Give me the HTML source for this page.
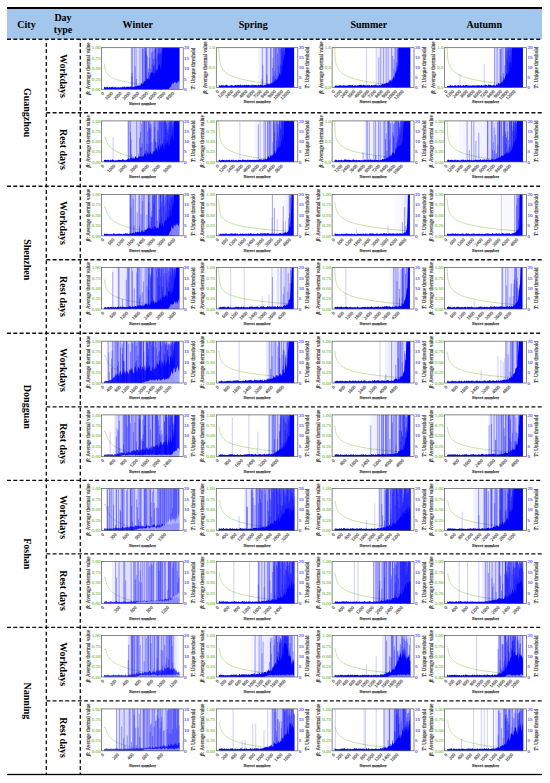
<!DOCTYPE html>
<html><head><meta charset="utf-8"><style>
html,body{margin:0;padding:0;background:#fff;width:550px;height:783px;overflow:hidden}
svg{display:block}
.d path{fill:none;stroke:#00f;stroke-width:.9;stroke-opacity:.4}
.d polygon{fill:#00f;stroke:none}
.d polygon.fl{fill:#fff}
.d path.ex{stroke-opacity:.22}
.gc{fill:none;stroke:#a2d46a;stroke-width:.65}
.lt{font-size:5px;fill:#7cc040;stroke:#9ad060;stroke-width:.15px;text-anchor:end}
.rt{font-size:5px;fill:#4646ff;stroke:#6a6aff;stroke-width:.15px}
.yl{font-size:5.2px;fill:#222;stroke:#555;stroke-width:.18px;text-anchor:middle}
.it{font-style:italic;font-weight:bold}
.xt{font-size:4.6px;fill:#333;stroke:#666;stroke-width:.2px;text-anchor:end}
.xl{font-size:4.8px;fill:#222;stroke:#444;stroke-width:.25px;text-anchor:middle}
</style></head><body>
<svg width="550" height="783" viewBox="0 0 550 783" font-family='"Liberation Serif", serif'>
<rect x="7" y="9.0" width="535" height="30.20" fill="#a3c7ec"/>
<rect x="7" y="7.0" width="535" height="2" fill="#000"/>
<rect x="7" y="773.85" width="535" height="1.3" fill="#000"/>
<text x="26.5" y="27.7" font-family='"Liberation Serif", serif' font-weight="bold" font-size="10" fill="#000" text-anchor="middle">City</text>
<text x="63" y="21.4" font-family='"Liberation Serif", serif' font-weight="bold" font-size="10" fill="#000" text-anchor="middle">Day</text>
<text x="63" y="32.6" font-family='"Liberation Serif", serif' font-weight="bold" font-size="10" fill="#000" text-anchor="middle">type</text>
<text x="137.8" y="27.7" font-family='"Liberation Serif", serif' font-weight="bold" font-size="10" fill="#000" text-anchor="middle">Winter</text>
<text x="253.2" y="27.7" font-family='"Liberation Serif", serif' font-weight="bold" font-size="10" fill="#000" text-anchor="middle">Spring</text>
<text x="368.8" y="27.7" font-family='"Liberation Serif", serif' font-weight="bold" font-size="10" fill="#000" text-anchor="middle">Summer</text>
<text x="484.2" y="27.7" font-family='"Liberation Serif", serif' font-weight="bold" font-size="10" fill="#000" text-anchor="middle">Autumn</text>
<line x1="7" y1="39.20" x2="542" y2="39.20" stroke="#111" stroke-width="1.35" stroke-dasharray="4 2.3"/>
<line x1="46.3" y1="112.72" x2="542" y2="112.72" stroke="#111" stroke-width="1.35" stroke-dasharray="4 2.3"/>
<line x1="7" y1="186.24" x2="542" y2="186.24" stroke="#111" stroke-width="1.35" stroke-dasharray="4 2.3"/>
<line x1="46.3" y1="259.76" x2="542" y2="259.76" stroke="#111" stroke-width="1.35" stroke-dasharray="4 2.3"/>
<line x1="7" y1="333.28" x2="542" y2="333.28" stroke="#111" stroke-width="1.35" stroke-dasharray="4 2.3"/>
<line x1="46.3" y1="406.80" x2="542" y2="406.80" stroke="#111" stroke-width="1.35" stroke-dasharray="4 2.3"/>
<line x1="7" y1="480.32" x2="542" y2="480.32" stroke="#111" stroke-width="1.35" stroke-dasharray="4 2.3"/>
<line x1="46.3" y1="553.84" x2="542" y2="553.84" stroke="#111" stroke-width="1.35" stroke-dasharray="4 2.3"/>
<line x1="7" y1="627.36" x2="542" y2="627.36" stroke="#111" stroke-width="1.35" stroke-dasharray="4 2.3"/>
<line x1="46.3" y1="700.88" x2="542" y2="700.88" stroke="#111" stroke-width="1.35" stroke-dasharray="4 2.3"/>
<line x1="46.30" y1="39.20" x2="46.30" y2="774.00" stroke="#111" stroke-width="1.35" stroke-dasharray="3.8 2.6" stroke-dashoffset="2.7"/>
<line x1="80.30" y1="39.20" x2="80.30" y2="774.00" stroke="#111" stroke-width="1.35" stroke-dasharray="3.8 2.6" stroke-dashoffset="2.7"/>
<text transform="translate(23.6,112.7) rotate(90)" font-family='"Liberation Serif", serif' font-weight="bold" font-size="10" fill="#000" text-anchor="middle">Guangzhou</text>
<text transform="translate(23.6,259.8) rotate(90)" font-family='"Liberation Serif", serif' font-weight="bold" font-size="10" fill="#000" text-anchor="middle">Shenzhen</text>
<text transform="translate(23.6,406.8) rotate(90)" font-family='"Liberation Serif", serif' font-weight="bold" font-size="10" fill="#000" text-anchor="middle">Dongguan</text>
<text transform="translate(23.6,553.8) rotate(90)" font-family='"Liberation Serif", serif' font-weight="bold" font-size="10" fill="#000" text-anchor="middle">Foshan</text>
<text transform="translate(23.6,700.9) rotate(90)" font-family='"Liberation Serif", serif' font-weight="bold" font-size="10" fill="#000" text-anchor="middle">Nanning</text>
<text transform="translate(60.0,76.0) rotate(90)" font-family='"Liberation Serif", serif' font-weight="bold" font-size="10" fill="#000" text-anchor="middle">Workdays</text>
<text transform="translate(60.0,149.5) rotate(90)" font-family='"Liberation Serif", serif' font-weight="bold" font-size="10" fill="#000" text-anchor="middle">Rest days</text>
<text transform="translate(60.0,223.0) rotate(90)" font-family='"Liberation Serif", serif' font-weight="bold" font-size="10" fill="#000" text-anchor="middle">Workdays</text>
<text transform="translate(60.0,296.5) rotate(90)" font-family='"Liberation Serif", serif' font-weight="bold" font-size="10" fill="#000" text-anchor="middle">Rest days</text>
<text transform="translate(60.0,370.0) rotate(90)" font-family='"Liberation Serif", serif' font-weight="bold" font-size="10" fill="#000" text-anchor="middle">Workdays</text>
<text transform="translate(60.0,443.6) rotate(90)" font-family='"Liberation Serif", serif' font-weight="bold" font-size="10" fill="#000" text-anchor="middle">Rest days</text>
<text transform="translate(60.0,517.1) rotate(90)" font-family='"Liberation Serif", serif' font-weight="bold" font-size="10" fill="#000" text-anchor="middle">Workdays</text>
<text transform="translate(60.0,590.6) rotate(90)" font-family='"Liberation Serif", serif' font-weight="bold" font-size="10" fill="#000" text-anchor="middle">Rest days</text>
<text transform="translate(60.0,664.1) rotate(90)" font-family='"Liberation Serif", serif' font-weight="bold" font-size="10" fill="#000" text-anchor="middle">Workdays</text>
<text transform="translate(60.0,737.6) rotate(90)" font-family='"Liberation Serif", serif' font-weight="bold" font-size="10" fill="#000" text-anchor="middle">Rest days</text>
<linearGradient id="w00"><stop offset="0.000" stop-color="#00f" stop-opacity="0.00"/><stop offset="0.340" stop-color="#00f" stop-opacity="0.00"/><stop offset="0.360" stop-color="#00f" stop-opacity="0.08"/><stop offset="0.450" stop-color="#00f" stop-opacity="0.12"/><stop offset="0.550" stop-color="#00f" stop-opacity="0.18"/><stop offset="0.650" stop-color="#00f" stop-opacity="0.23"/><stop offset="0.750" stop-color="#00f" stop-opacity="0.27"/></linearGradient>
<polyline points="104.0,63.5 104.7,66.5 104.7,66.8 104.7,67.1 104.8,67.3 104.8,67.6 104.9,67.8 104.9,68.1 105.0,68.4 105.0,68.6 105.1,68.9 105.2,69.2 105.2,69.4 105.3,69.7 105.4,69.9 105.5,70.2 105.6,70.5 105.7,70.7 105.8,71.0 105.9,71.2 106.0,71.5 106.1,71.8 106.2,72.0 106.4,72.3 106.5,72.6 106.7,72.8 106.8,73.1 107.0,73.3 107.2,73.6 107.4,73.9 107.6,74.1 107.8,74.4 108.1,74.6 108.3,74.9 108.6,75.2 108.9,75.4 109.2,75.7 109.5,76.0 109.8,76.2 110.2,76.5 110.6,76.7 111.0,77.0 111.4,77.3 111.9,77.5 112.4,77.8 112.9,78.1 113.5,78.3 114.1,78.6 114.7,78.8 115.4,79.1 116.1,79.4 116.9,79.6 117.7,79.9 118.5,80.1 119.5,80.4 120.4,80.7 121.5,80.9 122.6,81.2 123.7,81.5 125.0,81.7 126.3,82.0 127.7,82.2 129.2,82.5 130.8,82.8 132.4,83.0 134.2,83.3 136.1,83.6 138.1,83.8 140.3,84.1 142.6,84.3 145.0,84.6 147.6,84.9 150.3,85.1 153.3,85.4 156.4,85.6 159.7,85.9 163.2,86.2 166.9,86.4 170.8,86.7 175.1,87.0 179.5,87.2" class="gc"/>
<g transform="translate(101.60,89.30)" class="d">
<rect x="2.4" y="-41.6" width="75.5" height="41.6" fill="url(#w00)"/>
<polygon fill-opacity="1" points="2.4,0 2.4,-1.7 3.0,-2.5 3.5,-2.4 4.0,-1.8 4.5,-2.1 5.0,-2.1 5.5,-2.3 6.0,-2.5 6.5,-1.6 7.0,-1.6 7.5,-2.6 8.0,-2.1 8.5,-2.5 9.0,-1.5 9.5,-2.1 10.0,-2.5 10.5,-1.8 11.0,-2.8 11.5,-2.7 12.0,-1.6 12.5,-1.6 13.0,-2.3 13.5,-2.8 14.0,-2.1 14.5,-1.9 15.0,-2.1 15.5,-1.6 16.0,-1.9 16.5,-2.2 17.0,-2.2 17.5,-1.9 18.0,-1.9 18.6,-1.9 19.1,-2.2 19.6,-2.0 20.1,-1.6 20.6,-2.7 21.1,-2.4 21.6,-2.5 22.1,-1.9 22.6,-3.0 23.1,-2.8 23.6,-1.8 24.1,-2.1 24.6,-2.6 25.1,-2.6 25.6,-2.9 26.1,-2.2 26.6,-2.8 27.1,-2.6 27.6,-2.1 28.1,-2.5 28.6,-2.9 29.1,-2.9 29.6,-2.4 30.1,-2.5 30.6,-1.7 31.1,-2.0 31.6,-2.8 32.1,-2.3 32.6,-1.9 33.1,-2.6 33.6,-3.1 34.1,-3.2 34.7,-2.8 35.2,-3.1 35.7,-3.4 36.2,-4.1 36.7,-3.8 37.2,-3.7 37.7,-4.2 38.2,-3.2 38.7,-3.4 39.2,-5.4 39.7,-6.5 40.2,-5.6 40.7,-5.2 41.2,-4.7 41.7,-6.0 42.2,-8.4 42.7,-8.1 43.2,-7.7 43.7,-9.7 44.2,-7.2 44.7,-9.1 45.2,-12.1 45.7,-10.5 46.2,-10.3 46.7,-9.5 47.2,-11.8 47.7,-15.3 48.2,-8.9 48.7,-15.2 49.2,-16.1 49.7,-17.2 50.3,-16.6 50.8,-17.8 51.3,-15.7 51.8,-16.6 52.3,-15.8 52.8,-12.6 53.3,-21.3 53.8,-18.8 54.3,-15.4 54.8,-19.5 55.3,-20.0 55.8,-19.1 56.3,-19.7 56.8,-22.8 57.3,-24.7 57.8,-25.3 58.3,-23.9 58.8,-18.2 59.3,-22.1 59.8,-22.4 60.3,-30.5 60.8,-41.6 61.3,-41.6 61.8,-41.6 62.3,-41.6 62.8,-41.6 63.3,-41.6 63.8,-41.6 64.3,-41.6 64.8,-41.6 65.3,-41.6 65.9,-41.6 66.4,-41.6 66.9,-41.6 67.4,-41.6 67.9,-41.6 68.4,-41.6 68.9,-41.6 69.4,-41.6 69.9,-41.6 70.4,-41.6 70.9,-41.6 71.4,-41.6 71.9,-41.6 72.4,-41.6 72.9,-41.6 73.4,-41.6 73.9,-41.6 74.4,-41.6 74.9,-41.6 75.4,-41.6 75.9,-41.6 76.4,-41.6 76.9,-41.6 77.4,-41.6 77.9,-41.6 77.9,0"/>
<path d="M0 0m30.0 .0v-41.6m2.8 41.6v-41.6m5.5 41.6v-41.6m4.3 41.6v-41.6m1.8 41.6v-41.6m2.3 41.6v-17.3m2.3 17.3v-20.6m1.8 20.6v-41.6m1.3 41.6v-23.1m1.3 23.1v-40.0m1.0 40.0v-30.3m1.8 30.3v-35.9m1.0 35.9v-35.8m1.0 35.8v-35.6m1.0 35.6v-35.5m1.0 35.5v-38.7"/>
<path d="M0 0m30.3 .0v-12.9m3.3 12.9v-23.0m7.0 23.0v-41.6m2.8 41.6v-41.6m1.3 41.6v-35.2m2.3 35.2v-21.0m2.3 21.0v-41.6m2.0 41.6v-30.6m1.0 30.6v-30.6m1.3 30.6v-41.6m1.0 41.6v-41.6m1.8 41.6v-32.7m1.0 32.7v-41.0m1.0 41.0v-41.6m1.0 41.6v-37.3m1.0 37.3v-41.6"/>
<path d="M0 0m30.5 .0v-16.5m4.0 16.5v-41.6m6.5 41.6v-40.3m2.8 40.3v-41.6m1.0 41.6v-41.6m3.0 41.6v-41.6m2.3 41.6v-36.9m1.3 36.9v-38.2m1.0 38.2v-41.6m1.3 41.6v-41.6m1.0 41.6v-41.6m1.8 41.6v-41.6m1.0 41.6v-41.6m1.0 41.6v-35.9m1.0 35.9v-41.6m1.0 41.6v-41.4"/>
<path d="M0 0m30.8 .0v-41.6m4.0 41.6v-10.3m6.8 10.3v-40.7m2.5 40.7v-38.6m1.8 38.6v-33.0m2.3 33.0v-31.9m2.3 31.9v-25.0m1.3 25.0v-23.8m1.0 23.8v-25.2m1.3 25.2v-41.6m1.8 41.6v-41.6m1.0 41.6v-41.6m1.0 41.6v-41.6m1.0 41.6v-41.6m1.0 41.6v-41.6m1.0 41.6v-41.6"/>
<polygon class="fl" fill-opacity="0.5" points="2.4,0 2.4,0.0 3.0,-0.0 3.5,-0.0 4.0,-0.0 4.5,-0.0 5.0,-0.0 5.5,-0.0 6.0,-0.0 6.5,-0.0 7.0,-0.0 7.5,-0.0 8.0,-0.0 8.5,-0.0 9.0,-0.0 9.5,-0.0 10.0,-0.0 10.5,-0.0 11.0,-0.0 11.5,-0.0 12.0,-0.0 12.5,-0.0 13.0,-0.0 13.5,-0.0 14.0,-0.0 14.5,-0.0 15.0,-0.0 15.5,-0.0 16.0,-0.0 16.5,-0.0 17.0,-0.0 17.5,-0.0 18.0,-0.0 18.6,-0.0 19.1,-0.0 19.6,-0.0 20.1,-0.0 20.6,-0.0 21.1,-0.0 21.6,-0.0 22.1,-0.0 22.6,-0.0 23.1,-0.0 23.6,-0.0 24.1,-0.0 24.6,-0.0 25.1,-0.0 25.6,-0.0 26.1,-0.0 26.6,-0.0 27.1,-0.0 27.6,-0.0 28.1,-0.0 28.6,-0.0 29.1,-0.0 29.6,-0.0 30.1,-0.0 30.6,-0.0 31.1,-0.0 31.6,-0.0 32.1,-0.0 32.6,-0.0 33.1,-0.0 33.6,-0.0 34.1,-0.0 34.7,-0.0 35.2,-0.0 35.7,-0.0 36.2,-0.0 36.7,-0.0 37.2,-0.0 37.7,-0.0 38.2,-0.0 38.7,-0.0 39.2,-0.0 39.7,-0.0 40.2,-0.0 40.7,-0.0 41.2,-0.0 41.7,-0.0 42.2,-0.0 42.7,-0.0 43.2,-0.0 43.7,-0.0 44.2,-0.0 44.7,-0.0 45.2,-0.0 45.7,-0.0 46.2,-0.0 46.7,-0.0 47.2,-0.0 47.7,-0.0 48.2,-0.0 48.7,-0.0 49.2,-0.0 49.7,-0.0 50.3,-0.0 50.8,-0.0 51.3,-0.0 51.8,-0.0 52.3,-0.0 52.8,-0.0 53.3,-0.0 53.8,-0.0 54.3,-0.0 54.8,-0.0 55.3,-0.0 55.8,-0.0 56.3,-0.0 56.8,-0.0 57.3,-0.0 57.8,-0.0 58.3,-0.0 58.8,-0.0 59.3,-0.0 59.8,-0.0 60.3,-0.0 60.8,-0.0 61.3,-0.0 61.8,-0.0 62.3,-0.0 62.8,-0.0 63.3,-0.0 63.8,-0.0 64.3,-0.0 64.8,-0.0 65.3,-0.0 65.9,-0.0 66.4,-0.0 66.9,-0.2 67.4,-0.8 67.9,-1.5 68.4,-1.8 68.9,-2.8 69.4,-2.7 69.9,-4.4 70.4,-5.4 70.9,-5.8 71.4,-6.8 71.9,-5.7 72.4,-5.8 72.9,-7.6 73.4,-7.7 73.9,-7.1 74.4,-6.6 74.9,-6.4 75.4,-5.5 75.9,-9.0 76.4,-5.6 76.9,-8.7 77.4,-7.7 77.9,-9.8 78.5,0"/>
</g>
<rect x="101.60" y="47.70" width="81.60" height="41.60" fill="none" stroke="#555" stroke-width="0.7"/>
<text x="100.4" y="49.4" class="lt">1.00</text>
<text x="100.4" y="59.8" class="lt">0.75</text>
<text x="100.4" y="70.2" class="lt">0.50</text>
<text x="100.4" y="80.6" class="lt">0.25</text>
<text x="100.4" y="91.0" class="lt">0.00</text>
<text x="184.1" y="49.4" class="rt">20</text>
<text x="184.1" y="59.8" class="rt">15</text>
<text x="184.1" y="70.2" class="rt">10</text>
<text x="184.1" y="80.6" class="rt">5</text>
<text x="184.1" y="91.0" class="rt">0</text>
<text transform="translate(89.6,68.5) rotate(-90)" class="yl"><tspan class="it">β</tspan>: Average thermal value</text>
<text transform="translate(194.7,68.5) rotate(-90)" class="yl"><tspan class="it">T</tspan>: Unique threshold</text>
<text transform="translate(104.4,93.7) rotate(-45)" class="xt">0</text>
<text transform="translate(113.2,93.7) rotate(-45)" class="xt">1000</text>
<text transform="translate(121.9,93.7) rotate(-45)" class="xt">2000</text>
<text transform="translate(130.7,93.7) rotate(-45)" class="xt">3000</text>
<text transform="translate(139.4,93.7) rotate(-45)" class="xt">4000</text>
<text transform="translate(148.1,93.7) rotate(-45)" class="xt">5000</text>
<text transform="translate(156.9,93.7) rotate(-45)" class="xt">6000</text>
<text transform="translate(165.6,93.7) rotate(-45)" class="xt">7000</text>
<text transform="translate(174.3,93.7) rotate(-45)" class="xt">8000</text>
<text x="142.4" y="105.3" class="xl">Street number</text>
<linearGradient id="w01"><stop offset="0.000" stop-color="#00f" stop-opacity="0.00"/><stop offset="0.520" stop-color="#00f" stop-opacity="0.00"/><stop offset="0.530" stop-color="#00f" stop-opacity="0.05"/><stop offset="0.600" stop-color="#00f" stop-opacity="0.09"/><stop offset="0.700" stop-color="#00f" stop-opacity="0.14"/><stop offset="0.780" stop-color="#00f" stop-opacity="0.22"/><stop offset="0.850" stop-color="#00f" stop-opacity="0.27"/></linearGradient>
<polyline points="218.7,47.7 219.3,58.6 219.4,58.9 219.4,59.3 219.5,59.6 219.5,59.9 219.6,60.3 219.6,60.6 219.7,61.0 219.7,61.3 219.8,61.7 219.9,62.0 219.9,62.4 220.0,62.7 220.1,63.1 220.2,63.4 220.3,63.8 220.3,64.1 220.4,64.5 220.6,64.8 220.7,65.2 220.8,65.5 220.9,65.8 221.1,66.2 221.2,66.5 221.4,66.9 221.5,67.2 221.7,67.6 221.9,67.9 222.1,68.3 222.3,68.6 222.5,69.0 222.8,69.3 223.0,69.7 223.3,70.0 223.6,70.4 223.9,70.7 224.2,71.1 224.5,71.4 224.9,71.7 225.3,72.1 225.7,72.4 226.1,72.8 226.6,73.1 227.1,73.5 227.6,73.8 228.2,74.2 228.8,74.5 229.4,74.9 230.1,75.2 230.8,75.6 231.6,75.9 232.4,76.3 233.2,76.6 234.1,76.9 235.1,77.3 236.1,77.6 237.2,78.0 238.4,78.3 239.6,78.7 240.9,79.0 242.3,79.4 243.8,79.7 245.4,80.1 247.1,80.4 248.9,80.8 250.8,81.1 252.8,81.5 255.0,81.8 257.2,82.2 259.7,82.5 262.2,82.8 265.0,83.2 267.9,83.5 271.0,83.9 274.3,84.2 277.8,84.6 281.5,84.9 285.5,85.3 289.7,85.6 294.1,86.0" class="gc"/>
<g transform="translate(216.30,87.40)" class="d">
<rect x="2.4" y="-39.7" width="75.4" height="39.7" fill="url(#w01)"/>
<polygon fill-opacity="1" points="2.4,0 2.4,-2.5 2.9,-2.5 3.5,-1.5 4.0,-1.5 4.5,-2.4 5.0,-2.3 5.5,-2.2 6.0,-1.8 6.5,-2.2 7.0,-2.2 7.5,-2.1 8.0,-1.6 8.5,-2.0 9.0,-1.9 9.5,-2.3 10.0,-2.7 10.5,-2.6 11.0,-2.1 11.5,-2.0 12.0,-1.8 12.5,-1.5 13.0,-1.5 13.5,-2.0 14.0,-1.9 14.5,-1.9 15.0,-2.6 15.5,-2.1 16.0,-2.2 16.5,-1.8 17.0,-1.5 17.5,-1.9 18.0,-1.7 18.5,-2.1 19.0,-2.7 19.5,-2.3 20.0,-1.7 20.5,-2.6 21.0,-2.5 21.5,-2.4 22.0,-2.6 22.5,-2.5 23.1,-2.5 23.6,-2.0 24.1,-2.8 24.6,-2.7 25.1,-1.7 25.6,-2.5 26.1,-2.4 26.6,-2.1 27.1,-2.2 27.6,-2.2 28.1,-2.7 28.6,-2.2 29.1,-2.6 29.6,-2.0 30.1,-2.7 30.6,-2.7 31.1,-2.1 31.6,-2.3 32.1,-2.7 32.6,-2.5 33.1,-2.2 33.6,-1.8 34.1,-2.0 34.6,-2.5 35.1,-1.8 35.6,-2.8 36.1,-1.9 36.6,-2.8 37.1,-2.0 37.6,-2.8 38.1,-2.5 38.6,-2.2 39.1,-2.3 39.6,-2.4 40.1,-2.4 40.6,-2.0 41.1,-1.9 41.6,-2.3 42.1,-2.8 42.7,-2.4 43.2,-1.7 43.7,-2.7 44.2,-2.6 44.7,-2.8 45.2,-1.9 45.7,-2.6 46.2,-1.7 46.7,-2.5 47.2,-2.0 47.7,-1.9 48.2,-3.0 48.7,-2.0 49.2,-2.7 49.7,-3.4 50.2,-2.5 50.7,-2.6 51.2,-4.0 51.7,-3.2 52.2,-3.9 52.7,-2.6 53.2,-3.5 53.7,-3.1 54.2,-4.4 54.7,-3.1 55.2,-5.5 55.7,-3.4 56.2,-6.0 56.7,-4.1 57.2,-5.3 57.7,-7.9 58.2,-5.7 58.7,-6.2 59.2,-9.0 59.7,-8.0 60.2,-6.6 60.7,-12.3 61.2,-8.0 61.7,-7.9 62.3,-10.6 62.8,-13.3 63.3,-15.1 63.8,-10.8 64.3,-13.4 64.8,-11.3 65.3,-15.9 65.8,-19.9 66.3,-22.3 66.8,-27.0 67.3,-27.7 67.8,-32.0 68.3,-32.1 68.8,-39.7 69.3,-39.7 69.8,-39.7 70.3,-39.7 70.8,-39.7 71.3,-39.7 71.8,-39.7 72.3,-39.7 72.8,-39.7 73.3,-39.7 73.8,-39.7 74.3,-39.7 74.8,-39.7 75.3,-39.7 75.8,-39.7 76.3,-39.7 76.8,-39.7 77.3,-39.7 77.8,-39.7 77.8,0"/>
<path d="M0 0m45.8 .0v-8.3m4.8 8.3v-12.8m5.8 12.8v-19.4m1.5 19.4v-11.6m1.8 11.6v-39.7m2.3 39.7v-21.7m2.0 21.7v-38.1m1.0 38.1v-39.5m1.0 39.5v-39.7m1.0 39.7v-39.7m1.0 39.7v-39.3"/>
<path d="M0 0m46.0 .0v-39.7m4.8 39.7v-39.7m5.8 39.7v-10.9m1.5 10.9v-39.7m1.8 39.7v-39.7m2.3 39.7v-39.7m2.0 39.7v-21.9m1.0 21.9v-39.7m1.0 39.7v-36.3m1.0 36.3v-39.7m1.0 39.7v-39.7"/>
<path d="M0 0m46.5 .0v-21.7m7.8 21.7v-39.7m2.5 39.7v-29.3m1.8 29.3v-16.0m2.5 16.0v-33.9m2.3 33.9v-39.7m1.0 39.7v-23.4m1.0 23.4v-39.7m1.0 39.7v-39.7m1.0 39.7v-37.1"/>
<path d="M0 0m50.0 .0v-39.7m4.8 39.7v-39.7m2.3 39.7v-39.7m2.0 39.7v-39.7m2.5 39.7v-39.7m2.0 39.7v-39.7m1.0 39.7v-39.7m1.0 39.7v-30.5m1.0 30.5v-39.7m1.0 39.7v-39.7"/>
</g>
<rect x="216.30" y="47.70" width="81.50" height="39.70" fill="none" stroke="#555" stroke-width="0.7"/>
<text x="215.1" y="49.4" class="lt">1.0</text>
<text x="215.1" y="69.3" class="lt">0.5</text>
<text x="215.1" y="89.1" class="lt">0.0</text>
<text x="298.7" y="49.4" class="rt">20</text>
<text x="298.7" y="59.3" class="rt">15</text>
<text x="298.7" y="69.3" class="rt">10</text>
<text x="298.7" y="79.2" class="rt">5</text>
<text x="298.7" y="89.1" class="rt">0</text>
<text transform="translate(206.7,67.6) rotate(-90)" class="yl"><tspan class="it">β</tspan>: Average thermal value</text>
<text transform="translate(309.3,67.6) rotate(-90)" class="yl"><tspan class="it">T</tspan>: Unique threshold</text>
<text transform="translate(219.1,91.8) rotate(-45)" class="xt">0</text>
<text transform="translate(226.3,91.8) rotate(-45)" class="xt">1200</text>
<text transform="translate(233.4,91.8) rotate(-45)" class="xt">2400</text>
<text transform="translate(240.5,91.8) rotate(-45)" class="xt">3600</text>
<text transform="translate(247.6,91.8) rotate(-45)" class="xt">4800</text>
<text transform="translate(254.8,91.8) rotate(-45)" class="xt">6000</text>
<text transform="translate(261.9,91.8) rotate(-45)" class="xt">7200</text>
<text transform="translate(269.0,91.8) rotate(-45)" class="xt">8400</text>
<text transform="translate(276.1,91.8) rotate(-45)" class="xt">9600</text>
<text transform="translate(283.3,91.8) rotate(-45)" class="xt">10800</text>
<text transform="translate(290.4,91.8) rotate(-45)" class="xt">12000</text>
<text x="257.1" y="103.4" class="xl">Street number</text>
<linearGradient id="w02"><stop offset="0.000" stop-color="#00f" stop-opacity="0.00"/><stop offset="0.540" stop-color="#00f" stop-opacity="0.00"/><stop offset="0.550" stop-color="#00f" stop-opacity="0.03"/><stop offset="0.600" stop-color="#00f" stop-opacity="0.09"/><stop offset="0.720" stop-color="#00f" stop-opacity="0.10"/><stop offset="0.800" stop-color="#00f" stop-opacity="0.18"/><stop offset="0.860" stop-color="#00f" stop-opacity="0.30"/></linearGradient>
<polyline points="334.6,47.7 335.2,58.5 335.2,58.9 335.2,59.2 335.3,59.6 335.3,60.0 335.4,60.3 335.4,60.7 335.5,61.0 335.5,61.4 335.6,61.7 335.7,62.1 335.7,62.4 335.8,62.8 335.9,63.1 336.0,63.5 336.1,63.9 336.2,64.2 336.3,64.6 336.4,64.9 336.5,65.3 336.6,65.6 336.7,66.0 336.9,66.3 337.0,66.7 337.2,67.0 337.4,67.4 337.5,67.8 337.7,68.1 337.9,68.5 338.1,68.8 338.3,69.2 338.6,69.5 338.8,69.9 339.1,70.2 339.4,70.6 339.7,70.9 340.0,71.3 340.4,71.6 340.7,72.0 341.1,72.4 341.5,72.7 342.0,73.1 342.5,73.4 342.9,73.8 343.5,74.1 344.0,74.5 344.6,74.8 345.3,75.2 345.9,75.5 346.7,75.9 347.4,76.3 348.2,76.6 349.1,77.0 350.0,77.3 351.0,77.7 352.0,78.0 353.1,78.4 354.3,78.7 355.5,79.1 356.9,79.4 358.3,79.8 359.8,80.2 361.4,80.5 363.0,80.9 364.8,81.2 366.8,81.6 368.8,81.9 370.9,82.3 373.2,82.6 375.7,83.0 378.3,83.3 381.0,83.7 383.9,84.0 387.1,84.4 390.4,84.8 393.9,85.1 397.6,85.5 401.6,85.8 405.8,86.2 410.3,86.5" class="gc"/>
<g transform="translate(332.10,87.40)" class="d">
<rect x="2.5" y="-39.7" width="75.8" height="39.7" fill="url(#w02)"/>
<polygon fill-opacity="1" points="2.5,0 2.5,-1.6 3.0,-1.9 3.5,-1.7 4.0,-2.0 4.5,-2.0 5.0,-1.4 5.5,-1.3 6.0,-2.2 6.5,-1.6 7.0,-1.6 7.5,-2.4 8.0,-1.8 8.5,-2.2 9.0,-1.8 9.5,-2.0 10.0,-1.5 10.5,-2.0 11.0,-2.3 11.5,-1.9 12.0,-2.1 12.5,-2.0 13.0,-1.4 13.5,-2.1 14.0,-2.0 14.5,-1.7 15.0,-1.4 15.5,-2.3 16.0,-1.9 16.5,-2.1 17.0,-2.3 17.5,-2.2 18.0,-2.4 18.5,-1.8 19.0,-2.3 19.5,-1.9 20.0,-2.4 20.5,-2.4 21.0,-1.5 21.5,-1.5 22.0,-1.6 22.5,-2.5 23.0,-1.9 23.5,-2.1 24.0,-1.8 24.5,-2.0 25.0,-1.9 25.5,-1.8 26.0,-2.1 26.5,-2.1 27.0,-2.5 27.5,-2.3 28.0,-2.6 28.5,-2.5 29.0,-2.7 29.5,-2.3 30.1,-1.7 30.6,-2.5 31.1,-2.7 31.6,-2.6 32.1,-2.2 32.6,-2.4 33.1,-1.7 33.6,-2.5 34.1,-2.2 34.6,-1.9 35.1,-1.6 35.6,-2.6 36.1,-2.8 36.6,-1.6 37.1,-2.5 37.6,-2.1 38.1,-1.7 38.6,-1.9 39.1,-2.5 39.6,-2.7 40.1,-1.6 40.6,-2.4 41.1,-1.6 41.6,-2.5 42.1,-2.0 42.6,-2.7 43.1,-2.9 43.6,-2.2 44.1,-2.9 44.6,-2.0 45.1,-1.7 45.6,-2.4 46.1,-1.6 46.6,-1.9 47.1,-2.2 47.6,-2.4 48.1,-1.9 48.6,-1.8 49.1,-3.2 49.6,-2.4 50.1,-3.7 50.6,-3.7 51.1,-2.9 51.6,-3.2 52.1,-3.5 52.6,-3.8 53.1,-3.9 53.6,-3.9 54.1,-4.2 54.6,-5.1 55.1,-4.2 55.6,-4.3 56.1,-5.6 56.6,-4.6 57.1,-5.2 57.6,-8.1 58.1,-6.9 58.6,-7.5 59.1,-5.5 59.7,-7.8 60.2,-9.1 60.7,-6.6 61.2,-10.3 61.7,-11.1 62.2,-8.5 62.7,-13.6 63.2,-13.6 63.7,-16.6 64.2,-14.8 64.7,-19.9 65.2,-23.5 65.7,-16.8 66.2,-19.5 66.7,-39.7 67.2,-39.7 67.7,-39.7 68.2,-39.7 68.7,-39.7 69.2,-39.7 69.7,-39.7 70.2,-39.7 70.7,-39.7 71.2,-39.7 71.7,-39.7 72.2,-39.7 72.7,-39.7 73.2,-39.7 73.7,-39.7 74.2,-39.7 74.7,-39.7 75.2,-39.7 75.7,-39.7 76.2,-39.7 76.7,-39.7 77.2,-39.7 77.7,-39.7 78.2,-39.7 78.2,0"/>
<path class="ex" d="M34.3 0v-39.7M44.1 0v-39.7"/>
<path d="M0 0m46.7 .0v-30.0m9.3 30.0v-39.7m6.0 39.7v-28.1m3.5 28.1v-38.5m1.0 38.5v-39.7"/>
<path d="M0 0m48.7 .0v-39.7m10.8 39.7v-39.7m3.5 39.7v-39.7m2.8 39.7v-39.7"/>
<path d="M0 0m51.5 .0v-39.7m9.0 39.7v-31.4m3.5 31.4v-39.7m2.0 39.7v-39.7"/>
<path d="M0 0m54.0 .0v-39.7m7.8 39.7v-18.8m2.5 18.8v-25.5m2.0 25.5v-39.7"/>
</g>
<rect x="332.10" y="47.70" width="81.90" height="39.70" fill="none" stroke="#555" stroke-width="0.7"/>
<text x="330.9" y="49.4" class="lt">1.0</text>
<text x="330.9" y="69.3" class="lt">0.5</text>
<text x="330.9" y="89.1" class="lt">0.0</text>
<text x="414.9" y="49.4" class="rt">20</text>
<text x="414.9" y="59.3" class="rt">15</text>
<text x="414.9" y="69.3" class="rt">10</text>
<text x="414.9" y="79.2" class="rt">5</text>
<text x="414.9" y="89.1" class="rt">0</text>
<text transform="translate(322.5,67.6) rotate(-90)" class="yl"><tspan class="it">β</tspan>: Average thermal value</text>
<text transform="translate(425.5,67.6) rotate(-90)" class="yl"><tspan class="it">T</tspan>: Unique threshold</text>
<text transform="translate(335.0,91.8) rotate(-45)" class="xt">0</text>
<text transform="translate(341.9,91.8) rotate(-45)" class="xt">1200</text>
<text transform="translate(348.7,91.8) rotate(-45)" class="xt">2400</text>
<text transform="translate(355.6,91.8) rotate(-45)" class="xt">3600</text>
<text transform="translate(362.5,91.8) rotate(-45)" class="xt">4800</text>
<text transform="translate(369.4,91.8) rotate(-45)" class="xt">6000</text>
<text transform="translate(376.3,91.8) rotate(-45)" class="xt">7200</text>
<text transform="translate(383.2,91.8) rotate(-45)" class="xt">8400</text>
<text transform="translate(390.1,91.8) rotate(-45)" class="xt">9600</text>
<text transform="translate(397.0,91.8) rotate(-45)" class="xt">10800</text>
<text transform="translate(403.9,91.8) rotate(-45)" class="xt">12000</text>
<text x="373.1" y="103.4" class="xl">Street number</text>
<linearGradient id="w03"><stop offset="0.000" stop-color="#00f" stop-opacity="0.00"/><stop offset="0.610" stop-color="#00f" stop-opacity="0.00"/><stop offset="0.620" stop-color="#00f" stop-opacity="0.10"/><stop offset="0.700" stop-color="#00f" stop-opacity="0.15"/><stop offset="0.750" stop-color="#00f" stop-opacity="0.20"/><stop offset="0.800" stop-color="#00f" stop-opacity="0.27"/></linearGradient>
<polyline points="447.1,47.7 447.7,57.1 447.7,57.4 447.7,57.8 447.8,58.2 447.8,58.5 447.9,58.9 447.9,59.2 448.0,59.6 448.0,60.0 448.1,60.3 448.2,60.7 448.2,61.1 448.3,61.4 448.4,61.8 448.5,62.2 448.6,62.5 448.7,62.9 448.8,63.2 448.9,63.6 449.0,64.0 449.1,64.3 449.3,64.7 449.4,65.1 449.5,65.4 449.7,65.8 449.9,66.2 450.0,66.5 450.2,66.9 450.4,67.3 450.6,67.6 450.9,68.0 451.1,68.3 451.3,68.7 451.6,69.1 451.9,69.4 452.2,69.8 452.5,70.2 452.9,70.5 453.2,70.9 453.6,71.3 454.1,71.6 454.5,72.0 455.0,72.3 455.5,72.7 456.0,73.1 456.6,73.4 457.2,73.8 457.8,74.2 458.5,74.5 459.2,74.9 459.9,75.3 460.8,75.6 461.6,76.0 462.5,76.3 463.5,76.7 464.6,77.1 465.7,77.4 466.8,77.8 468.1,78.2 469.4,78.5 470.8,78.9 472.3,79.3 473.9,79.6 475.6,80.0 477.4,80.4 479.3,80.7 481.3,81.1 483.5,81.4 485.8,81.8 488.2,82.2 490.8,82.5 493.6,82.9 496.5,83.3 499.6,83.6 502.9,84.0 506.5,84.4 510.2,84.7 514.2,85.1 518.4,85.4 522.9,85.8" class="gc"/>
<g transform="translate(444.60,87.40)" class="d">
<rect x="2.5" y="-39.7" width="75.9" height="39.7" fill="url(#w03)"/>
<polygon fill-opacity="1" points="2.5,0 2.5,-1.6 3.0,-1.4 3.5,-1.7 4.0,-1.5 4.5,-1.4 5.0,-1.7 5.5,-2.3 6.0,-2.2 6.5,-2.1 7.0,-1.6 7.5,-1.9 8.0,-1.6 8.5,-1.5 9.0,-1.4 9.5,-1.5 10.0,-2.3 10.5,-2.2 11.0,-2.2 11.5,-2.2 12.0,-1.5 12.5,-1.6 13.0,-2.0 13.5,-2.1 14.0,-2.2 14.5,-2.3 15.0,-1.4 15.5,-2.0 16.0,-2.1 16.5,-1.9 17.0,-1.5 17.5,-1.9 18.0,-1.4 18.5,-2.4 19.0,-2.3 19.5,-2.0 20.0,-1.7 20.5,-2.4 21.0,-2.0 21.5,-2.4 22.1,-2.4 22.6,-2.0 23.1,-1.9 23.6,-2.1 24.1,-1.9 24.6,-1.6 25.1,-1.8 25.6,-2.4 26.1,-1.5 26.6,-1.5 27.1,-2.2 27.6,-1.8 28.1,-2.1 28.6,-2.0 29.1,-1.8 29.6,-2.6 30.1,-1.7 30.6,-1.9 31.1,-1.7 31.6,-2.2 32.1,-1.8 32.6,-1.9 33.1,-2.4 33.6,-1.9 34.1,-2.2 34.6,-2.6 35.1,-1.6 35.6,-1.6 36.1,-1.8 36.6,-2.5 37.1,-2.3 37.6,-1.8 38.1,-1.9 38.6,-1.7 39.1,-2.1 39.6,-1.6 40.1,-2.4 40.6,-2.7 41.1,-2.8 41.6,-2.5 42.1,-2.8 42.6,-1.6 43.1,-1.9 43.7,-2.8 44.2,-2.6 44.7,-2.1 45.2,-2.8 45.7,-2.4 46.2,-2.7 46.7,-2.0 47.2,-1.8 47.7,-2.2 48.2,-1.8 48.7,-2.1 49.2,-2.9 49.7,-2.1 50.2,-1.6 50.7,-1.7 51.2,-1.9 51.7,-3.1 52.2,-2.7 52.7,-2.9 53.2,-2.7 53.7,-4.9 54.2,-3.9 54.7,-3.6 55.2,-3.5 55.7,-3.7 56.2,-4.2 56.7,-6.1 57.2,-4.7 57.7,-4.8 58.2,-7.1 58.7,-6.7 59.2,-10.9 59.7,-7.1 60.2,-9.9 60.7,-12.0 61.2,-10.4 61.7,-15.1 62.2,-12.7 62.7,-11.9 63.2,-14.3 63.7,-11.8 64.2,-16.6 64.7,-15.8 65.2,-24.2 65.8,-25.9 66.3,-24.0 66.8,-19.1 67.3,-39.7 67.8,-39.7 68.3,-39.7 68.8,-39.7 69.3,-39.7 69.8,-39.7 70.3,-39.7 70.8,-39.7 71.3,-39.7 71.8,-39.7 72.3,-39.7 72.8,-39.7 73.3,-39.7 73.8,-39.7 74.3,-39.7 74.8,-39.7 75.3,-39.7 75.8,-39.7 76.3,-39.7 76.8,-39.7 77.3,-39.7 77.8,-39.7 78.3,-39.7 78.3,0"/>
<path class="ex" d="M15.4 0v-13.5M39.6 0v-23.8"/>
<path d="M0 0m50.0 .0v-39.7m6.3 39.7v-11.5m4.0 11.5v-22.2m1.8 22.2v-39.7m1.0 39.7v-26.4m1.0 26.4v-39.7m1.0 39.7v-39.7m1.0 39.7v-31.9m1.0 31.9v-39.7"/>
<path d="M0 0m52.5 .0v-39.7m4.5 39.7v-39.7m4.0 39.7v-39.7m1.3 39.7v-29.3m1.0 29.3v-39.7m1.0 39.7v-25.3m1.0 25.3v-39.7m1.0 39.7v-39.7"/>
<path d="M0 0m55.5 .0v-38.3m2.8 38.3v-39.7m3.0 39.7v-39.7m1.3 39.7v-36.1m1.0 36.1v-39.7m1.0 39.7v-39.7m1.0 39.7v-39.7m1.0 39.7v-37.4"/>
<path d="M0 0m55.8 .0v-38.4m3.0 38.4v-14.3m2.8 14.3v-39.7m1.3 39.7v-39.7m1.0 39.7v-37.7m1.0 37.7v-31.7m1.0 31.7v-39.7m1.0 39.7v-39.7"/>
</g>
<rect x="444.60" y="47.70" width="82.00" height="39.70" fill="none" stroke="#555" stroke-width="0.7"/>
<text x="443.4" y="49.4" class="lt">1.0</text>
<text x="443.4" y="69.3" class="lt">0.5</text>
<text x="443.4" y="89.1" class="lt">0.0</text>
<text x="527.5" y="49.4" class="rt">20</text>
<text x="527.5" y="59.3" class="rt">15</text>
<text x="527.5" y="69.3" class="rt">10</text>
<text x="527.5" y="79.2" class="rt">5</text>
<text x="527.5" y="89.1" class="rt">0</text>
<text transform="translate(435.0,67.6) rotate(-90)" class="yl"><tspan class="it">β</tspan>: Average thermal value</text>
<text transform="translate(538.1,67.6) rotate(-90)" class="yl"><tspan class="it">T</tspan>: Unique threshold</text>
<text transform="translate(447.5,91.8) rotate(-45)" class="xt">0</text>
<text transform="translate(454.3,91.8) rotate(-45)" class="xt">1200</text>
<text transform="translate(461.1,91.8) rotate(-45)" class="xt">2400</text>
<text transform="translate(467.9,91.8) rotate(-45)" class="xt">3600</text>
<text transform="translate(474.8,91.8) rotate(-45)" class="xt">4800</text>
<text transform="translate(481.6,91.8) rotate(-45)" class="xt">6000</text>
<text transform="translate(488.4,91.8) rotate(-45)" class="xt">7200</text>
<text transform="translate(495.2,91.8) rotate(-45)" class="xt">8400</text>
<text transform="translate(502.1,91.8) rotate(-45)" class="xt">9600</text>
<text transform="translate(508.9,91.8) rotate(-45)" class="xt">10800</text>
<text transform="translate(515.7,91.8) rotate(-45)" class="xt">12000</text>
<text x="485.6" y="103.4" class="xl">Street number</text>
<linearGradient id="w10"><stop offset="0.000" stop-color="#00f" stop-opacity="0.00"/><stop offset="0.310" stop-color="#00f" stop-opacity="0.00"/><stop offset="0.320" stop-color="#00f" stop-opacity="0.15"/><stop offset="0.550" stop-color="#00f" stop-opacity="0.20"/><stop offset="0.760" stop-color="#00f" stop-opacity="0.23"/><stop offset="0.900" stop-color="#00f" stop-opacity="0.28"/></linearGradient>
<polyline points="104.0,137.3 104.7,137.3 104.7,137.3 104.7,137.3 104.8,137.3 104.8,137.3 104.9,137.3 104.9,137.3 105.0,137.3 105.0,137.3 105.1,137.3 105.2,137.3 105.2,137.3 105.3,137.3 105.4,137.3 105.5,137.6 105.6,138.0 105.7,138.4 105.8,138.8 105.9,139.2 106.0,139.6 106.1,139.9 106.2,140.3 106.4,140.7 106.5,141.1 106.7,141.5 106.8,141.9 107.0,142.3 107.2,142.7 107.4,143.1 107.6,143.5 107.8,143.9 108.1,144.2 108.3,144.6 108.6,145.0 108.9,145.4 109.2,145.8 109.5,146.2 109.8,146.6 110.2,147.0 110.6,147.4 111.0,147.8 111.4,148.2 111.9,148.5 112.4,148.9 112.9,149.3 113.5,149.7 114.1,150.1 114.7,150.5 115.4,150.9 116.1,151.3 116.9,151.7 117.7,152.1 118.5,152.5 119.5,152.8 120.4,153.2 121.5,153.6 122.6,154.0 123.7,154.4 125.0,154.8 126.3,155.2 127.7,155.6 129.2,156.0 130.8,156.4 132.4,156.8 134.2,157.1 136.1,157.5 138.1,157.9 140.3,158.3 142.6,158.7 145.0,159.1 147.6,159.5 150.3,159.9 153.3,160.3 156.4,160.7 159.7,161.1 163.2,161.4 166.9,161.8 170.8,161.9 175.1,161.9 179.5,161.9" class="gc"/>
<g transform="translate(101.60,161.90)" class="d">
<rect x="2.4" y="-41.0" width="75.5" height="41.0" fill="url(#w10)"/>
<polygon fill-opacity="1" points="2.4,0 2.4,-1.9 3.0,-2.0 3.5,-2.4 4.0,-1.9 4.5,-1.9 5.0,-2.0 5.5,-1.6 6.0,-1.9 6.5,-2.1 7.0,-2.2 7.5,-1.5 8.0,-1.7 8.5,-1.5 9.0,-2.3 9.5,-2.1 10.0,-1.4 10.5,-2.5 11.0,-2.4 11.5,-2.1 12.0,-2.0 12.5,-1.5 13.0,-1.4 13.5,-2.0 14.0,-1.4 14.5,-1.6 15.0,-1.6 15.5,-1.4 16.0,-1.9 16.5,-1.9 17.0,-2.4 17.5,-2.0 18.0,-2.1 18.6,-2.0 19.1,-2.2 19.6,-2.0 20.1,-1.7 20.6,-2.6 21.1,-2.6 21.6,-2.4 22.1,-2.3 22.6,-1.8 23.1,-1.7 23.6,-1.8 24.1,-1.5 24.6,-2.4 25.1,-2.0 25.6,-2.9 26.1,-2.5 26.6,-3.8 27.1,-3.7 27.6,-2.2 28.1,-2.7 28.6,-4.2 29.1,-3.4 29.6,-4.6 30.1,-3.5 30.6,-2.9 31.1,-4.3 31.6,-4.7 32.1,-3.6 32.6,-3.2 33.1,-4.0 33.6,-5.7 34.1,-5.3 34.7,-3.7 35.2,-4.1 35.7,-3.8 36.2,-3.7 36.7,-6.1 37.2,-4.3 37.7,-5.6 38.2,-5.3 38.7,-4.6 39.2,-6.5 39.7,-4.6 40.2,-6.4 40.7,-4.7 41.2,-6.0 41.7,-5.4 42.2,-5.8 42.7,-8.8 43.2,-8.4 43.7,-6.5 44.2,-9.2 44.7,-6.4 45.2,-7.4 45.7,-9.8 46.2,-9.0 46.7,-6.5 47.2,-11.2 47.7,-7.4 48.2,-7.8 48.7,-10.8 49.2,-8.5 49.7,-8.5 50.3,-7.4 50.8,-7.6 51.3,-10.8 51.8,-8.9 52.3,-11.4 52.8,-10.2 53.3,-11.0 53.8,-14.7 54.3,-11.7 54.8,-12.6 55.3,-15.0 55.8,-10.3 56.3,-10.3 56.8,-16.3 57.3,-15.9 57.8,-11.6 58.3,-11.4 58.8,-16.2 59.3,-18.2 59.8,-12.1 60.3,-18.9 60.8,-18.7 61.3,-16.4 61.8,-15.0 62.3,-12.3 62.8,-11.9 63.3,-21.4 63.8,-14.6 64.3,-19.9 64.8,-15.7 65.3,-22.3 65.9,-20.3 66.4,-17.3 66.9,-16.4 67.4,-23.4 67.9,-15.8 68.4,-18.3 68.9,-23.0 69.4,-27.4 69.9,-24.8 70.4,-20.6 70.9,-31.5 71.4,-22.2 71.9,-20.4 72.4,-41.0 72.9,-41.0 73.4,-41.0 73.9,-41.0 74.4,-41.0 74.9,-41.0 75.4,-41.0 75.9,-41.0 76.4,-41.0 76.9,-41.0 77.4,-41.0 77.9,-41.0 77.9,0"/>
<path class="ex" d="M11.5 0v-24.6"/>
<path d="M0 0m26.5 .0v-41.0m3.0 41.0v-22.4m8.3 22.4v-24.1m2.0 24.1v-14.6m2.3 14.6v-41.0m1.5 41.0v-41.0m1.5 41.0v-18.0m2.0 18.0v-41.0m1.3 41.0v-38.3m2.0 38.3v-19.3m2.8 19.3v-35.1m1.3 35.1v-41.0m2.0 41.0v-30.8m1.5 30.8v-41.0m1.8 41.0v-41.0m1.5 41.0v-41.0m1.0 41.0v-41.0m1.0 41.0v-41.0m1.0 41.0v-33.2m1.0 33.2v-29.0m1.3 29.0v-41.0m1.0 41.0v-34.9m1.0 34.9v-41.0m1.0 41.0v-41.0m1.0 41.0v-34.4m1.0 34.4v-39.9"/>
<path d="M0 0m27.3 .0v-41.0m2.8 41.0v-7.8m8.5 7.8v-41.0m1.5 41.0v-38.2m2.3 38.2v-41.0m1.5 41.0v-11.5m1.5 11.5v-41.0m2.0 41.0v-17.3m1.3 17.3v-33.2m3.0 33.2v-40.5m1.8 40.5v-41.0m2.3 41.0v-19.4m1.0 19.4v-41.0m1.5 41.0v-41.0m1.8 41.0v-39.4m1.5 39.4v-39.5m1.0 39.5v-24.2m1.0 24.2v-41.0m1.0 41.0v-38.7m1.3 38.7v-41.0m1.0 41.0v-28.0m1.0 28.0v-41.0m1.0 41.0v-41.0m1.0 41.0v-41.0m1.0 41.0v-36.8m1.0 36.8v-39.4"/>
<path d="M0 0m28.8 .0v-41.0m6.3 41.0v-40.8m3.8 40.8v-14.5m1.8 14.5v-18.7m2.0 18.7v-41.0m2.0 41.0v-11.2m1.3 11.2v-30.7m1.8 30.7v-41.0m1.3 41.0v-41.0m3.3 41.0v-23.2m1.8 23.2v-20.4m2.0 20.4v-41.0m1.5 41.0v-40.3m1.3 40.3v-41.0m1.5 41.0v-41.0m1.5 41.0v-22.1m1.0 22.1v-41.0m1.0 41.0v-41.0m1.0 41.0v-38.0m1.3 38.0v-30.4m1.0 30.4v-39.9m1.0 39.9v-41.0m1.0 41.0v-40.3m1.0 40.3v-41.0m1.0 41.0v-41.0m1.0 41.0v-41.0"/>
<path d="M0 0m29.0 .0v-30.2m8.0 30.2v-8.3m2.0 8.3v-29.7m1.8 29.7v-41.0m2.5 41.0v-40.4m1.5 40.4v-41.0m2.0 41.0v-41.0m1.3 41.0v-34.0m1.5 34.0v-37.7m3.3 37.7v-41.0m1.3 41.0v-19.7m2.0 19.7v-32.6m1.5 32.6v-23.2m1.5 23.2v-41.0m1.3 41.0v-41.0m1.5 41.0v-41.0m1.0 41.0v-41.0m1.0 41.0v-41.0m1.0 41.0v-41.0m1.3 41.0v-32.9m1.0 32.9v-41.0m1.0 41.0v-35.6m1.0 35.6v-41.0m1.0 41.0v-32.6m1.0 32.6v-41.0m1.0 41.0v-40.7"/>
</g>
<rect x="101.60" y="120.90" width="81.60" height="41.00" fill="none" stroke="#555" stroke-width="0.7"/>
<text x="100.4" y="122.6" class="lt">1.00</text>
<text x="100.4" y="132.8" class="lt">0.75</text>
<text x="100.4" y="143.1" class="lt">0.50</text>
<text x="100.4" y="153.3" class="lt">0.25</text>
<text x="100.4" y="163.6" class="lt">0.00</text>
<text x="184.1" y="122.6" class="rt">20</text>
<text x="184.1" y="132.8" class="rt">15</text>
<text x="184.1" y="143.1" class="rt">10</text>
<text x="184.1" y="153.3" class="rt">5</text>
<text x="184.1" y="163.6" class="rt">0</text>
<text transform="translate(89.6,141.4) rotate(-90)" class="yl"><tspan class="it">β</tspan>: Average thermal value</text>
<text transform="translate(194.7,141.4) rotate(-90)" class="yl"><tspan class="it">T</tspan>: Unique threshold</text>
<text transform="translate(104.4,166.3) rotate(-45)" class="xt">0</text>
<text transform="translate(115.6,166.3) rotate(-45)" class="xt">1000</text>
<text transform="translate(126.8,166.3) rotate(-45)" class="xt">2000</text>
<text transform="translate(138.0,166.3) rotate(-45)" class="xt">3000</text>
<text transform="translate(149.2,166.3) rotate(-45)" class="xt">4000</text>
<text transform="translate(160.4,166.3) rotate(-45)" class="xt">5000</text>
<text transform="translate(171.6,166.3) rotate(-45)" class="xt">6000</text>
<text x="142.4" y="177.9" class="xl">Street number</text>
<linearGradient id="w11"><stop offset="0.000" stop-color="#00f" stop-opacity="0.00"/><stop offset="0.470" stop-color="#00f" stop-opacity="0.00"/><stop offset="0.480" stop-color="#00f" stop-opacity="0.03"/><stop offset="0.600" stop-color="#00f" stop-opacity="0.08"/><stop offset="0.680" stop-color="#00f" stop-opacity="0.14"/><stop offset="0.760" stop-color="#00f" stop-opacity="0.22"/><stop offset="0.840" stop-color="#00f" stop-opacity="0.27"/></linearGradient>
<polyline points="218.7,120.9 219.3,133.9 219.4,134.2 219.4,134.6 219.5,134.9 219.5,135.3 219.6,135.6 219.6,136.0 219.7,136.3 219.7,136.7 219.8,137.0 219.9,137.4 219.9,137.7 220.0,138.1 220.1,138.4 220.2,138.8 220.3,139.1 220.3,139.5 220.4,139.8 220.6,140.2 220.7,140.5 220.8,140.9 220.9,141.2 221.1,141.6 221.2,141.9 221.4,142.3 221.5,142.6 221.7,143.0 221.9,143.3 222.1,143.7 222.3,144.0 222.5,144.4 222.8,144.7 223.0,145.1 223.3,145.4 223.6,145.8 223.9,146.1 224.2,146.5 224.5,146.8 224.9,147.2 225.3,147.5 225.7,147.9 226.1,148.2 226.6,148.6 227.1,148.9 227.6,149.3 228.2,149.6 228.8,150.0 229.4,150.3 230.1,150.7 230.8,151.0 231.6,151.4 232.4,151.7 233.2,152.1 234.1,152.5 235.1,152.8 236.1,153.2 237.2,153.5 238.4,153.9 239.6,154.2 240.9,154.6 242.3,154.9 243.8,155.3 245.4,155.6 247.1,156.0 248.9,156.3 250.8,156.7 252.8,157.0 255.0,157.4 257.2,157.7 259.7,158.1 262.2,158.4 265.0,158.8 267.9,159.1 271.0,159.5 274.3,159.8 277.8,160.2 281.5,160.5 285.5,160.9 289.7,161.2 294.1,161.6" class="gc"/>
<g transform="translate(216.30,161.90)" class="d">
<rect x="2.4" y="-41.0" width="75.4" height="41.0" fill="url(#w11)"/>
<polygon fill-opacity="1" points="2.4,0 2.4,-1.9 2.9,-2.1 3.5,-2.1 4.0,-1.5 4.5,-1.4 5.0,-1.8 5.5,-1.7 6.0,-2.3 6.5,-2.1 7.0,-2.0 7.5,-2.0 8.0,-2.1 8.5,-1.5 9.0,-1.8 9.5,-1.5 10.0,-2.4 10.5,-1.4 11.0,-2.3 11.5,-1.4 12.0,-2.1 12.5,-1.7 13.0,-1.8 13.5,-2.3 14.0,-1.4 14.5,-1.4 15.0,-2.4 15.5,-1.9 16.0,-1.5 16.5,-2.5 17.0,-2.4 17.5,-1.5 18.0,-1.8 18.5,-1.5 19.0,-1.7 19.5,-2.1 20.0,-1.5 20.5,-2.1 21.0,-1.4 21.5,-1.5 22.0,-2.3 22.5,-1.8 23.1,-1.8 23.6,-2.0 24.1,-1.9 24.6,-1.8 25.1,-1.4 25.6,-2.2 26.1,-2.5 26.6,-2.5 27.1,-2.2 27.6,-1.8 28.1,-1.8 28.6,-2.2 29.1,-2.2 29.6,-1.6 30.1,-1.7 30.6,-1.9 31.1,-2.1 31.6,-2.4 32.1,-2.1 32.6,-1.5 33.1,-2.5 33.6,-2.0 34.1,-2.1 34.6,-1.8 35.1,-2.0 35.6,-2.0 36.1,-2.5 36.6,-1.6 37.1,-2.2 37.6,-1.8 38.1,-2.4 38.6,-1.6 39.1,-1.9 39.6,-2.0 40.1,-2.4 40.6,-1.6 41.1,-2.2 41.6,-1.9 42.1,-2.0 42.7,-2.2 43.2,-2.9 43.7,-2.3 44.2,-2.9 44.7,-1.9 45.2,-2.9 45.7,-2.1 46.2,-1.9 46.7,-2.7 47.2,-2.9 47.7,-1.7 48.2,-2.3 48.7,-3.3 49.2,-2.8 49.7,-2.8 50.2,-2.5 50.7,-2.8 51.2,-4.3 51.7,-5.5 52.2,-5.8 52.7,-4.7 53.2,-3.6 53.7,-4.7 54.2,-6.4 54.7,-6.8 55.2,-6.4 55.7,-5.4 56.2,-7.0 56.7,-7.3 57.2,-8.5 57.7,-7.2 58.2,-11.2 58.7,-11.6 59.2,-7.9 59.7,-9.1 60.2,-13.2 60.7,-9.9 61.2,-14.9 61.7,-13.0 62.3,-15.4 62.8,-16.6 63.3,-13.1 63.8,-14.7 64.3,-15.2 64.8,-20.8 65.3,-22.0 65.8,-16.2 66.3,-28.5 66.8,-24.5 67.3,-23.9 67.8,-41.0 68.3,-41.0 68.8,-41.0 69.3,-41.0 69.8,-41.0 70.3,-41.0 70.8,-41.0 71.3,-41.0 71.8,-41.0 72.3,-41.0 72.8,-41.0 73.3,-41.0 73.8,-41.0 74.3,-41.0 74.8,-41.0 75.3,-41.0 75.8,-41.0 76.3,-41.0 76.8,-41.0 77.3,-41.0 77.8,-41.0 77.8,0"/>
<path class="ex" d="M23.6 0v-41.0M43.9 0v-41.0"/>
<path d="M0 0m42.0 .0v-37.4m9.8 37.4v-41.0m4.8 41.0v-20.0m1.8 20.0v-29.5m2.0 29.5v-41.0m1.3 41.0v-38.0m1.3 38.0v-41.0m1.0 41.0v-34.1m1.0 34.1v-41.0m1.0 41.0v-41.0m1.0 41.0v-41.0"/>
<path d="M0 0m47.8 .0v-41.0m5.3 41.0v-41.0m4.0 41.0v-41.0m1.5 41.0v-38.1m2.0 38.1v-41.0m1.5 41.0v-25.4m1.0 25.4v-41.0m1.0 41.0v-33.1m1.0 33.1v-41.0m1.0 41.0v-40.5m1.0 40.5v-41.0"/>
<path d="M0 0m49.3 .0v-41.0m4.5 41.0v-41.0m3.5 41.0v-41.0m1.5 41.0v-41.0m2.3 41.0v-41.0m1.3 41.0v-37.4m1.0 37.4v-41.0m1.0 41.0v-41.0m1.0 41.0v-41.0m1.0 41.0v-41.0m1.0 41.0v-41.0"/>
<path d="M0 0m51.3 .0v-41.0m3.3 41.0v-41.0m3.3 41.0v-41.0m2.3 41.0v-21.7m1.3 21.7v-29.3m1.3 29.3v-20.5m1.0 20.5v-41.0m1.0 41.0v-33.3m1.0 33.3v-41.0m1.0 41.0v-39.3m1.0 39.3v-41.0"/>
</g>
<rect x="216.30" y="120.90" width="81.50" height="41.00" fill="none" stroke="#555" stroke-width="0.7"/>
<text x="215.1" y="122.6" class="lt">1.00</text>
<text x="215.1" y="132.8" class="lt">0.75</text>
<text x="215.1" y="143.1" class="lt">0.50</text>
<text x="215.1" y="153.3" class="lt">0.25</text>
<text x="215.1" y="163.6" class="lt">0.00</text>
<text x="298.7" y="122.6" class="rt">20</text>
<text x="298.7" y="132.8" class="rt">15</text>
<text x="298.7" y="143.1" class="rt">10</text>
<text x="298.7" y="153.3" class="rt">5</text>
<text x="298.7" y="163.6" class="rt">0</text>
<text transform="translate(204.3,141.4) rotate(-90)" class="yl"><tspan class="it">β</tspan>: Average thermal value</text>
<text transform="translate(309.3,141.4) rotate(-90)" class="yl"><tspan class="it">T</tspan>: Unique threshold</text>
<text transform="translate(219.1,166.3) rotate(-45)" class="xt">0</text>
<text transform="translate(227.2,166.3) rotate(-45)" class="xt">1200</text>
<text transform="translate(235.2,166.3) rotate(-45)" class="xt">2400</text>
<text transform="translate(243.2,166.3) rotate(-45)" class="xt">3600</text>
<text transform="translate(251.2,166.3) rotate(-45)" class="xt">4800</text>
<text transform="translate(259.2,166.3) rotate(-45)" class="xt">6000</text>
<text transform="translate(267.2,166.3) rotate(-45)" class="xt">7200</text>
<text transform="translate(275.2,166.3) rotate(-45)" class="xt">8400</text>
<text transform="translate(283.2,166.3) rotate(-45)" class="xt">9600</text>
<text x="257.1" y="177.9" class="xl">Street number</text>
<linearGradient id="w12"><stop offset="0.000" stop-color="#00f" stop-opacity="0.00"/><stop offset="0.370" stop-color="#00f" stop-opacity="0.00"/><stop offset="0.380" stop-color="#00f" stop-opacity="0.02"/><stop offset="0.490" stop-color="#00f" stop-opacity="0.06"/><stop offset="0.600" stop-color="#00f" stop-opacity="0.12"/><stop offset="0.760" stop-color="#00f" stop-opacity="0.20"/><stop offset="0.870" stop-color="#00f" stop-opacity="0.27"/></linearGradient>
<polyline points="334.6,120.9 335.2,133.0 335.2,133.3 335.2,133.6 335.3,133.9 335.3,134.3 335.4,134.6 335.4,134.9 335.5,135.2 335.5,135.6 335.6,135.9 335.7,136.2 335.7,136.6 335.8,136.9 335.9,137.2 336.0,137.5 336.1,137.9 336.2,138.2 336.3,138.5 336.4,138.8 336.5,139.2 336.6,139.5 336.7,139.8 336.9,140.1 337.0,140.5 337.2,140.8 337.4,141.1 337.5,141.4 337.7,141.8 337.9,142.1 338.1,142.4 338.3,142.7 338.6,143.1 338.8,143.4 339.1,143.7 339.4,144.0 339.7,144.4 340.0,144.7 340.4,145.0 340.7,145.3 341.1,145.7 341.5,146.0 342.0,146.3 342.5,146.6 342.9,147.0 343.5,147.3 344.0,147.6 344.6,148.0 345.3,148.3 345.9,148.6 346.7,148.9 347.4,149.3 348.2,149.6 349.1,149.9 350.0,150.2 351.0,150.6 352.0,150.9 353.1,151.2 354.3,151.5 355.5,151.9 356.9,152.2 358.3,152.5 359.8,152.8 361.4,153.2 363.0,153.5 364.8,153.8 366.8,154.1 368.8,154.5 370.9,154.8 373.2,155.1 375.7,155.4 378.3,155.8 381.0,156.1 383.9,156.4 387.1,156.7 390.4,157.1 393.9,157.4 397.6,157.7 401.6,158.1 405.8,158.4 410.3,158.7" class="gc"/>
<g transform="translate(332.10,161.90)" class="d">
<rect x="2.5" y="-41.0" width="75.8" height="41.0" fill="url(#w12)"/>
<polygon fill-opacity="1" points="2.5,0 2.5,-1.6 3.0,-2.1 3.5,-2.1 4.0,-2.3 4.5,-1.6 5.0,-1.6 5.5,-1.5 6.0,-1.6 6.5,-2.2 7.0,-1.5 7.5,-2.0 8.0,-1.6 8.5,-1.7 9.0,-1.8 9.5,-2.3 10.0,-2.0 10.5,-1.4 11.0,-1.7 11.5,-1.5 12.0,-2.3 12.5,-2.3 13.0,-2.3 13.5,-2.3 14.0,-2.2 14.5,-2.4 15.0,-2.2 15.5,-1.6 16.0,-2.3 16.5,-1.9 17.0,-2.2 17.5,-2.0 18.0,-1.8 18.5,-1.8 19.0,-1.8 19.5,-1.7 20.0,-1.5 20.5,-2.3 21.0,-2.3 21.5,-2.5 22.0,-2.1 22.5,-2.0 23.0,-2.2 23.5,-1.5 24.0,-2.1 24.5,-1.9 25.0,-1.6 25.5,-1.6 26.0,-1.9 26.5,-1.6 27.0,-1.9 27.5,-2.0 28.0,-1.8 28.5,-1.5 29.0,-1.9 29.5,-1.6 30.1,-1.6 30.6,-1.6 31.1,-1.8 31.6,-1.4 32.1,-2.1 32.6,-2.4 33.1,-1.8 33.6,-2.2 34.1,-2.4 34.6,-1.4 35.1,-1.5 35.6,-2.3 36.1,-2.3 36.6,-2.1 37.1,-1.5 37.6,-1.8 38.1,-2.3 38.6,-2.4 39.1,-2.3 39.6,-1.6 40.1,-2.3 40.6,-1.8 41.1,-2.2 41.6,-1.5 42.1,-2.4 42.6,-2.0 43.1,-2.2 43.6,-1.6 44.1,-2.0 44.6,-2.0 45.1,-2.0 45.6,-1.8 46.1,-2.2 46.6,-1.7 47.1,-1.7 47.6,-1.5 48.1,-2.1 48.6,-1.6 49.1,-1.8 49.6,-1.8 50.1,-2.8 50.6,-2.8 51.1,-3.0 51.6,-2.2 52.1,-3.1 52.6,-3.1 53.1,-2.7 53.6,-2.7 54.1,-5.1 54.6,-3.2 55.1,-3.8 55.6,-3.9 56.1,-5.2 56.6,-4.0 57.1,-5.6 57.6,-5.6 58.1,-7.7 58.6,-4.8 59.1,-6.4 59.7,-7.5 60.2,-10.0 60.7,-8.3 61.2,-8.5 61.7,-9.9 62.2,-8.6 62.7,-7.6 63.2,-11.2 63.7,-14.7 64.2,-14.3 64.7,-11.4 65.2,-15.5 65.7,-17.7 66.2,-13.2 66.7,-16.9 67.2,-15.6 67.7,-15.5 68.2,-17.0 68.7,-17.0 69.2,-19.9 69.7,-16.7 70.2,-22.7 70.7,-19.2 71.2,-31.9 71.7,-41.0 72.2,-41.0 72.7,-41.0 73.2,-41.0 73.7,-41.0 74.2,-41.0 74.7,-41.0 75.2,-41.0 75.7,-41.0 76.2,-41.0 76.7,-41.0 77.2,-41.0 77.7,-41.0 78.2,-41.0 78.2,0"/>
<path d="M0 0m31.0 .0v-9.7m10.8 9.7v-41.0m6.3 41.0v-41.0m5.3 41.0v-22.9m2.8 22.9v-41.0m1.5 41.0v-22.2m3.5 22.2v-37.4m1.8 37.4v-41.0m1.8 41.0v-41.0m1.3 41.0v-41.0m1.0 41.0v-38.8m1.0 38.8v-28.1m1.0 28.1v-41.0m1.0 41.0v-41.0m1.0 41.0v-41.0"/>
<path d="M0 0m34.2 .0v-41.0m9.3 41.0v-41.0m8.3 41.0v-41.0m2.3 41.0v-28.5m2.5 28.5v-41.0m1.8 41.0v-38.8m3.0 38.8v-26.5m1.8 26.5v-41.0m1.8 41.0v-41.0m1.3 41.0v-41.0m1.0 41.0v-35.6m1.0 35.6v-41.0m1.0 41.0v-41.0m1.0 41.0v-41.0m1.0 41.0v-41.0"/>
<path d="M0 0m35.5 .0v-41.0m8.3 41.0v-6.6m8.5 6.6v-5.8m2.5 5.8v-10.8m2.0 10.8v-41.0m3.3 41.0v-41.0m1.8 41.0v-25.2m2.3 25.2v-41.0m1.3 41.0v-25.8m1.0 25.8v-41.0m1.0 41.0v-26.4m1.0 26.4v-41.0m1.0 41.0v-41.0m1.0 41.0v-41.0m1.0 41.0v-38.7"/>
<path d="M0 0m37.2 .0v-41.0m9.3 41.0v-41.0m6.3 41.0v-41.0m2.5 41.0v-41.0m2.0 41.0v-41.0m3.5 41.0v-29.5m1.5 29.5v-38.6m2.0 38.6v-19.3m1.3 19.3v-21.8m1.0 21.8v-22.7m1.0 22.7v-33.1m1.0 33.1v-35.1m1.0 35.1v-33.6m1.0 33.6v-37.1m1.0 37.1v-40.8"/>
</g>
<rect x="332.10" y="120.90" width="81.90" height="41.00" fill="none" stroke="#555" stroke-width="0.7"/>
<text x="330.9" y="122.6" class="lt">1.0</text>
<text x="330.9" y="143.1" class="lt">0.5</text>
<text x="330.9" y="163.6" class="lt">0.0</text>
<text x="414.9" y="122.6" class="rt">20</text>
<text x="414.9" y="132.8" class="rt">15</text>
<text x="414.9" y="143.1" class="rt">10</text>
<text x="414.9" y="153.3" class="rt">5</text>
<text x="414.9" y="163.6" class="rt">0</text>
<text transform="translate(322.5,141.4) rotate(-90)" class="yl"><tspan class="it">β</tspan>: Average thermal value</text>
<text transform="translate(425.5,141.4) rotate(-90)" class="yl"><tspan class="it">T</tspan>: Unique threshold</text>
<text transform="translate(335.0,166.3) rotate(-45)" class="xt">0</text>
<text transform="translate(342.5,166.3) rotate(-45)" class="xt">1200</text>
<text transform="translate(350.1,166.3) rotate(-45)" class="xt">2400</text>
<text transform="translate(357.7,166.3) rotate(-45)" class="xt">3600</text>
<text transform="translate(365.3,166.3) rotate(-45)" class="xt">4800</text>
<text transform="translate(372.8,166.3) rotate(-45)" class="xt">6000</text>
<text transform="translate(380.4,166.3) rotate(-45)" class="xt">7200</text>
<text transform="translate(388.0,166.3) rotate(-45)" class="xt">8400</text>
<text transform="translate(395.6,166.3) rotate(-45)" class="xt">9600</text>
<text transform="translate(403.1,166.3) rotate(-45)" class="xt">10800</text>
<text x="373.1" y="177.9" class="xl">Street number</text>
<linearGradient id="w13"><stop offset="0.000" stop-color="#00f" stop-opacity="0.00"/><stop offset="0.150" stop-color="#00f" stop-opacity="0.00"/><stop offset="0.160" stop-color="#00f" stop-opacity="0.03"/><stop offset="0.300" stop-color="#00f" stop-opacity="0.05"/><stop offset="0.500" stop-color="#00f" stop-opacity="0.06"/><stop offset="0.560" stop-color="#00f" stop-opacity="0.14"/><stop offset="0.700" stop-color="#00f" stop-opacity="0.18"/><stop offset="0.820" stop-color="#00f" stop-opacity="0.23"/><stop offset="0.900" stop-color="#00f" stop-opacity="0.28"/></linearGradient>
<polyline points="447.1,120.9 447.7,134.8 447.7,135.1 447.7,135.5 447.8,135.8 447.8,136.2 447.9,136.5 447.9,136.8 448.0,137.2 448.0,137.5 448.1,137.9 448.2,138.2 448.2,138.6 448.3,138.9 448.4,139.2 448.5,139.6 448.6,139.9 448.7,140.3 448.8,140.6 448.9,141.0 449.0,141.3 449.1,141.6 449.3,142.0 449.4,142.3 449.5,142.7 449.7,143.0 449.9,143.4 450.0,143.7 450.2,144.0 450.4,144.4 450.6,144.7 450.9,145.1 451.1,145.4 451.3,145.8 451.6,146.1 451.9,146.5 452.2,146.8 452.5,147.1 452.9,147.5 453.2,147.8 453.6,148.2 454.1,148.5 454.5,148.9 455.0,149.2 455.5,149.5 456.0,149.9 456.6,150.2 457.2,150.6 457.8,150.9 458.5,151.3 459.2,151.6 459.9,151.9 460.8,152.3 461.6,152.6 462.5,153.0 463.5,153.3 464.6,153.7 465.7,154.0 466.8,154.3 468.1,154.7 469.4,155.0 470.8,155.4 472.3,155.7 473.9,156.1 475.6,156.4 477.4,156.8 479.3,157.1 481.3,157.4 483.5,157.8 485.8,158.1 488.2,158.5 490.8,158.8 493.6,159.2 496.5,159.5 499.6,159.8 502.9,160.2 506.5,160.5 510.2,160.9 514.2,161.2 518.4,161.6 522.9,161.9" class="gc"/>
<g transform="translate(444.60,161.90)" class="d">
<rect x="2.5" y="-41.0" width="75.9" height="41.0" fill="url(#w13)"/>
<polygon fill-opacity="1" points="2.5,0 2.5,-1.5 3.0,-2.1 3.5,-2.1 4.0,-2.4 4.5,-1.7 5.0,-1.6 5.5,-2.2 6.0,-2.1 6.5,-1.7 7.0,-2.1 7.5,-1.8 8.0,-2.2 8.5,-1.5 9.0,-1.6 9.5,-2.4 10.0,-1.8 10.5,-1.6 11.0,-2.3 11.5,-2.1 12.0,-1.5 12.5,-2.0 13.0,-2.1 13.5,-1.5 14.0,-2.1 14.5,-1.5 15.0,-1.7 15.5,-1.4 16.0,-1.6 16.5,-2.5 17.0,-1.8 17.5,-2.5 18.0,-1.8 18.5,-2.0 19.0,-2.3 19.5,-2.1 20.0,-1.5 20.5,-2.0 21.0,-2.1 21.5,-1.6 22.1,-1.5 22.6,-2.3 23.1,-1.9 23.6,-1.6 24.1,-1.9 24.6,-1.6 25.1,-2.3 25.6,-1.9 26.1,-1.5 26.6,-2.3 27.1,-1.5 27.6,-1.7 28.1,-1.4 28.6,-2.3 29.1,-1.5 29.6,-2.0 30.1,-1.5 30.6,-2.0 31.1,-2.3 31.6,-2.1 32.1,-2.0 32.6,-2.1 33.1,-2.0 33.6,-2.2 34.1,-1.6 34.6,-2.1 35.1,-1.8 35.6,-2.6 36.1,-2.7 36.6,-1.6 37.1,-1.7 37.6,-2.4 38.1,-2.3 38.6,-1.6 39.1,-2.5 39.6,-2.8 40.1,-2.1 40.6,-2.0 41.1,-2.3 41.6,-2.8 42.1,-1.9 42.6,-2.0 43.1,-1.9 43.7,-2.5 44.2,-2.3 44.7,-2.0 45.2,-2.2 45.7,-1.7 46.2,-2.1 46.7,-3.0 47.2,-2.5 47.7,-2.1 48.2,-3.0 48.7,-2.3 49.2,-2.3 49.7,-2.1 50.2,-2.4 50.7,-2.6 51.2,-2.7 51.7,-4.1 52.2,-3.0 52.7,-3.1 53.2,-4.0 53.7,-4.9 54.2,-3.6 54.7,-4.9 55.2,-4.0 55.7,-4.7 56.2,-5.1 56.7,-6.5 57.2,-6.2 57.7,-5.7 58.2,-7.2 58.7,-5.8 59.2,-6.1 59.7,-8.7 60.2,-7.4 60.7,-8.7 61.2,-6.9 61.7,-10.0 62.2,-8.9 62.7,-7.4 63.2,-11.3 63.7,-9.5 64.2,-9.4 64.7,-9.4 65.2,-8.9 65.8,-10.1 66.3,-14.4 66.8,-10.7 67.3,-12.2 67.8,-14.6 68.3,-16.9 68.8,-16.7 69.3,-22.7 69.8,-17.9 70.3,-20.6 70.8,-22.9 71.3,-20.8 71.8,-24.4 72.3,-41.0 72.8,-41.0 73.3,-41.0 73.8,-41.0 74.3,-41.0 74.8,-41.0 75.3,-41.0 75.8,-41.0 76.3,-41.0 76.8,-41.0 77.3,-41.0 77.8,-41.0 78.3,-41.0 78.3,0"/>
<path d="M0 0m22.5 .0v-41.0m8.8 41.0v-21.0m15.8 21.0v-41.0m2.5 41.0v-34.3m2.5 34.3v-8.7m2.5 8.7v-41.0m1.8 41.0v-41.0m2.8 41.0v-41.0m1.5 41.0v-30.5m1.5 30.5v-24.8m2.0 24.8v-14.7m1.3 14.7v-41.0m1.5 41.0v-41.0m1.5 41.0v-31.5m1.0 31.5v-38.6m1.0 38.6v-32.8m1.0 32.8v-37.4"/>
<path d="M0 0m24.7 .0v-11.7m9.5 11.7v-29.0m13.3 29.0v-41.0m2.3 41.0v-11.6m3.3 11.6v-40.0m1.8 40.0v-41.0m2.0 41.0v-41.0m2.8 41.0v-41.0m1.3 41.0v-27.5m1.5 27.5v-41.0m2.3 41.0v-41.0m1.3 41.0v-41.0m1.3 41.0v-35.9m1.5 35.9v-41.0m1.0 41.0v-31.1m1.0 31.1v-41.0m1.0 41.0v-38.8"/>
<path d="M0 0m27.0 .0v-41.0m16.0 41.0v-41.0m5.0 41.0v-11.8m3.0 11.8v-27.3m2.3 27.3v-17.4m1.8 17.4v-41.0m3.3 41.0v-26.0m1.8 26.0v-41.0m1.0 41.0v-17.6m1.8 17.6v-30.6m2.0 30.6v-41.0m1.5 41.0v-41.0m1.0 41.0v-41.0m1.5 41.0v-41.0m1.0 41.0v-41.0m1.0 41.0v-41.0m1.0 41.0v-41.0"/>
<path d="M0 0m29.2 .0v-41.0m14.0 41.0v-41.0m5.5 41.0v-20.0m2.8 20.0v-7.9m2.0 7.9v-41.0m1.8 41.0v-41.0m3.5 41.0v-41.0m1.5 41.0v-41.0m1.5 41.0v-23.7m2.0 23.7v-21.9m1.3 21.9v-16.1m1.5 16.1v-41.0m1.5 41.0v-30.6m1.0 30.6v-41.0m1.0 41.0v-39.3m1.0 39.3v-41.0"/>
</g>
<rect x="444.60" y="120.90" width="82.00" height="41.00" fill="none" stroke="#555" stroke-width="0.7"/>
<text x="443.4" y="122.6" class="lt">1.00</text>
<text x="443.4" y="132.8" class="lt">0.75</text>
<text x="443.4" y="143.1" class="lt">0.50</text>
<text x="443.4" y="153.3" class="lt">0.25</text>
<text x="443.4" y="163.6" class="lt">0.00</text>
<text x="527.5" y="122.6" class="rt">20</text>
<text x="527.5" y="132.8" class="rt">15</text>
<text x="527.5" y="143.1" class="rt">10</text>
<text x="527.5" y="153.3" class="rt">5</text>
<text x="527.5" y="163.6" class="rt">0</text>
<text transform="translate(432.6,141.4) rotate(-90)" class="yl"><tspan class="it">β</tspan>: Average thermal value</text>
<text transform="translate(538.1,141.4) rotate(-90)" class="yl"><tspan class="it">T</tspan>: Unique threshold</text>
<text transform="translate(447.5,166.3) rotate(-45)" class="xt">0</text>
<text transform="translate(455.4,166.3) rotate(-45)" class="xt">1200</text>
<text transform="translate(463.4,166.3) rotate(-45)" class="xt">2400</text>
<text transform="translate(471.4,166.3) rotate(-45)" class="xt">3600</text>
<text transform="translate(479.3,166.3) rotate(-45)" class="xt">4800</text>
<text transform="translate(487.3,166.3) rotate(-45)" class="xt">6000</text>
<text transform="translate(495.2,166.3) rotate(-45)" class="xt">7200</text>
<text transform="translate(503.2,166.3) rotate(-45)" class="xt">8400</text>
<text transform="translate(511.2,166.3) rotate(-45)" class="xt">9600</text>
<text x="485.6" y="177.9" class="xl">Street number</text>
<linearGradient id="w20"><stop offset="0.000" stop-color="#00f" stop-opacity="0.00"/><stop offset="0.330" stop-color="#00f" stop-opacity="0.00"/><stop offset="0.340" stop-color="#00f" stop-opacity="0.10"/><stop offset="0.450" stop-color="#00f" stop-opacity="0.15"/><stop offset="0.600" stop-color="#00f" stop-opacity="0.20"/><stop offset="0.750" stop-color="#00f" stop-opacity="0.23"/><stop offset="0.840" stop-color="#00f" stop-opacity="0.27"/></linearGradient>
<polyline points="104.0,206.8 104.7,206.8 104.7,206.8 104.7,206.8 104.8,206.8 104.8,206.8 104.9,206.8 104.9,206.8 105.0,206.8 105.0,206.8 105.1,206.8 105.2,206.8 105.2,206.8 105.3,207.2 105.4,207.6 105.5,208.0 105.6,208.4 105.7,208.8 105.8,209.2 105.9,209.7 106.0,210.1 106.1,210.5 106.2,210.9 106.4,211.3 106.5,211.7 106.7,212.1 106.8,212.6 107.0,213.0 107.2,213.4 107.4,213.8 107.6,214.2 107.8,214.6 108.1,215.1 108.3,215.5 108.6,215.9 108.9,216.3 109.2,216.7 109.5,217.1 109.8,217.5 110.2,218.0 110.6,218.4 111.0,218.8 111.4,219.2 111.9,219.6 112.4,220.0 112.9,220.4 113.5,220.9 114.1,221.3 114.7,221.7 115.4,222.1 116.1,222.5 116.9,222.9 117.7,223.4 118.5,223.8 119.5,224.2 120.4,224.6 121.5,225.0 122.6,225.4 123.7,225.8 125.0,226.3 126.3,226.7 127.7,227.1 129.2,227.5 130.8,227.9 132.4,228.3 134.2,228.7 136.1,229.2 138.1,229.6 140.3,230.0 142.6,230.4 145.0,230.8 147.6,231.2 150.3,231.7 153.3,232.1 156.4,232.5 159.7,232.9 163.2,233.3 166.9,233.7 170.8,234.1 175.1,234.6 179.5,235.0" class="gc"/>
<g transform="translate(101.60,235.80)" class="d">
<rect x="2.4" y="-41.4" width="75.5" height="41.4" fill="url(#w20)"/>
<polygon fill-opacity="1" points="2.4,0 2.4,-1.6 3.0,-2.2 3.5,-2.1 4.0,-1.9 4.5,-1.6 5.0,-2.3 5.5,-2.3 6.0,-1.9 6.5,-1.9 7.0,-1.6 7.5,-1.4 8.0,-1.8 8.5,-2.0 9.0,-1.4 9.5,-2.3 10.0,-1.6 10.5,-1.6 11.0,-1.4 11.5,-2.5 12.0,-2.2 12.5,-2.4 13.0,-2.1 13.5,-1.4 14.0,-1.7 14.5,-1.9 15.0,-1.5 15.5,-2.5 16.0,-1.8 16.5,-1.6 17.0,-2.3 17.5,-1.5 18.0,-2.5 18.6,-1.9 19.1,-2.1 19.6,-1.8 20.1,-2.0 20.6,-1.6 21.1,-1.5 21.6,-2.5 22.1,-1.7 22.6,-2.4 23.1,-1.7 23.6,-2.6 24.1,-2.5 24.6,-2.4 25.1,-2.4 25.6,-2.2 26.1,-2.4 26.6,-1.6 27.1,-2.1 27.6,-2.5 28.1,-1.8 28.6,-2.8 29.1,-2.9 29.6,-2.3 30.1,-2.3 30.6,-2.5 31.1,-2.5 31.6,-3.6 32.1,-2.7 32.6,-2.2 33.1,-2.4 33.6,-3.6 34.1,-4.2 34.7,-3.4 35.2,-3.5 35.7,-3.7 36.2,-4.2 36.7,-3.2 37.2,-4.1 37.7,-4.1 38.2,-4.4 38.7,-3.4 39.2,-3.5 39.7,-4.0 40.2,-5.6 40.7,-4.2 41.2,-5.0 41.7,-4.3 42.2,-3.9 42.7,-3.9 43.2,-6.3 43.7,-6.4 44.2,-5.2 44.7,-6.4 45.2,-6.5 45.7,-7.4 46.2,-7.8 46.7,-6.0 47.2,-8.3 47.7,-8.4 48.2,-7.1 48.7,-8.5 49.2,-7.0 49.7,-6.7 50.3,-6.3 50.8,-9.2 51.3,-6.2 51.8,-5.9 52.3,-9.5 52.8,-9.5 53.3,-8.3 53.8,-10.2 54.3,-6.4 54.8,-7.6 55.3,-7.9 55.8,-8.7 56.3,-7.6 56.8,-7.1 57.3,-8.8 57.8,-12.3 58.3,-13.1 58.8,-11.9 59.3,-10.4 59.8,-9.2 60.3,-13.9 60.8,-11.3 61.3,-12.9 61.8,-8.4 62.3,-9.8 62.8,-14.3 63.3,-15.0 63.8,-16.7 64.3,-15.3 64.8,-14.6 65.3,-16.9 65.9,-20.4 66.4,-15.8 66.9,-19.0 67.4,-16.9 67.9,-23.7 68.4,-15.3 68.9,-24.9 69.4,-29.7 69.9,-17.6 70.4,-26.8 70.9,-29.1 71.4,-34.1 71.9,-31.1 72.4,-41.4 72.9,-41.4 73.4,-41.4 73.9,-41.4 74.4,-41.4 74.9,-41.4 75.4,-41.4 75.9,-41.4 76.4,-41.4 76.9,-41.4 77.4,-41.4 77.9,-41.4 77.9,0"/>
<path d="M0 0m28.5 .0v-41.4m2.0 41.4v-41.4m3.3 41.4v-41.4m4.3 41.4v-41.4m3.5 41.4v-41.4m5.3 41.4v-41.4m1.5 41.4v-41.4m1.8 41.4v-24.7m1.3 24.7v-39.4m1.3 39.4v-41.4m1.8 41.4v-41.4m3.0 41.4v-26.7m1.3 26.7v-41.4m1.0 41.4v-19.0m1.3 19.0v-41.4m1.0 41.4v-36.5m1.8 36.5v-41.4m1.0 41.4v-41.4m1.3 41.4v-41.4m1.0 41.4v-41.4m1.0 41.4v-38.4m1.0 38.4v-41.4m1.0 41.4v-41.4m1.0 41.4v-41.4m1.0 41.4v-41.2"/>
<path d="M0 0m28.8 .0v-41.4m2.8 41.4v-36.7m4.0 36.7v-23.5m3.8 23.5v-21.7m3.3 21.7v-41.4m4.5 41.4v-11.4m2.0 11.4v-19.9m1.3 19.9v-19.0m1.5 19.0v-41.4m1.0 41.4v-41.4m1.8 41.4v-41.4m3.3 41.4v-41.4m1.0 41.4v-41.4m1.0 41.4v-29.2m1.3 29.2v-41.4m1.3 41.4v-41.4m1.5 41.4v-32.6m1.3 32.6v-36.3m1.0 36.3v-41.4m1.0 41.4v-34.3m1.0 34.3v-32.2m1.0 32.2v-37.4m1.0 37.4v-38.5m1.0 38.5v-39.8"/>
<path d="M0 0m29.3 .0v-28.3m3.0 28.3v-41.4m5.0 41.4v-40.6m3.0 40.6v-41.4m5.0 41.4v-21.0m2.0 21.0v-33.0m2.0 33.0v-14.7m1.3 14.7v-41.4m1.5 41.4v-32.3m1.3 32.3v-41.4m2.5 41.4v-15.0m2.3 15.0v-41.4m1.0 41.4v-41.4m1.0 41.4v-34.2m1.3 34.2v-41.4m1.3 41.4v-29.8m1.5 29.8v-23.1m1.3 23.1v-41.4m1.0 41.4v-41.4m1.0 41.4v-41.4m1.0 41.4v-41.4m1.0 41.4v-39.0m1.0 39.0v-41.4m1.0 41.4v-41.4"/>
<path d="M0 0m29.5 .0v-41.4m3.0 41.4v-10.6m5.3 10.6v-9.4m3.0 9.4v-35.0m5.8 35.0v-41.4m1.0 41.4v-41.4m2.3 41.4v-18.7m1.0 18.7v-41.4m1.5 41.4v-41.4m1.8 41.4v-41.4m2.8 41.4v-41.4m1.5 41.4v-16.0m1.0 16.0v-41.4m1.0 41.4v-41.4m1.3 41.4v-41.4m1.8 41.4v-39.9m1.0 39.9v-41.4m1.3 41.4v-41.4m1.0 41.4v-25.7m1.0 25.7v-41.4m1.0 41.4v-41.4m1.0 41.4v-41.4m1.0 41.4v-40.4m1.0 40.4v-41.0"/>
<polygon class="fl" fill-opacity="0.5" points="2.4,0 2.4,0.0 3.0,-0.0 3.5,-0.0 4.0,-0.0 4.5,-0.0 5.0,-0.0 5.5,-0.0 6.0,-0.0 6.5,-0.0 7.0,-0.0 7.5,-0.0 8.0,-0.0 8.5,-0.0 9.0,-0.0 9.5,-0.0 10.0,-0.0 10.5,-0.0 11.0,-0.0 11.5,-0.0 12.0,-0.0 12.5,-0.0 13.0,-0.0 13.5,-0.0 14.0,-0.0 14.5,-0.0 15.0,-0.0 15.5,-0.0 16.0,-0.0 16.5,-0.0 17.0,-0.0 17.5,-0.0 18.0,-0.0 18.6,-0.0 19.1,-0.0 19.6,-0.0 20.1,-0.0 20.6,-0.0 21.1,-0.0 21.6,-0.0 22.1,-0.0 22.6,-0.0 23.1,-0.0 23.6,-0.0 24.1,-0.0 24.6,-0.0 25.1,-0.0 25.6,-0.0 26.1,-0.0 26.6,-0.0 27.1,-0.0 27.6,-0.0 28.1,-0.0 28.6,-0.0 29.1,-0.0 29.6,-0.0 30.1,-0.0 30.6,-0.0 31.1,-0.0 31.6,-0.0 32.1,-0.0 32.6,-0.0 33.1,-0.0 33.6,-0.0 34.1,-0.0 34.7,-0.0 35.2,-0.0 35.7,-0.0 36.2,-0.0 36.7,-0.0 37.2,-0.0 37.7,-0.0 38.2,-0.0 38.7,-0.0 39.2,-0.0 39.7,-0.0 40.2,-0.0 40.7,-0.0 41.2,-0.0 41.7,-0.0 42.2,-0.0 42.7,-0.0 43.2,-0.0 43.7,-0.0 44.2,-0.0 44.7,-0.0 45.2,-0.0 45.7,-0.0 46.2,-0.0 46.7,-0.0 47.2,-0.0 47.7,-0.0 48.2,-0.0 48.7,-0.0 49.2,-0.0 49.7,-0.0 50.3,-0.0 50.8,-0.0 51.3,-0.0 51.8,-0.0 52.3,-0.0 52.8,-0.0 53.3,-0.0 53.8,-0.0 54.3,-0.0 54.8,-0.0 55.3,-0.0 55.8,-0.0 56.3,-0.0 56.8,-0.0 57.3,-0.0 57.8,-0.0 58.3,-0.0 58.8,-0.0 59.3,-0.0 59.8,-0.0 60.3,-0.0 60.8,-0.0 61.3,-0.0 61.8,-0.0 62.3,-0.0 62.8,-0.0 63.3,-0.0 63.8,-0.0 64.3,-0.0 64.8,-0.0 65.3,-0.0 65.9,-0.0 66.4,-0.0 66.9,-0.6 67.4,-1.5 67.9,-3.1 68.4,-3.8 68.9,-5.0 69.4,-5.4 69.9,-10.3 70.4,-8.9 70.9,-7.6 71.4,-6.7 71.9,-8.0 72.4,-12.5 72.9,-9.1 73.4,-11.5 73.9,-8.7 74.4,-11.8 74.9,-10.5 75.4,-12.8 75.9,-11.4 76.4,-10.2 76.9,-9.5 77.4,-11.9 77.9,-13.7 78.5,0"/>
</g>
<rect x="101.60" y="194.40" width="81.60" height="41.40" fill="none" stroke="#555" stroke-width="0.7"/>
<text x="100.4" y="196.1" class="lt">1.00</text>
<text x="100.4" y="206.4" class="lt">0.75</text>
<text x="100.4" y="216.8" class="lt">0.50</text>
<text x="100.4" y="227.2" class="lt">0.25</text>
<text x="100.4" y="237.5" class="lt">0.00</text>
<text x="184.1" y="196.1" class="rt">20</text>
<text x="184.1" y="206.4" class="rt">15</text>
<text x="184.1" y="216.8" class="rt">10</text>
<text x="184.1" y="227.2" class="rt">5</text>
<text x="184.1" y="237.5" class="rt">0</text>
<text transform="translate(89.6,215.1) rotate(-90)" class="yl"><tspan class="it">β</tspan>: Average thermal value</text>
<text transform="translate(194.7,215.1) rotate(-90)" class="yl"><tspan class="it">T</tspan>: Unique threshold</text>
<text transform="translate(104.4,240.2) rotate(-45)" class="xt">0</text>
<text transform="translate(114.6,240.2) rotate(-45)" class="xt">600</text>
<text transform="translate(124.7,240.2) rotate(-45)" class="xt">1200</text>
<text transform="translate(134.9,240.2) rotate(-45)" class="xt">1800</text>
<text transform="translate(145.0,240.2) rotate(-45)" class="xt">2400</text>
<text transform="translate(155.1,240.2) rotate(-45)" class="xt">3000</text>
<text transform="translate(165.3,240.2) rotate(-45)" class="xt">3600</text>
<text transform="translate(175.4,240.2) rotate(-45)" class="xt">4200</text>
<text x="142.4" y="251.8" class="xl">Street number</text>
<linearGradient id="w21"><stop offset="0.000" stop-color="#00f" stop-opacity="0.00"/><stop offset="0.700" stop-color="#00f" stop-opacity="0.00"/><stop offset="0.710" stop-color="#00f" stop-opacity="0.01"/><stop offset="0.850" stop-color="#00f" stop-opacity="0.02"/><stop offset="0.900" stop-color="#00f" stop-opacity="0.05"/><stop offset="0.930" stop-color="#00f" stop-opacity="0.10"/><stop offset="0.950" stop-color="#00f" stop-opacity="0.23"/></linearGradient>
<polyline points="218.7,199.4 219.3,209.3 219.4,209.6 219.4,209.9 219.5,210.2 219.5,210.5 219.6,210.8 219.6,211.0 219.7,211.3 219.7,211.6 219.8,211.9 219.9,212.2 219.9,212.4 220.0,212.7 220.1,213.0 220.2,213.3 220.2,213.6 220.3,213.8 220.4,214.1 220.5,214.4 220.7,214.7 220.8,215.0 220.9,215.2 221.0,215.5 221.2,215.8 221.3,216.1 221.5,216.4 221.7,216.7 221.9,216.9 222.1,217.2 222.3,217.5 222.5,217.8 222.7,218.1 223.0,218.3 223.3,218.6 223.5,218.9 223.8,219.2 224.2,219.5 224.5,219.7 224.9,220.0 225.2,220.3 225.7,220.6 226.1,220.9 226.6,221.1 227.1,221.4 227.6,221.7 228.1,222.0 228.7,222.3 229.4,222.5 230.0,222.8 230.7,223.1 231.5,223.4 232.3,223.7 233.1,224.0 234.0,224.2 235.0,224.5 236.0,224.8 237.1,225.1 238.3,225.4 239.5,225.6 240.8,225.9 242.2,226.2 243.7,226.5 245.3,226.8 246.9,227.0 248.7,227.3 250.6,227.6 252.6,227.9 254.8,228.2 257.0,228.4 259.4,228.7 262.0,229.0 264.7,229.3 267.6,229.6 270.7,229.9 274.0,230.1 277.5,230.4 281.2,230.7 285.1,231.0 289.3,231.3 293.7,231.5" class="gc"/>
<g transform="translate(216.30,235.80)" class="d">
<rect x="2.4" y="-41.4" width="75.0" height="41.4" fill="url(#w21)"/>
<polygon fill-opacity="1" points="2.4,0 2.4,-2.5 2.9,-1.5 3.5,-1.4 4.0,-2.5 4.5,-1.6 5.0,-1.5 5.5,-2.1 6.0,-1.8 6.5,-2.4 7.0,-1.6 7.5,-2.5 8.0,-1.7 8.5,-2.1 9.0,-2.4 9.5,-2.1 10.0,-2.4 10.5,-2.2 11.0,-1.4 11.5,-2.4 12.0,-2.0 12.5,-1.7 13.0,-1.6 13.5,-2.3 14.0,-2.0 14.5,-2.4 15.0,-2.2 15.5,-2.5 16.0,-2.0 16.5,-2.2 17.0,-2.1 17.5,-1.7 18.0,-2.5 18.5,-1.7 19.1,-2.3 19.6,-2.5 20.1,-2.1 20.6,-1.6 21.1,-2.3 21.6,-2.2 22.1,-1.6 22.6,-1.5 23.1,-2.0 23.6,-1.4 24.1,-2.5 24.6,-2.0 25.1,-2.0 25.6,-1.9 26.1,-2.2 26.6,-2.5 27.1,-1.8 27.6,-1.9 28.1,-2.1 28.6,-1.8 29.1,-2.2 29.6,-2.1 30.1,-2.0 30.6,-2.3 31.1,-2.1 31.6,-1.6 32.1,-2.7 32.6,-1.9 33.1,-2.0 33.6,-2.0 34.1,-2.6 34.7,-2.7 35.2,-2.1 35.7,-2.0 36.2,-1.6 36.7,-2.6 37.2,-1.7 37.7,-2.2 38.2,-1.9 38.7,-1.9 39.2,-2.0 39.7,-1.8 40.2,-1.6 40.7,-2.2 41.2,-2.5 41.7,-2.4 42.2,-1.8 42.7,-2.4 43.2,-1.6 43.7,-2.1 44.2,-2.6 44.7,-2.7 45.2,-2.1 45.7,-2.6 46.2,-2.2 46.7,-2.2 47.2,-2.3 47.7,-2.9 48.2,-2.5 48.7,-2.2 49.2,-2.5 49.7,-2.4 50.3,-2.1 50.8,-2.6 51.3,-2.7 51.8,-2.4 52.3,-2.9 52.8,-1.6 53.3,-2.3 53.8,-2.5 54.3,-2.1 54.8,-1.8 55.3,-2.5 55.8,-2.2 56.3,-2.0 56.8,-1.7 57.3,-2.9 57.8,-2.1 58.3,-1.8 58.8,-1.9 59.3,-2.0 59.8,-2.8 60.3,-1.9 60.8,-2.0 61.3,-1.8 61.8,-2.3 62.3,-2.0 62.8,-2.1 63.3,-2.7 63.8,-3.0 64.3,-2.8 64.8,-1.7 65.3,-2.2 65.9,-2.9 66.4,-1.8 66.9,-2.2 67.4,-2.8 67.9,-2.7 68.4,-3.5 68.9,-3.7 69.4,-3.3 69.9,-3.0 70.4,-3.3 70.9,-3.8 71.4,-3.5 71.9,-5.7 72.4,-4.4 72.9,-7.3 73.4,-9.6 73.9,-8.7 74.4,-14.8 74.9,-27.8 75.4,-41.4 75.9,-41.4 76.4,-41.4 76.9,-41.4 77.4,-41.4 77.4,0"/>
<path class="ex" d="M55.7 0v-18.6M60.9 0v-16.6M66.9 0v-14.5M69.2 0v-14.5"/>
<path d="M0 0m56.1 .0v-40.8m16.6 40.8v-11.4m1.8 11.4v-41.4"/>
<path d="M0 0m58.1 .0v-27.7m15.0 27.7v-41.4m1.8 41.4v-41.4"/>
<path d="M0 0m66.9 .0v-29.6m6.5 29.6v-22.6"/>
<path d="M0 0m72.4 .0v-17.8m1.5 17.8v-38.4"/>
</g>
<rect x="216.30" y="194.40" width="81.50" height="41.40" fill="none" stroke="#555" stroke-width="0.7"/>
<text x="215.1" y="196.1" class="lt">1.00</text>
<text x="215.1" y="206.4" class="lt">0.75</text>
<text x="215.1" y="216.8" class="lt">0.50</text>
<text x="215.1" y="227.2" class="lt">0.25</text>
<text x="215.1" y="237.5" class="lt">0.00</text>
<text x="298.7" y="196.1" class="rt">20</text>
<text x="298.7" y="206.4" class="rt">15</text>
<text x="298.7" y="216.8" class="rt">10</text>
<text x="298.7" y="227.2" class="rt">5</text>
<text x="298.7" y="237.5" class="rt">0</text>
<text transform="translate(204.3,215.1) rotate(-90)" class="yl"><tspan class="it">β</tspan>: Average thermal value</text>
<text transform="translate(309.3,215.1) rotate(-90)" class="yl"><tspan class="it">T</tspan>: Unique threshold</text>
<text transform="translate(219.1,240.2) rotate(-45)" class="xt">0</text>
<text transform="translate(228.1,240.2) rotate(-45)" class="xt">600</text>
<text transform="translate(237.1,240.2) rotate(-45)" class="xt">1200</text>
<text transform="translate(246.1,240.2) rotate(-45)" class="xt">1800</text>
<text transform="translate(255.1,240.2) rotate(-45)" class="xt">2400</text>
<text transform="translate(264.1,240.2) rotate(-45)" class="xt">3000</text>
<text transform="translate(273.1,240.2) rotate(-45)" class="xt">3600</text>
<text transform="translate(282.1,240.2) rotate(-45)" class="xt">4200</text>
<text transform="translate(291.1,240.2) rotate(-45)" class="xt">4800</text>
<text x="257.1" y="251.8" class="xl">Street number</text>
<linearGradient id="w22"><stop offset="0.000" stop-color="#00f" stop-opacity="0.00"/><stop offset="0.780" stop-color="#00f" stop-opacity="0.00"/><stop offset="0.800" stop-color="#00f" stop-opacity="0.02"/><stop offset="0.900" stop-color="#00f" stop-opacity="0.03"/><stop offset="0.940" stop-color="#00f" stop-opacity="0.10"/></linearGradient>
<polyline points="334.6,201.9 335.2,203.5 335.2,203.9 335.2,204.2 335.3,204.6 335.3,204.9 335.4,205.3 335.4,205.6 335.5,206.0 335.5,206.3 335.6,206.6 335.7,207.0 335.7,207.3 335.8,207.7 335.9,208.0 336.0,208.4 336.1,208.7 336.2,209.1 336.3,209.4 336.4,209.8 336.5,210.1 336.6,210.5 336.7,210.8 336.9,211.2 337.0,211.5 337.2,211.8 337.3,212.2 337.5,212.5 337.7,212.9 337.9,213.2 338.1,213.6 338.3,213.9 338.6,214.3 338.8,214.6 339.1,215.0 339.4,215.3 339.7,215.7 340.0,216.0 340.3,216.4 340.7,216.7 341.1,217.0 341.5,217.4 341.9,217.7 342.4,218.1 342.9,218.4 343.4,218.8 344.0,219.1 344.6,219.5 345.2,219.8 345.9,220.2 346.6,220.5 347.4,220.9 348.2,221.2 349.0,221.6 349.9,221.9 350.9,222.2 351.9,222.6 353.0,222.9 354.2,223.3 355.4,223.6 356.7,224.0 358.1,224.3 359.6,224.7 361.2,225.0 362.9,225.4 364.7,225.7 366.6,226.1 368.6,226.4 370.7,226.8 373.0,227.1 375.4,227.4 378.0,227.8 380.8,228.1 383.7,228.5 386.8,228.8 390.1,229.2 393.6,229.5 397.3,229.9 401.2,230.2 405.4,230.6 409.9,230.9" class="gc"/>
<g transform="translate(332.10,235.80)" class="d">
<rect x="2.5" y="-41.4" width="75.3" height="41.4" fill="url(#w22)"/>
<polygon fill-opacity="1" points="2.5,0 2.5,-2.4 3.0,-2.4 3.5,-2.4 4.0,-1.5 4.5,-2.0 5.0,-1.8 5.5,-2.0 6.0,-1.5 6.5,-1.6 7.0,-1.9 7.5,-1.6 8.0,-1.9 8.5,-1.4 9.0,-1.5 9.5,-2.2 10.0,-1.8 10.5,-1.9 11.0,-2.2 11.5,-1.8 12.0,-1.4 12.5,-2.3 13.0,-2.0 13.5,-2.1 14.0,-2.1 14.5,-2.5 15.0,-1.8 15.5,-2.2 16.0,-1.8 16.5,-2.0 17.0,-2.1 17.5,-1.7 18.0,-1.5 18.5,-1.9 19.0,-2.2 19.5,-2.0 20.0,-1.9 20.5,-2.1 21.0,-1.6 21.5,-1.6 22.0,-1.7 22.5,-2.3 23.1,-1.6 23.6,-1.5 24.1,-1.5 24.6,-1.4 25.1,-1.7 25.6,-2.0 26.1,-2.3 26.6,-1.7 27.1,-1.8 27.6,-1.7 28.1,-1.7 28.6,-2.3 29.1,-2.0 29.6,-1.7 30.1,-1.5 30.6,-2.3 31.1,-2.2 31.6,-2.3 32.1,-1.6 32.6,-2.0 33.1,-2.4 33.6,-2.0 34.1,-2.4 34.6,-1.6 35.1,-2.5 35.6,-1.4 36.1,-1.8 36.6,-1.4 37.1,-2.3 37.6,-2.2 38.1,-2.5 38.6,-2.3 39.1,-2.5 39.6,-2.0 40.1,-2.6 40.6,-2.3 41.1,-1.8 41.6,-2.6 42.1,-1.9 42.6,-1.7 43.1,-1.5 43.6,-2.0 44.1,-1.7 44.7,-2.6 45.2,-2.6 45.7,-1.7 46.2,-1.6 46.7,-2.1 47.2,-1.7 47.7,-2.1 48.2,-2.5 48.7,-1.8 49.2,-2.0 49.7,-2.6 50.2,-2.1 50.7,-1.9 51.2,-2.6 51.7,-2.5 52.2,-2.7 52.7,-2.4 53.2,-2.1 53.7,-2.4 54.2,-2.6 54.7,-2.4 55.2,-1.9 55.7,-1.9 56.2,-2.1 56.7,-2.6 57.2,-2.3 57.7,-2.3 58.2,-2.7 58.7,-1.7 59.2,-2.4 59.7,-2.0 60.2,-2.3 60.7,-2.7 61.2,-1.9 61.7,-2.9 62.2,-1.7 62.7,-2.4 63.2,-2.4 63.7,-1.9 64.2,-2.4 64.7,-2.3 65.2,-2.3 65.7,-2.6 66.3,-1.7 66.8,-2.2 67.3,-2.7 67.8,-1.9 68.3,-2.9 68.8,-2.0 69.3,-2.6 69.8,-1.9 70.3,-2.3 70.8,-2.4 71.3,-2.0 71.8,-3.2 72.3,-3.0 72.8,-3.5 73.3,-3.4 73.8,-3.6 74.3,-5.5 74.8,-8.1 75.3,-19.7 75.8,-41.4 76.3,-41.4 76.8,-41.4 77.3,-41.4 77.8,-41.4 77.8,0"/>
<path class="ex" d="M24.3 0v-6.2M56.0 0v-10.4"/>
<path d="M0 0m70.3 .0v-13.8"/>
<path d="M0 0m72.5 .0v-28.6"/>
<path d="M0 0m73.8 .0v-9.9"/>
</g>
<rect x="332.10" y="194.40" width="81.90" height="41.40" fill="none" stroke="#555" stroke-width="0.7"/>
<text x="330.9" y="196.1" class="lt">1.00</text>
<text x="330.9" y="206.4" class="lt">0.75</text>
<text x="330.9" y="216.8" class="lt">0.50</text>
<text x="330.9" y="227.2" class="lt">0.25</text>
<text x="330.9" y="237.5" class="lt">0.00</text>
<text x="414.9" y="196.1" class="rt">20</text>
<text x="414.9" y="206.4" class="rt">15</text>
<text x="414.9" y="216.8" class="rt">10</text>
<text x="414.9" y="227.2" class="rt">5</text>
<text x="414.9" y="237.5" class="rt">0</text>
<text transform="translate(320.1,215.1) rotate(-90)" class="yl"><tspan class="it">β</tspan>: Average thermal value</text>
<text transform="translate(425.5,215.1) rotate(-90)" class="yl"><tspan class="it">T</tspan>: Unique threshold</text>
<text transform="translate(335.0,240.2) rotate(-45)" class="xt">0</text>
<text transform="translate(343.9,240.2) rotate(-45)" class="xt">600</text>
<text transform="translate(352.9,240.2) rotate(-45)" class="xt">1200</text>
<text transform="translate(361.8,240.2) rotate(-45)" class="xt">1800</text>
<text transform="translate(370.7,240.2) rotate(-45)" class="xt">2400</text>
<text transform="translate(379.7,240.2) rotate(-45)" class="xt">3000</text>
<text transform="translate(388.6,240.2) rotate(-45)" class="xt">3600</text>
<text transform="translate(397.6,240.2) rotate(-45)" class="xt">4200</text>
<text transform="translate(406.5,240.2) rotate(-45)" class="xt">4800</text>
<text x="373.1" y="251.8" class="xl">Street number</text>
<linearGradient id="w23"><stop offset="0.000" stop-color="#00f" stop-opacity="0.00"/><stop offset="0.720" stop-color="#00f" stop-opacity="0.00"/><stop offset="0.730" stop-color="#00f" stop-opacity="0.02"/><stop offset="0.880" stop-color="#00f" stop-opacity="0.03"/><stop offset="0.910" stop-color="#00f" stop-opacity="0.12"/><stop offset="0.940" stop-color="#00f" stop-opacity="0.20"/></linearGradient>
<polyline points="447.1,198.5 447.7,204.9 447.7,205.2 447.7,205.5 447.8,205.9 447.8,206.2 447.9,206.5 447.9,206.9 448.0,207.2 448.0,207.5 448.1,207.9 448.2,208.2 448.2,208.5 448.3,208.9 448.4,209.2 448.5,209.5 448.6,209.9 448.7,210.2 448.8,210.5 448.9,210.9 449.0,211.2 449.1,211.5 449.2,211.9 449.4,212.2 449.5,212.5 449.7,212.9 449.8,213.2 450.0,213.5 450.2,213.9 450.4,214.2 450.6,214.5 450.8,214.9 451.1,215.2 451.3,215.5 451.6,215.9 451.9,216.2 452.2,216.6 452.5,216.9 452.9,217.2 453.2,217.6 453.6,217.9 454.0,218.2 454.5,218.6 454.9,218.9 455.4,219.2 455.9,219.6 456.5,219.9 457.1,220.2 457.7,220.6 458.4,220.9 459.1,221.2 459.9,221.6 460.7,221.9 461.5,222.2 462.5,222.6 463.4,222.9 464.5,223.2 465.6,223.6 466.7,223.9 468.0,224.2 469.3,224.6 470.7,224.9 472.2,225.2 473.8,225.6 475.4,225.9 477.2,226.2 479.1,226.6 481.1,226.9 483.3,227.2 485.6,227.6 488.0,227.9 490.6,228.2 493.3,228.6 496.2,228.9 499.3,229.2 502.6,229.6 506.1,229.9 509.9,230.2 513.8,230.6 518.0,230.9 522.5,231.2" class="gc"/>
<g transform="translate(444.60,235.80)" class="d">
<rect x="2.5" y="-41.4" width="75.4" height="41.4" fill="url(#w23)"/>
<polygon fill-opacity="1" points="2.5,0 2.5,-2.2 3.0,-2.3 3.5,-1.6 4.0,-2.5 4.5,-1.6 5.0,-2.1 5.5,-1.5 6.0,-2.2 6.5,-1.5 7.0,-2.2 7.5,-2.2 8.0,-2.2 8.5,-1.9 9.0,-2.4 9.5,-2.5 10.0,-1.5 10.5,-2.0 11.0,-2.5 11.5,-2.2 12.0,-1.9 12.5,-1.7 13.0,-2.5 13.5,-1.5 14.0,-2.2 14.5,-2.3 15.0,-1.5 15.5,-1.7 16.0,-1.7 16.5,-2.0 17.0,-1.8 17.5,-2.4 18.1,-2.4 18.6,-1.7 19.1,-2.4 19.6,-1.4 20.1,-1.5 20.6,-2.1 21.1,-2.3 21.6,-2.3 22.1,-2.5 22.6,-2.3 23.1,-1.7 23.6,-2.2 24.1,-2.4 24.6,-1.5 25.1,-1.9 25.6,-1.5 26.1,-1.5 26.6,-1.9 27.1,-2.1 27.6,-2.5 28.1,-1.5 28.6,-1.9 29.1,-2.5 29.6,-2.2 30.1,-2.0 30.6,-1.6 31.1,-2.1 31.6,-1.7 32.1,-2.1 32.6,-2.1 33.1,-1.8 33.6,-2.3 34.1,-1.8 34.6,-1.9 35.2,-2.3 35.7,-1.7 36.2,-1.6 36.7,-2.0 37.2,-1.9 37.7,-2.4 38.2,-1.7 38.7,-1.8 39.2,-1.5 39.7,-1.9 40.2,-1.8 40.7,-2.0 41.2,-2.3 41.7,-1.5 42.2,-2.6 42.7,-2.3 43.2,-2.4 43.7,-2.1 44.2,-2.2 44.7,-2.0 45.2,-1.9 45.7,-1.7 46.2,-1.8 46.7,-1.8 47.2,-1.9 47.7,-2.6 48.2,-2.5 48.7,-2.3 49.2,-1.5 49.7,-1.8 50.2,-2.2 50.7,-2.4 51.2,-2.1 51.7,-2.3 52.3,-2.7 52.8,-1.9 53.3,-2.0 53.8,-2.5 54.3,-2.0 54.8,-2.5 55.3,-2.1 55.8,-1.6 56.3,-2.2 56.8,-1.7 57.3,-2.6 57.8,-2.7 58.3,-2.3 58.8,-2.8 59.3,-1.9 59.8,-2.2 60.3,-1.8 60.8,-1.7 61.3,-2.7 61.8,-1.7 62.3,-2.9 62.8,-2.4 63.3,-2.6 63.8,-1.7 64.3,-2.9 64.8,-2.7 65.3,-1.8 65.8,-1.9 66.3,-1.9 66.8,-2.4 67.3,-1.8 67.8,-2.8 68.3,-2.4 68.8,-2.7 69.4,-2.3 69.9,-3.2 70.4,-3.1 70.9,-3.8 71.4,-3.6 71.9,-5.2 72.4,-5.2 72.9,-6.3 73.4,-6.2 73.9,-6.9 74.4,-8.0 74.9,-14.8 75.4,-41.4 75.9,-41.4 76.4,-41.4 76.9,-41.4 77.4,-41.4 77.9,-41.4 77.9,0"/>
<path class="ex" d="M56.8 0v-41.4"/>
<path d="M0 0m70.1 .0v-41.4m3.5 41.4v-41.4m1.3 41.4v-41.4"/>
<path d="M0 0m72.1 .0v-30.2m1.8 30.2v-16.6m1.3 16.6v-37.8"/>
<path d="M0 0m72.4 .0v-41.4m2.0 41.4v-38.4"/>
<path d="M0 0m72.6 .0v-37.4m2.0 37.4v-41.4"/>
</g>
<rect x="444.60" y="194.40" width="82.00" height="41.40" fill="none" stroke="#555" stroke-width="0.7"/>
<text x="443.4" y="196.1" class="lt">1.00</text>
<text x="443.4" y="206.4" class="lt">0.75</text>
<text x="443.4" y="216.8" class="lt">0.50</text>
<text x="443.4" y="227.2" class="lt">0.25</text>
<text x="443.4" y="237.5" class="lt">0.00</text>
<text x="527.5" y="196.1" class="rt">20</text>
<text x="527.5" y="206.4" class="rt">15</text>
<text x="527.5" y="216.8" class="rt">10</text>
<text x="527.5" y="227.2" class="rt">5</text>
<text x="527.5" y="237.5" class="rt">0</text>
<text transform="translate(432.6,215.1) rotate(-90)" class="yl"><tspan class="it">β</tspan>: Average thermal value</text>
<text transform="translate(538.1,215.1) rotate(-90)" class="yl"><tspan class="it">T</tspan>: Unique threshold</text>
<text transform="translate(447.5,240.2) rotate(-45)" class="xt">0</text>
<text transform="translate(456.3,240.2) rotate(-45)" class="xt">600</text>
<text transform="translate(465.2,240.2) rotate(-45)" class="xt">1200</text>
<text transform="translate(474.1,240.2) rotate(-45)" class="xt">1800</text>
<text transform="translate(482.9,240.2) rotate(-45)" class="xt">2400</text>
<text transform="translate(491.8,240.2) rotate(-45)" class="xt">3000</text>
<text transform="translate(500.6,240.2) rotate(-45)" class="xt">3600</text>
<text transform="translate(509.5,240.2) rotate(-45)" class="xt">4200</text>
<text transform="translate(518.4,240.2) rotate(-45)" class="xt">4800</text>
<text x="485.6" y="251.8" class="xl">Street number</text>
<linearGradient id="w30"><stop offset="0.000" stop-color="#00f" stop-opacity="0.00"/><stop offset="0.100" stop-color="#00f" stop-opacity="0.00"/><stop offset="0.110" stop-color="#00f" stop-opacity="0.03"/><stop offset="0.240" stop-color="#00f" stop-opacity="0.08"/><stop offset="0.360" stop-color="#00f" stop-opacity="0.12"/><stop offset="0.550" stop-color="#00f" stop-opacity="0.18"/><stop offset="0.730" stop-color="#00f" stop-opacity="0.23"/><stop offset="0.900" stop-color="#00f" stop-opacity="0.27"/></linearGradient>
<polyline points="104.0,279.2 104.7,281.1 104.7,281.5 104.7,281.8 104.8,282.1 104.8,282.4 104.9,282.7 104.9,283.1 105.0,283.4 105.0,283.7 105.1,284.0 105.2,284.3 105.2,284.7 105.3,285.0 105.4,285.3 105.5,285.6 105.6,285.9 105.7,286.3 105.8,286.6 105.9,286.9 106.0,287.2 106.1,287.6 106.2,287.9 106.4,288.2 106.5,288.5 106.7,288.8 106.8,289.2 107.0,289.5 107.2,289.8 107.4,290.1 107.6,290.4 107.8,290.8 108.1,291.1 108.3,291.4 108.6,291.7 108.9,292.1 109.2,292.4 109.5,292.7 109.8,293.0 110.2,293.3 110.6,293.7 111.0,294.0 111.4,294.3 111.9,294.6 112.4,294.9 112.9,295.3 113.5,295.6 114.1,295.9 114.7,296.2 115.4,296.6 116.1,296.9 116.9,297.2 117.7,297.5 118.5,297.8 119.5,298.2 120.4,298.5 121.5,298.8 122.6,299.1 123.7,299.4 125.0,299.8 126.3,300.1 127.7,300.4 129.2,300.7 130.8,301.1 132.4,301.4 134.2,301.7 136.1,302.0 138.1,302.3 140.3,302.7 142.6,303.0 145.0,303.3 147.6,303.6 150.3,303.9 153.3,304.3 156.4,304.6 159.7,304.9 163.2,305.2 166.9,305.6 170.8,305.9 175.1,306.2 179.5,306.5" class="gc"/>
<g transform="translate(101.60,309.00)" class="d">
<rect x="2.4" y="-41.4" width="75.5" height="41.4" fill="url(#w30)"/>
<polygon fill-opacity="1" points="2.4,0 2.4,-1.4 3.0,-1.5 3.5,-1.8 4.0,-2.1 4.5,-1.5 5.0,-1.5 5.5,-1.6 6.0,-2.2 6.5,-1.5 7.0,-2.2 7.5,-2.1 8.0,-1.5 8.5,-2.0 9.0,-1.9 9.5,-1.8 10.0,-2.5 10.5,-1.5 11.0,-1.4 11.5,-2.4 12.0,-1.8 12.5,-1.6 13.0,-1.7 13.5,-1.8 14.0,-2.5 14.5,-1.6 15.0,-1.6 15.5,-2.0 16.0,-2.0 16.5,-2.5 17.0,-2.4 17.5,-1.8 18.0,-1.6 18.6,-2.4 19.1,-2.6 19.6,-1.4 20.1,-2.3 20.6,-2.4 21.1,-2.2 21.6,-1.7 22.1,-2.4 22.6,-2.3 23.1,-1.7 23.6,-2.2 24.1,-1.7 24.6,-1.5 25.1,-1.9 25.6,-1.9 26.1,-1.9 26.6,-2.2 27.1,-2.5 27.6,-2.6 28.1,-2.7 28.6,-2.7 29.1,-2.5 29.6,-1.9 30.1,-1.8 30.6,-2.5 31.1,-2.5 31.6,-2.7 32.1,-1.9 32.6,-2.1 33.1,-3.3 33.6,-2.9 34.1,-3.1 34.7,-2.2 35.2,-2.8 35.7,-3.7 36.2,-3.3 36.7,-4.0 37.2,-2.6 37.7,-3.2 38.2,-3.9 38.7,-3.3 39.2,-4.0 39.7,-3.7 40.2,-2.8 40.7,-2.8 41.2,-4.9 41.7,-3.1 42.2,-3.3 42.7,-3.8 43.2,-4.8 43.7,-5.3 44.2,-4.5 44.7,-4.7 45.2,-5.6 45.7,-4.3 46.2,-4.6 46.7,-5.5 47.2,-5.7 47.7,-3.9 48.2,-4.3 48.7,-4.6 49.2,-6.8 49.7,-6.9 50.3,-8.2 50.8,-7.6 51.3,-5.8 51.8,-8.1 52.3,-9.2 52.8,-6.7 53.3,-5.4 53.8,-7.2 54.3,-7.0 54.8,-6.6 55.3,-6.1 55.8,-6.7 56.3,-10.8 56.8,-6.7 57.3,-10.0 57.8,-7.9 58.3,-8.0 58.8,-11.9 59.3,-9.1 59.8,-8.6 60.3,-10.5 60.8,-12.3 61.3,-11.4 61.8,-13.9 62.3,-11.0 62.8,-12.1 63.3,-13.9 63.8,-12.5 64.3,-14.8 64.8,-13.3 65.3,-11.0 65.9,-11.2 66.4,-17.2 66.9,-17.3 67.4,-19.6 67.9,-17.7 68.4,-17.1 68.9,-13.5 69.4,-20.7 69.9,-13.6 70.4,-17.2 70.9,-15.7 71.4,-20.4 71.9,-21.2 72.4,-24.8 72.9,-31.4 73.4,-30.6 73.9,-41.4 74.4,-41.4 74.9,-41.4 75.4,-41.4 75.9,-41.4 76.4,-41.4 76.9,-41.4 77.4,-41.4 77.9,-41.4 77.9,0"/>
<path d="M0 0m11.2 .0v-37.3m13.5 37.3v-29.2m3.0 29.2v-41.4m7.5 41.4v-36.6m2.5 36.6v-41.4m3.3 41.4v-16.6m4.5 16.6v-23.2m1.8 23.2v-35.4m1.8 35.4v-34.3m1.0 34.3v-41.4m1.0 41.4v-41.4m2.8 41.4v-41.4m2.0 41.4v-31.4m1.0 31.4v-40.1m1.3 40.1v-40.0m1.5 40.0v-41.4m1.0 41.4v-41.4m1.0 41.4v-41.4m1.8 41.4v-41.4m1.5 41.4v-41.4m1.0 41.4v-21.8m1.3 21.8v-41.4m1.0 41.4v-37.9m1.0 37.9v-34.3m1.0 34.3v-34.7m1.0 34.7v-41.4m1.0 41.4v-37.3m1.0 37.3v-40.4"/>
<path d="M0 0m16.7 .0v-41.4m9.0 41.4v-41.4m4.5 41.4v-41.4m5.5 41.4v-41.4m2.3 41.4v-10.8m4.0 10.8v-27.5m4.5 27.5v-41.4m1.0 41.4v-41.4m1.8 41.4v-29.4m1.0 29.4v-41.4m1.0 41.4v-41.4m3.3 41.4v-41.4m1.5 41.4v-41.4m1.3 41.4v-23.6m1.0 23.6v-41.4m1.5 41.4v-39.9m1.0 39.9v-18.6m1.3 18.6v-41.4m1.8 41.4v-41.4m1.3 41.4v-36.0m1.0 36.0v-41.4m1.3 41.4v-32.3m1.0 32.3v-41.3m1.0 41.3v-30.7m1.0 30.7v-41.4m1.0 41.4v-41.4m1.0 41.4v-39.8"/>
<path d="M0 0m17.5 .0v-41.4m9.0 41.4v-41.4m4.3 41.4v-38.0m5.3 38.0v-41.4m2.5 41.4v-14.4m5.0 14.4v-41.4m3.3 41.4v-41.4m1.3 41.4v-41.4m1.5 41.4v-41.4m1.0 41.4v-41.4m1.0 41.4v-41.4m3.3 41.4v-39.1m1.5 39.1v-41.4m1.3 41.4v-40.9m1.0 40.9v-32.6m1.5 32.6v-22.2m1.0 22.2v-22.6m1.3 22.6v-41.4m2.0 41.4v-41.4m1.0 41.4v-20.4m1.0 20.4v-26.5m1.3 26.5v-41.4m1.0 41.4v-41.4m1.0 41.4v-41.4m1.0 41.4v-41.4m1.0 41.4v-33.6m1.0 33.6v-41.4"/>
<path d="M0 0m20.8 .0v-10.0m6.3 10.0v-41.4m5.5 41.4v-20.6m4.5 20.6v-41.4m2.3 41.4v-41.4m5.8 41.4v-41.4m2.0 41.4v-19.4m1.5 19.4v-32.6m1.3 32.6v-36.4m1.0 36.4v-11.3m2.0 11.3v-41.4m2.3 41.4v-41.4m1.5 41.4v-41.4m1.3 41.4v-41.4m1.3 41.4v-41.4m1.3 41.4v-41.4m1.0 41.4v-33.5m1.5 33.5v-35.8m1.8 35.8v-29.7m1.0 29.7v-41.4m1.0 41.4v-37.6m1.3 37.6v-26.5m1.0 26.5v-41.4m1.0 41.4v-41.4m1.0 41.4v-38.9m1.0 38.9v-41.4m1.0 41.4v-39.9"/>
<polygon class="fl" fill-opacity="0.5" points="2.4,0 2.4,0.0 3.0,-0.0 3.5,-0.0 4.0,-0.0 4.5,-0.0 5.0,-0.0 5.5,-0.0 6.0,-0.0 6.5,-0.0 7.0,-0.0 7.5,-0.0 8.0,-0.0 8.5,-0.0 9.0,-0.0 9.5,-0.0 10.0,-0.0 10.5,-0.0 11.0,-0.0 11.5,-0.0 12.0,-0.0 12.5,-0.0 13.0,-0.0 13.5,-0.0 14.0,-0.0 14.5,-0.0 15.0,-0.0 15.5,-0.0 16.0,-0.0 16.5,-0.0 17.0,-0.0 17.5,-0.0 18.0,-0.0 18.6,-0.0 19.1,-0.0 19.6,-0.0 20.1,-0.0 20.6,-0.0 21.1,-0.0 21.6,-0.0 22.1,-0.0 22.6,-0.0 23.1,-0.0 23.6,-0.0 24.1,-0.0 24.6,-0.0 25.1,-0.0 25.6,-0.0 26.1,-0.0 26.6,-0.0 27.1,-0.0 27.6,-0.0 28.1,-0.0 28.6,-0.0 29.1,-0.0 29.6,-0.0 30.1,-0.0 30.6,-0.0 31.1,-0.0 31.6,-0.0 32.1,-0.0 32.6,-0.0 33.1,-0.0 33.6,-0.0 34.1,-0.0 34.7,-0.0 35.2,-0.0 35.7,-0.0 36.2,-0.0 36.7,-0.0 37.2,-0.0 37.7,-0.0 38.2,-0.0 38.7,-0.0 39.2,-0.0 39.7,-0.0 40.2,-0.0 40.7,-0.0 41.2,-0.0 41.7,-0.0 42.2,-0.0 42.7,-0.0 43.2,-0.0 43.7,-0.0 44.2,-0.0 44.7,-0.0 45.2,-0.0 45.7,-0.0 46.2,-0.0 46.7,-0.0 47.2,-0.0 47.7,-0.0 48.2,-0.0 48.7,-0.0 49.2,-0.0 49.7,-0.0 50.3,-0.0 50.8,-0.0 51.3,-0.0 51.8,-0.0 52.3,-0.0 52.8,-0.0 53.3,-0.0 53.8,-0.0 54.3,-0.0 54.8,-0.0 55.3,-0.0 55.8,-0.0 56.3,-0.0 56.8,-0.0 57.3,-0.0 57.8,-0.0 58.3,-0.0 58.8,-0.0 59.3,-0.0 59.8,-0.0 60.3,-0.0 60.8,-0.0 61.3,-0.0 61.8,-0.0 62.3,-0.0 62.8,-0.0 63.3,-0.0 63.8,-0.0 64.3,-0.0 64.8,-0.0 65.3,-0.0 65.9,-0.0 66.4,-0.0 66.9,-0.4 67.4,-1.0 67.9,-2.4 68.4,-2.2 68.9,-4.2 69.4,-5.2 69.9,-4.9 70.4,-3.9 70.9,-4.9 71.4,-4.3 71.9,-4.9 72.4,-5.8 72.9,-7.0 73.4,-8.2 73.9,-4.9 74.4,-8.4 74.9,-5.5 75.4,-8.5 75.9,-5.0 76.4,-6.7 76.9,-9.6 77.4,-9.3 77.9,-5.2 78.5,0"/>
</g>
<rect x="101.60" y="267.60" width="81.60" height="41.40" fill="none" stroke="#555" stroke-width="0.7"/>
<text x="100.4" y="269.3" class="lt">1.00</text>
<text x="100.4" y="279.7" class="lt">0.75</text>
<text x="100.4" y="290.0" class="lt">0.50</text>
<text x="100.4" y="300.3" class="lt">0.25</text>
<text x="100.4" y="310.7" class="lt">0.00</text>
<text x="184.1" y="269.3" class="rt">20</text>
<text x="184.1" y="279.7" class="rt">15</text>
<text x="184.1" y="290.0" class="rt">10</text>
<text x="184.1" y="300.3" class="rt">5</text>
<text x="184.1" y="310.7" class="rt">0</text>
<text transform="translate(89.6,288.3) rotate(-90)" class="yl"><tspan class="it">β</tspan>: Average thermal value</text>
<text transform="translate(194.7,288.3) rotate(-90)" class="yl"><tspan class="it">T</tspan>: Unique threshold</text>
<text transform="translate(104.4,313.4) rotate(-45)" class="xt">0</text>
<text transform="translate(116.4,313.4) rotate(-45)" class="xt">600</text>
<text transform="translate(128.3,313.4) rotate(-45)" class="xt">1200</text>
<text transform="translate(140.3,313.4) rotate(-45)" class="xt">1800</text>
<text transform="translate(152.3,313.4) rotate(-45)" class="xt">2400</text>
<text transform="translate(164.2,313.4) rotate(-45)" class="xt">3000</text>
<text transform="translate(176.2,313.4) rotate(-45)" class="xt">3600</text>
<text x="142.4" y="325.0" class="xl">Street number</text>
<linearGradient id="w31"><stop offset="0.000" stop-color="#00f" stop-opacity="0.00"/><stop offset="0.700" stop-color="#00f" stop-opacity="0.00"/><stop offset="0.710" stop-color="#00f" stop-opacity="0.02"/><stop offset="0.850" stop-color="#00f" stop-opacity="0.05"/><stop offset="0.900" stop-color="#00f" stop-opacity="0.12"/></linearGradient>
<polyline points="218.7,267.6 219.3,280.1 219.4,280.4 219.4,280.7 219.5,281.0 219.5,281.3 219.6,281.6 219.6,281.9 219.7,282.3 219.7,282.6 219.8,282.9 219.9,283.2 219.9,283.5 220.0,283.8 220.1,284.1 220.2,284.4 220.2,284.7 220.3,285.0 220.4,285.3 220.5,285.6 220.7,285.9 220.8,286.2 220.9,286.5 221.0,286.8 221.2,287.1 221.3,287.4 221.5,287.7 221.7,288.0 221.9,288.3 222.1,288.6 222.3,288.9 222.5,289.2 222.7,289.5 223.0,289.8 223.3,290.1 223.5,290.5 223.8,290.8 224.2,291.1 224.5,291.4 224.9,291.7 225.2,292.0 225.7,292.3 226.1,292.6 226.6,292.9 227.1,293.2 227.6,293.5 228.1,293.8 228.7,294.1 229.4,294.4 230.0,294.7 230.7,295.0 231.5,295.3 232.3,295.6 233.1,295.9 234.0,296.2 235.0,296.5 236.0,296.8 237.1,297.1 238.3,297.4 239.5,297.7 240.8,298.0 242.2,298.3 243.7,298.6 245.3,299.0 246.9,299.3 248.7,299.6 250.6,299.9 252.6,300.2 254.8,300.5 257.0,300.8 259.4,301.1 262.0,301.4 264.7,301.7 267.6,302.0 270.7,302.3 274.0,302.6 277.5,302.9 281.2,303.2 285.1,303.5 289.3,303.8 293.7,304.1" class="gc"/>
<g transform="translate(216.30,309.00)" class="d">
<rect x="2.4" y="-41.4" width="75.0" height="41.4" fill="url(#w31)"/>
<polygon fill-opacity="1" points="2.4,0 2.4,-1.5 2.9,-1.6 3.5,-1.7 4.0,-2.4 4.5,-1.9 5.0,-2.2 5.5,-1.5 6.0,-1.9 6.5,-2.3 7.0,-2.0 7.5,-2.4 8.0,-2.4 8.5,-1.8 9.0,-1.4 9.5,-2.2 10.0,-1.5 10.5,-1.4 11.0,-2.2 11.5,-2.3 12.0,-2.3 12.5,-2.5 13.0,-1.6 13.5,-1.5 14.0,-1.5 14.5,-2.5 15.0,-1.5 15.5,-1.5 16.0,-1.4 16.5,-1.4 17.0,-1.4 17.5,-1.8 18.0,-1.6 18.5,-1.7 19.1,-2.4 19.6,-1.6 20.1,-2.3 20.6,-2.2 21.1,-2.0 21.6,-2.1 22.1,-2.3 22.6,-2.1 23.1,-1.7 23.6,-1.8 24.1,-1.7 24.6,-1.9 25.1,-2.6 25.6,-1.9 26.1,-1.5 26.6,-2.0 27.1,-2.4 27.6,-2.0 28.1,-2.3 28.6,-1.5 29.1,-1.5 29.6,-2.2 30.1,-1.5 30.6,-1.8 31.1,-1.9 31.6,-1.7 32.1,-1.5 32.6,-1.5 33.1,-2.6 33.6,-2.3 34.1,-2.6 34.7,-2.1 35.2,-2.7 35.7,-2.6 36.2,-2.3 36.7,-2.1 37.2,-2.1 37.7,-1.8 38.2,-2.0 38.7,-2.4 39.2,-1.8 39.7,-2.6 40.2,-2.2 40.7,-2.3 41.2,-2.6 41.7,-2.3 42.2,-1.7 42.7,-1.9 43.2,-1.5 43.7,-1.6 44.2,-2.8 44.7,-2.3 45.2,-2.8 45.7,-2.6 46.2,-2.0 46.7,-2.8 47.2,-2.8 47.7,-2.2 48.2,-1.7 48.7,-2.0 49.2,-1.8 49.7,-2.1 50.3,-1.7 50.8,-2.5 51.3,-2.9 51.8,-1.9 52.3,-2.6 52.8,-2.4 53.3,-2.2 53.8,-2.8 54.3,-2.1 54.8,-2.7 55.3,-1.7 55.8,-2.9 56.3,-1.9 56.8,-1.6 57.3,-2.8 57.8,-2.6 58.3,-2.6 58.8,-2.7 59.3,-2.2 59.8,-1.8 60.3,-2.1 60.8,-3.0 61.3,-3.0 61.8,-2.0 62.3,-2.3 62.8,-2.3 63.3,-2.9 63.8,-1.7 64.3,-2.8 64.8,-2.0 65.3,-2.5 65.9,-1.9 66.4,-1.8 66.9,-3.2 67.4,-2.8 67.9,-3.7 68.4,-3.8 68.9,-3.7 69.4,-2.6 69.9,-3.8 70.4,-5.4 70.9,-4.8 71.4,-4.1 71.9,-5.0 72.4,-8.7 72.9,-9.5 73.4,-9.2 73.9,-12.8 74.4,-20.1 74.9,-27.7 75.4,-41.4 75.9,-41.4 76.4,-41.4 76.9,-41.4 77.4,-41.4 77.4,0"/>
<path class="ex" d="M14.4 0v-41.4M27.9 0v-41.4M45.9 0v-12.4M52.7 0v-14.5M55.7 0v-41.4M61.7 0v-41.4M65.4 0v-41.4M67.7 0v-41.4"/>
<path d="M0 0m56.1 .0v-31.9m13.5 31.9v-41.4m4.8 41.4v-40.4"/>
<path d="M0 0m64.6 .0v-41.4m7.0 41.4v-17.3m3.0 17.3v-38.5"/>
<path d="M0 0m66.9 .0v-15.0m5.0 15.0v-36.2"/>
<path d="M0 0m67.9 .0v-22.5m5.8 22.5v-25.8"/>
</g>
<rect x="216.30" y="267.60" width="81.50" height="41.40" fill="none" stroke="#555" stroke-width="0.7"/>
<text x="215.1" y="269.3" class="lt">1.00</text>
<text x="215.1" y="279.7" class="lt">0.75</text>
<text x="215.1" y="290.0" class="lt">0.50</text>
<text x="215.1" y="300.3" class="lt">0.25</text>
<text x="215.1" y="310.7" class="lt">0.00</text>
<text x="298.7" y="269.3" class="rt">20</text>
<text x="298.7" y="279.7" class="rt">15</text>
<text x="298.7" y="290.0" class="rt">10</text>
<text x="298.7" y="300.3" class="rt">5</text>
<text x="298.7" y="310.7" class="rt">0</text>
<text transform="translate(204.3,288.3) rotate(-90)" class="yl"><tspan class="it">β</tspan>: Average thermal value</text>
<text transform="translate(309.3,288.3) rotate(-90)" class="yl"><tspan class="it">T</tspan>: Unique threshold</text>
<text transform="translate(219.1,313.4) rotate(-45)" class="xt">0</text>
<text transform="translate(228.7,313.4) rotate(-45)" class="xt">600</text>
<text transform="translate(238.2,313.4) rotate(-45)" class="xt">1200</text>
<text transform="translate(247.7,313.4) rotate(-45)" class="xt">1800</text>
<text transform="translate(257.3,313.4) rotate(-45)" class="xt">2400</text>
<text transform="translate(266.8,313.4) rotate(-45)" class="xt">3000</text>
<text transform="translate(276.3,313.4) rotate(-45)" class="xt">3600</text>
<text transform="translate(285.9,313.4) rotate(-45)" class="xt">4200</text>
<text x="257.1" y="325.0" class="xl">Street number</text>
<linearGradient id="w32"><stop offset="0.000" stop-color="#00f" stop-opacity="0.00"/><stop offset="0.710" stop-color="#00f" stop-opacity="0.00"/><stop offset="0.720" stop-color="#00f" stop-opacity="0.02"/><stop offset="0.800" stop-color="#00f" stop-opacity="0.05"/><stop offset="0.850" stop-color="#00f" stop-opacity="0.12"/><stop offset="0.900" stop-color="#00f" stop-opacity="0.18"/></linearGradient>
<polyline points="334.6,267.6 335.2,276.6 335.2,277.0 335.2,277.3 335.3,277.7 335.3,278.0 335.4,278.4 335.4,278.8 335.5,279.1 335.5,279.5 335.6,279.8 335.7,280.2 335.7,280.5 335.8,280.9 335.9,281.2 336.0,281.6 336.1,281.9 336.2,282.3 336.3,282.6 336.4,283.0 336.5,283.4 336.6,283.7 336.7,284.1 336.9,284.4 337.0,284.8 337.2,285.1 337.3,285.5 337.5,285.8 337.7,286.2 337.9,286.5 338.1,286.9 338.3,287.3 338.6,287.6 338.8,288.0 339.1,288.3 339.4,288.7 339.7,289.0 340.0,289.4 340.3,289.7 340.7,290.1 341.1,290.4 341.5,290.8 341.9,291.2 342.4,291.5 342.9,291.9 343.4,292.2 344.0,292.6 344.6,292.9 345.2,293.3 345.9,293.6 346.6,294.0 347.4,294.3 348.2,294.7 349.0,295.0 349.9,295.4 350.9,295.8 351.9,296.1 353.0,296.5 354.2,296.8 355.4,297.2 356.7,297.5 358.1,297.9 359.6,298.2 361.2,298.6 362.9,298.9 364.7,299.3 366.6,299.7 368.6,300.0 370.7,300.4 373.0,300.7 375.4,301.1 378.0,301.4 380.8,301.8 383.7,302.1 386.8,302.5 390.1,302.8 393.6,303.2 397.3,303.5 401.2,303.9 405.4,304.3 409.9,304.6" class="gc"/>
<g transform="translate(332.10,309.00)" class="d">
<rect x="2.5" y="-41.4" width="75.3" height="41.4" fill="url(#w32)"/>
<polygon fill-opacity="1" points="2.5,0 2.5,-2.0 3.0,-2.1 3.5,-2.3 4.0,-1.7 4.5,-2.1 5.0,-2.4 5.5,-2.4 6.0,-1.6 6.5,-2.1 7.0,-2.1 7.5,-1.9 8.0,-2.5 8.5,-2.0 9.0,-1.9 9.5,-2.4 10.0,-2.1 10.5,-1.7 11.0,-1.7 11.5,-1.9 12.0,-1.4 12.5,-2.1 13.0,-2.2 13.5,-1.9 14.0,-2.3 14.5,-2.4 15.0,-2.0 15.5,-2.1 16.0,-1.5 16.5,-1.4 17.0,-2.5 17.5,-1.7 18.0,-1.6 18.5,-2.4 19.0,-2.2 19.5,-1.5 20.0,-1.8 20.5,-1.7 21.0,-1.7 21.5,-1.4 22.0,-2.0 22.5,-1.8 23.1,-1.9 23.6,-1.6 24.1,-1.5 24.6,-1.5 25.1,-2.4 25.6,-2.3 26.1,-2.1 26.6,-1.6 27.1,-1.6 27.6,-1.6 28.1,-1.8 28.6,-1.5 29.1,-1.8 29.6,-1.7 30.1,-1.7 30.6,-2.2 31.1,-2.0 31.6,-2.0 32.1,-1.9 32.6,-2.1 33.1,-2.4 33.6,-1.9 34.1,-1.6 34.6,-2.1 35.1,-2.0 35.6,-2.5 36.1,-1.6 36.6,-2.6 37.1,-1.5 37.6,-2.2 38.1,-2.1 38.6,-1.9 39.1,-2.6 39.6,-2.4 40.1,-1.7 40.6,-2.1 41.1,-2.3 41.6,-1.6 42.1,-1.6 42.6,-2.3 43.1,-2.5 43.6,-2.1 44.1,-2.1 44.7,-2.2 45.2,-1.9 45.7,-2.7 46.2,-2.8 46.7,-2.2 47.2,-1.6 47.7,-2.1 48.2,-2.6 48.7,-2.0 49.2,-1.7 49.7,-1.8 50.2,-2.5 50.7,-2.4 51.2,-2.0 51.7,-2.4 52.2,-2.6 52.7,-2.9 53.2,-2.7 53.7,-2.2 54.2,-2.7 54.7,-2.9 55.2,-2.8 55.7,-2.6 56.2,-2.4 56.7,-2.3 57.2,-2.8 57.7,-2.5 58.2,-2.6 58.7,-1.9 59.2,-1.8 59.7,-2.0 60.2,-2.4 60.7,-2.4 61.2,-1.9 61.7,-1.9 62.2,-3.0 62.7,-1.8 63.2,-3.0 63.7,-2.7 64.2,-2.5 64.7,-3.1 65.2,-2.6 65.7,-1.7 66.3,-3.0 66.8,-2.4 67.3,-3.5 67.8,-3.7 68.3,-2.7 68.8,-2.7 69.3,-2.8 69.8,-4.9 70.3,-5.3 70.8,-4.3 71.3,-4.5 71.8,-6.0 72.3,-8.4 72.8,-8.9 73.3,-10.3 73.8,-12.7 74.3,-16.1 74.8,-21.5 75.3,-20.0 75.8,-41.4 76.3,-41.4 76.8,-41.4 77.3,-41.4 77.8,-41.4 77.8,0"/>
<path class="ex" d="M13.8 0v-41.4"/>
<path d="M0 0m61.3 .0v-41.4m4.5 41.4v-41.4m4.3 41.4v-11.6m1.5 11.6v-41.4m3.5 41.4v-41.4"/>
<path d="M0 0m62.8 .0v-41.4m4.5 41.4v-11.0m3.0 11.0v-41.4m2.5 41.4v-41.2"/>
<path d="M0 0m64.0 .0v-41.4m3.5 41.4v-20.1m3.0 20.1v-41.4m3.0 41.4v-35.3"/>
<path d="M0 0m64.8 .0v-27.9m4.3 27.9v-39.6m2.0 39.6v-41.4m3.5 41.4v-41.4"/>
</g>
<rect x="332.10" y="267.60" width="81.90" height="41.40" fill="none" stroke="#555" stroke-width="0.7"/>
<text x="330.9" y="269.3" class="lt">1.00</text>
<text x="330.9" y="279.7" class="lt">0.75</text>
<text x="330.9" y="290.0" class="lt">0.50</text>
<text x="330.9" y="300.3" class="lt">0.25</text>
<text x="330.9" y="310.7" class="lt">0.00</text>
<text x="414.9" y="269.3" class="rt">20</text>
<text x="414.9" y="279.7" class="rt">15</text>
<text x="414.9" y="290.0" class="rt">10</text>
<text x="414.9" y="300.3" class="rt">5</text>
<text x="414.9" y="310.7" class="rt">0</text>
<text transform="translate(320.1,288.3) rotate(-90)" class="yl"><tspan class="it">β</tspan>: Average thermal value</text>
<text transform="translate(425.5,288.3) rotate(-90)" class="yl"><tspan class="it">T</tspan>: Unique threshold</text>
<text transform="translate(335.0,313.4) rotate(-45)" class="xt">0</text>
<text transform="translate(344.2,313.4) rotate(-45)" class="xt">600</text>
<text transform="translate(353.5,313.4) rotate(-45)" class="xt">1200</text>
<text transform="translate(362.7,313.4) rotate(-45)" class="xt">1800</text>
<text transform="translate(372.0,313.4) rotate(-45)" class="xt">2400</text>
<text transform="translate(381.2,313.4) rotate(-45)" class="xt">3000</text>
<text transform="translate(390.5,313.4) rotate(-45)" class="xt">3600</text>
<text transform="translate(399.8,313.4) rotate(-45)" class="xt">4200</text>
<text x="373.1" y="325.0" class="xl">Street number</text>
<linearGradient id="w33"><stop offset="0.000" stop-color="#00f" stop-opacity="0.00"/><stop offset="0.710" stop-color="#00f" stop-opacity="0.00"/><stop offset="0.720" stop-color="#00f" stop-opacity="0.03"/><stop offset="0.760" stop-color="#00f" stop-opacity="0.06"/><stop offset="0.850" stop-color="#00f" stop-opacity="0.10"/><stop offset="0.950" stop-color="#00f" stop-opacity="0.17"/></linearGradient>
<polyline points="447.1,267.6 447.7,276.9 447.7,277.2 447.7,277.6 447.8,278.0 447.8,278.3 447.9,278.7 447.9,279.0 448.0,279.4 448.0,279.8 448.1,280.1 448.2,280.5 448.2,280.8 448.3,281.2 448.4,281.6 448.5,281.9 448.6,282.3 448.7,282.6 448.8,283.0 448.9,283.4 449.0,283.7 449.1,284.1 449.2,284.4 449.4,284.8 449.5,285.2 449.7,285.5 449.8,285.9 450.0,286.2 450.2,286.6 450.4,286.9 450.6,287.3 450.8,287.7 451.1,288.0 451.3,288.4 451.6,288.7 451.9,289.1 452.2,289.5 452.5,289.8 452.9,290.2 453.2,290.5 453.6,290.9 454.0,291.3 454.5,291.6 454.9,292.0 455.4,292.3 455.9,292.7 456.5,293.1 457.1,293.4 457.7,293.8 458.4,294.1 459.1,294.5 459.9,294.9 460.7,295.2 461.5,295.6 462.5,295.9 463.4,296.3 464.5,296.7 465.6,297.0 466.7,297.4 468.0,297.7 469.3,298.1 470.7,298.4 472.2,298.8 473.8,299.2 475.4,299.5 477.2,299.9 479.1,300.2 481.1,300.6 483.3,301.0 485.6,301.3 488.0,301.7 490.6,302.0 493.3,302.4 496.2,302.8 499.3,303.1 502.6,303.5 506.1,303.8 509.9,304.2 513.8,304.6 518.0,304.9 522.5,305.3" class="gc"/>
<g transform="translate(444.60,309.00)" class="d">
<rect x="2.5" y="-41.4" width="75.4" height="41.4" fill="url(#w33)"/>
<polygon fill-opacity="1" points="2.5,0 2.5,-2.0 3.0,-2.0 3.5,-2.3 4.0,-2.4 4.5,-2.4 5.0,-1.8 5.5,-2.4 6.0,-1.8 6.5,-1.7 7.0,-1.5 7.5,-1.9 8.0,-1.5 8.5,-1.7 9.0,-2.1 9.5,-2.3 10.0,-2.2 10.5,-1.5 11.0,-1.4 11.5,-1.7 12.0,-2.0 12.5,-2.3 13.0,-2.3 13.5,-2.4 14.0,-2.0 14.5,-2.1 15.0,-1.7 15.5,-1.7 16.0,-1.6 16.5,-2.0 17.0,-2.1 17.5,-2.0 18.1,-1.8 18.6,-1.8 19.1,-1.6 19.6,-2.3 20.1,-2.0 20.6,-2.2 21.1,-2.3 21.6,-1.7 22.1,-1.5 22.6,-1.7 23.1,-2.4 23.6,-2.3 24.1,-1.8 24.6,-2.3 25.1,-1.8 25.6,-2.4 26.1,-1.5 26.6,-2.2 27.1,-2.5 27.6,-1.8 28.1,-1.9 28.6,-1.5 29.1,-1.7 29.6,-1.6 30.1,-1.7 30.6,-1.4 31.1,-1.7 31.6,-1.5 32.1,-2.0 32.6,-1.8 33.1,-1.6 33.6,-2.4 34.1,-1.7 34.6,-2.0 35.2,-2.4 35.7,-2.3 36.2,-2.5 36.7,-2.1 37.2,-2.4 37.7,-1.5 38.2,-2.3 38.7,-1.8 39.2,-1.8 39.7,-2.3 40.2,-2.3 40.7,-1.8 41.2,-1.9 41.7,-1.8 42.2,-2.6 42.7,-2.2 43.2,-1.8 43.7,-2.1 44.2,-1.5 44.7,-1.8 45.2,-2.1 45.7,-2.7 46.2,-2.6 46.7,-2.2 47.2,-2.5 47.7,-1.8 48.2,-2.4 48.7,-2.8 49.2,-1.7 49.7,-2.7 50.2,-2.8 50.7,-2.0 51.2,-2.6 51.7,-2.8 52.3,-1.7 52.8,-2.2 53.3,-2.3 53.8,-2.6 54.3,-1.9 54.8,-2.6 55.3,-2.5 55.8,-2.7 56.3,-2.6 56.8,-2.7 57.3,-2.4 57.8,-2.3 58.3,-2.2 58.8,-2.2 59.3,-2.2 59.8,-2.3 60.3,-2.2 60.8,-1.8 61.3,-2.2 61.8,-2.9 62.3,-2.1 62.8,-3.0 63.3,-2.8 63.8,-2.3 64.3,-2.0 64.8,-2.9 65.3,-3.0 65.8,-2.1 66.3,-2.6 66.8,-2.8 67.3,-2.8 67.8,-2.2 68.3,-2.5 68.8,-3.5 69.4,-3.5 69.9,-3.8 70.4,-3.1 70.9,-5.4 71.4,-6.0 71.9,-5.9 72.4,-8.2 72.9,-6.7 73.4,-8.5 73.9,-10.1 74.4,-17.8 74.9,-22.6 75.4,-25.3 75.9,-41.4 76.4,-41.4 76.9,-41.4 77.4,-41.4 77.9,-41.4 77.9,0"/>
<path class="ex" d="M29.6 0v-8.3"/>
<path d="M0 0m57.3 .0v-41.4m6.0 41.4v-41.4m6.0 41.4v-25.2m2.0 25.2v-41.4m2.0 41.4v-20.7"/>
<path d="M0 0m58.1 .0v-41.4m7.3 41.4v-12.2m4.3 12.2v-29.3m2.3 29.3v-41.4m1.8 41.4v-13.0"/>
<path d="M0 0m61.1 .0v-41.4m5.5 41.4v-25.5m3.3 25.5v-41.4m2.3 41.4v-27.8m2.0 27.8v-18.2"/>
<path d="M0 0m62.1 .0v-23.5m6.5 23.5v-12.9m2.5 12.9v-41.4m1.5 41.4v-31.6"/>
</g>
<rect x="444.60" y="267.60" width="82.00" height="41.40" fill="none" stroke="#555" stroke-width="0.7"/>
<text x="443.4" y="269.3" class="lt">1.00</text>
<text x="443.4" y="279.7" class="lt">0.75</text>
<text x="443.4" y="290.0" class="lt">0.50</text>
<text x="443.4" y="300.3" class="lt">0.25</text>
<text x="443.4" y="310.7" class="lt">0.00</text>
<text x="527.5" y="269.3" class="rt">20</text>
<text x="527.5" y="279.7" class="rt">15</text>
<text x="527.5" y="290.0" class="rt">10</text>
<text x="527.5" y="300.3" class="rt">5</text>
<text x="527.5" y="310.7" class="rt">0</text>
<text transform="translate(432.6,288.3) rotate(-90)" class="yl"><tspan class="it">β</tspan>: Average thermal value</text>
<text transform="translate(538.1,288.3) rotate(-90)" class="yl"><tspan class="it">T</tspan>: Unique threshold</text>
<text transform="translate(447.5,313.4) rotate(-45)" class="xt">0</text>
<text transform="translate(456.6,313.4) rotate(-45)" class="xt">600</text>
<text transform="translate(465.8,313.4) rotate(-45)" class="xt">1200</text>
<text transform="translate(474.9,313.4) rotate(-45)" class="xt">1800</text>
<text transform="translate(484.1,313.4) rotate(-45)" class="xt">2400</text>
<text transform="translate(493.3,313.4) rotate(-45)" class="xt">3000</text>
<text transform="translate(502.4,313.4) rotate(-45)" class="xt">3600</text>
<text transform="translate(511.6,313.4) rotate(-45)" class="xt">4200</text>
<text x="485.6" y="325.0" class="xl">Street number</text>
<linearGradient id="w40"><stop offset="0.000" stop-color="#00f" stop-opacity="0.00"/><stop offset="0.030" stop-color="#00f" stop-opacity="0.00"/><stop offset="0.040" stop-color="#00f" stop-opacity="0.05"/><stop offset="0.080" stop-color="#00f" stop-opacity="0.09"/><stop offset="0.150" stop-color="#00f" stop-opacity="0.17"/><stop offset="0.360" stop-color="#00f" stop-opacity="0.18"/><stop offset="0.730" stop-color="#00f" stop-opacity="0.22"/><stop offset="0.900" stop-color="#00f" stop-opacity="0.25"/></linearGradient>
<polyline points="104.0,355.8 104.7,355.8 104.7,355.8 104.7,355.8 104.8,355.8 104.8,355.8 104.9,355.8 104.9,355.8 105.0,355.8 105.0,355.8 105.1,355.8 105.2,355.8 105.2,355.8 105.3,355.8 105.4,355.8 105.5,356.0 105.6,356.4 105.7,356.8 105.8,357.2 105.9,357.5 106.0,357.9 106.1,358.3 106.2,358.7 106.4,359.1 106.5,359.5 106.7,359.8 106.8,360.2 107.0,360.6 107.2,361.0 107.4,361.4 107.6,361.7 107.8,362.1 108.1,362.5 108.3,362.9 108.6,363.3 108.9,363.7 109.2,364.0 109.5,364.4 109.8,364.8 110.2,365.2 110.6,365.6 111.0,366.0 111.4,366.3 111.9,366.7 112.4,367.1 112.9,367.5 113.5,367.9 114.1,368.3 114.7,368.6 115.4,369.0 116.1,369.4 116.9,369.8 117.7,370.2 118.5,370.6 119.5,370.9 120.4,371.3 121.5,371.7 122.6,372.1 123.7,372.5 125.0,372.9 126.3,373.2 127.7,373.6 129.2,374.0 130.8,374.4 132.4,374.8 134.2,375.2 136.1,375.5 138.1,375.9 140.3,376.3 142.6,376.7 145.0,377.1 147.6,377.5 150.3,377.8 153.3,378.2 156.4,378.6 159.7,379.0 163.2,379.4 166.9,379.8 170.8,380.1 175.1,380.5 179.5,380.9" class="gc"/>
<g transform="translate(101.60,383.00)" class="d">
<rect x="2.4" y="-41.8" width="75.5" height="41.8" fill="url(#w40)"/>
<polygon fill-opacity="0.85" points="2.4,0 2.4,-1.8 3.0,-1.6 3.5,-1.6 4.0,-2.4 4.5,-2.0 5.0,-2.2 5.5,-2.0 6.0,-1.8 6.5,-2.2 7.0,-2.0 7.5,-2.6 8.0,-2.7 8.5,-3.3 9.0,-3.0 9.5,-2.7 10.0,-2.9 10.5,-4.7 11.0,-3.8 11.5,-5.7 12.0,-6.1 12.5,-4.6 13.0,-7.9 13.5,-5.3 14.0,-9.3 14.5,-9.4 15.0,-6.7 15.5,-9.4 16.0,-9.6 16.5,-6.7 17.0,-9.7 17.5,-7.1 18.0,-11.5 18.6,-10.5 19.1,-12.4 19.6,-7.3 20.1,-9.0 20.6,-11.0 21.1,-11.1 21.6,-8.6 22.1,-13.2 22.6,-13.1 23.1,-9.8 23.6,-8.8 24.1,-12.4 24.6,-10.8 25.1,-12.7 25.6,-11.7 26.1,-11.1 26.6,-8.6 27.1,-9.5 27.6,-11.9 28.1,-14.0 28.6,-12.0 29.1,-14.5 29.6,-13.1 30.1,-15.8 30.6,-14.2 31.1,-11.8 31.6,-10.5 32.1,-10.0 32.6,-9.9 33.1,-16.5 33.6,-16.7 34.1,-15.8 34.7,-10.6 35.2,-15.1 35.7,-10.8 36.2,-17.1 36.7,-15.3 37.2,-16.1 37.7,-15.0 38.2,-13.5 38.7,-17.1 39.2,-18.1 39.7,-12.1 40.2,-13.8 40.7,-16.4 41.2,-16.0 41.7,-13.7 42.2,-14.1 42.7,-18.6 43.2,-12.7 43.7,-12.2 44.2,-16.4 44.7,-12.9 45.2,-18.3 45.7,-13.4 46.2,-18.7 46.7,-13.9 47.2,-18.5 47.7,-17.3 48.2,-17.3 48.7,-12.8 49.2,-12.5 49.7,-11.4 50.3,-12.9 50.8,-17.6 51.3,-12.0 51.8,-13.8 52.3,-17.1 52.8,-13.2 53.3,-15.1 53.8,-14.2 54.3,-18.8 54.8,-13.4 55.3,-22.4 55.8,-18.5 56.3,-19.9 56.8,-18.4 57.3,-17.9 57.8,-23.1 58.3,-22.5 58.8,-21.9 59.3,-13.4 59.8,-19.7 60.3,-23.8 60.8,-20.6 61.3,-19.3 61.8,-21.0 62.3,-15.8 62.8,-22.3 63.3,-23.3 63.8,-15.1 64.3,-20.7 64.8,-22.0 65.3,-19.3 65.9,-23.7 66.4,-27.1 66.9,-27.3 67.4,-19.8 67.9,-18.0 68.4,-27.7 68.9,-24.8 69.4,-28.1 69.9,-29.0 70.4,-21.0 70.9,-26.8 71.4,-23.7 71.9,-33.1 72.4,-32.9 72.9,-41.8 73.4,-41.8 73.9,-41.8 74.4,-41.8 74.9,-41.8 75.4,-41.8 75.9,-41.8 76.4,-41.8 76.9,-41.8 77.4,-41.8 77.9,-41.8 77.9,0"/>
<path d="M0 0m6.5 .0v-41.8m3.8 41.8v-15.2m4.0 15.2v-41.8m2.0 41.8v-41.8m2.8 41.8v-41.8m2.5 41.8v-22.3m1.5 22.3v-21.5m2.3 21.5v-40.8m5.0 40.8v-39.5m2.8 39.5v-41.8m1.8 41.8v-22.5m2.0 22.5v-41.8m1.8 41.8v-41.8m2.8 41.8v-41.8m3.0 41.8v-41.8m1.0 41.8v-41.0m1.3 41.0v-34.0m1.3 34.0v-41.8m2.0 41.8v-37.8m1.5 37.8v-41.8m2.3 41.8v-41.8m2.0 41.8v-27.3m2.0 27.3v-32.5m1.0 32.5v-41.8m2.0 41.8v-41.8m1.8 41.8v-41.8m1.0 41.8v-38.3m1.5 38.3v-41.8m1.0 41.8v-38.5m2.0 38.5v-37.4m1.5 37.4v-41.8m1.0 41.8v-41.8m1.5 41.8v-41.8"/>
<path d="M0 0m7.2 .0v-30.8m3.3 30.8v-31.9m4.0 31.9v-41.8m2.3 41.8v-21.4m3.8 21.4v-28.9m1.3 28.9v-22.1m2.8 22.1v-41.8m2.5 41.8v-39.2m4.0 39.2v-41.8m2.5 41.8v-41.8m1.5 41.8v-41.8m2.5 41.8v-41.8m1.5 41.8v-41.8m2.5 41.8v-41.8m3.0 41.8v-41.8m1.0 41.8v-39.5m1.3 39.5v-41.8m1.8 41.8v-41.8m2.0 41.8v-41.8m1.3 41.8v-41.8m2.0 41.8v-41.8m2.3 41.8v-41.8m1.8 41.8v-41.8m1.0 41.8v-41.8m2.5 41.8v-41.8m1.3 41.8v-27.5m1.3 27.5v-41.8m1.3 41.8v-29.3m1.0 29.3v-37.9m2.3 37.9v-37.8m1.3 37.8v-36.6m1.0 36.6v-41.8m1.5 41.8v-40.2"/>
<path d="M0 0m7.7 .0v-10.8m3.3 10.8v-41.8m4.8 41.8v-41.8m1.5 41.8v-41.0m3.5 41.0v-39.2m1.3 39.2v-41.7m2.8 41.7v-41.8m4.0 41.8v-31.2m2.5 31.2v-39.9m2.5 39.9v-20.8m1.8 20.8v-40.3m2.5 40.3v-41.8m1.5 41.8v-41.8m2.3 41.8v-41.8m3.0 41.8v-20.9m1.0 20.9v-41.8m1.5 41.8v-41.8m1.8 41.8v-41.8m1.8 41.8v-41.8m1.3 41.8v-36.2m2.3 36.2v-34.8m2.0 34.8v-41.8m1.8 41.8v-41.8m1.5 41.8v-36.9m2.0 36.9v-41.8m1.3 41.8v-41.3m1.3 41.3v-40.6m1.3 40.6v-32.5m1.0 32.5v-39.3m2.3 39.3v-41.8m1.3 41.8v-39.1m1.0 39.1v-41.8m1.5 41.8v-41.8"/>
<path d="M0 0m10.0 .0v-24.5m2.5 24.5v-41.8m3.5 41.8v-16.9m2.8 16.9v-35.5m2.3 35.5v-35.1m1.3 35.1v-41.8m2.8 41.8v-41.8m4.5 41.8v-41.8m3.0 41.8v-41.8m1.8 41.8v-37.3m2.0 37.3v-27.5m2.0 27.5v-41.8m1.5 41.8v-41.8m2.3 41.8v-31.3m3.0 31.3v-41.8m1.0 41.8v-27.1m1.5 27.1v-41.8m2.0 41.8v-41.8m1.5 41.8v-41.8m1.3 41.8v-41.8m2.5 41.8v-40.8m2.3 40.8v-30.7m1.3 30.7v-41.7m1.8 41.7v-40.6m1.8 40.6v-30.0m1.3 30.0v-39.0m1.5 39.0v-39.8m1.0 39.8v-33.5m1.8 33.5v-39.2m1.8 39.2v-39.3m1.0 39.3v-41.8m1.5 41.8v-38.9"/>
<polygon class="fl" fill-opacity="0.6" points="2.4,0 2.4,0.0 3.0,-0.0 3.5,-0.0 4.0,-0.0 4.5,-0.0 5.0,-0.0 5.5,-0.0 6.0,-0.0 6.5,-0.0 7.0,-0.0 7.5,-0.0 8.0,-0.0 8.5,-0.0 9.0,-0.0 9.5,-0.0 10.0,-0.0 10.5,-0.0 11.0,-0.0 11.5,-0.0 12.0,-0.0 12.5,-0.0 13.0,-0.0 13.5,-0.0 14.0,-0.0 14.5,-0.0 15.0,-0.0 15.5,-0.0 16.0,-0.0 16.5,-0.0 17.0,-0.0 17.5,-0.0 18.0,-0.0 18.6,-0.0 19.1,-0.0 19.6,-0.0 20.1,-0.0 20.6,-0.0 21.1,-0.0 21.6,-0.0 22.1,-0.0 22.6,-0.0 23.1,-0.0 23.6,-0.0 24.1,-0.0 24.6,-0.0 25.1,-0.0 25.6,-0.0 26.1,-0.0 26.6,-0.0 27.1,-0.0 27.6,-0.0 28.1,-0.0 28.6,-0.0 29.1,-0.0 29.6,-0.0 30.1,-0.0 30.6,-0.0 31.1,-0.0 31.6,-0.0 32.1,-0.0 32.6,-0.0 33.1,-0.0 33.6,-0.0 34.1,-0.0 34.7,-0.0 35.2,-0.0 35.7,-0.0 36.2,-0.0 36.7,-0.0 37.2,-0.0 37.7,-0.0 38.2,-0.0 38.7,-0.0 39.2,-0.0 39.7,-0.0 40.2,-0.0 40.7,-0.2 41.2,-0.3 41.7,-0.4 42.2,-0.6 42.7,-0.8 43.2,-1.0 43.7,-1.2 44.2,-1.2 44.7,-2.1 45.2,-1.2 45.7,-1.6 46.2,-2.6 46.7,-1.8 47.2,-2.0 47.7,-2.4 48.2,-2.9 48.7,-3.3 49.2,-3.2 49.7,-2.2 50.3,-3.6 50.8,-2.2 51.3,-3.4 51.8,-3.6 52.3,-2.2 52.8,-2.7 53.3,-2.4 53.8,-2.9 54.3,-3.6 54.8,-3.7 55.3,-3.6 55.8,-2.1 56.3,-2.7 56.8,-4.1 57.3,-3.7 57.8,-3.8 58.3,-2.6 58.8,-2.5 59.3,-3.3 59.8,-3.6 60.3,-2.5 60.8,-4.3 61.3,-3.6 61.8,-4.5 62.3,-4.5 62.8,-3.3 63.3,-3.0 63.8,-4.4 64.3,-3.6 64.8,-3.9 65.3,-4.2 65.9,-4.9 66.4,-3.8 66.9,-4.1 67.4,-6.5 67.9,-4.5 68.4,-7.0 68.9,-6.7 69.4,-10.0 69.9,-12.5 70.4,-10.7 70.9,-9.3 71.4,-8.8 71.9,-15.3 72.4,-13.0 72.9,-16.2 73.4,-10.8 73.9,-11.2 74.4,-10.5 74.9,-14.8 75.4,-14.4 75.9,-17.4 76.4,-15.1 76.9,-12.9 77.4,-10.9 77.9,-17.9 78.5,0"/>
</g>
<rect x="101.60" y="341.20" width="81.60" height="41.80" fill="none" stroke="#555" stroke-width="0.7"/>
<text x="100.4" y="342.9" class="lt">1.00</text>
<text x="100.4" y="353.3" class="lt">0.75</text>
<text x="100.4" y="363.8" class="lt">0.50</text>
<text x="100.4" y="374.2" class="lt">0.25</text>
<text x="100.4" y="384.7" class="lt">0.00</text>
<text x="184.1" y="342.9" class="rt">20</text>
<text x="184.1" y="353.3" class="rt">15</text>
<text x="184.1" y="363.8" class="rt">10</text>
<text x="184.1" y="374.2" class="rt">5</text>
<text x="184.1" y="384.7" class="rt">0</text>
<text transform="translate(89.6,362.1) rotate(-90)" class="yl"><tspan class="it">β</tspan>: Average thermal value</text>
<text transform="translate(194.7,362.1) rotate(-90)" class="yl"><tspan class="it">T</tspan>: Unique threshold</text>
<text transform="translate(104.4,387.4) rotate(-45)" class="xt">0</text>
<text transform="translate(112.8,387.4) rotate(-45)" class="xt">400</text>
<text transform="translate(121.2,387.4) rotate(-45)" class="xt">800</text>
<text transform="translate(129.6,387.4) rotate(-45)" class="xt">1200</text>
<text transform="translate(138.0,387.4) rotate(-45)" class="xt">1600</text>
<text transform="translate(146.4,387.4) rotate(-45)" class="xt">2000</text>
<text transform="translate(154.8,387.4) rotate(-45)" class="xt">2400</text>
<text transform="translate(163.2,387.4) rotate(-45)" class="xt">2800</text>
<text transform="translate(171.6,387.4) rotate(-45)" class="xt">3200</text>
<text x="142.4" y="399.0" class="xl">Street number</text>
<linearGradient id="w41"><stop offset="0.000" stop-color="#00f" stop-opacity="0.00"/><stop offset="0.620" stop-color="#00f" stop-opacity="0.00"/><stop offset="0.630" stop-color="#00f" stop-opacity="0.08"/><stop offset="0.690" stop-color="#00f" stop-opacity="0.10"/><stop offset="0.800" stop-color="#00f" stop-opacity="0.14"/><stop offset="0.910" stop-color="#00f" stop-opacity="0.20"/></linearGradient>
<polyline points="218.7,350.8 219.3,353.4 219.4,353.7 219.4,354.0 219.5,354.4 219.5,354.7 219.6,355.0 219.6,355.3 219.7,355.6 219.7,355.9 219.8,356.2 219.9,356.5 219.9,356.8 220.0,357.1 220.1,357.4 220.2,357.7 220.3,358.0 220.3,358.3 220.4,358.6 220.6,358.9 220.7,359.3 220.8,359.6 220.9,359.9 221.1,360.2 221.2,360.5 221.4,360.8 221.5,361.1 221.7,361.4 221.9,361.7 222.1,362.0 222.3,362.3 222.5,362.6 222.8,362.9 223.0,363.2 223.3,363.5 223.6,363.9 223.9,364.2 224.2,364.5 224.5,364.8 224.9,365.1 225.3,365.4 225.7,365.7 226.1,366.0 226.6,366.3 227.1,366.6 227.6,366.9 228.2,367.2 228.8,367.5 229.4,367.8 230.1,368.1 230.8,368.5 231.6,368.8 232.4,369.1 233.2,369.4 234.1,369.7 235.1,370.0 236.1,370.3 237.2,370.6 238.4,370.9 239.6,371.2 240.9,371.5 242.3,371.8 243.8,372.1 245.4,372.4 247.1,372.7 248.9,373.1 250.8,373.4 252.8,373.7 255.0,374.0 257.2,374.3 259.7,374.6 262.2,374.9 265.0,375.2 267.9,375.5 271.0,375.8 274.3,376.1 277.8,376.4 281.5,376.7 285.5,377.0 289.7,377.3 294.1,377.6" class="gc"/>
<g transform="translate(216.30,383.00)" class="d">
<rect x="2.4" y="-41.8" width="75.4" height="41.8" fill="url(#w41)"/>
<polygon fill-opacity="1" points="2.4,0 2.4,-2.1 2.9,-1.4 3.5,-1.7 4.0,-1.6 4.5,-2.2 5.0,-2.2 5.5,-2.4 6.0,-1.5 6.5,-1.9 7.0,-1.4 7.5,-1.6 8.0,-2.0 8.5,-1.4 9.0,-1.6 9.5,-2.2 10.0,-2.1 10.5,-1.7 11.0,-2.1 11.5,-2.4 12.0,-1.5 12.5,-2.4 13.0,-2.3 13.5,-1.9 14.0,-1.7 14.5,-2.7 15.0,-1.9 15.5,-1.6 16.0,-1.6 16.5,-2.6 17.0,-2.3 17.5,-2.6 18.0,-2.5 18.5,-2.3 19.0,-2.9 19.5,-2.1 20.0,-2.3 20.5,-2.7 21.0,-2.4 21.5,-2.8 22.0,-2.4 22.5,-2.6 23.1,-1.7 23.6,-2.0 24.1,-2.1 24.6,-1.8 25.1,-2.0 25.6,-1.8 26.1,-2.1 26.6,-2.6 27.1,-2.2 27.6,-2.3 28.1,-2.0 28.6,-2.1 29.1,-3.1 29.6,-2.7 30.1,-2.7 30.6,-2.0 31.1,-2.9 31.6,-2.0 32.1,-2.4 32.6,-3.3 33.1,-2.8 33.6,-2.7 34.1,-2.9 34.6,-3.2 35.1,-3.1 35.6,-2.2 36.1,-1.9 36.6,-2.4 37.1,-2.3 37.6,-2.2 38.1,-3.4 38.6,-3.3 39.1,-2.4 39.6,-3.0 40.1,-2.6 40.6,-3.5 41.1,-2.7 41.6,-2.4 42.1,-2.4 42.7,-2.9 43.2,-2.5 43.7,-3.0 44.2,-3.5 44.7,-2.7 45.2,-2.4 45.7,-3.8 46.2,-2.9 46.7,-2.2 47.2,-2.2 47.7,-2.3 48.2,-3.2 48.7,-3.5 49.2,-2.9 49.7,-2.2 50.2,-2.9 50.7,-4.2 51.2,-3.4 51.7,-4.5 52.2,-4.4 52.7,-2.7 53.2,-4.5 53.7,-4.5 54.2,-4.3 54.7,-3.8 55.2,-4.9 55.7,-3.7 56.2,-4.7 56.7,-5.0 57.2,-6.8 57.7,-6.8 58.2,-4.9 58.7,-5.9 59.2,-5.0 59.7,-7.9 60.2,-8.0 60.7,-5.9 61.2,-7.5 61.7,-7.6 62.3,-5.8 62.8,-8.7 63.3,-8.2 63.8,-9.8 64.3,-9.0 64.8,-6.6 65.3,-8.7 65.8,-7.3 66.3,-13.2 66.8,-13.5 67.3,-13.7 67.8,-10.5 68.3,-9.5 68.8,-17.5 69.3,-20.0 69.8,-13.1 70.3,-18.7 70.8,-15.2 71.3,-27.3 71.8,-33.2 72.3,-41.8 72.8,-41.8 73.3,-41.8 73.8,-41.8 74.3,-41.8 74.8,-41.8 75.3,-41.8 75.8,-41.8 76.3,-41.8 76.8,-41.8 77.3,-41.8 77.8,-41.8 77.8,0"/>
<path class="ex" d="M22.8 0v-41.8"/>
<path d="M0 0m53.0 .0v-41.8m3.8 41.8v-41.8m5.8 41.8v-41.8m2.5 41.8v-41.8m2.3 41.8v-41.8m2.3 41.8v-24.5"/>
<path d="M0 0m54.3 .0v-14.1m4.3 14.1v-41.8m4.3 41.8v-41.8m3.5 41.8v-28.3m1.5 28.3v-32.2m2.8 32.2v-41.8"/>
<path d="M0 0m55.0 .0v-41.8m4.5 41.8v-41.8m3.5 41.8v-41.8m3.8 41.8v-17.4m2.3 17.4v-26.0m1.8 26.0v-40.2"/>
<path d="M0 0m55.8 .0v-26.7m5.8 26.7v-36.6m2.0 36.6v-25.2m3.5 25.2v-33.3m2.3 33.3v-28.0m2.0 28.0v-41.8"/>
</g>
<rect x="216.30" y="341.20" width="81.50" height="41.80" fill="none" stroke="#555" stroke-width="0.7"/>
<text x="215.1" y="342.9" class="lt">1.00</text>
<text x="215.1" y="353.3" class="lt">0.75</text>
<text x="215.1" y="363.8" class="lt">0.50</text>
<text x="215.1" y="374.2" class="lt">0.25</text>
<text x="215.1" y="384.7" class="lt">0.00</text>
<text x="298.7" y="342.9" class="rt">20</text>
<text x="298.7" y="353.3" class="rt">15</text>
<text x="298.7" y="363.8" class="rt">10</text>
<text x="298.7" y="374.2" class="rt">5</text>
<text x="298.7" y="384.7" class="rt">0</text>
<text transform="translate(204.3,362.1) rotate(-90)" class="yl"><tspan class="it">β</tspan>: Average thermal value</text>
<text transform="translate(309.3,362.1) rotate(-90)" class="yl"><tspan class="it">T</tspan>: Unique threshold</text>
<text transform="translate(219.1,387.4) rotate(-45)" class="xt">0</text>
<text transform="translate(230.0,387.4) rotate(-45)" class="xt">800</text>
<text transform="translate(240.8,387.4) rotate(-45)" class="xt">1600</text>
<text transform="translate(251.6,387.4) rotate(-45)" class="xt">2400</text>
<text transform="translate(262.4,387.4) rotate(-45)" class="xt">3200</text>
<text transform="translate(273.2,387.4) rotate(-45)" class="xt">4000</text>
<text transform="translate(284.0,387.4) rotate(-45)" class="xt">4800</text>
<text x="257.1" y="399.0" class="xl">Street number</text>
<linearGradient id="w42"><stop offset="0.000" stop-color="#00f" stop-opacity="0.00"/><stop offset="0.660" stop-color="#00f" stop-opacity="0.00"/><stop offset="0.670" stop-color="#00f" stop-opacity="0.05"/><stop offset="0.760" stop-color="#00f" stop-opacity="0.09"/><stop offset="0.870" stop-color="#00f" stop-opacity="0.17"/></linearGradient>
<polyline points="334.6,350.8 335.2,353.2 335.2,353.5 335.2,353.8 335.3,354.1 335.3,354.5 335.4,354.8 335.4,355.1 335.5,355.4 335.5,355.7 335.6,356.0 335.7,356.4 335.7,356.7 335.8,357.0 335.9,357.3 336.0,357.6 336.1,358.0 336.2,358.3 336.3,358.6 336.4,358.9 336.5,359.2 336.6,359.6 336.7,359.9 336.9,360.2 337.0,360.5 337.2,360.8 337.4,361.2 337.5,361.5 337.7,361.8 337.9,362.1 338.1,362.4 338.3,362.8 338.6,363.1 338.8,363.4 339.1,363.7 339.4,364.0 339.7,364.4 340.0,364.7 340.4,365.0 340.7,365.3 341.1,365.6 341.5,365.9 342.0,366.3 342.5,366.6 342.9,366.9 343.5,367.2 344.0,367.5 344.6,367.9 345.3,368.2 345.9,368.5 346.7,368.8 347.4,369.1 348.2,369.5 349.1,369.8 350.0,370.1 351.0,370.4 352.0,370.7 353.1,371.1 354.3,371.4 355.5,371.7 356.9,372.0 358.3,372.3 359.8,372.7 361.4,373.0 363.0,373.3 364.8,373.6 366.8,373.9 368.8,374.3 370.9,374.6 373.2,374.9 375.7,375.2 378.3,375.5 381.0,375.8 383.9,376.2 387.1,376.5 390.4,376.8 393.9,377.1 397.6,377.4 401.6,377.8 405.8,378.1 410.3,378.4" class="gc"/>
<g transform="translate(332.10,383.00)" class="d">
<rect x="2.5" y="-41.8" width="75.8" height="41.8" fill="url(#w42)"/>
<polygon fill-opacity="1" points="2.5,0 2.5,-1.4 3.0,-2.2 3.5,-1.5 4.0,-1.9 4.5,-2.2 5.0,-2.3 5.5,-1.9 6.0,-2.0 6.5,-1.4 7.0,-1.9 7.5,-1.8 8.0,-2.4 8.5,-2.0 9.0,-2.2 9.5,-1.9 10.0,-1.6 10.5,-2.4 11.0,-2.3 11.5,-1.8 12.0,-1.5 12.5,-2.0 13.0,-1.9 13.5,-2.3 14.0,-2.1 14.5,-2.0 15.0,-2.0 15.5,-1.8 16.0,-1.4 16.5,-1.5 17.0,-2.5 17.5,-2.4 18.0,-1.7 18.5,-2.4 19.0,-2.0 19.5,-1.5 20.0,-2.4 20.5,-2.1 21.0,-2.5 21.5,-2.2 22.0,-1.5 22.5,-2.2 23.0,-2.4 23.5,-2.5 24.0,-1.8 24.5,-2.1 25.0,-2.3 25.5,-1.7 26.0,-2.5 26.5,-2.4 27.0,-1.5 27.5,-2.2 28.0,-1.9 28.5,-1.7 29.0,-2.2 29.5,-2.7 30.1,-2.2 30.6,-1.6 31.1,-2.1 31.6,-2.5 32.1,-2.7 32.6,-2.4 33.1,-1.6 33.6,-2.7 34.1,-2.3 34.6,-1.6 35.1,-1.7 35.6,-1.6 36.1,-2.4 36.6,-1.7 37.1,-2.6 37.6,-1.7 38.1,-2.2 38.6,-2.1 39.1,-1.6 39.6,-1.6 40.1,-2.7 40.6,-2.8 41.1,-1.7 41.6,-2.5 42.1,-2.9 42.6,-2.8 43.1,-2.8 43.6,-2.0 44.1,-2.5 44.6,-2.3 45.1,-2.8 45.6,-2.5 46.1,-2.7 46.6,-2.8 47.1,-2.1 47.6,-2.6 48.1,-1.7 48.6,-1.9 49.1,-2.9 49.6,-2.2 50.1,-2.6 50.6,-2.4 51.1,-2.0 51.6,-2.5 52.1,-2.9 52.6,-2.1 53.1,-2.1 53.6,-1.9 54.1,-1.9 54.6,-2.8 55.1,-2.7 55.6,-3.0 56.1,-2.6 56.6,-3.0 57.1,-2.0 57.6,-2.0 58.1,-2.0 58.6,-2.2 59.1,-3.1 59.7,-2.1 60.2,-2.6 60.7,-2.1 61.2,-2.1 61.7,-3.2 62.2,-3.4 62.7,-3.4 63.2,-4.4 63.7,-4.4 64.2,-4.8 64.7,-4.1 65.2,-3.5 65.7,-3.3 66.2,-5.0 66.7,-3.6 67.2,-3.5 67.7,-6.2 68.2,-4.8 68.7,-7.2 69.2,-6.0 69.7,-7.6 70.2,-6.1 70.7,-8.6 71.2,-10.1 71.7,-11.4 72.2,-12.0 72.7,-18.0 73.2,-24.0 73.7,-22.7 74.2,-41.8 74.7,-41.8 75.2,-41.8 75.7,-41.8 76.2,-41.8 76.7,-41.8 77.2,-41.8 77.7,-41.8 78.2,-41.8 78.2,0"/>
<path class="ex" d="M47.9 0v-41.8"/>
<path d="M0 0m53.7 .0v-8.7m12.5 8.7v-24.9m2.8 24.9v-41.8m4.0 41.8v-29.2"/>
<path d="M0 0m59.5 .0v-41.8m7.0 41.8v-41.8m3.5 41.8v-20.8"/>
<path d="M0 0m63.7 .0v-18.2m3.5 18.2v-41.8m3.3 41.8v-41.8"/>
<path d="M0 0m65.5 .0v-41.8m3.0 41.8v-41.8m4.0 41.8v-31.9"/>
</g>
<rect x="332.10" y="341.20" width="81.90" height="41.80" fill="none" stroke="#555" stroke-width="0.7"/>
<text x="330.9" y="342.9" class="lt">1.00</text>
<text x="330.9" y="353.3" class="lt">0.75</text>
<text x="330.9" y="363.8" class="lt">0.50</text>
<text x="330.9" y="374.2" class="lt">0.25</text>
<text x="330.9" y="384.7" class="lt">0.00</text>
<text x="414.9" y="342.9" class="rt">20</text>
<text x="414.9" y="353.3" class="rt">15</text>
<text x="414.9" y="363.8" class="rt">10</text>
<text x="414.9" y="374.2" class="rt">5</text>
<text x="414.9" y="384.7" class="rt">0</text>
<text transform="translate(320.1,362.1) rotate(-90)" class="yl"><tspan class="it">β</tspan>: Average thermal value</text>
<text transform="translate(425.5,362.1) rotate(-90)" class="yl"><tspan class="it">T</tspan>: Unique threshold</text>
<text transform="translate(335.0,387.4) rotate(-45)" class="xt">0</text>
<text transform="translate(345.4,387.4) rotate(-45)" class="xt">800</text>
<text transform="translate(355.9,387.4) rotate(-45)" class="xt">1600</text>
<text transform="translate(366.4,387.4) rotate(-45)" class="xt">2400</text>
<text transform="translate(376.9,387.4) rotate(-45)" class="xt">3200</text>
<text transform="translate(387.4,387.4) rotate(-45)" class="xt">4000</text>
<text transform="translate(397.8,387.4) rotate(-45)" class="xt">4800</text>
<text x="373.1" y="399.0" class="xl">Street number</text>
<linearGradient id="w43"><stop offset="0.000" stop-color="#00f" stop-opacity="0.00"/><stop offset="0.770" stop-color="#00f" stop-opacity="0.00"/><stop offset="0.780" stop-color="#00f" stop-opacity="0.08"/><stop offset="0.850" stop-color="#00f" stop-opacity="0.14"/><stop offset="0.900" stop-color="#00f" stop-opacity="0.17"/></linearGradient>
<polyline points="447.1,352.1 447.7,353.8 447.7,354.1 447.7,354.4 447.8,354.7 447.8,355.0 447.9,355.3 447.9,355.6 448.0,356.0 448.0,356.3 448.1,356.6 448.2,356.9 448.2,357.2 448.3,357.5 448.4,357.8 448.5,358.1 448.6,358.5 448.7,358.8 448.8,359.1 448.9,359.4 449.0,359.7 449.1,360.0 449.3,360.3 449.4,360.6 449.5,360.9 449.7,361.3 449.9,361.6 450.0,361.9 450.2,362.2 450.4,362.5 450.6,362.8 450.9,363.1 451.1,363.4 451.3,363.8 451.6,364.1 451.9,364.4 452.2,364.7 452.5,365.0 452.9,365.3 453.2,365.6 453.6,365.9 454.1,366.2 454.5,366.6 455.0,366.9 455.5,367.2 456.0,367.5 456.6,367.8 457.2,368.1 457.8,368.4 458.5,368.7 459.2,369.1 459.9,369.4 460.8,369.7 461.6,370.0 462.5,370.3 463.5,370.6 464.6,370.9 465.7,371.2 466.8,371.5 468.1,371.9 469.4,372.2 470.8,372.5 472.3,372.8 473.9,373.1 475.6,373.4 477.4,373.7 479.3,374.0 481.3,374.4 483.5,374.7 485.8,375.0 488.2,375.3 490.8,375.6 493.6,375.9 496.5,376.2 499.6,376.5 502.9,376.8 506.5,377.2 510.2,377.5 514.2,377.8 518.4,378.1 522.9,378.4" class="gc"/>
<g transform="translate(444.60,383.00)" class="d">
<rect x="2.5" y="-41.8" width="75.9" height="41.8" fill="url(#w43)"/>
<polygon fill-opacity="1" points="2.5,0 2.5,-1.8 3.0,-2.0 3.5,-2.4 4.0,-1.6 4.5,-1.6 5.0,-1.4 5.5,-1.5 6.0,-1.4 6.5,-1.6 7.0,-2.0 7.5,-2.5 8.0,-2.2 8.5,-1.8 9.0,-1.8 9.5,-2.2 10.0,-1.8 10.5,-1.5 11.0,-2.3 11.5,-2.1 12.0,-1.5 12.5,-1.5 13.0,-1.5 13.5,-2.5 14.0,-1.5 14.5,-2.1 15.0,-2.5 15.5,-1.4 16.0,-1.8 16.5,-1.9 17.0,-2.5 17.5,-1.6 18.0,-1.7 18.5,-1.7 19.0,-1.5 19.5,-2.2 20.0,-2.4 20.5,-1.9 21.0,-1.5 21.5,-2.3 22.1,-2.3 22.6,-2.2 23.1,-1.8 23.6,-2.4 24.1,-2.2 24.6,-2.2 25.1,-2.1 25.6,-1.7 26.1,-2.0 26.6,-2.4 27.1,-2.3 27.6,-1.9 28.1,-2.5 28.6,-2.5 29.1,-1.5 29.6,-1.7 30.1,-1.8 30.6,-1.5 31.1,-2.4 31.6,-2.3 32.1,-2.2 32.6,-2.8 33.1,-2.0 33.6,-1.8 34.1,-1.7 34.6,-2.0 35.1,-2.6 35.6,-2.3 36.1,-1.6 36.6,-2.1 37.1,-1.6 37.6,-2.4 38.1,-1.7 38.6,-1.8 39.1,-2.4 39.6,-2.7 40.1,-2.4 40.6,-2.0 41.1,-2.4 41.6,-1.9 42.1,-1.6 42.6,-2.0 43.1,-2.5 43.7,-2.4 44.2,-1.9 44.7,-2.7 45.2,-2.7 45.7,-2.0 46.2,-2.9 46.7,-2.0 47.2,-1.7 47.7,-2.3 48.2,-2.8 48.7,-2.5 49.2,-2.4 49.7,-2.3 50.2,-2.0 50.7,-2.1 51.2,-2.2 51.7,-2.4 52.2,-3.0 52.7,-1.8 53.2,-2.0 53.7,-3.0 54.2,-2.6 54.7,-1.8 55.2,-2.3 55.7,-2.6 56.2,-3.0 56.7,-1.8 57.2,-3.0 57.7,-3.0 58.2,-2.4 58.7,-2.9 59.2,-3.6 59.7,-2.7 60.2,-3.7 60.7,-3.6 61.2,-2.7 61.7,-3.2 62.2,-3.7 62.7,-3.1 63.2,-5.2 63.7,-3.6 64.2,-3.7 64.7,-4.9 65.2,-5.0 65.8,-4.7 66.3,-5.0 66.8,-5.9 67.3,-7.8 67.8,-5.0 68.3,-8.6 68.8,-9.1 69.3,-8.5 69.8,-10.5 70.3,-9.5 70.8,-14.6 71.3,-14.5 71.8,-15.5 72.3,-15.0 72.8,-16.8 73.3,-27.6 73.8,-33.6 74.3,-41.8 74.8,-41.8 75.3,-41.8 75.8,-41.8 76.3,-41.8 76.8,-41.8 77.3,-41.8 77.8,-41.8 78.3,-41.8 78.3,0"/>
<path class="ex" d="M36.6 0v-12.5M53.3 0v-27.2M56.3 0v-23.0M58.6 0v-20.9M60.1 0v-25.1"/>
<path d="M0 0m61.0 .0v-41.8m4.8 41.8v-41.8m3.3 41.8v-41.8m4.3 41.8v-41.8"/>
<path d="M0 0m62.3 .0v-41.8m4.5 41.8v-41.8m5.0 41.8v-41.8"/>
<path d="M0 0m63.5 .0v-28.6m4.3 28.6v-41.8m5.0 41.8v-41.8"/>
<path d="M0 0m65.5 .0v-11.2m2.5 11.2v-41.8m5.0 41.8v-41.8"/>
</g>
<rect x="444.60" y="341.20" width="82.00" height="41.80" fill="none" stroke="#555" stroke-width="0.7"/>
<text x="443.4" y="342.9" class="lt">1.00</text>
<text x="443.4" y="353.3" class="lt">0.75</text>
<text x="443.4" y="363.8" class="lt">0.50</text>
<text x="443.4" y="374.2" class="lt">0.25</text>
<text x="443.4" y="384.7" class="lt">0.00</text>
<text x="527.5" y="342.9" class="rt">20</text>
<text x="527.5" y="353.3" class="rt">15</text>
<text x="527.5" y="363.8" class="rt">10</text>
<text x="527.5" y="374.2" class="rt">5</text>
<text x="527.5" y="384.7" class="rt">0</text>
<text transform="translate(432.6,362.1) rotate(-90)" class="yl"><tspan class="it">β</tspan>: Average thermal value</text>
<text transform="translate(538.1,362.1) rotate(-90)" class="yl"><tspan class="it">T</tspan>: Unique threshold</text>
<text transform="translate(447.5,387.4) rotate(-45)" class="xt">0</text>
<text transform="translate(458.0,387.4) rotate(-45)" class="xt">800</text>
<text transform="translate(468.6,387.4) rotate(-45)" class="xt">1600</text>
<text transform="translate(479.1,387.4) rotate(-45)" class="xt">2400</text>
<text transform="translate(489.7,387.4) rotate(-45)" class="xt">3200</text>
<text transform="translate(500.2,387.4) rotate(-45)" class="xt">4000</text>
<text transform="translate(510.8,387.4) rotate(-45)" class="xt">4800</text>
<text x="485.6" y="399.0" class="xl">Street number</text>
<linearGradient id="w50"><stop offset="0.000" stop-color="#00f" stop-opacity="0.00"/><stop offset="0.130" stop-color="#00f" stop-opacity="0.00"/><stop offset="0.150" stop-color="#00f" stop-opacity="0.14"/><stop offset="0.360" stop-color="#00f" stop-opacity="0.17"/><stop offset="0.730" stop-color="#00f" stop-opacity="0.20"/><stop offset="0.900" stop-color="#00f" stop-opacity="0.23"/></linearGradient>
<polyline points="104.0,431.6 104.7,431.6 104.7,431.6 104.7,431.6 104.8,431.6 104.8,431.6 104.9,431.6 104.9,431.6 105.0,431.6 105.0,431.6 105.1,431.6 105.2,431.6 105.2,431.6 105.3,431.6 105.4,431.6 105.5,431.9 105.6,432.3 105.7,432.7 105.8,433.2 105.9,433.6 106.0,434.1 106.1,434.5 106.2,434.9 106.4,435.4 106.5,435.8 106.7,436.2 106.8,436.7 107.0,437.1 107.2,437.6 107.4,438.0 107.6,438.4 107.8,438.9 108.1,439.3 108.3,439.7 108.6,440.2 108.9,440.6 109.2,441.1 109.5,441.5 109.8,441.9 110.2,442.4 110.6,442.8 111.0,443.3 111.4,443.7 111.9,444.1 112.4,444.6 112.9,445.0 113.5,445.4 114.1,445.9 114.7,446.3 115.4,446.8 116.1,447.2 116.9,447.6 117.7,448.1 118.5,448.5 119.5,449.0 120.4,449.4 121.5,449.8 122.6,450.3 123.7,450.7 125.0,451.1 126.3,451.6 127.7,452.0 129.2,452.5 130.8,452.9 132.4,453.3 134.2,453.8 136.1,454.2 138.1,454.7 140.3,455.1 142.6,455.5 145.0,456.0 147.6,456.4 150.3,456.6 153.3,456.6 156.4,456.6 159.7,456.6 163.2,456.6 166.9,456.6 170.8,456.6 175.1,456.6 179.5,456.6" class="gc"/>
<g transform="translate(101.60,456.60)" class="d">
<rect x="2.4" y="-41.7" width="75.5" height="41.7" fill="url(#w50)"/>
<polygon fill-opacity="0.85" points="2.4,0 2.4,-1.7 3.0,-2.0 3.5,-1.6 4.0,-2.3 4.5,-1.6 5.0,-2.0 5.5,-2.4 6.0,-1.8 6.5,-2.5 7.0,-2.2 7.5,-2.0 8.0,-2.1 8.5,-2.0 9.0,-1.8 9.5,-2.5 10.0,-1.8 10.5,-2.5 11.0,-2.4 11.5,-1.4 12.0,-1.7 12.5,-2.0 13.0,-2.5 13.5,-1.8 14.0,-2.5 14.5,-2.2 15.0,-2.9 15.5,-3.3 16.0,-3.1 16.5,-2.3 17.0,-3.4 17.5,-2.9 18.0,-3.7 18.6,-3.1 19.1,-4.0 19.6,-4.2 20.1,-4.0 20.6,-4.1 21.1,-4.1 21.6,-3.7 22.1,-2.9 22.6,-4.7 23.1,-3.7 23.6,-2.7 24.1,-3.7 24.6,-3.8 25.1,-3.3 25.6,-5.2 26.1,-3.2 26.6,-5.2 27.1,-4.4 27.6,-3.5 28.1,-4.1 28.6,-4.4 29.1,-3.5 29.6,-5.4 30.1,-5.2 30.6,-6.2 31.1,-5.9 31.6,-5.9 32.1,-6.6 32.6,-6.5 33.1,-5.8 33.6,-5.5 34.1,-5.6 34.7,-6.6 35.2,-7.1 35.7,-6.9 36.2,-7.1 36.7,-4.3 37.2,-5.8 37.7,-4.7 38.2,-6.6 38.7,-6.6 39.2,-6.7 39.7,-7.9 40.2,-5.6 40.7,-7.6 41.2,-7.2 41.7,-5.8 42.2,-9.0 42.7,-5.3 43.2,-7.1 43.7,-7.5 44.2,-7.9 44.7,-9.7 45.2,-7.9 45.7,-9.6 46.2,-7.0 46.7,-7.9 47.2,-6.4 47.7,-8.9 48.2,-8.0 48.7,-9.9 49.2,-6.6 49.7,-8.5 50.3,-11.1 50.8,-6.3 51.3,-9.8 51.8,-10.1 52.3,-10.6 52.8,-9.9 53.3,-9.7 53.8,-12.6 54.3,-8.8 54.8,-11.6 55.3,-11.6 55.8,-12.2 56.3,-10.8 56.8,-8.0 57.3,-13.2 57.8,-10.0 58.3,-13.7 58.8,-15.4 59.3,-14.1 59.8,-11.6 60.3,-15.2 60.8,-11.9 61.3,-11.6 61.8,-13.7 62.3,-14.6 62.8,-15.0 63.3,-14.4 63.8,-13.6 64.3,-16.9 64.8,-13.6 65.3,-16.5 65.9,-11.3 66.4,-12.8 66.9,-20.4 67.4,-14.3 67.9,-16.7 68.4,-13.3 68.9,-21.2 69.4,-16.9 69.9,-14.1 70.4,-17.0 70.9,-26.9 71.4,-26.8 71.9,-17.8 72.4,-34.1 72.9,-21.5 73.4,-41.7 73.9,-41.7 74.4,-41.7 74.9,-41.7 75.4,-41.7 75.9,-41.7 76.4,-41.7 76.9,-41.7 77.4,-41.7 77.9,-41.7 77.9,0"/>
<path class="ex" d="M8.5 0v-25.0"/>
<path d="M0 0m14.7 .0v-20.1m3.0 20.1v-35.9m4.5 35.9v-41.7m2.5 41.7v-41.7m2.3 41.7v-41.7m1.8 41.7v-33.3m3.5 33.3v-41.7m2.5 41.7v-15.1m2.8 15.1v-37.6m1.3 37.6v-41.7m2.3 41.7v-36.9m1.3 36.9v-41.7m1.3 41.7v-41.7m3.0 41.7v-41.7m2.8 41.7v-41.7m3.8 41.7v-41.7m1.5 41.7v-41.7m1.8 41.7v-36.6m2.0 36.6v-41.7m3.3 41.7v-41.7m1.8 41.7v-20.2m1.0 20.2v-41.7m1.8 41.7v-41.7m1.5 41.7v-41.7m1.0 41.7v-41.7m1.3 41.7v-41.7m1.0 41.7v-34.2m1.8 34.2v-41.7"/>
<path d="M0 0m15.5 .0v-28.1m2.8 28.1v-8.7m4.5 8.7v-41.7m2.3 41.7v-41.7m2.3 41.7v-41.7m2.8 41.7v-41.7m3.0 41.7v-34.0m3.3 34.0v-41.7m1.5 41.7v-41.7m1.3 41.7v-16.4m2.3 16.4v-22.3m1.5 22.3v-31.3m1.0 31.3v-41.2m3.3 41.2v-41.7m3.5 41.7v-41.7m2.8 41.7v-41.7m1.8 41.7v-41.7m1.8 41.7v-31.1m2.0 31.1v-20.9m3.5 20.9v-33.9m1.3 33.9v-41.7m1.0 41.7v-41.7m2.0 41.7v-41.7m1.3 41.7v-31.6m1.0 31.6v-41.7m1.3 41.7v-40.1m1.0 40.1v-32.0m1.8 32.0v-41.2"/>
<path d="M0 0m16.7 .0v-25.9m4.8 25.9v-41.7m2.0 41.7v-41.7m2.0 41.7v-30.2m2.0 30.2v-41.7m3.0 41.7v-41.7m3.3 41.7v-41.7m3.3 41.7v-9.4m1.0 9.4v-41.7m2.5 41.7v-18.1m1.0 18.1v-15.1m1.5 15.1v-40.7m1.3 40.7v-41.7m3.8 41.7v-41.7m2.8 41.7v-41.7m3.3 41.7v-41.7m1.5 41.7v-41.2m1.8 41.2v-41.7m2.0 41.7v-26.5m3.3 26.5v-35.7m1.3 35.7v-41.7m1.0 41.7v-22.6m2.0 22.6v-41.7m1.3 41.7v-38.9m1.0 38.9v-39.9m1.3 39.9v-41.7m1.8 41.7v-41.7m1.0 41.7v-41.6"/>
<path d="M0 0m17.2 .0v-41.7m4.8 41.7v-12.1m2.0 12.1v-41.7m2.3 41.7v-41.7m1.8 41.7v-41.7m3.8 41.7v-24.4m2.8 24.4v-41.7m2.8 41.7v-41.7m1.0 41.7v-36.3m2.5 36.3v-15.5m1.0 15.5v-41.7m1.5 41.7v-41.7m2.8 41.7v-41.7m2.5 41.7v-27.3m2.5 27.3v-41.7m3.3 41.7v-41.7m1.5 41.7v-41.7m1.8 41.7v-22.4m2.5 22.4v-22.6m3.0 22.6v-41.7m1.0 41.7v-41.7m1.0 41.7v-39.8m2.0 39.8v-41.7m1.3 41.7v-41.7m1.0 41.7v-41.7m1.3 41.7v-41.7m1.8 41.7v-41.7"/>
<polygon class="fl" fill-opacity="0.6" points="2.4,0 2.4,0.0 3.0,-0.0 3.5,-0.0 4.0,-0.0 4.5,-0.0 5.0,-0.0 5.5,-0.0 6.0,-0.0 6.5,-0.0 7.0,-0.0 7.5,-0.0 8.0,-0.0 8.5,-0.0 9.0,-0.0 9.5,-0.0 10.0,-0.0 10.5,-0.0 11.0,-0.0 11.5,-0.0 12.0,-0.0 12.5,-0.0 13.0,-0.0 13.5,-0.0 14.0,-0.0 14.5,-0.0 15.0,-0.0 15.5,-0.0 16.0,-0.0 16.5,-0.1 17.0,-0.2 17.5,-0.4 18.0,-0.6 18.6,-0.7 19.1,-0.6 19.6,-1.0 20.1,-0.8 20.6,-0.9 21.1,-1.6 21.6,-1.3 22.1,-1.9 22.6,-1.9 23.1,-1.8 23.6,-1.1 24.1,-1.2 24.6,-1.5 25.1,-1.6 25.6,-1.5 26.1,-1.0 26.6,-1.2 27.1,-2.0 27.6,-1.5 28.1,-1.6 28.6,-2.0 29.1,-1.3 29.6,-1.5 30.1,-1.7 30.6,-1.3 31.1,-1.5 31.6,-1.9 32.1,-1.9 32.6,-1.8 33.1,-1.9 33.6,-1.1 34.1,-1.1 34.7,-1.7 35.2,-1.9 35.7,-1.1 36.2,-1.5 36.7,-1.7 37.2,-1.5 37.7,-1.1 38.2,-1.7 38.7,-1.7 39.2,-1.7 39.7,-1.3 40.2,-1.4 40.7,-1.1 41.2,-1.7 41.7,-1.3 42.2,-1.7 42.7,-2.1 43.2,-1.6 43.7,-1.4 44.2,-1.9 44.7,-2.0 45.2,-1.4 45.7,-1.7 46.2,-2.0 46.7,-1.3 47.2,-1.9 47.7,-1.5 48.2,-1.6 48.7,-1.8 49.2,-2.3 49.7,-1.4 50.3,-1.5 50.8,-2.3 51.3,-1.3 51.8,-1.4 52.3,-2.0 52.8,-1.7 53.3,-2.1 53.8,-1.4 54.3,-2.1 54.8,-1.5 55.3,-1.4 55.8,-1.8 56.3,-1.5 56.8,-1.6 57.3,-2.2 57.8,-2.2 58.3,-2.0 58.8,-1.9 59.3,-1.2 59.8,-1.6 60.3,-2.1 60.8,-2.1 61.3,-1.2 61.8,-1.8 62.3,-2.1 62.8,-1.9 63.3,-1.8 63.8,-1.6 64.3,-1.8 64.8,-1.3 65.3,-2.4 65.9,-1.3 66.4,-1.5 66.9,-2.4 67.4,-2.0 67.9,-1.4 68.4,-1.5 68.9,-1.8 69.4,-1.8 69.9,-1.9 70.4,-2.4 70.9,-2.7 71.4,-3.7 71.9,-5.2 72.4,-4.2 72.9,-5.7 73.4,-5.3 73.9,-6.0 74.4,-6.2 74.9,-5.5 75.4,-7.2 75.9,-8.8 76.4,-7.5 76.9,-9.2 77.4,-7.3 77.9,-7.7 78.5,0"/>
</g>
<rect x="101.60" y="414.90" width="81.60" height="41.70" fill="none" stroke="#555" stroke-width="0.7"/>
<text x="100.4" y="416.6" class="lt">1.00</text>
<text x="100.4" y="427.0" class="lt">0.75</text>
<text x="100.4" y="437.4" class="lt">0.50</text>
<text x="100.4" y="447.9" class="lt">0.25</text>
<text x="100.4" y="458.3" class="lt">0.00</text>
<text x="184.1" y="416.6" class="rt">20</text>
<text x="184.1" y="427.0" class="rt">15</text>
<text x="184.1" y="437.4" class="rt">10</text>
<text x="184.1" y="447.9" class="rt">5</text>
<text x="184.1" y="458.3" class="rt">0</text>
<text transform="translate(89.6,435.8) rotate(-90)" class="yl"><tspan class="it">β</tspan>: Average thermal value</text>
<text transform="translate(194.7,435.8) rotate(-90)" class="yl"><tspan class="it">T</tspan>: Unique threshold</text>
<text transform="translate(104.4,461.0) rotate(-45)" class="xt">0</text>
<text transform="translate(115.6,461.0) rotate(-45)" class="xt">400</text>
<text transform="translate(126.8,461.0) rotate(-45)" class="xt">800</text>
<text transform="translate(138.0,461.0) rotate(-45)" class="xt">1200</text>
<text transform="translate(149.2,461.0) rotate(-45)" class="xt">1600</text>
<text transform="translate(160.4,461.0) rotate(-45)" class="xt">2000</text>
<text transform="translate(171.6,461.0) rotate(-45)" class="xt">2400</text>
<text x="142.4" y="472.6" class="xl">Street number</text>
<linearGradient id="w51"><stop offset="0.000" stop-color="#00f" stop-opacity="0.00"/><stop offset="0.660" stop-color="#00f" stop-opacity="0.00"/><stop offset="0.670" stop-color="#00f" stop-opacity="0.08"/><stop offset="0.710" stop-color="#00f" stop-opacity="0.14"/><stop offset="0.820" stop-color="#00f" stop-opacity="0.22"/><stop offset="0.950" stop-color="#00f" stop-opacity="0.27"/></linearGradient>
<polyline points="218.7,427.0 219.3,428.3 219.4,428.6 219.4,428.9 219.5,429.2 219.5,429.5 219.6,429.8 219.6,430.1 219.7,430.4 219.7,430.7 219.8,431.0 219.9,431.3 219.9,431.6 220.0,431.9 220.1,432.2 220.2,432.6 220.3,432.9 220.3,433.2 220.4,433.5 220.6,433.8 220.7,434.1 220.8,434.4 220.9,434.7 221.1,435.0 221.2,435.3 221.4,435.6 221.5,435.9 221.7,436.2 221.9,436.5 222.1,436.8 222.3,437.1 222.5,437.4 222.8,437.7 223.0,438.1 223.3,438.4 223.6,438.7 223.9,439.0 224.2,439.3 224.5,439.6 224.9,439.9 225.3,440.2 225.7,440.5 226.1,440.8 226.6,441.1 227.1,441.4 227.6,441.7 228.2,442.0 228.8,442.3 229.4,442.6 230.1,442.9 230.8,443.3 231.6,443.6 232.4,443.9 233.2,444.2 234.1,444.5 235.1,444.8 236.1,445.1 237.2,445.4 238.4,445.7 239.6,446.0 240.9,446.3 242.3,446.6 243.8,446.9 245.4,447.2 247.1,447.5 248.9,447.8 250.8,448.1 252.8,448.5 255.0,448.8 257.2,449.1 259.7,449.4 262.2,449.7 265.0,450.0 267.9,450.3 271.0,450.6 274.3,450.9 277.8,451.2 281.5,451.5 285.5,451.8 289.7,452.1 294.1,452.4" class="gc"/>
<g transform="translate(216.30,456.60)" class="d">
<rect x="2.4" y="-41.7" width="75.4" height="41.7" fill="url(#w51)"/>
<polygon fill-opacity="1" points="2.4,0 2.4,-2.5 2.9,-1.4 3.5,-2.2 4.0,-1.9 4.5,-2.5 5.0,-1.8 5.5,-2.4 6.0,-1.6 6.5,-2.5 7.0,-1.8 7.5,-1.6 8.0,-1.8 8.5,-2.1 9.0,-1.4 9.5,-1.8 10.0,-1.4 10.5,-1.5 11.0,-1.6 11.5,-1.6 12.0,-1.7 12.5,-2.3 13.0,-1.9 13.5,-2.4 14.0,-2.4 14.5,-2.4 15.0,-2.5 15.5,-2.0 16.0,-2.2 16.5,-2.4 17.0,-2.0 17.5,-1.6 18.0,-2.0 18.5,-2.0 19.0,-1.6 19.5,-1.5 20.0,-1.6 20.5,-2.2 21.0,-2.4 21.5,-2.2 22.0,-1.9 22.5,-1.5 23.1,-1.4 23.6,-2.2 24.1,-2.1 24.6,-2.0 25.1,-1.7 25.6,-1.6 26.1,-1.7 26.6,-1.6 27.1,-2.2 27.6,-1.9 28.1,-2.2 28.6,-2.0 29.1,-2.2 29.6,-2.4 30.1,-2.5 30.6,-1.7 31.1,-2.7 31.6,-2.6 32.1,-2.6 32.6,-2.1 33.1,-2.7 33.6,-2.6 34.1,-1.8 34.6,-2.4 35.1,-2.6 35.6,-2.5 36.1,-2.7 36.6,-2.2 37.1,-2.4 37.6,-1.7 38.1,-2.4 38.6,-1.8 39.1,-2.5 39.6,-2.8 40.1,-2.1 40.6,-1.7 41.1,-1.6 41.6,-2.3 42.1,-1.8 42.7,-2.6 43.2,-2.4 43.7,-2.3 44.2,-2.5 44.7,-1.8 45.2,-2.2 45.7,-1.7 46.2,-2.4 46.7,-2.7 47.2,-1.8 47.7,-2.6 48.2,-3.0 48.7,-2.1 49.2,-1.9 49.7,-2.0 50.2,-2.8 50.7,-1.8 51.2,-2.7 51.7,-2.0 52.2,-2.7 52.7,-2.9 53.2,-2.9 53.7,-2.0 54.2,-2.5 54.7,-2.1 55.2,-2.9 55.7,-2.3 56.2,-2.3 56.7,-3.0 57.2,-2.6 57.7,-3.0 58.2,-4.3 58.7,-3.7 59.2,-3.5 59.7,-5.8 60.2,-4.1 60.7,-5.9 61.2,-5.9 61.7,-5.7 62.3,-6.3 62.8,-6.3 63.3,-7.8 63.8,-7.7 64.3,-6.3 64.8,-8.5 65.3,-8.2 65.8,-10.7 66.3,-7.0 66.8,-9.2 67.3,-12.6 67.8,-7.7 68.3,-12.5 68.8,-14.9 69.3,-13.9 69.8,-10.4 70.3,-17.5 70.8,-13.8 71.3,-17.3 71.8,-21.4 72.3,-18.8 72.8,-20.5 73.3,-21.0 73.8,-41.7 74.3,-41.7 74.8,-41.7 75.3,-41.7 75.8,-41.7 76.3,-41.7 76.8,-41.7 77.3,-41.7 77.8,-41.7 77.8,0"/>
<path class="ex" d="M16.0 0v-39.6M32.6 0v-41.7M41.6 0v-25.0M52.2 0v-41.7"/>
<path d="M0 0m53.3 .0v-41.7m4.8 41.7v-17.2m3.3 17.2v-41.7m2.8 41.7v-41.7m1.3 41.7v-41.7m1.5 41.7v-41.7m1.3 41.7v-41.7m1.0 41.7v-41.7m1.3 41.7v-32.2m1.0 32.2v-38.8m1.0 38.8v-41.7m1.0 41.7v-41.7"/>
<path d="M0 0m55.8 .0v-41.7m2.5 41.7v-41.7m4.8 41.7v-25.2m1.3 25.2v-39.2m1.3 39.2v-41.7m1.5 41.7v-41.7m1.3 41.7v-41.7m1.0 41.7v-33.4m1.3 33.4v-41.7m1.0 41.7v-41.7m1.0 41.7v-36.8m1.0 36.8v-41.7"/>
<path d="M0 0m56.5 .0v-41.7m2.8 41.7v-41.7m4.3 41.7v-32.4m1.0 32.4v-41.7m1.5 41.7v-41.7m1.3 41.7v-40.1m1.3 40.1v-26.2m1.0 26.2v-41.7m1.3 41.7v-23.7m1.0 23.7v-35.6m1.0 35.6v-41.7"/>
<path d="M0 0m57.3 .0v-41.7m3.8 41.7v-17.6m2.8 17.6v-25.2m1.0 25.2v-41.7m1.8 41.7v-13.1m1.0 13.1v-37.9m1.3 37.9v-34.4m1.3 34.4v-41.7m1.0 41.7v-41.7m1.0 41.7v-40.4m1.0 40.4v-41.7"/>
</g>
<rect x="216.30" y="414.90" width="81.50" height="41.70" fill="none" stroke="#555" stroke-width="0.7"/>
<text x="215.1" y="416.6" class="lt">1.00</text>
<text x="215.1" y="427.0" class="lt">0.75</text>
<text x="215.1" y="437.4" class="lt">0.50</text>
<text x="215.1" y="447.9" class="lt">0.25</text>
<text x="215.1" y="458.3" class="lt">0.00</text>
<text x="298.7" y="416.6" class="rt">20</text>
<text x="298.7" y="427.0" class="rt">15</text>
<text x="298.7" y="437.4" class="rt">10</text>
<text x="298.7" y="447.9" class="rt">5</text>
<text x="298.7" y="458.3" class="rt">0</text>
<text transform="translate(204.3,435.8) rotate(-90)" class="yl"><tspan class="it">β</tspan>: Average thermal value</text>
<text transform="translate(309.3,435.8) rotate(-90)" class="yl"><tspan class="it">T</tspan>: Unique threshold</text>
<text transform="translate(219.1,461.0) rotate(-45)" class="xt">0</text>
<text transform="translate(231.1,461.0) rotate(-45)" class="xt">800</text>
<text transform="translate(243.0,461.0) rotate(-45)" class="xt">1600</text>
<text transform="translate(254.9,461.0) rotate(-45)" class="xt">2400</text>
<text transform="translate(266.8,461.0) rotate(-45)" class="xt">3200</text>
<text transform="translate(278.7,461.0) rotate(-45)" class="xt">4000</text>
<text x="257.1" y="472.6" class="xl">Street number</text>
<linearGradient id="w52"><stop offset="0.000" stop-color="#00f" stop-opacity="0.00"/><stop offset="0.440" stop-color="#00f" stop-opacity="0.00"/><stop offset="0.450" stop-color="#00f" stop-opacity="0.02"/><stop offset="0.530" stop-color="#00f" stop-opacity="0.06"/><stop offset="0.600" stop-color="#00f" stop-opacity="0.09"/><stop offset="0.760" stop-color="#00f" stop-opacity="0.14"/><stop offset="0.890" stop-color="#00f" stop-opacity="0.23"/></linearGradient>
<polyline points="334.6,425.7 335.2,428.3 335.2,428.6 335.2,428.9 335.3,429.2 335.3,429.5 335.4,429.8 335.4,430.1 335.5,430.4 335.5,430.7 335.6,431.0 335.7,431.3 335.7,431.6 335.8,431.9 335.9,432.2 336.0,432.6 336.1,432.9 336.2,433.2 336.3,433.5 336.4,433.8 336.5,434.1 336.6,434.4 336.7,434.7 336.9,435.0 337.0,435.3 337.2,435.6 337.4,435.9 337.5,436.2 337.7,436.5 337.9,436.8 338.1,437.1 338.3,437.4 338.6,437.7 338.8,438.1 339.1,438.4 339.4,438.7 339.7,439.0 340.0,439.3 340.4,439.6 340.7,439.9 341.1,440.2 341.5,440.5 342.0,440.8 342.5,441.1 342.9,441.4 343.5,441.7 344.0,442.0 344.6,442.3 345.3,442.6 345.9,442.9 346.7,443.3 347.4,443.6 348.2,443.9 349.1,444.2 350.0,444.5 351.0,444.8 352.0,445.1 353.1,445.4 354.3,445.7 355.5,446.0 356.9,446.3 358.3,446.6 359.8,446.9 361.4,447.2 363.0,447.5 364.8,447.8 366.8,448.1 368.8,448.5 370.9,448.8 373.2,449.1 375.7,449.4 378.3,449.7 381.0,450.0 383.9,450.3 387.1,450.6 390.4,450.9 393.9,451.2 397.6,451.5 401.6,451.8 405.8,452.1 410.3,452.4" class="gc"/>
<g transform="translate(332.10,456.60)" class="d">
<rect x="2.5" y="-41.7" width="75.8" height="41.7" fill="url(#w52)"/>
<polygon fill-opacity="1" points="2.5,0 2.5,-2.1 3.0,-2.4 3.5,-1.9 4.0,-2.2 4.5,-2.5 5.0,-2.0 5.5,-2.2 6.0,-2.2 6.5,-2.4 7.0,-1.4 7.5,-1.6 8.0,-2.5 8.5,-2.2 9.0,-1.7 9.5,-2.2 10.0,-1.6 10.5,-1.8 11.0,-1.9 11.5,-1.6 12.0,-1.5 12.5,-2.0 13.0,-2.1 13.5,-1.7 14.0,-2.1 14.5,-2.5 15.0,-1.4 15.5,-1.7 16.0,-1.5 16.5,-2.2 17.0,-1.8 17.5,-1.9 18.0,-1.7 18.5,-2.3 19.0,-2.2 19.5,-1.9 20.0,-2.3 20.5,-1.6 21.0,-1.8 21.5,-2.5 22.0,-1.6 22.5,-1.5 23.0,-1.4 23.5,-2.1 24.0,-2.3 24.5,-1.4 25.0,-1.9 25.5,-1.8 26.0,-1.8 26.5,-1.6 27.0,-1.8 27.5,-1.5 28.0,-2.4 28.5,-1.6 29.0,-2.0 29.5,-2.1 30.1,-2.1 30.6,-1.9 31.1,-2.0 31.6,-2.5 32.1,-1.6 32.6,-1.6 33.1,-1.8 33.6,-2.3 34.1,-1.9 34.6,-1.9 35.1,-1.5 35.6,-1.6 36.1,-2.2 36.6,-1.7 37.1,-2.0 37.6,-1.7 38.1,-1.8 38.6,-1.7 39.1,-2.6 39.6,-2.2 40.1,-2.1 40.6,-1.8 41.1,-2.5 41.6,-2.2 42.1,-1.7 42.6,-1.7 43.1,-2.7 43.6,-1.9 44.1,-2.1 44.6,-1.7 45.1,-2.7 45.6,-1.9 46.1,-2.3 46.6,-2.5 47.1,-2.3 47.6,-2.1 48.1,-1.9 48.6,-2.5 49.1,-1.9 49.6,-2.4 50.1,-2.9 50.6,-2.8 51.1,-2.5 51.6,-2.4 52.1,-1.8 52.6,-2.7 53.1,-2.9 53.6,-2.1 54.1,-1.7 54.6,-2.4 55.1,-2.3 55.6,-2.8 56.1,-2.7 56.6,-2.3 57.1,-2.4 57.6,-2.4 58.1,-2.6 58.6,-2.6 59.1,-2.6 59.7,-2.1 60.2,-3.1 60.7,-2.1 61.2,-2.5 61.7,-3.2 62.2,-2.3 62.7,-3.6 63.2,-3.1 63.7,-3.3 64.2,-2.8 64.7,-3.6 65.2,-4.2 65.7,-3.1 66.2,-5.2 66.7,-5.7 67.2,-4.8 67.7,-5.3 68.2,-6.6 68.7,-6.5 69.2,-7.0 69.7,-6.7 70.2,-7.3 70.7,-7.0 71.2,-6.8 71.7,-11.8 72.2,-12.5 72.7,-9.0 73.2,-16.2 73.7,-19.7 74.2,-18.9 74.7,-30.7 75.2,-24.4 75.7,-41.7 76.2,-41.7 76.7,-41.7 77.2,-41.7 77.7,-41.7 78.2,-41.7 78.2,0"/>
<path d="M0 0m38.7 .0v-31.3m11.3 31.3v-41.7m3.8 41.7v-41.7m4.0 41.7v-17.8m3.3 17.8v-41.7m3.3 41.7v-41.7m3.8 41.7v-41.7m1.0 41.7v-26.4m1.3 26.4v-41.7m1.3 41.7v-41.7m1.3 41.7v-41.7m2.0 41.7v-41.4"/>
<path d="M0 0m45.7 .0v-41.7m5.3 41.7v-41.7m3.3 41.7v-41.7m5.0 41.7v-41.7m2.8 41.7v-41.7m4.8 41.7v-41.7m1.5 41.7v-15.7m1.0 15.7v-24.4m1.3 24.4v-20.2m1.5 20.2v-41.7m1.3 41.7v-24.3m2.0 24.3v-41.7"/>
<path d="M0 0m47.5 .0v-41.7m4.0 41.7v-41.7m3.8 41.7v-41.7m4.3 41.7v-41.7m3.8 41.7v-41.7m4.0 41.7v-41.7m1.3 41.7v-41.7m1.3 41.7v-41.7m1.3 41.7v-41.7m1.3 41.7v-41.7m1.3 41.7v-40.1"/>
<path d="M0 0m49.5 .0v-41.7m4.0 41.7v-41.7m2.8 41.7v-41.7m4.0 41.7v-34.4m3.5 34.4v-11.2m3.8 11.2v-26.0m1.3 26.0v-41.7m1.3 41.7v-20.7m1.3 20.7v-41.7m1.3 41.7v-29.6m1.8 29.6v-38.9"/>
</g>
<rect x="332.10" y="414.90" width="81.90" height="41.70" fill="none" stroke="#555" stroke-width="0.7"/>
<text x="330.9" y="416.6" class="lt">1.00</text>
<text x="330.9" y="427.0" class="lt">0.75</text>
<text x="330.9" y="437.4" class="lt">0.50</text>
<text x="330.9" y="447.9" class="lt">0.25</text>
<text x="330.9" y="458.3" class="lt">0.00</text>
<text x="414.9" y="416.6" class="rt">20</text>
<text x="414.9" y="427.0" class="rt">15</text>
<text x="414.9" y="437.4" class="rt">10</text>
<text x="414.9" y="447.9" class="rt">5</text>
<text x="414.9" y="458.3" class="rt">0</text>
<text transform="translate(320.1,435.8) rotate(-90)" class="yl"><tspan class="it">β</tspan>: Average thermal value</text>
<text transform="translate(425.5,435.8) rotate(-90)" class="yl"><tspan class="it">T</tspan>: Unique threshold</text>
<text transform="translate(335.0,461.0) rotate(-45)" class="xt">0</text>
<text transform="translate(346.5,461.0) rotate(-45)" class="xt">800</text>
<text transform="translate(358.0,461.0) rotate(-45)" class="xt">1600</text>
<text transform="translate(369.6,461.0) rotate(-45)" class="xt">2400</text>
<text transform="translate(381.1,461.0) rotate(-45)" class="xt">3200</text>
<text transform="translate(392.7,461.0) rotate(-45)" class="xt">4000</text>
<text transform="translate(404.2,461.0) rotate(-45)" class="xt">4800</text>
<text x="373.1" y="472.6" class="xl">Street number</text>
<linearGradient id="w53"><stop offset="0.000" stop-color="#00f" stop-opacity="0.00"/><stop offset="0.540" stop-color="#00f" stop-opacity="0.00"/><stop offset="0.550" stop-color="#00f" stop-opacity="0.08"/><stop offset="0.600" stop-color="#00f" stop-opacity="0.12"/><stop offset="0.710" stop-color="#00f" stop-opacity="0.17"/><stop offset="0.850" stop-color="#00f" stop-opacity="0.20"/></linearGradient>
<polyline points="447.1,426.6 447.7,428.7 447.7,429.0 447.7,429.3 447.8,429.6 447.8,429.9 447.9,430.2 447.9,430.5 448.0,430.8 448.0,431.1 448.1,431.4 448.2,431.7 448.2,432.1 448.3,432.4 448.4,432.7 448.5,433.0 448.6,433.3 448.7,433.6 448.8,433.9 448.9,434.2 449.0,434.5 449.1,434.8 449.3,435.1 449.4,435.4 449.5,435.7 449.7,436.0 449.9,436.3 450.0,436.6 450.2,436.9 450.4,437.2 450.6,437.6 450.9,437.9 451.1,438.2 451.3,438.5 451.6,438.8 451.9,439.1 452.2,439.4 452.5,439.7 452.9,440.0 453.2,440.3 453.6,440.6 454.1,440.9 454.5,441.2 455.0,441.5 455.5,441.8 456.0,442.1 456.6,442.4 457.2,442.8 457.8,443.1 458.5,443.4 459.2,443.7 459.9,444.0 460.8,444.3 461.6,444.6 462.5,444.9 463.5,445.2 464.6,445.5 465.7,445.8 466.8,446.1 468.1,446.4 469.4,446.7 470.8,447.0 472.3,447.3 473.9,447.6 475.6,448.0 477.4,448.3 479.3,448.6 481.3,448.9 483.5,449.2 485.8,449.5 488.2,449.8 490.8,450.1 493.6,450.4 496.5,450.7 499.6,451.0 502.9,451.3 506.5,451.6 510.2,451.9 514.2,452.2 518.4,452.5 522.9,452.8" class="gc"/>
<g transform="translate(444.60,456.60)" class="d">
<rect x="2.5" y="-41.7" width="75.9" height="41.7" fill="url(#w53)"/>
<polygon fill-opacity="1" points="2.5,0 2.5,-2.4 3.0,-1.5 3.5,-2.0 4.0,-1.9 4.5,-2.5 5.0,-1.8 5.5,-1.9 6.0,-2.0 6.5,-1.8 7.0,-2.4 7.5,-2.4 8.0,-2.2 8.5,-1.4 9.0,-2.5 9.5,-2.0 10.0,-2.1 10.5,-2.0 11.0,-2.0 11.5,-2.4 12.0,-1.7 12.5,-1.5 13.0,-2.5 13.5,-1.7 14.0,-1.7 14.5,-1.9 15.0,-2.4 15.5,-1.8 16.0,-1.4 16.5,-1.7 17.0,-1.7 17.5,-1.4 18.0,-2.4 18.5,-2.3 19.0,-1.6 19.5,-1.7 20.0,-2.6 20.5,-2.3 21.0,-2.0 21.5,-2.1 22.1,-2.6 22.6,-1.7 23.1,-2.2 23.6,-1.5 24.1,-2.0 24.6,-1.7 25.1,-1.9 25.6,-1.9 26.1,-2.0 26.6,-2.6 27.1,-1.9 27.6,-1.5 28.1,-2.5 28.6,-2.6 29.1,-2.5 29.6,-1.9 30.1,-1.9 30.6,-2.5 31.1,-1.6 31.6,-1.6 32.1,-2.2 32.6,-1.8 33.1,-2.1 33.6,-1.7 34.1,-2.8 34.6,-2.2 35.1,-2.0 35.6,-1.9 36.1,-1.9 36.6,-2.6 37.1,-2.6 37.6,-2.6 38.1,-2.8 38.6,-2.4 39.1,-2.1 39.6,-2.1 40.1,-1.8 40.6,-2.1 41.1,-2.2 41.6,-2.7 42.1,-2.4 42.6,-1.7 43.1,-2.3 43.7,-2.1 44.2,-2.7 44.7,-2.7 45.2,-2.4 45.7,-2.5 46.2,-2.2 46.7,-2.0 47.2,-2.7 47.7,-2.7 48.2,-2.4 48.7,-2.9 49.2,-2.8 49.7,-2.6 50.2,-1.8 50.7,-3.0 51.2,-1.8 51.7,-2.0 52.2,-1.8 52.7,-1.9 53.2,-2.7 53.7,-2.5 54.2,-1.9 54.7,-2.0 55.2,-2.8 55.7,-2.2 56.2,-2.2 56.7,-3.2 57.2,-2.5 57.7,-2.3 58.2,-3.2 58.7,-3.7 59.2,-2.4 59.7,-3.8 60.2,-3.0 60.7,-4.7 61.2,-3.9 61.7,-3.7 62.2,-3.9 62.7,-3.3 63.2,-3.3 63.7,-4.8 64.2,-5.1 64.7,-4.2 65.2,-4.3 65.8,-5.6 66.3,-7.6 66.8,-4.7 67.3,-7.2 67.8,-8.5 68.3,-6.2 68.8,-6.8 69.3,-7.9 69.8,-7.1 70.3,-6.7 70.8,-8.0 71.3,-13.3 71.8,-11.1 72.3,-15.2 72.8,-10.7 73.3,-18.8 73.8,-18.0 74.3,-24.3 74.8,-41.7 75.3,-41.7 75.8,-41.7 76.3,-41.7 76.8,-41.7 77.3,-41.7 77.8,-41.7 78.3,-41.7 78.3,0"/>
<path d="M0 0m44.5 .0v-31.2m6.3 31.2v-16.5m3.8 16.5v-41.7m3.8 41.7v-41.7m2.5 41.7v-41.7m3.3 41.7v-41.7m1.5 41.7v-37.1m2.5 37.1v-41.7m2.8 41.7v-15.4m3.0 15.4v-32.1"/>
<path d="M0 0m46.5 .0v-41.7m4.8 41.7v-16.9m4.8 16.9v-4.9m2.5 4.9v-41.7m3.0 41.7v-41.7m2.8 41.7v-41.7m1.8 41.7v-41.7m3.0 41.7v-41.7m2.0 41.7v-39.3m3.0 39.3v-41.7"/>
<path d="M0 0m47.0 .0v-32.7m5.0 32.7v-41.7m4.5 41.7v-41.7m3.0 41.7v-28.4m4.0 28.4v-41.3m1.5 41.3v-41.7m1.5 41.7v-14.8m3.0 14.8v-41.7m2.0 41.7v-25.0m3.0 25.0v-40.6"/>
<path d="M0 0m49.5 .0v-41.7m4.0 41.7v-41.7m3.3 41.7v-41.7m3.5 41.7v-20.6m3.5 20.6v-41.7m1.5 41.7v-18.3m2.5 18.3v-23.7m2.3 23.7v-15.4m2.5 15.4v-23.5"/>
</g>
<rect x="444.60" y="414.90" width="82.00" height="41.70" fill="none" stroke="#555" stroke-width="0.7"/>
<text x="443.4" y="416.6" class="lt">1.00</text>
<text x="443.4" y="427.0" class="lt">0.75</text>
<text x="443.4" y="437.4" class="lt">0.50</text>
<text x="443.4" y="447.9" class="lt">0.25</text>
<text x="443.4" y="458.3" class="lt">0.00</text>
<text x="527.5" y="416.6" class="rt">20</text>
<text x="527.5" y="427.0" class="rt">15</text>
<text x="527.5" y="437.4" class="rt">10</text>
<text x="527.5" y="447.9" class="rt">5</text>
<text x="527.5" y="458.3" class="rt">0</text>
<text transform="translate(432.6,435.8) rotate(-90)" class="yl"><tspan class="it">β</tspan>: Average thermal value</text>
<text transform="translate(538.1,435.8) rotate(-90)" class="yl"><tspan class="it">T</tspan>: Unique threshold</text>
<text transform="translate(447.5,461.0) rotate(-45)" class="xt">0</text>
<text transform="translate(459.4,461.0) rotate(-45)" class="xt">800</text>
<text transform="translate(471.4,461.0) rotate(-45)" class="xt">1600</text>
<text transform="translate(483.3,461.0) rotate(-45)" class="xt">2400</text>
<text transform="translate(495.3,461.0) rotate(-45)" class="xt">3200</text>
<text transform="translate(507.3,461.0) rotate(-45)" class="xt">4000</text>
<text transform="translate(519.2,461.0) rotate(-45)" class="xt">4800</text>
<text x="485.6" y="472.6" class="xl">Street number</text>
<linearGradient id="w60"><stop offset="0.000" stop-color="#00f" stop-opacity="0.00"/><stop offset="0.030" stop-color="#00f" stop-opacity="0.00"/><stop offset="0.040" stop-color="#00f" stop-opacity="0.06"/><stop offset="0.070" stop-color="#00f" stop-opacity="0.12"/><stop offset="0.300" stop-color="#00f" stop-opacity="0.15"/><stop offset="0.500" stop-color="#00f" stop-opacity="0.17"/><stop offset="0.700" stop-color="#00f" stop-opacity="0.18"/><stop offset="0.900" stop-color="#00f" stop-opacity="0.23"/></linearGradient>
<polyline points="104.0,504.4 104.7,504.4 104.7,504.4 104.7,504.4 104.8,504.4 104.8,504.4 104.9,504.4 104.9,504.4 105.0,504.4 105.0,504.4 105.1,504.4 105.2,504.4 105.2,504.4 105.3,504.4 105.4,504.4 105.5,504.6 105.6,505.1 105.7,505.6 105.8,506.0 105.9,506.5 106.0,507.0 106.1,507.4 106.2,507.9 106.4,508.4 106.5,508.8 106.7,509.3 106.8,509.8 107.0,510.2 107.2,510.7 107.4,511.1 107.6,511.6 107.8,512.1 108.1,512.5 108.3,513.0 108.6,513.5 108.9,513.9 109.2,514.4 109.5,514.9 109.8,515.3 110.2,515.8 110.6,516.2 111.0,516.7 111.4,517.2 111.9,517.6 112.4,518.1 112.9,518.6 113.5,519.0 114.1,519.5 114.7,520.0 115.4,520.4 116.1,520.9 116.9,521.4 117.7,521.8 118.5,522.3 119.5,522.7 120.4,523.2 121.5,523.7 122.6,524.1 123.7,524.6 125.0,525.1 126.3,525.5 127.7,526.0 129.2,526.5 130.8,526.9 132.4,527.4 134.2,527.9 136.1,528.3 138.1,528.8 140.3,529.2 142.6,529.7 145.0,530.2 147.6,530.6 150.3,530.6 153.3,530.6 156.4,530.6 159.7,530.6 163.2,530.6 166.9,530.6 170.8,530.6 175.1,530.6 179.5,530.6" class="gc"/>
<g transform="translate(101.60,530.60)" class="d">
<rect x="2.4" y="-42.2" width="75.5" height="42.2" fill="url(#w60)"/>
<polygon fill-opacity="0.8" points="2.4,0 2.4,-2.0 3.0,-2.0 3.5,-2.3 4.0,-1.8 4.5,-1.8 5.0,-2.2 5.5,-2.0 6.0,-1.8 6.5,-1.9 7.0,-1.8 7.5,-1.6 8.0,-2.1 8.5,-2.4 9.0,-2.2 9.5,-2.1 10.0,-1.8 10.5,-2.0 11.0,-1.7 11.5,-2.5 12.0,-2.0 12.5,-2.0 13.0,-3.0 13.5,-2.2 14.0,-3.2 14.5,-2.7 15.0,-3.0 15.5,-2.8 16.0,-2.2 16.5,-3.1 17.0,-2.4 17.5,-2.7 18.0,-2.3 18.6,-2.2 19.1,-2.8 19.6,-2.2 20.1,-2.9 20.6,-3.8 21.1,-4.2 21.6,-3.1 22.1,-2.6 22.6,-3.1 23.1,-2.6 23.6,-2.9 24.1,-3.8 24.6,-3.9 25.1,-2.7 25.6,-3.7 26.1,-3.6 26.6,-3.5 27.1,-3.0 27.6,-3.6 28.1,-2.9 28.6,-4.3 29.1,-4.2 29.6,-4.2 30.1,-3.7 30.6,-5.1 31.1,-3.7 31.6,-3.3 32.1,-3.8 32.6,-5.1 33.1,-3.3 33.6,-4.8 34.1,-5.3 34.7,-5.1 35.2,-4.2 35.7,-4.2 36.2,-5.3 36.7,-4.9 37.2,-5.2 37.7,-3.6 38.2,-4.7 38.7,-5.1 39.2,-3.8 39.7,-3.8 40.2,-5.5 40.7,-4.8 41.2,-4.4 41.7,-4.6 42.2,-4.0 42.7,-4.0 43.2,-3.7 43.7,-4.5 44.2,-3.8 44.7,-6.0 45.2,-6.2 45.7,-5.2 46.2,-3.7 46.7,-5.3 47.2,-4.0 47.7,-4.7 48.2,-4.0 48.7,-5.1 49.2,-3.8 49.7,-4.5 50.3,-4.4 50.8,-5.1 51.3,-6.6 51.8,-5.5 52.3,-6.2 52.8,-6.0 53.3,-5.5 53.8,-4.0 54.3,-4.0 54.8,-4.3 55.3,-5.5 55.8,-5.0 56.3,-6.9 56.8,-4.6 57.3,-4.4 57.8,-6.1 58.3,-6.0 58.8,-4.2 59.3,-5.2 59.8,-5.5 60.3,-6.9 60.8,-6.7 61.3,-7.1 61.8,-6.0 62.3,-7.4 62.8,-5.8 63.3,-5.2 63.8,-4.7 64.3,-7.1 64.8,-6.5 65.3,-6.4 65.9,-7.8 66.4,-6.6 66.9,-5.5 67.4,-7.0 67.9,-7.9 68.4,-5.2 68.9,-8.3 69.4,-6.3 69.9,-5.2 70.4,-6.9 70.9,-8.1 71.4,-7.0 71.9,-6.2 72.4,-8.4 72.9,-5.6 73.4,-8.2 73.9,-7.0 74.4,-8.1 74.9,-7.7 75.4,-6.6 75.9,-6.3 76.4,-9.1 76.9,-7.4 77.4,-6.7 77.9,-8.0 77.9,0"/>
<path d="M0 0m5.5 .0v-42.2m3.0 42.2v-42.2m5.5 42.2v-5.6m4.5 5.6v-20.9m2.5 20.9v-41.0m5.0 41.0v-42.2m4.0 42.2v-24.8m3.0 24.8v-42.2m4.0 42.2v-11.2m2.5 11.2v-42.2m4.5 42.2v-42.2m4.5 42.2v-42.2m2.5 42.2v-39.1m4.0 39.1v-23.2m3.0 23.2v-42.1m2.5 42.1v-42.2m2.5 42.2v-42.2m3.0 42.2v-42.2m3.0 42.2v-42.2m2.0 42.2v-22.2m2.0 22.2v-42.2m2.0 42.2v-42.2m2.0 42.2v-42.2"/>
<path d="M0 0m6.0 .0v-42.2m4.0 42.2v-42.2m4.5 42.2v-42.2m4.5 42.2v-19.4m2.5 19.4v-42.2m7.0 42.2v-42.2m2.0 42.2v-42.2m4.5 42.2v-31.3m3.0 31.3v-42.2m4.5 42.2v-42.2m2.5 42.2v-42.2m4.0 42.2v-42.2m3.0 42.2v-42.2m4.0 42.2v-42.2m2.5 42.2v-42.2m2.5 42.2v-42.2m2.5 42.2v-42.2m3.5 42.2v-42.2m2.5 42.2v-17.4m2.0 17.4v-42.2m2.0 42.2v-42.2m2.0 42.2v-42.2m2.0 42.2v-42.2"/>
<path d="M0 0m6.5 .0v-24.6m5.0 24.6v-42.2m3.5 42.2v-42.2m4.5 42.2v-42.2m3.0 42.2v-42.2m6.5 42.2v-42.2m2.0 42.2v-8.9m5.0 8.9v-23.4m2.5 23.4v-8.6m4.5 8.6v-42.2m2.5 42.2v-42.2m4.0 42.2v-28.7m3.0 28.7v-27.6m4.0 27.6v-22.5m2.5 22.5v-42.2m3.0 42.2v-42.2m2.5 42.2v-42.2m3.0 42.2v-42.2m2.5 42.2v-42.2m2.0 42.2v-42.2m2.0 42.2v-42.2m2.0 42.2v-15.3"/>
<path d="M0 0m8.0 .0v-42.2m4.0 42.2v-25.9m5.0 25.9v-41.4m3.5 41.4v-42.2m4.5 42.2v-40.2m4.5 40.2v-42.2m2.0 42.2v-42.2m5.0 42.2v-42.2m2.5 42.2v-42.2m4.5 42.2v-42.2m4.0 42.2v-42.2m2.5 42.2v-14.0m3.0 14.0v-22.1m4.0 22.1v-42.2m2.5 42.2v-42.2m3.0 42.2v-42.2m2.5 42.2v-42.2m3.5 42.2v-42.2m2.0 42.2v-42.2m2.0 42.2v-42.2m2.0 42.2v-42.2m2.0 42.2v-42.2"/>
<polygon class="fl" fill-opacity="0.55" points="2.4,0 2.4,0.0 3.0,-0.0 3.5,-0.0 4.0,-0.0 4.5,-0.0 5.0,-0.0 5.5,-0.0 6.0,-0.0 6.5,-0.0 7.0,-0.0 7.5,-0.0 8.0,-0.0 8.5,-0.0 9.0,-0.0 9.5,-0.0 10.0,-0.0 10.5,-0.0 11.0,-0.0 11.5,-0.0 12.0,-0.0 12.5,-0.0 13.0,-0.0 13.5,-0.0 14.0,-0.0 14.5,-0.0 15.0,-0.0 15.5,-0.0 16.0,-0.0 16.5,-0.0 17.0,-0.0 17.5,-0.0 18.0,-0.0 18.6,-0.0 19.1,-0.0 19.6,-0.0 20.1,-0.0 20.6,-0.0 21.1,-0.0 21.6,-0.0 22.1,-0.0 22.6,-0.0 23.1,-0.0 23.6,-0.0 24.1,-0.0 24.6,-0.0 25.1,-0.0 25.6,-0.0 26.1,-0.0 26.6,-0.0 27.1,-0.0 27.6,-0.0 28.1,-0.0 28.6,-0.0 29.1,-0.0 29.6,-0.0 30.1,-0.0 30.6,-0.0 31.1,-0.0 31.6,-0.2 32.1,-0.4 32.6,-0.7 33.1,-0.5 33.6,-0.7 34.1,-1.3 34.7,-1.2 35.2,-1.2 35.7,-1.6 36.2,-1.4 36.7,-2.2 37.2,-1.8 37.7,-2.4 38.2,-2.0 38.7,-2.8 39.2,-1.5 39.7,-2.7 40.2,-1.6 40.7,-2.2 41.2,-1.9 41.7,-2.2 42.2,-3.0 42.7,-2.0 43.2,-2.3 43.7,-2.6 44.2,-1.9 44.7,-2.6 45.2,-2.3 45.7,-3.5 46.2,-3.5 46.7,-2.8 47.2,-3.6 47.7,-2.1 48.2,-2.0 48.7,-2.8 49.2,-3.8 49.7,-3.8 50.3,-4.0 50.8,-3.7 51.3,-2.9 51.8,-3.8 52.3,-3.8 52.8,-3.3 53.3,-4.0 53.8,-3.9 54.3,-2.7 54.8,-2.4 55.3,-2.8 55.8,-4.2 56.3,-3.4 56.8,-3.2 57.3,-4.2 57.8,-2.9 58.3,-3.1 58.8,-2.8 59.3,-5.0 59.8,-3.6 60.3,-4.3 60.8,-5.2 61.3,-4.2 61.8,-7.1 62.3,-7.2 62.8,-4.7 63.3,-5.2 63.8,-8.6 64.3,-5.9 64.8,-7.1 65.3,-9.9 65.9,-7.2 66.4,-8.9 66.9,-8.6 67.4,-10.7 67.9,-11.3 68.4,-12.1 68.9,-8.4 69.4,-11.6 69.9,-8.7 70.4,-15.0 70.9,-10.0 71.4,-12.3 71.9,-10.1 72.4,-12.9 72.9,-11.0 73.4,-9.1 73.9,-8.9 74.4,-15.3 74.9,-11.3 75.4,-10.6 75.9,-16.2 76.4,-17.5 76.9,-12.3 77.4,-15.6 77.9,-19.2 78.5,0"/>
</g>
<rect x="101.60" y="488.40" width="81.60" height="42.20" fill="none" stroke="#555" stroke-width="0.7"/>
<text x="100.4" y="490.1" class="lt">1.00</text>
<text x="100.4" y="500.6" class="lt">0.75</text>
<text x="100.4" y="511.2" class="lt">0.50</text>
<text x="100.4" y="521.8" class="lt">0.25</text>
<text x="100.4" y="532.3" class="lt">0.00</text>
<text x="184.1" y="490.1" class="rt">20</text>
<text x="184.1" y="500.6" class="rt">15</text>
<text x="184.1" y="511.2" class="rt">10</text>
<text x="184.1" y="521.8" class="rt">5</text>
<text x="184.1" y="532.3" class="rt">0</text>
<text transform="translate(89.6,509.5) rotate(-90)" class="yl"><tspan class="it">β</tspan>: Average thermal value</text>
<text transform="translate(194.7,509.5) rotate(-90)" class="yl"><tspan class="it">T</tspan>: Unique threshold</text>
<text transform="translate(104.4,535.0) rotate(-45)" class="xt">0</text>
<text transform="translate(116.8,535.0) rotate(-45)" class="xt">300</text>
<text transform="translate(129.2,535.0) rotate(-45)" class="xt">600</text>
<text transform="translate(141.6,535.0) rotate(-45)" class="xt">900</text>
<text transform="translate(154.0,535.0) rotate(-45)" class="xt">1200</text>
<text transform="translate(166.3,535.0) rotate(-45)" class="xt">1500</text>
<text x="142.4" y="546.6" class="xl">Street number</text>
<linearGradient id="w61"><stop offset="0.000" stop-color="#00f" stop-opacity="0.00"/><stop offset="0.330" stop-color="#00f" stop-opacity="0.00"/><stop offset="0.340" stop-color="#00f" stop-opacity="0.06"/><stop offset="0.400" stop-color="#00f" stop-opacity="0.09"/><stop offset="0.600" stop-color="#00f" stop-opacity="0.18"/><stop offset="0.700" stop-color="#00f" stop-opacity="0.24"/><stop offset="0.800" stop-color="#00f" stop-opacity="0.27"/><stop offset="0.950" stop-color="#00f" stop-opacity="0.27"/></linearGradient>
<polyline points="218.7,500.6 219.3,500.6 219.4,500.6 219.4,500.6 219.5,500.6 219.5,500.9 219.6,501.3 219.6,501.6 219.7,502.0 219.7,502.4 219.8,502.8 219.9,503.2 219.9,503.6 220.0,504.0 220.1,504.3 220.2,504.7 220.3,505.1 220.3,505.5 220.4,505.9 220.6,506.3 220.7,506.7 220.8,507.1 220.9,507.4 221.1,507.8 221.2,508.2 221.4,508.6 221.5,509.0 221.7,509.4 221.9,509.8 222.1,510.2 222.3,510.5 222.5,510.9 222.8,511.3 223.0,511.7 223.3,512.1 223.6,512.5 223.9,512.9 224.2,513.2 224.5,513.6 224.9,514.0 225.3,514.4 225.7,514.8 226.1,515.2 226.6,515.6 227.1,516.0 227.6,516.3 228.2,516.7 228.8,517.1 229.4,517.5 230.1,517.9 230.8,518.3 231.6,518.7 232.4,519.1 233.2,519.4 234.1,519.8 235.1,520.2 236.1,520.6 237.2,521.0 238.4,521.4 239.6,521.8 240.9,522.1 242.3,522.5 243.8,522.9 245.4,523.3 247.1,523.7 248.9,524.1 250.8,524.5 252.8,524.9 255.0,525.2 257.2,525.6 259.7,526.0 262.2,526.4 265.0,526.8 267.9,527.2 271.0,527.6 274.3,527.9 277.8,528.3 281.5,528.7 285.5,529.1 289.7,529.5 294.1,529.9" class="gc"/>
<g transform="translate(216.30,530.60)" class="d">
<rect x="2.4" y="-42.2" width="75.4" height="42.2" fill="url(#w61)"/>
<polygon fill-opacity="1" points="2.4,0 2.4,-2.5 2.9,-1.6 3.5,-2.5 4.0,-1.7 4.5,-1.9 5.0,-2.4 5.5,-1.8 6.0,-2.0 6.5,-1.6 7.0,-2.5 7.5,-2.5 8.0,-1.6 8.5,-1.5 9.0,-1.9 9.5,-2.0 10.0,-2.3 10.5,-1.8 11.0,-2.1 11.5,-1.6 12.0,-1.6 12.5,-1.5 13.0,-2.0 13.5,-2.0 14.0,-2.1 14.5,-2.5 15.0,-1.7 15.5,-1.8 16.0,-1.9 16.5,-2.5 17.0,-1.7 17.5,-1.7 18.0,-1.9 18.5,-2.2 19.0,-1.7 19.5,-1.6 20.0,-2.2 20.5,-2.1 21.0,-2.1 21.5,-1.4 22.0,-1.7 22.5,-1.5 23.1,-1.8 23.6,-2.4 24.1,-2.5 24.6,-2.4 25.1,-1.8 25.6,-2.0 26.1,-2.4 26.6,-1.8 27.1,-1.9 27.6,-2.2 28.1,-1.8 28.6,-1.9 29.1,-1.8 29.6,-2.3 30.1,-2.0 30.6,-1.5 31.1,-1.4 31.6,-2.1 32.1,-1.5 32.6,-2.2 33.1,-1.7 33.6,-2.0 34.1,-1.8 34.6,-2.2 35.1,-1.5 35.6,-1.9 36.1,-2.2 36.6,-1.7 37.1,-2.5 37.6,-2.6 38.1,-2.7 38.6,-2.8 39.1,-2.9 39.6,-2.5 40.1,-2.9 40.6,-2.4 41.1,-1.9 41.6,-3.4 42.1,-3.4 42.7,-2.4 43.2,-2.7 43.7,-2.5 44.2,-3.5 44.7,-2.6 45.2,-3.9 45.7,-2.5 46.2,-3.3 46.7,-4.2 47.2,-3.7 47.7,-3.0 48.2,-2.8 48.7,-4.4 49.2,-3.1 49.7,-3.7 50.2,-4.6 50.7,-3.9 51.2,-3.3 51.7,-5.5 52.2,-5.7 52.7,-5.6 53.2,-4.3 53.7,-5.8 54.2,-7.9 54.7,-6.5 55.2,-5.8 55.7,-8.9 56.2,-6.7 56.7,-7.7 57.2,-6.4 57.7,-10.2 58.2,-9.7 58.7,-9.3 59.2,-9.5 59.7,-9.0 60.2,-10.0 60.7,-10.7 61.2,-7.9 61.7,-12.9 62.3,-13.6 62.8,-8.8 63.3,-9.9 63.8,-14.7 64.3,-12.3 64.8,-11.0 65.3,-16.0 65.8,-19.0 66.3,-13.9 66.8,-16.5 67.3,-16.6 67.8,-17.1 68.3,-17.9 68.8,-21.6 69.3,-21.5 69.8,-22.2 70.3,-20.5 70.8,-21.8 71.3,-22.1 71.8,-22.4 72.3,-22.2 72.8,-23.5 73.3,-15.4 73.8,-17.0 74.3,-23.2 74.8,-20.4 75.3,-17.9 75.8,-23.2 76.3,-17.6 76.8,-24.6 77.3,-19.1 77.8,-26.6 77.8,0"/>
<path class="ex" d="M22.8 0v-14.8"/>
<path d="M0 0m30.0 .0v-42.2m5.5 42.2v-42.2m3.0 42.2v-25.7m3.0 25.7v-42.2m2.0 42.2v-42.2m1.3 42.2v-27.6m2.0 27.6v-42.2m3.0 42.2v-42.2m2.3 42.2v-19.4m1.3 19.4v-13.5m1.5 13.5v-14.2m1.0 14.2v-42.2m1.3 42.2v-42.2m1.3 42.2v-42.2m1.5 42.2v-42.2m1.0 42.2v-42.2m1.0 42.2v-41.3m1.0 41.3v-42.2m1.0 42.2v-42.2m1.0 42.2v-20.4m1.0 20.4v-25.0m1.0 25.0v-42.2m1.0 42.2v-40.1m1.0 40.1v-36.9m1.0 36.9v-42.2m1.0 42.2v-42.2m1.0 42.2v-42.2m1.0 42.2v-31.0m1.0 31.0v-42.2m1.0 42.2v-41.3m1.0 41.3v-37.9m1.0 37.9v-30.3m1.0 30.3v-42.2"/>
<path d="M0 0m30.5 .0v-24.2m5.3 24.2v-39.9m4.0 39.9v-42.2m2.3 42.2v-27.3m1.8 27.3v-42.2m1.3 42.2v-40.1m3.0 40.1v-42.2m3.0 42.2v-30.0m1.3 30.0v-42.2m1.3 42.2v-32.2m1.5 32.2v-42.2m1.3 42.2v-42.2m1.0 42.2v-42.2m1.3 42.2v-42.2m1.5 42.2v-42.2m1.0 42.2v-39.8m1.0 39.8v-42.2m1.0 42.2v-42.2m1.0 42.2v-25.5m1.0 25.5v-42.2m1.0 42.2v-25.4m1.0 25.4v-42.2m1.0 42.2v-27.9m1.0 27.9v-25.3m1.0 25.3v-34.5m1.0 34.5v-42.2m1.0 42.2v-28.3m1.0 28.3v-29.5m1.0 29.5v-42.2m1.0 42.2v-42.2m1.0 42.2v-42.2m1.0 42.2v-42.2"/>
<path d="M0 0m31.2 .0v-23.5m5.3 23.5v-42.2m3.5 42.2v-42.2m2.5 42.2v-42.2m1.5 42.2v-31.6m1.8 31.6v-42.2m3.0 42.2v-36.4m2.8 36.4v-42.2m1.3 42.2v-42.2m1.0 42.2v-42.2m1.5 42.2v-42.2m1.3 42.2v-38.5m1.3 38.5v-42.2m1.5 42.2v-42.2m1.0 42.2v-42.2m1.0 42.2v-27.0m1.0 27.0v-16.5m1.0 16.5v-42.2m1.0 42.2v-42.2m1.0 42.2v-24.7m1.0 24.7v-42.2m1.0 42.2v-42.2m1.0 42.2v-34.9m1.0 34.9v-42.2m1.0 42.2v-39.7m1.0 39.7v-42.2m1.0 42.2v-42.2m1.0 42.2v-42.2m1.0 42.2v-33.8m1.0 33.8v-42.2m1.0 42.2v-42.2m1.0 42.2v-42.2"/>
<path d="M0 0m35.0 .0v-42.2m1.8 42.2v-32.9m4.0 32.9v-42.2m2.5 42.2v-42.2m1.3 42.2v-42.2m2.0 42.2v-42.2m2.5 42.2v-42.2m2.8 42.2v-9.8m1.3 9.8v-42.2m1.3 42.2v-30.5m1.3 30.5v-42.2m1.3 42.2v-42.2m1.3 42.2v-42.2m1.5 42.2v-42.2m1.0 42.2v-42.2m1.0 42.2v-15.8m1.0 15.8v-42.2m1.0 42.2v-37.0m1.0 37.0v-42.2m1.0 42.2v-42.2m1.0 42.2v-42.2m1.0 42.2v-42.2m1.0 42.2v-42.2m1.0 42.2v-42.2m1.0 42.2v-42.2m1.0 42.2v-42.2m1.0 42.2v-40.4m1.0 40.4v-42.2m1.0 42.2v-42.2m1.0 42.2v-34.2m1.0 34.2v-42.2m1.0 42.2v-34.2"/>
</g>
<rect x="216.30" y="488.40" width="81.50" height="42.20" fill="none" stroke="#555" stroke-width="0.7"/>
<text x="215.1" y="490.1" class="lt">1.00</text>
<text x="215.1" y="500.6" class="lt">0.75</text>
<text x="215.1" y="511.2" class="lt">0.50</text>
<text x="215.1" y="521.8" class="lt">0.25</text>
<text x="215.1" y="532.3" class="lt">0.00</text>
<text x="298.7" y="490.1" class="rt">20</text>
<text x="298.7" y="500.6" class="rt">15</text>
<text x="298.7" y="511.2" class="rt">10</text>
<text x="298.7" y="521.8" class="rt">5</text>
<text x="298.7" y="532.3" class="rt">0</text>
<text transform="translate(204.3,509.5) rotate(-90)" class="yl"><tspan class="it">β</tspan>: Average thermal value</text>
<text transform="translate(309.3,509.5) rotate(-90)" class="yl"><tspan class="it">T</tspan>: Unique threshold</text>
<text transform="translate(219.1,535.0) rotate(-45)" class="xt">0</text>
<text transform="translate(228.0,535.0) rotate(-45)" class="xt">400</text>
<text transform="translate(236.8,535.0) rotate(-45)" class="xt">800</text>
<text transform="translate(245.6,535.0) rotate(-45)" class="xt">1200</text>
<text transform="translate(254.4,535.0) rotate(-45)" class="xt">1600</text>
<text transform="translate(263.2,535.0) rotate(-45)" class="xt">2000</text>
<text transform="translate(272.1,535.0) rotate(-45)" class="xt">2400</text>
<text transform="translate(280.9,535.0) rotate(-45)" class="xt">2800</text>
<text transform="translate(289.7,535.0) rotate(-45)" class="xt">3200</text>
<text x="257.1" y="546.6" class="xl">Street number</text>
<linearGradient id="w62"><stop offset="0.000" stop-color="#00f" stop-opacity="0.00"/><stop offset="0.570" stop-color="#00f" stop-opacity="0.00"/><stop offset="0.580" stop-color="#00f" stop-opacity="0.09"/><stop offset="0.670" stop-color="#00f" stop-opacity="0.17"/><stop offset="0.820" stop-color="#00f" stop-opacity="0.25"/><stop offset="0.900" stop-color="#00f" stop-opacity="0.27"/></linearGradient>
<polyline points="334.6,501.1 335.2,501.2 335.2,501.5 335.2,501.9 335.3,502.2 335.3,502.6 335.4,502.9 335.4,503.2 335.5,503.6 335.5,503.9 335.6,504.3 335.7,504.6 335.7,505.0 335.8,505.3 335.9,505.6 336.0,506.0 336.1,506.3 336.2,506.7 336.3,507.0 336.4,507.4 336.5,507.7 336.6,508.0 336.7,508.4 336.9,508.7 337.0,509.1 337.2,509.4 337.4,509.8 337.5,510.1 337.7,510.4 337.9,510.8 338.1,511.1 338.3,511.5 338.6,511.8 338.8,512.2 339.1,512.5 339.4,512.8 339.7,513.2 340.0,513.5 340.4,513.9 340.7,514.2 341.1,514.6 341.5,514.9 342.0,515.2 342.5,515.6 342.9,515.9 343.5,516.3 344.0,516.6 344.6,517.0 345.3,517.3 345.9,517.6 346.7,518.0 347.4,518.3 348.2,518.7 349.1,519.0 350.0,519.4 351.0,519.7 352.0,520.0 353.1,520.4 354.3,520.7 355.5,521.1 356.9,521.4 358.3,521.8 359.8,522.1 361.4,522.4 363.0,522.8 364.8,523.1 366.8,523.5 368.8,523.8 370.9,524.2 373.2,524.5 375.7,524.8 378.3,525.2 381.0,525.5 383.9,525.9 387.1,526.2 390.4,526.6 393.9,526.9 397.6,527.2 401.6,527.6 405.8,527.9 410.3,528.3" class="gc"/>
<g transform="translate(332.10,530.60)" class="d">
<rect x="2.5" y="-42.2" width="75.8" height="42.2" fill="url(#w62)"/>
<polygon fill-opacity="1" points="2.5,0 2.5,-1.9 3.0,-1.7 3.5,-2.4 4.0,-2.0 4.5,-1.5 5.0,-2.3 5.5,-1.5 6.0,-1.6 6.5,-1.5 7.0,-2.1 7.5,-2.4 8.0,-2.1 8.5,-1.7 9.0,-2.4 9.5,-2.4 10.0,-1.8 10.5,-1.7 11.0,-2.2 11.5,-2.5 12.0,-2.5 12.5,-2.4 13.0,-2.2 13.5,-1.7 14.0,-2.1 14.5,-1.9 15.0,-2.1 15.5,-2.0 16.0,-1.6 16.5,-2.4 17.0,-1.4 17.5,-1.8 18.0,-1.8 18.5,-2.5 19.0,-1.5 19.5,-2.1 20.0,-2.5 20.5,-2.1 21.0,-2.5 21.5,-1.9 22.0,-1.9 22.5,-1.8 23.0,-1.8 23.5,-1.8 24.0,-1.5 24.5,-2.5 25.0,-2.2 25.5,-2.2 26.0,-2.0 26.5,-1.6 27.0,-1.7 27.5,-2.5 28.0,-2.3 28.5,-1.9 29.0,-2.3 29.5,-2.5 30.1,-1.4 30.6,-1.8 31.1,-1.9 31.6,-1.8 32.1,-2.0 32.6,-1.7 33.1,-1.5 33.6,-2.4 34.1,-1.9 34.6,-2.3 35.1,-1.5 35.6,-1.7 36.1,-2.0 36.6,-1.4 37.1,-1.9 37.6,-1.6 38.1,-1.9 38.6,-1.7 39.1,-2.3 39.6,-2.0 40.1,-1.7 40.6,-2.1 41.1,-1.9 41.6,-1.7 42.1,-2.3 42.6,-2.1 43.1,-1.4 43.6,-2.0 44.1,-1.9 44.6,-1.5 45.1,-2.5 45.6,-2.2 46.1,-2.8 46.6,-2.2 47.1,-2.2 47.6,-1.9 48.1,-2.7 48.6,-2.5 49.1,-2.1 49.6,-3.3 50.1,-2.9 50.6,-2.2 51.1,-3.8 51.6,-2.9 52.1,-4.0 52.6,-3.2 53.1,-2.6 53.6,-3.8 54.1,-3.6 54.6,-4.7 55.1,-4.1 55.6,-4.0 56.1,-4.2 56.6,-4.6 57.1,-5.5 57.6,-5.8 58.1,-4.8 58.6,-4.2 59.1,-3.9 59.7,-6.1 60.2,-5.1 60.7,-7.8 61.2,-6.5 61.7,-9.1 62.2,-5.6 62.7,-9.4 63.2,-6.3 63.7,-7.2 64.2,-8.4 64.7,-8.1 65.2,-9.6 65.7,-10.6 66.2,-12.1 66.7,-8.7 67.2,-13.5 67.7,-12.4 68.2,-15.0 68.7,-12.9 69.2,-18.2 69.7,-13.2 70.2,-12.5 70.7,-19.3 71.2,-19.0 71.7,-14.8 72.2,-17.0 72.7,-18.4 73.2,-16.4 73.7,-21.2 74.2,-20.1 74.7,-22.3 75.2,-24.7 75.7,-17.4 76.2,-18.4 76.7,-23.4 77.2,-22.6 77.7,-24.1 78.2,-18.5 78.2,0"/>
<path class="ex" d="M34.3 0v-10.6M42.6 0v-27.4"/>
<path d="M0 0m47.5 .0v-42.2m5.0 42.2v-10.1m1.8 10.1v-37.0m1.3 37.0v-42.2m2.5 42.2v-42.2m1.0 42.2v-42.2m1.3 42.2v-42.2m1.3 42.2v-42.2m1.3 42.2v-25.5m1.3 25.5v-42.2m1.0 42.2v-42.2m1.0 42.2v-42.2m1.3 42.2v-42.2m1.0 42.2v-42.2m1.0 42.2v-42.2m1.0 42.2v-28.9m1.0 28.9v-36.4m1.0 36.4v-42.2m1.0 42.2v-42.2m1.0 42.2v-32.5m1.0 32.5v-42.2m1.0 42.2v-42.2m1.0 42.2v-42.2m1.0 42.2v-42.2"/>
<path d="M0 0m49.0 .0v-42.2m3.8 42.2v-42.2m1.8 42.2v-42.2m1.3 42.2v-42.2m2.5 42.2v-42.2m1.3 42.2v-11.6m1.0 11.6v-37.2m1.3 37.2v-42.2m1.5 42.2v-42.2m1.0 42.2v-42.2m1.0 42.2v-37.7m1.0 37.7v-42.2m1.3 42.2v-42.2m1.0 42.2v-42.2m1.0 42.2v-42.2m1.0 42.2v-25.5m1.0 25.5v-42.2m1.0 42.2v-41.1m1.0 41.1v-42.2m1.0 42.2v-42.2m1.0 42.2v-42.2m1.0 42.2v-42.2m1.0 42.2v-42.2"/>
<path d="M0 0m49.7 .0v-26.8m3.5 26.8v-40.4m1.5 40.4v-42.2m1.3 42.2v-42.2m2.5 42.2v-16.1m1.3 16.1v-42.2m1.3 42.2v-42.2m1.0 42.2v-42.2m1.5 42.2v-42.2m1.0 42.2v-42.2m1.0 42.2v-42.2m1.3 42.2v-22.6m1.0 22.6v-42.2m1.0 42.2v-21.7m1.0 21.7v-42.2m1.0 42.2v-27.5m1.0 27.5v-42.2m1.0 42.2v-42.2m1.0 42.2v-42.2m1.0 42.2v-37.1m1.0 37.1v-38.1m1.0 38.1v-42.2m1.0 42.2v-41.3"/>
<path d="M0 0m50.5 .0v-15.3m3.5 15.3v-42.2m1.0 42.2v-42.2m1.3 42.2v-42.2m2.5 42.2v-22.0m1.3 22.0v-42.2m1.3 42.2v-41.3m1.0 41.3v-42.2m1.5 42.2v-42.2m1.0 42.2v-42.2m1.0 42.2v-29.7m1.3 29.7v-42.2m1.0 42.2v-42.2m1.0 42.2v-39.9m1.0 39.9v-42.2m1.0 42.2v-32.3m1.0 32.3v-42.2m1.0 42.2v-42.2m1.0 42.2v-42.2m1.0 42.2v-42.2m1.0 42.2v-34.9m1.0 34.9v-42.2m1.0 42.2v-42.2"/>
</g>
<rect x="332.10" y="488.40" width="81.90" height="42.20" fill="none" stroke="#555" stroke-width="0.7"/>
<text x="330.9" y="490.1" class="lt">1.00</text>
<text x="330.9" y="500.6" class="lt">0.75</text>
<text x="330.9" y="511.2" class="lt">0.50</text>
<text x="330.9" y="521.8" class="lt">0.25</text>
<text x="330.9" y="532.3" class="lt">0.00</text>
<text x="414.9" y="490.1" class="rt">20</text>
<text x="414.9" y="500.6" class="rt">15</text>
<text x="414.9" y="511.2" class="rt">10</text>
<text x="414.9" y="521.8" class="rt">5</text>
<text x="414.9" y="532.3" class="rt">0</text>
<text transform="translate(320.1,509.5) rotate(-90)" class="yl"><tspan class="it">β</tspan>: Average thermal value</text>
<text transform="translate(425.5,509.5) rotate(-90)" class="yl"><tspan class="it">T</tspan>: Unique threshold</text>
<text transform="translate(335.0,535.0) rotate(-45)" class="xt">0</text>
<text transform="translate(343.1,535.0) rotate(-45)" class="xt">400</text>
<text transform="translate(351.2,535.0) rotate(-45)" class="xt">800</text>
<text transform="translate(359.4,535.0) rotate(-45)" class="xt">1200</text>
<text transform="translate(367.5,535.0) rotate(-45)" class="xt">1600</text>
<text transform="translate(375.7,535.0) rotate(-45)" class="xt">2000</text>
<text transform="translate(383.8,535.0) rotate(-45)" class="xt">2400</text>
<text transform="translate(392.0,535.0) rotate(-45)" class="xt">2800</text>
<text transform="translate(400.1,535.0) rotate(-45)" class="xt">3200</text>
<text x="373.1" y="546.6" class="xl">Street number</text>
<linearGradient id="w63"><stop offset="0.000" stop-color="#00f" stop-opacity="0.00"/><stop offset="0.340" stop-color="#00f" stop-opacity="0.00"/><stop offset="0.350" stop-color="#00f" stop-opacity="0.05"/><stop offset="0.400" stop-color="#00f" stop-opacity="0.08"/><stop offset="0.600" stop-color="#00f" stop-opacity="0.14"/><stop offset="0.800" stop-color="#00f" stop-opacity="0.25"/><stop offset="0.880" stop-color="#00f" stop-opacity="0.27"/></linearGradient>
<polyline points="447.1,500.6 447.7,500.6 447.7,500.6 447.7,500.9 447.8,501.2 447.8,501.6 447.9,501.9 447.9,502.3 448.0,502.6 448.0,503.0 448.1,503.3 448.2,503.7 448.2,504.0 448.3,504.4 448.4,504.7 448.5,505.1 448.6,505.5 448.7,505.8 448.8,506.2 448.9,506.5 449.0,506.9 449.1,507.2 449.3,507.6 449.4,507.9 449.5,508.3 449.7,508.6 449.9,509.0 450.0,509.3 450.2,509.7 450.4,510.0 450.6,510.4 450.9,510.8 451.1,511.1 451.3,511.5 451.6,511.8 451.9,512.2 452.2,512.5 452.5,512.9 452.9,513.2 453.2,513.6 453.6,513.9 454.1,514.3 454.5,514.6 455.0,515.0 455.5,515.3 456.0,515.7 456.6,516.1 457.2,516.4 457.8,516.8 458.5,517.1 459.2,517.5 459.9,517.8 460.8,518.2 461.6,518.5 462.5,518.9 463.5,519.2 464.6,519.6 465.7,519.9 466.8,520.3 468.1,520.6 469.4,521.0 470.8,521.4 472.3,521.7 473.9,522.1 475.6,522.4 477.4,522.8 479.3,523.1 481.3,523.5 483.5,523.8 485.8,524.2 488.2,524.5 490.8,524.9 493.6,525.2 496.5,525.6 499.6,525.9 502.9,526.3 506.5,526.7 510.2,527.0 514.2,527.4 518.4,527.7 522.9,528.1" class="gc"/>
<g transform="translate(444.60,530.60)" class="d">
<rect x="2.5" y="-42.2" width="75.9" height="42.2" fill="url(#w63)"/>
<polygon fill-opacity="1" points="2.5,0 2.5,-1.9 3.0,-2.1 3.5,-1.9 4.0,-2.5 4.5,-1.4 5.0,-2.5 5.5,-2.2 6.0,-2.3 6.5,-2.3 7.0,-1.6 7.5,-2.3 8.0,-2.2 8.5,-1.6 9.0,-2.4 9.5,-1.9 10.0,-2.2 10.5,-1.5 11.0,-2.2 11.5,-1.4 12.0,-1.5 12.5,-1.5 13.0,-1.4 13.5,-2.1 14.0,-1.6 14.5,-1.6 15.0,-2.3 15.5,-2.3 16.0,-1.9 16.5,-1.6 17.0,-2.3 17.5,-2.0 18.0,-1.8 18.5,-1.7 19.0,-1.8 19.5,-2.0 20.0,-1.6 20.5,-1.4 21.0,-1.9 21.5,-1.6 22.1,-1.5 22.6,-1.7 23.1,-2.2 23.6,-2.4 24.1,-1.4 24.6,-2.3 25.1,-1.7 25.6,-2.4 26.1,-2.4 26.6,-1.7 27.1,-2.1 27.6,-2.1 28.1,-1.7 28.6,-2.5 29.1,-2.2 29.6,-2.5 30.1,-1.6 30.6,-1.7 31.1,-2.5 31.6,-1.7 32.1,-1.8 32.6,-1.7 33.1,-2.4 33.6,-1.7 34.1,-1.5 34.6,-1.5 35.1,-2.5 35.6,-1.5 36.1,-1.6 36.6,-1.8 37.1,-2.0 37.6,-2.4 38.1,-2.5 38.6,-1.9 39.1,-2.2 39.6,-1.8 40.1,-2.0 40.6,-1.4 41.1,-2.3 41.6,-2.1 42.1,-2.3 42.6,-2.6 43.1,-2.7 43.7,-3.0 44.2,-2.8 44.7,-1.9 45.2,-2.3 45.7,-2.9 46.2,-2.2 46.7,-2.7 47.2,-2.7 47.7,-2.4 48.2,-3.0 48.7,-3.6 49.2,-4.3 49.7,-3.9 50.2,-4.0 50.7,-3.2 51.2,-5.2 51.7,-4.9 52.2,-4.9 52.7,-4.5 53.2,-4.9 53.7,-3.7 54.2,-4.4 54.7,-3.8 55.2,-6.9 55.7,-5.1 56.2,-6.4 56.7,-7.1 57.2,-6.4 57.7,-8.7 58.2,-9.1 58.7,-7.3 59.2,-5.6 59.7,-9.3 60.2,-8.4 60.7,-6.2 61.2,-10.1 61.7,-9.9 62.2,-13.3 62.7,-12.0 63.2,-11.7 63.7,-10.4 64.2,-11.5 64.7,-17.8 65.2,-21.1 65.8,-17.9 66.3,-22.5 66.8,-19.6 67.3,-17.9 67.8,-22.3 68.3,-22.2 68.8,-34.8 69.3,-42.2 69.8,-42.2 70.3,-42.2 70.8,-42.2 71.3,-42.2 71.8,-42.2 72.3,-42.2 72.8,-42.2 73.3,-42.2 73.8,-42.2 74.3,-42.2 74.8,-42.2 75.3,-42.2 75.8,-42.2 76.3,-42.2 76.8,-42.2 77.3,-42.2 77.8,-42.2 78.3,-42.2 78.3,0"/>
<path class="ex" d="M17.6 0v-19.0"/>
<path d="M0 0m34.0 .0v-42.2m7.0 42.2v-42.2m5.3 42.2v-42.2m3.5 42.2v-27.4m2.8 27.4v-41.1m3.3 41.1v-42.2m1.3 42.2v-42.2m1.0 42.2v-11.5m2.8 11.5v-42.2m2.0 42.2v-38.2m1.0 38.2v-36.4m1.0 36.4v-42.2m1.3 42.2v-29.6m1.0 29.6v-42.2m1.0 42.2v-42.2m1.0 42.2v-42.2"/>
<path d="M0 0m34.3 .0v-15.6m7.5 15.6v-42.2m4.8 42.2v-42.2m3.8 42.2v-42.2m4.5 42.2v-42.2m1.3 42.2v-42.2m1.3 42.2v-42.2m1.5 42.2v-42.2m2.3 42.2v-18.6m2.0 18.6v-42.2m1.0 42.2v-30.3m1.0 30.3v-42.2m1.3 42.2v-42.2m1.0 42.2v-42.2m1.0 42.2v-42.2"/>
<path d="M0 0m39.5 .0v-42.2m2.8 42.2v-42.2m4.5 42.2v-42.2m3.8 42.2v-42.2m4.8 42.2v-42.2m1.0 42.2v-42.2m1.3 42.2v-42.2m2.3 42.2v-42.2m1.5 42.2v-42.2m2.0 42.2v-42.2m1.0 42.2v-42.2m1.0 42.2v-42.2m1.3 42.2v-33.5m1.0 33.5v-40.0m1.0 40.0v-42.2"/>
<path d="M0 0m39.8 .0v-42.2m4.0 42.2v-39.3m3.8 39.3v-42.2m4.3 42.2v-42.2m3.8 42.2v-20.8m1.3 20.8v-42.2m1.0 42.2v-42.2m2.8 42.2v-20.5m1.5 20.5v-21.7m1.5 21.7v-42.2m1.0 42.2v-42.2m1.0 42.2v-42.2m1.3 42.2v-34.5m1.0 34.5v-40.5m1.0 40.5v-42.2"/>
</g>
<rect x="444.60" y="488.40" width="82.00" height="42.20" fill="none" stroke="#555" stroke-width="0.7"/>
<text x="443.4" y="490.1" class="lt">1.00</text>
<text x="443.4" y="500.6" class="lt">0.75</text>
<text x="443.4" y="511.2" class="lt">0.50</text>
<text x="443.4" y="521.8" class="lt">0.25</text>
<text x="443.4" y="532.3" class="lt">0.00</text>
<text x="527.5" y="490.1" class="rt">20</text>
<text x="527.5" y="500.6" class="rt">15</text>
<text x="527.5" y="511.2" class="rt">10</text>
<text x="527.5" y="521.8" class="rt">5</text>
<text x="527.5" y="532.3" class="rt">0</text>
<text transform="translate(432.6,509.5) rotate(-90)" class="yl"><tspan class="it">β</tspan>: Average thermal value</text>
<text transform="translate(538.1,509.5) rotate(-90)" class="yl"><tspan class="it">T</tspan>: Unique threshold</text>
<text transform="translate(447.5,535.0) rotate(-45)" class="xt">0</text>
<text transform="translate(456.0,535.0) rotate(-45)" class="xt">400</text>
<text transform="translate(464.5,535.0) rotate(-45)" class="xt">800</text>
<text transform="translate(473.1,535.0) rotate(-45)" class="xt">1200</text>
<text transform="translate(481.6,535.0) rotate(-45)" class="xt">1600</text>
<text transform="translate(490.1,535.0) rotate(-45)" class="xt">2000</text>
<text transform="translate(498.7,535.0) rotate(-45)" class="xt">2400</text>
<text transform="translate(507.2,535.0) rotate(-45)" class="xt">2800</text>
<text transform="translate(515.7,535.0) rotate(-45)" class="xt">3200</text>
<text x="485.6" y="546.6" class="xl">Street number</text>
<linearGradient id="w70"><stop offset="0.000" stop-color="#00f" stop-opacity="0.00"/><stop offset="0.100" stop-color="#00f" stop-opacity="0.00"/><stop offset="0.110" stop-color="#00f" stop-opacity="0.06"/><stop offset="0.180" stop-color="#00f" stop-opacity="0.10"/><stop offset="0.450" stop-color="#00f" stop-opacity="0.14"/><stop offset="0.730" stop-color="#00f" stop-opacity="0.17"/><stop offset="0.900" stop-color="#00f" stop-opacity="0.20"/></linearGradient>
<polyline points="104.0,577.4 104.7,577.4 104.7,577.4 104.7,577.4 104.8,577.4 104.8,577.4 104.9,577.4 104.9,577.4 105.0,577.4 105.0,577.4 105.1,577.4 105.2,577.6 105.2,578.0 105.3,578.4 105.4,578.9 105.5,579.3 105.6,579.8 105.7,580.2 105.8,580.6 105.9,581.1 106.0,581.5 106.1,582.0 106.2,582.4 106.4,582.8 106.5,583.3 106.7,583.7 106.8,584.1 107.0,584.6 107.2,585.0 107.4,585.5 107.6,585.9 107.8,586.3 108.1,586.8 108.3,587.2 108.6,587.7 108.9,588.1 109.2,588.5 109.5,589.0 109.8,589.4 110.2,589.8 110.6,590.3 111.0,590.7 111.4,591.2 111.9,591.6 112.4,592.0 112.9,592.5 113.5,592.9 114.1,593.4 114.7,593.8 115.4,594.2 116.1,594.7 116.9,595.1 117.7,595.5 118.5,596.0 119.5,596.4 120.4,596.9 121.5,597.3 122.6,597.7 123.7,598.2 125.0,598.6 126.3,599.1 127.7,599.5 129.2,599.9 130.8,600.4 132.4,600.8 134.2,601.2 136.1,601.7 138.1,602.1 140.3,602.6 142.6,603.0 145.0,603.4 147.6,603.6 150.3,603.6 153.3,603.6 156.4,603.6 159.7,603.6 163.2,603.6 166.9,603.6 170.8,603.6 175.1,603.6 179.5,603.6" class="gc"/>
<g transform="translate(101.60,603.60)" class="d">
<rect x="2.4" y="-42.2" width="75.5" height="42.2" fill="url(#w70)"/>
<polygon fill-opacity="0.8" points="2.4,0 2.4,-1.8 3.0,-2.1 3.5,-1.4 4.0,-2.5 4.5,-2.3 5.0,-2.6 5.5,-1.7 6.0,-1.6 6.5,-1.5 7.0,-1.6 7.5,-1.4 8.0,-2.2 8.5,-1.8 9.0,-2.3 9.5,-2.3 10.0,-1.8 10.5,-1.6 11.0,-1.8 11.5,-1.4 12.0,-2.1 12.5,-1.6 13.0,-1.6 13.5,-2.4 14.0,-1.9 14.5,-2.5 15.0,-2.5 15.5,-2.2 16.0,-1.7 16.5,-1.6 17.0,-1.7 17.5,-2.2 18.0,-2.0 18.6,-1.7 19.1,-1.4 19.6,-1.8 20.1,-1.8 20.6,-1.5 21.1,-1.7 21.6,-1.7 22.1,-1.9 22.6,-2.0 23.1,-2.0 23.6,-2.4 24.1,-1.7 24.6,-1.5 25.1,-1.7 25.6,-1.6 26.1,-2.1 26.6,-1.9 27.1,-1.8 27.6,-1.5 28.1,-2.3 28.6,-2.1 29.1,-2.1 29.6,-2.3 30.1,-2.5 30.6,-1.5 31.1,-1.7 31.6,-2.1 32.1,-2.4 32.6,-2.1 33.1,-2.2 33.6,-1.9 34.1,-1.9 34.7,-2.7 35.2,-2.9 35.7,-2.3 36.2,-2.2 36.7,-1.8 37.2,-2.5 37.7,-1.9 38.2,-2.5 38.7,-2.1 39.2,-2.4 39.7,-2.9 40.2,-2.2 40.7,-2.5 41.2,-2.2 41.7,-2.5 42.2,-3.1 42.7,-2.5 43.2,-3.3 43.7,-2.4 44.2,-2.5 44.7,-2.8 45.2,-2.6 45.7,-2.9 46.2,-2.4 46.7,-1.9 47.2,-2.6 47.7,-2.0 48.2,-2.4 48.7,-2.9 49.2,-3.1 49.7,-3.5 50.3,-3.1 50.8,-3.0 51.3,-2.6 51.8,-2.9 52.3,-2.6 52.8,-2.3 53.3,-3.0 53.8,-3.2 54.3,-2.7 54.8,-3.5 55.3,-3.1 55.8,-2.8 56.3,-3.8 56.8,-2.3 57.3,-2.9 57.8,-3.0 58.3,-3.8 58.8,-3.0 59.3,-4.6 59.8,-2.8 60.3,-3.6 60.8,-3.7 61.3,-4.4 61.8,-3.4 62.3,-3.2 62.8,-4.6 63.3,-4.8 63.8,-4.4 64.3,-5.3 64.8,-4.1 65.3,-4.3 65.9,-4.5 66.4,-3.5 66.9,-5.5 67.4,-3.5 67.9,-3.6 68.4,-6.1 68.9,-4.9 69.4,-4.1 69.9,-6.4 70.4,-4.4 70.9,-5.3 71.4,-4.0 71.9,-4.5 72.4,-5.7 72.9,-6.5 73.4,-4.6 73.9,-7.0 74.4,-6.6 74.9,-6.7 75.4,-7.8 75.9,-6.0 76.4,-4.3 76.9,-4.5 77.4,-7.4 77.9,-4.7 77.9,0"/>
<path d="M0 0m14.0 .0v-42.2m9.1 42.2v-42.2m9.6 42.2v-42.2m3.5 42.2v-42.2m3.0 42.2v-42.2m5.5 42.2v-42.2m4.0 42.2v-42.2m3.0 42.2v-42.2m5.0 42.2v-42.2m2.0 42.2v-42.2m2.5 42.2v-42.2m5.5 42.2v-42.2m2.0 42.2v-42.2m3.0 42.2v-42.2m2.5 42.2v-42.2m2.5 42.2v-42.2"/>
<path d="M0 0m15.0 .0v-26.2m9.1 26.2v-23.3m9.6 23.3v-24.1m3.0 24.1v-42.2m3.0 42.2v-21.1m6.0 21.1v-42.2m4.0 42.2v-39.0m2.5 39.0v-42.2m5.0 42.2v-42.2m2.0 42.2v-42.2m4.0 42.2v-42.2m4.0 42.2v-42.2m2.0 42.2v-42.2m3.0 42.2v-42.2m3.0 42.2v-42.2m2.0 42.2v-26.1"/>
<path d="M0 0m17.5 .0v-42.2m12.1 42.2v-42.2m4.5 42.2v-42.2m3.5 42.2v-22.1m3.5 22.1v-42.2m6.0 42.2v-42.2m3.0 42.2v-42.2m5.0 42.2v-42.2m2.5 42.2v-32.5m2.0 32.5v-42.2m4.0 42.2v-42.2m4.0 42.2v-42.2m3.0 42.2v-42.2m2.0 42.2v-42.2m3.0 42.2v-32.9m2.0 32.9v-42.2"/>
<path d="M0 0m22.1 .0v-42.2m10.1 42.2v-42.2m3.0 42.2v-28.8m3.5 28.8v-33.6m4.0 33.6v-42.2m5.0 42.2v-36.9m3.0 36.9v-38.7m5.5 38.7v-42.2m2.0 42.2v-42.2m2.5 42.2v-42.2m5.5 42.2v-13.7m2.0 13.7v-42.2m3.0 42.2v-36.0m2.5 36.0v-42.2m2.5 42.2v-21.2"/>
<polygon class="fl" fill-opacity="0.5" points="2.4,0 2.4,0.0 3.0,-0.0 3.5,-0.0 4.0,-0.0 4.5,-0.0 5.0,-0.0 5.5,-0.0 6.0,-0.0 6.5,-0.0 7.0,-0.0 7.5,-0.0 8.0,-0.0 8.5,-0.0 9.0,-0.0 9.5,-0.0 10.0,-0.0 10.5,-0.0 11.0,-0.0 11.5,-0.0 12.0,-0.0 12.5,-0.0 13.0,-0.0 13.5,-0.0 14.0,-0.0 14.5,-0.0 15.0,-0.0 15.5,-0.0 16.0,-0.0 16.5,-0.0 17.0,-0.0 17.5,-0.0 18.0,-0.0 18.6,-0.0 19.1,-0.0 19.6,-0.0 20.1,-0.0 20.6,-0.0 21.1,-0.0 21.6,-0.0 22.1,-0.0 22.6,-0.0 23.1,-0.0 23.6,-0.0 24.1,-0.0 24.6,-0.0 25.1,-0.0 25.6,-0.0 26.1,-0.0 26.6,-0.0 27.1,-0.0 27.6,-0.0 28.1,-0.0 28.6,-0.0 29.1,-0.0 29.6,-0.0 30.1,-0.0 30.6,-0.0 31.1,-0.0 31.6,-0.0 32.1,-0.0 32.6,-0.0 33.1,-0.3 33.6,-0.5 34.1,-0.7 34.7,-1.3 35.2,-1.3 35.7,-1.4 36.2,-2.0 36.7,-1.5 37.2,-1.4 37.7,-1.8 38.2,-2.0 38.7,-2.1 39.2,-1.5 39.7,-2.2 40.2,-2.6 40.7,-1.7 41.2,-1.9 41.7,-2.1 42.2,-2.5 42.7,-2.6 43.2,-2.4 43.7,-2.3 44.2,-1.7 44.7,-2.2 45.2,-1.6 45.7,-1.6 46.2,-1.7 46.7,-2.8 47.2,-1.9 47.7,-1.8 48.2,-2.8 48.7,-2.3 49.2,-1.8 49.7,-2.6 50.3,-3.2 50.8,-1.7 51.3,-3.2 51.8,-2.6 52.3,-2.9 52.8,-2.7 53.3,-2.4 53.8,-2.3 54.3,-3.0 54.8,-2.5 55.3,-3.0 55.8,-2.8 56.3,-3.2 56.8,-2.5 57.3,-2.4 57.8,-2.5 58.3,-2.8 58.8,-3.1 59.3,-2.9 59.8,-1.9 60.3,-3.7 60.8,-2.7 61.3,-2.1 61.8,-3.4 62.3,-2.2 62.8,-1.9 63.3,-3.7 63.8,-3.0 64.3,-3.2 64.8,-2.8 65.3,-2.2 65.9,-3.8 66.4,-2.1 66.9,-2.9 67.4,-4.1 67.9,-4.3 68.4,-3.1 68.9,-4.1 69.4,-3.9 69.9,-4.4 70.4,-4.3 70.9,-4.1 71.4,-7.3 71.9,-7.7 72.4,-6.1 72.9,-5.6 73.4,-8.4 73.9,-7.7 74.4,-9.6 74.9,-8.1 75.4,-7.9 75.9,-9.3 76.4,-10.3 76.9,-11.8 77.4,-10.1 77.9,-9.6 78.5,0"/>
</g>
<rect x="101.60" y="561.40" width="81.60" height="42.20" fill="none" stroke="#555" stroke-width="0.7"/>
<text x="100.4" y="563.1" class="lt">1.00</text>
<text x="100.4" y="573.7" class="lt">0.75</text>
<text x="100.4" y="584.2" class="lt">0.50</text>
<text x="100.4" y="594.8" class="lt">0.25</text>
<text x="100.4" y="605.3" class="lt">0.00</text>
<text x="184.1" y="563.1" class="rt">20</text>
<text x="184.1" y="573.7" class="rt">15</text>
<text x="184.1" y="584.2" class="rt">10</text>
<text x="184.1" y="594.8" class="rt">5</text>
<text x="184.1" y="605.3" class="rt">0</text>
<text transform="translate(89.6,582.5) rotate(-90)" class="yl"><tspan class="it">β</tspan>: Average thermal value</text>
<text transform="translate(194.7,582.5) rotate(-90)" class="yl"><tspan class="it">T</tspan>: Unique threshold</text>
<text transform="translate(104.4,608.0) rotate(-45)" class="xt">0</text>
<text transform="translate(120.7,608.0) rotate(-45)" class="xt">300</text>
<text transform="translate(136.9,608.0) rotate(-45)" class="xt">600</text>
<text transform="translate(153.1,608.0) rotate(-45)" class="xt">900</text>
<text transform="translate(169.4,608.0) rotate(-45)" class="xt">1200</text>
<text x="142.4" y="619.6" class="xl">Street number</text>
<linearGradient id="w71"><stop offset="0.000" stop-color="#00f" stop-opacity="0.00"/><stop offset="0.500" stop-color="#00f" stop-opacity="0.00"/><stop offset="0.510" stop-color="#00f" stop-opacity="0.08"/><stop offset="0.600" stop-color="#00f" stop-opacity="0.15"/><stop offset="0.730" stop-color="#00f" stop-opacity="0.22"/><stop offset="0.850" stop-color="#00f" stop-opacity="0.26"/><stop offset="0.950" stop-color="#00f" stop-opacity="0.27"/></linearGradient>
<polyline points="218.7,573.6 219.3,573.6 219.4,573.6 219.4,573.7 219.5,574.0 219.5,574.4 219.6,574.8 219.6,575.1 219.7,575.5 219.7,575.9 219.8,576.2 219.9,576.6 219.9,576.9 220.0,577.3 220.1,577.7 220.2,578.0 220.3,578.4 220.3,578.7 220.4,579.1 220.6,579.5 220.7,579.8 220.8,580.2 220.9,580.5 221.1,580.9 221.2,581.3 221.4,581.6 221.5,582.0 221.7,582.4 221.9,582.7 222.1,583.1 222.3,583.4 222.5,583.8 222.8,584.2 223.0,584.5 223.3,584.9 223.6,585.2 223.9,585.6 224.2,586.0 224.5,586.3 224.9,586.7 225.3,587.0 225.7,587.4 226.1,587.8 226.6,588.1 227.1,588.5 227.6,588.9 228.2,589.2 228.8,589.6 229.4,589.9 230.1,590.3 230.8,590.7 231.6,591.0 232.4,591.4 233.2,591.7 234.1,592.1 235.1,592.5 236.1,592.8 237.2,593.2 238.4,593.5 239.6,593.9 240.9,594.3 242.3,594.6 243.8,595.0 245.4,595.4 247.1,595.7 248.9,596.1 250.8,596.4 252.8,596.8 255.0,597.2 257.2,597.5 259.7,597.9 262.2,598.2 265.0,598.6 267.9,599.0 271.0,599.3 274.3,599.7 277.8,600.0 281.5,600.4 285.5,600.8 289.7,601.1 294.1,601.5" class="gc"/>
<g transform="translate(216.30,603.60)" class="d">
<rect x="2.4" y="-42.2" width="75.4" height="42.2" fill="url(#w71)"/>
<polygon fill-opacity="1" points="2.4,0 2.4,-1.5 2.9,-2.1 3.5,-2.5 4.0,-1.8 4.5,-2.0 5.0,-1.8 5.5,-2.3 6.0,-2.2 6.5,-2.1 7.0,-2.5 7.5,-2.2 8.0,-1.8 8.5,-1.8 9.0,-2.1 9.5,-2.2 10.0,-1.7 10.5,-2.3 11.0,-1.9 11.5,-2.3 12.0,-1.5 12.5,-1.8 13.0,-1.4 13.5,-1.9 14.0,-1.7 14.5,-1.8 15.0,-1.6 15.5,-2.4 16.0,-2.1 16.5,-1.8 17.0,-2.0 17.5,-1.6 18.0,-2.5 18.5,-2.4 19.0,-2.1 19.5,-1.6 20.0,-2.5 20.5,-1.6 21.0,-1.5 21.5,-1.9 22.0,-1.8 22.5,-2.4 23.1,-1.6 23.6,-1.5 24.1,-1.9 24.6,-1.4 25.1,-2.2 25.6,-2.0 26.1,-2.4 26.6,-2.5 27.1,-1.7 27.6,-2.3 28.1,-2.0 28.6,-2.5 29.1,-1.5 29.6,-1.9 30.1,-2.5 30.6,-1.5 31.1,-1.7 31.6,-1.8 32.1,-1.8 32.6,-2.5 33.1,-1.6 33.6,-2.3 34.1,-1.7 34.6,-2.4 35.1,-1.6 35.6,-1.5 36.1,-2.5 36.6,-1.4 37.1,-2.1 37.6,-1.6 38.1,-2.1 38.6,-1.8 39.1,-2.1 39.6,-2.2 40.1,-2.3 40.6,-1.5 41.1,-2.4 41.6,-1.7 42.1,-2.1 42.7,-2.3 43.2,-2.3 43.7,-2.0 44.2,-2.0 44.7,-1.6 45.2,-2.5 45.7,-2.2 46.2,-2.5 46.7,-2.9 47.2,-2.6 47.7,-2.2 48.2,-2.5 48.7,-2.1 49.2,-2.3 49.7,-3.3 50.2,-3.1 50.7,-2.4 51.2,-3.0 51.7,-2.9 52.2,-3.8 52.7,-3.9 53.2,-3.1 53.7,-2.6 54.2,-2.9 54.7,-3.9 55.2,-3.5 55.7,-2.8 56.2,-4.6 56.7,-4.4 57.2,-3.8 57.7,-3.1 58.2,-4.0 58.7,-4.8 59.2,-3.5 59.7,-3.8 60.2,-3.7 60.7,-3.8 61.2,-5.9 61.7,-6.4 62.3,-6.4 62.8,-5.4 63.3,-5.8 63.8,-4.6 64.3,-7.9 64.8,-7.0 65.3,-5.8 65.8,-5.7 66.3,-6.5 66.8,-7.4 67.3,-9.5 67.8,-6.8 68.3,-11.4 68.8,-8.8 69.3,-8.7 69.8,-12.4 70.3,-9.7 70.8,-16.4 71.3,-14.8 71.8,-15.8 72.3,-14.9 72.8,-18.5 73.3,-18.9 73.8,-16.7 74.3,-13.3 74.8,-19.1 75.3,-23.2 75.8,-15.5 76.3,-20.4 76.8,-14.1 77.3,-21.8 77.8,-18.7 77.8,0"/>
<path class="ex" d="M17.5 0v-42.2M33.4 0v-42.2"/>
<path d="M0 0m42.0 .0v-19.3m5.8 19.3v-16.3m5.3 16.3v-42.2m3.8 42.2v-42.2m1.5 42.2v-42.2m1.8 42.2v-38.4m1.5 38.4v-42.2m1.0 42.2v-42.2m1.0 42.2v-12.1m1.3 12.1v-42.2m1.3 42.2v-42.2m1.0 42.2v-14.6m1.3 14.6v-42.2m1.0 42.2v-19.2m1.0 19.2v-42.2m1.0 42.2v-37.7m1.0 37.7v-42.2m1.0 42.2v-25.8m1.0 25.8v-30.9m1.0 30.9v-42.2m1.0 42.2v-42.2m1.0 42.2v-42.2"/>
<path d="M0 0m42.3 .0v-42.2m6.0 42.2v-42.2m5.3 42.2v-23.2m3.8 23.2v-42.2m1.3 42.2v-8.9m1.8 8.9v-42.2m1.5 42.2v-42.2m1.0 42.2v-42.2m1.3 42.2v-42.2m1.3 42.2v-42.2m1.0 42.2v-42.2m1.3 42.2v-42.2m1.0 42.2v-15.1m1.0 15.1v-42.2m1.0 42.2v-42.2m1.0 42.2v-38.9m1.0 38.9v-42.2m1.0 42.2v-31.5m1.0 31.5v-24.1m1.0 24.1v-42.2m1.0 42.2v-42.2m1.0 42.2v-42.2"/>
<path d="M0 0m42.8 .0v-42.2m8.5 42.2v-42.2m3.5 42.2v-10.7m3.0 10.7v-37.9m1.0 37.9v-42.2m2.3 42.2v-35.8m1.0 35.8v-42.2m1.0 42.2v-42.2m1.3 42.2v-35.0m1.3 35.0v-18.9m1.0 18.9v-42.2m1.3 42.2v-42.2m1.0 42.2v-42.2m1.0 42.2v-37.6m1.0 37.6v-42.2m1.0 42.2v-32.4m1.0 32.4v-42.2m1.0 42.2v-42.2m1.0 42.2v-29.5m1.0 29.5v-42.2m1.0 42.2v-42.2m1.0 42.2v-42.2"/>
<path d="M0 0m45.5 .0v-42.2m7.0 42.2v-42.2m3.8 42.2v-31.6m1.8 31.6v-42.2m1.5 42.2v-42.2m1.8 42.2v-42.2m1.0 42.2v-42.2m1.0 42.2v-42.2m1.3 42.2v-42.2m1.3 42.2v-42.2m1.0 42.2v-40.3m1.3 40.3v-28.9m1.0 28.9v-34.0m1.0 34.0v-33.1m1.0 33.1v-42.2m1.0 42.2v-28.4m1.0 28.4v-42.2m1.0 42.2v-42.2m1.0 42.2v-42.2m1.0 42.2v-42.2m1.0 42.2v-42.2"/>
</g>
<rect x="216.30" y="561.40" width="81.50" height="42.20" fill="none" stroke="#555" stroke-width="0.7"/>
<text x="215.1" y="563.1" class="lt">1.00</text>
<text x="215.1" y="573.7" class="lt">0.75</text>
<text x="215.1" y="584.2" class="lt">0.50</text>
<text x="215.1" y="594.8" class="lt">0.25</text>
<text x="215.1" y="605.3" class="lt">0.00</text>
<text x="298.7" y="563.1" class="rt">20</text>
<text x="298.7" y="573.7" class="rt">15</text>
<text x="298.7" y="584.2" class="rt">10</text>
<text x="298.7" y="594.8" class="rt">5</text>
<text x="298.7" y="605.3" class="rt">0</text>
<text transform="translate(204.3,582.5) rotate(-90)" class="yl"><tspan class="it">β</tspan>: Average thermal value</text>
<text transform="translate(309.3,582.5) rotate(-90)" class="yl"><tspan class="it">T</tspan>: Unique threshold</text>
<text transform="translate(219.1,608.0) rotate(-45)" class="xt">0</text>
<text transform="translate(229.6,608.0) rotate(-45)" class="xt">400</text>
<text transform="translate(240.1,608.0) rotate(-45)" class="xt">800</text>
<text transform="translate(250.6,608.0) rotate(-45)" class="xt">1200</text>
<text transform="translate(261.1,608.0) rotate(-45)" class="xt">1600</text>
<text transform="translate(271.6,608.0) rotate(-45)" class="xt">2000</text>
<text transform="translate(282.1,608.0) rotate(-45)" class="xt">2400</text>
<text x="257.1" y="619.6" class="xl">Street number</text>
<linearGradient id="w72"><stop offset="0.000" stop-color="#00f" stop-opacity="0.00"/><stop offset="0.500" stop-color="#00f" stop-opacity="0.00"/><stop offset="0.510" stop-color="#00f" stop-opacity="0.08"/><stop offset="0.600" stop-color="#00f" stop-opacity="0.14"/><stop offset="0.780" stop-color="#00f" stop-opacity="0.21"/><stop offset="0.910" stop-color="#00f" stop-opacity="0.27"/></linearGradient>
<polyline points="334.6,572.8 335.2,572.8 335.2,572.9 335.2,573.3 335.3,573.7 335.3,574.0 335.4,574.4 335.4,574.8 335.5,575.1 335.5,575.5 335.6,575.9 335.7,576.3 335.7,576.6 335.8,577.0 335.9,577.4 336.0,577.7 336.1,578.1 336.2,578.5 336.3,578.8 336.4,579.2 336.5,579.6 336.6,579.9 336.7,580.3 336.9,580.7 337.0,581.0 337.2,581.4 337.4,581.8 337.5,582.2 337.7,582.5 337.9,582.9 338.1,583.3 338.3,583.6 338.6,584.0 338.8,584.4 339.1,584.7 339.4,585.1 339.7,585.5 340.0,585.8 340.4,586.2 340.7,586.6 341.1,586.9 341.5,587.3 342.0,587.7 342.5,588.1 342.9,588.4 343.5,588.8 344.0,589.2 344.6,589.5 345.3,589.9 345.9,590.3 346.7,590.6 347.4,591.0 348.2,591.4 349.1,591.7 350.0,592.1 351.0,592.5 352.0,592.8 353.1,593.2 354.3,593.6 355.5,594.0 356.9,594.3 358.3,594.7 359.8,595.1 361.4,595.4 363.0,595.8 364.8,596.2 366.8,596.5 368.8,596.9 370.9,597.3 373.2,597.6 375.7,598.0 378.3,598.4 381.0,598.8 383.9,599.1 387.1,599.5 390.4,599.9 393.9,600.2 397.6,600.6 401.6,601.0 405.8,601.3 410.3,601.7" class="gc"/>
<g transform="translate(332.10,603.60)" class="d">
<rect x="2.5" y="-42.2" width="75.8" height="42.2" fill="url(#w72)"/>
<polygon fill-opacity="1" points="2.5,0 2.5,-1.7 3.0,-2.0 3.5,-2.0 4.0,-1.9 4.5,-2.1 5.0,-2.0 5.5,-2.0 6.0,-1.6 6.5,-1.5 7.0,-1.7 7.5,-2.3 8.0,-1.4 8.5,-1.8 9.0,-1.9 9.5,-2.0 10.0,-1.9 10.5,-2.4 11.0,-2.5 11.5,-2.1 12.0,-1.6 12.5,-2.4 13.0,-2.4 13.5,-1.9 14.0,-2.3 14.5,-2.4 15.0,-2.5 15.5,-1.7 16.0,-1.6 16.5,-2.3 17.0,-1.7 17.5,-1.7 18.0,-1.4 18.5,-2.3 19.0,-1.7 19.5,-1.6 20.0,-2.1 20.5,-1.5 21.0,-2.3 21.5,-1.5 22.0,-2.5 22.5,-1.5 23.0,-1.6 23.5,-1.9 24.0,-2.3 24.5,-2.0 25.0,-2.2 25.5,-1.7 26.0,-2.4 26.5,-1.6 27.0,-1.9 27.5,-2.3 28.0,-1.8 28.5,-1.5 29.0,-2.2 29.5,-1.5 30.1,-1.9 30.6,-1.8 31.1,-2.0 31.6,-1.6 32.1,-2.5 32.6,-2.3 33.1,-2.0 33.6,-1.7 34.1,-1.8 34.6,-1.7 35.1,-1.9 35.6,-2.0 36.1,-2.3 36.6,-1.5 37.1,-2.5 37.6,-2.4 38.1,-2.0 38.6,-2.0 39.1,-1.5 39.6,-1.6 40.1,-1.4 40.6,-1.5 41.1,-2.2 41.6,-1.6 42.1,-2.2 42.6,-2.3 43.1,-1.9 43.6,-2.2 44.1,-2.1 44.6,-2.1 45.1,-2.1 45.6,-2.2 46.1,-1.7 46.6,-2.9 47.1,-1.9 47.6,-1.9 48.1,-2.1 48.6,-3.0 49.1,-3.4 49.6,-3.5 50.1,-2.2 50.6,-2.7 51.1,-3.4 51.6,-2.3 52.1,-3.0 52.6,-3.4 53.1,-2.9 53.6,-3.0 54.1,-3.5 54.6,-2.9 55.1,-4.6 55.6,-3.8 56.1,-3.2 56.6,-4.0 57.1,-3.8 57.6,-4.6 58.1,-3.2 58.6,-4.1 59.1,-3.4 59.7,-5.0 60.2,-4.9 60.7,-6.0 61.2,-5.7 61.7,-5.6 62.2,-6.2 62.7,-5.3 63.2,-6.2 63.7,-5.9 64.2,-6.4 64.7,-6.4 65.2,-4.9 65.7,-5.9 66.2,-7.7 66.7,-5.9 67.2,-7.4 67.7,-10.2 68.2,-9.1 68.7,-11.4 69.2,-9.4 69.7,-7.8 70.2,-11.3 70.7,-14.1 71.2,-12.9 71.7,-12.6 72.2,-17.5 72.7,-14.0 73.2,-19.9 73.7,-18.8 74.2,-14.1 74.7,-19.5 75.2,-20.4 75.7,-20.5 76.2,-22.0 76.7,-18.6 77.2,-22.7 77.7,-21.0 78.2,-23.1 78.2,0"/>
<path class="ex" d="M22.2 0v-42.2M25.9 0v-42.2"/>
<path d="M0 0m41.5 .0v-42.2m5.3 42.2v-42.2m3.0 42.2v-14.8m2.5 14.8v-25.9m2.0 25.9v-42.2m3.8 42.2v-42.2m2.3 42.2v-42.2m2.3 42.2v-8.8m1.0 8.8v-39.2m1.3 39.2v-42.2m1.8 42.2v-42.2m1.5 42.2v-42.2m1.0 42.2v-42.2m1.0 42.2v-42.2m1.0 42.2v-42.2m1.0 42.2v-42.2m1.0 42.2v-42.2m1.0 42.2v-42.2m1.0 42.2v-37.4m1.0 37.4v-42.2m1.0 42.2v-42.2m1.0 42.2v-42.2"/>
<path d="M0 0m43.2 .0v-42.2m3.8 42.2v-12.7m3.0 12.7v-42.2m2.5 42.2v-42.2m3.5 42.2v-42.2m2.5 42.2v-42.2m2.0 42.2v-42.2m2.3 42.2v-42.2m1.0 42.2v-28.7m1.5 28.7v-42.2m1.5 42.2v-42.2m1.5 42.2v-42.2m1.0 42.2v-42.2m1.0 42.2v-42.2m1.0 42.2v-42.2m1.0 42.2v-42.2m1.0 42.2v-42.2m1.0 42.2v-28.9m1.0 28.9v-32.2m1.0 32.2v-42.2m1.0 42.2v-42.2m1.0 42.2v-42.2"/>
<path d="M0 0m44.5 .0v-42.2m2.8 42.2v-42.2m3.8 42.2v-42.2m1.8 42.2v-42.2m4.0 42.2v-42.2m2.0 42.2v-24.4m2.8 24.4v-35.4m1.5 35.4v-12.7m1.0 12.7v-42.2m1.5 42.2v-42.2m2.0 42.2v-14.0m1.0 14.0v-42.2m1.0 42.2v-34.2m1.0 34.2v-42.2m1.0 42.2v-42.2m1.0 42.2v-42.2m1.0 42.2v-42.2m1.0 42.2v-42.2m1.0 42.2v-42.2m1.0 42.2v-42.2m1.0 42.2v-42.2"/>
<path d="M0 0m45.7 .0v-42.2m2.0 42.2v-23.0m4.3 23.0v-42.2m2.0 42.2v-42.2m3.3 42.2v-42.2m2.0 42.2v-28.0m3.0 28.0v-42.2m1.0 42.2v-21.4m1.0 21.4v-38.5m2.0 38.5v-25.0m1.5 25.0v-42.2m1.0 42.2v-42.2m1.0 42.2v-42.2m1.0 42.2v-42.2m1.0 42.2v-42.2m1.0 42.2v-31.6m1.0 31.6v-42.2m1.0 42.2v-42.2m1.0 42.2v-41.6m1.0 41.6v-42.2m1.0 42.2v-42.2"/>
</g>
<rect x="332.10" y="561.40" width="81.90" height="42.20" fill="none" stroke="#555" stroke-width="0.7"/>
<text x="330.9" y="563.1" class="lt">1.00</text>
<text x="330.9" y="573.7" class="lt">0.75</text>
<text x="330.9" y="584.2" class="lt">0.50</text>
<text x="330.9" y="594.8" class="lt">0.25</text>
<text x="330.9" y="605.3" class="lt">0.00</text>
<text x="414.9" y="563.1" class="rt">20</text>
<text x="414.9" y="573.7" class="rt">15</text>
<text x="414.9" y="584.2" class="rt">10</text>
<text x="414.9" y="594.8" class="rt">5</text>
<text x="414.9" y="605.3" class="rt">0</text>
<text transform="translate(320.1,582.5) rotate(-90)" class="yl"><tspan class="it">β</tspan>: Average thermal value</text>
<text transform="translate(425.5,582.5) rotate(-90)" class="yl"><tspan class="it">T</tspan>: Unique threshold</text>
<text transform="translate(335.0,608.0) rotate(-45)" class="xt">0</text>
<text transform="translate(344.7,608.0) rotate(-45)" class="xt">400</text>
<text transform="translate(354.4,608.0) rotate(-45)" class="xt">800</text>
<text transform="translate(364.2,608.0) rotate(-45)" class="xt">1200</text>
<text transform="translate(373.9,608.0) rotate(-45)" class="xt">1600</text>
<text transform="translate(383.7,608.0) rotate(-45)" class="xt">2000</text>
<text transform="translate(393.4,608.0) rotate(-45)" class="xt">2400</text>
<text transform="translate(403.1,608.0) rotate(-45)" class="xt">2800</text>
<text x="373.1" y="619.6" class="xl">Street number</text>
<linearGradient id="w73"><stop offset="0.000" stop-color="#00f" stop-opacity="0.00"/><stop offset="0.460" stop-color="#00f" stop-opacity="0.00"/><stop offset="0.470" stop-color="#00f" stop-opacity="0.08"/><stop offset="0.600" stop-color="#00f" stop-opacity="0.14"/><stop offset="0.760" stop-color="#00f" stop-opacity="0.20"/><stop offset="0.890" stop-color="#00f" stop-opacity="0.27"/></linearGradient>
<polyline points="447.1,573.6 447.7,573.6 447.7,573.6 447.7,573.6 447.8,573.7 447.8,574.1 447.9,574.4 447.9,574.8 448.0,575.2 448.0,575.5 448.1,575.9 448.2,576.3 448.2,576.7 448.3,577.0 448.4,577.4 448.5,577.8 448.6,578.1 448.7,578.5 448.8,578.9 448.9,579.3 449.0,579.6 449.1,580.0 449.3,580.4 449.4,580.7 449.5,581.1 449.7,581.5 449.9,581.9 450.0,582.2 450.2,582.6 450.4,583.0 450.6,583.3 450.9,583.7 451.1,584.1 451.3,584.5 451.6,584.8 451.9,585.2 452.2,585.6 452.5,585.9 452.9,586.3 453.2,586.7 453.6,587.1 454.1,587.4 454.5,587.8 455.0,588.2 455.5,588.5 456.0,588.9 456.6,589.3 457.2,589.7 457.8,590.0 458.5,590.4 459.2,590.8 459.9,591.1 460.8,591.5 461.6,591.9 462.5,592.3 463.5,592.6 464.6,593.0 465.7,593.4 466.8,593.7 468.1,594.1 469.4,594.5 470.8,594.9 472.3,595.2 473.9,595.6 475.6,596.0 477.4,596.3 479.3,596.7 481.3,597.1 483.5,597.5 485.8,597.8 488.2,598.2 490.8,598.6 493.6,598.9 496.5,599.3 499.6,599.7 502.9,600.1 506.5,600.4 510.2,600.8 514.2,601.2 518.4,601.5 522.9,601.9" class="gc"/>
<g transform="translate(444.60,603.60)" class="d">
<rect x="2.5" y="-42.2" width="75.9" height="42.2" fill="url(#w73)"/>
<polygon fill-opacity="1" points="2.5,0 2.5,-2.4 3.0,-2.0 3.5,-1.5 4.0,-1.5 4.5,-1.8 5.0,-2.4 5.5,-2.5 6.0,-1.8 6.5,-1.9 7.0,-1.9 7.5,-2.5 8.0,-1.9 8.5,-1.8 9.0,-2.0 9.5,-1.4 10.0,-2.0 10.5,-1.5 11.0,-2.3 11.5,-1.9 12.0,-2.5 12.5,-1.9 13.0,-1.7 13.5,-2.5 14.0,-2.4 14.5,-1.4 15.0,-2.5 15.5,-2.4 16.0,-2.5 16.5,-2.1 17.0,-2.2 17.5,-2.2 18.0,-1.8 18.5,-1.4 19.0,-2.2 19.5,-2.5 20.0,-1.5 20.5,-2.2 21.0,-2.0 21.5,-1.9 22.1,-2.2 22.6,-2.1 23.1,-2.3 23.6,-1.9 24.1,-1.9 24.6,-2.1 25.1,-1.7 25.6,-2.5 26.1,-1.5 26.6,-2.4 27.1,-1.5 27.6,-1.6 28.1,-2.6 28.6,-2.2 29.1,-1.7 29.6,-2.2 30.1,-1.7 30.6,-2.2 31.1,-1.8 31.6,-1.8 32.1,-1.5 32.6,-2.1 33.1,-1.6 33.6,-2.0 34.1,-1.9 34.6,-2.2 35.1,-1.7 35.6,-2.2 36.1,-1.5 36.6,-2.4 37.1,-1.5 37.6,-2.0 38.1,-1.5 38.6,-2.4 39.1,-1.7 39.6,-1.6 40.1,-2.2 40.6,-2.3 41.1,-2.1 41.6,-2.2 42.1,-2.3 42.6,-2.7 43.1,-2.0 43.7,-1.8 44.2,-3.1 44.7,-2.8 45.2,-2.9 45.7,-3.3 46.2,-2.3 46.7,-3.1 47.2,-2.9 47.7,-3.8 48.2,-3.4 48.7,-3.3 49.2,-4.0 49.7,-3.9 50.2,-3.5 50.7,-4.1 51.2,-3.2 51.7,-3.9 52.2,-3.7 52.7,-4.2 53.2,-4.9 53.7,-5.3 54.2,-5.1 54.7,-4.9 55.2,-5.5 55.7,-5.3 56.2,-4.5 56.7,-5.3 57.2,-4.1 57.7,-4.3 58.2,-6.0 58.7,-4.7 59.2,-4.6 59.7,-5.3 60.2,-7.5 60.7,-8.5 61.2,-5.5 61.7,-5.1 62.2,-5.9 62.7,-8.0 63.2,-5.8 63.7,-6.7 64.2,-10.3 64.7,-10.2 65.2,-6.6 65.8,-11.5 66.3,-7.7 66.8,-9.6 67.3,-11.8 67.8,-13.9 68.3,-14.4 68.8,-10.4 69.3,-11.0 69.8,-14.8 70.3,-11.9 70.8,-13.2 71.3,-12.4 71.8,-12.9 72.3,-19.9 72.8,-20.6 73.3,-18.5 73.8,-22.6 74.3,-18.9 74.8,-22.5 75.3,-19.1 75.8,-24.9 76.3,-22.0 76.8,-22.8 77.3,-21.0 77.8,-19.3 78.3,-14.5 78.3,0"/>
<path class="ex" d="M14.6 0v-42.2M22.9 0v-42.2M34.3 0v-42.2"/>
<path d="M0 0m40.8 .0v-42.2m6.5 42.2v-25.4m3.8 25.4v-42.2m4.0 42.2v-42.2m3.0 42.2v-19.9m3.0 19.9v-42.2m1.0 42.2v-31.6m1.0 31.6v-41.0m1.3 41.0v-42.2m1.3 42.2v-42.2m1.5 42.2v-42.2m1.5 42.2v-42.2m1.0 42.2v-24.1m1.0 24.1v-36.4m1.0 36.4v-42.2m1.0 42.2v-42.2m1.0 42.2v-39.7m1.0 39.7v-33.7m1.0 33.7v-39.3m1.0 39.3v-35.3m1.0 35.3v-42.2"/>
<path d="M0 0m42.5 .0v-42.2m5.0 42.2v-42.2m4.0 42.2v-11.6m4.5 11.6v-27.9m4.0 27.9v-29.8m1.3 29.8v-42.2m1.0 42.2v-42.2m1.3 42.2v-25.5m1.0 25.5v-31.2m1.3 31.2v-16.3m1.5 16.3v-29.6m1.5 29.6v-38.2m1.0 38.2v-36.0m1.0 36.0v-42.2m1.0 42.2v-42.2m1.0 42.2v-42.2m1.0 42.2v-39.1m1.0 39.1v-42.2m1.0 42.2v-41.3m1.0 41.3v-42.2m1.0 42.2v-34.5"/>
<path d="M0 0m43.8 .0v-30.5m4.3 30.5v-16.7m6.3 16.7v-42.2m2.5 42.2v-13.0m3.8 13.0v-42.2m1.0 42.2v-33.0m1.0 33.0v-28.5m1.3 28.5v-42.2m1.0 42.2v-42.2m1.3 42.2v-42.2m1.8 42.2v-42.2m1.3 42.2v-42.2m1.0 42.2v-42.2m1.0 42.2v-41.3m1.0 41.3v-42.2m1.0 42.2v-26.2m1.0 26.2v-42.2m1.0 42.2v-36.9m1.0 36.9v-35.5m1.0 35.5v-40.1m1.0 40.1v-42.2"/>
<path d="M0 0m45.0 .0v-42.2m4.3 42.2v-20.1m5.3 20.1v-42.2m3.3 42.2v-42.2m3.0 42.2v-42.2m1.0 42.2v-28.6m1.0 28.6v-37.5m1.3 37.5v-42.2m1.0 42.2v-35.9m1.5 35.9v-42.2m1.5 42.2v-33.8m1.3 33.8v-35.4m1.0 35.4v-28.9m1.0 28.9v-23.6m1.0 23.6v-42.2m1.0 42.2v-25.8m1.0 25.8v-35.3m1.0 35.3v-42.2m1.0 42.2v-42.2m1.0 42.2v-42.2m1.0 42.2v-31.5"/>
</g>
<rect x="444.60" y="561.40" width="82.00" height="42.20" fill="none" stroke="#555" stroke-width="0.7"/>
<text x="443.4" y="563.1" class="lt">1.00</text>
<text x="443.4" y="573.7" class="lt">0.75</text>
<text x="443.4" y="584.2" class="lt">0.50</text>
<text x="443.4" y="594.8" class="lt">0.25</text>
<text x="443.4" y="605.3" class="lt">0.00</text>
<text x="527.5" y="563.1" class="rt">20</text>
<text x="527.5" y="573.7" class="rt">15</text>
<text x="527.5" y="584.2" class="rt">10</text>
<text x="527.5" y="594.8" class="rt">5</text>
<text x="527.5" y="605.3" class="rt">0</text>
<text transform="translate(432.6,582.5) rotate(-90)" class="yl"><tspan class="it">β</tspan>: Average thermal value</text>
<text transform="translate(538.1,582.5) rotate(-90)" class="yl"><tspan class="it">T</tspan>: Unique threshold</text>
<text transform="translate(447.5,608.0) rotate(-45)" class="xt">0</text>
<text transform="translate(457.9,608.0) rotate(-45)" class="xt">400</text>
<text transform="translate(468.4,608.0) rotate(-45)" class="xt">800</text>
<text transform="translate(478.9,608.0) rotate(-45)" class="xt">1200</text>
<text transform="translate(489.3,608.0) rotate(-45)" class="xt">1600</text>
<text transform="translate(499.8,608.0) rotate(-45)" class="xt">2000</text>
<text transform="translate(510.3,608.0) rotate(-45)" class="xt">2400</text>
<text transform="translate(520.7,608.0) rotate(-45)" class="xt">2800</text>
<text x="485.6" y="619.6" class="xl">Street number</text>
<linearGradient id="w80"><stop offset="0.000" stop-color="#00f" stop-opacity="0.00"/><stop offset="0.310" stop-color="#00f" stop-opacity="0.00"/><stop offset="0.320" stop-color="#00f" stop-opacity="0.14"/><stop offset="0.600" stop-color="#00f" stop-opacity="0.15"/><stop offset="0.750" stop-color="#00f" stop-opacity="0.20"/><stop offset="0.900" stop-color="#00f" stop-opacity="0.22"/><stop offset="0.950" stop-color="#00f" stop-opacity="0.08"/><stop offset="1.000" stop-color="#00f" stop-opacity="0.02"/></linearGradient>
<polyline points="104.0,649.5 104.7,649.5 104.7,649.5 104.7,649.5 104.8,649.5 104.8,649.5 104.9,649.5 104.9,649.5 105.0,649.5 105.0,649.5 105.1,649.5 105.2,649.5 105.2,649.5 105.3,649.5 105.4,649.5 105.5,649.5 105.6,649.5 105.7,649.5 105.8,649.8 105.9,650.2 106.0,650.7 106.1,651.1 106.2,651.5 106.4,651.9 106.5,652.4 106.7,652.8 106.8,653.2 107.0,653.7 107.2,654.1 107.4,654.5 107.6,655.0 107.8,655.4 108.1,655.8 108.3,656.3 108.6,656.7 108.9,657.1 109.2,657.6 109.5,658.0 109.8,658.4 110.2,658.9 110.6,659.3 111.0,659.7 111.4,660.2 111.9,660.6 112.4,661.0 112.9,661.5 113.5,661.9 114.1,662.3 114.7,662.8 115.4,663.2 116.1,663.6 116.9,664.0 117.7,664.5 118.5,664.9 119.5,665.3 120.4,665.8 121.5,666.2 122.6,666.6 123.7,667.1 125.0,667.5 126.3,667.9 127.7,668.4 129.2,668.8 130.8,669.2 132.4,669.7 134.2,670.1 136.1,670.5 138.1,671.0 140.3,671.4 142.6,671.8 145.0,672.3 147.6,672.7 150.3,673.1 153.3,673.6 156.4,674.0 159.7,674.4 163.2,674.9 166.9,675.3 170.8,675.7 175.1,676.2 179.5,676.6" class="gc"/>
<g transform="translate(101.60,677.00)" class="d">
<rect x="2.4" y="-41.6" width="75.5" height="41.6" fill="url(#w80)"/>
<polygon fill-opacity="0.75" points="2.4,0 2.4,-2.0 3.0,-1.9 3.5,-2.0 4.0,-1.8 4.5,-2.3 5.0,-1.6 5.5,-1.9 6.0,-2.2 6.5,-2.1 7.0,-2.4 7.5,-1.7 8.0,-1.8 8.5,-1.7 9.0,-1.5 9.5,-1.5 10.0,-2.0 10.5,-1.7 11.0,-2.0 11.5,-2.5 12.0,-2.5 12.5,-2.3 13.0,-1.8 13.5,-1.8 14.0,-2.4 14.5,-1.6 15.0,-2.3 15.5,-1.7 16.0,-1.9 16.5,-2.0 17.0,-2.5 17.5,-2.2 18.0,-2.3 18.6,-1.8 19.1,-1.8 19.6,-2.4 20.1,-2.0 20.6,-2.2 21.1,-1.5 21.6,-1.4 22.1,-1.9 22.6,-1.7 23.1,-1.7 23.6,-2.3 24.1,-2.4 24.6,-1.6 25.1,-1.5 25.6,-1.6 26.1,-1.6 26.6,-2.4 27.1,-2.1 27.6,-3.1 28.1,-1.8 28.6,-2.6 29.1,-2.1 29.6,-3.3 30.1,-2.6 30.6,-2.4 31.1,-3.0 31.6,-3.6 32.1,-2.2 32.6,-2.6 33.1,-3.9 33.6,-3.1 34.1,-2.5 34.7,-4.2 35.2,-4.3 35.7,-3.4 36.2,-2.9 36.7,-2.6 37.2,-4.2 37.7,-4.3 38.2,-4.3 38.7,-4.3 39.2,-3.6 39.7,-3.5 40.2,-4.2 40.7,-4.8 41.2,-4.0 41.7,-4.2 42.2,-3.9 42.7,-5.1 43.2,-5.5 43.7,-3.8 44.2,-5.6 44.7,-5.3 45.2,-4.3 45.7,-3.9 46.2,-5.2 46.7,-4.8 47.2,-5.0 47.7,-6.2 48.2,-6.3 48.7,-5.6 49.2,-5.1 49.7,-4.1 50.3,-3.9 50.8,-6.3 51.3,-4.6 51.8,-6.0 52.3,-4.9 52.8,-4.7 53.3,-6.3 53.8,-4.7 54.3,-4.4 54.8,-7.7 55.3,-5.7 55.8,-5.6 56.3,-7.2 56.8,-5.2 57.3,-7.4 57.8,-5.4 58.3,-7.4 58.8,-7.5 59.3,-5.1 59.8,-6.3 60.3,-8.3 60.8,-7.0 61.3,-6.9 61.8,-5.4 62.3,-5.9 62.8,-9.5 63.3,-9.8 63.8,-7.8 64.3,-8.6 64.8,-6.3 65.3,-10.2 65.9,-8.9 66.4,-9.5 66.9,-10.2 67.4,-7.2 67.9,-9.5 68.4,-8.4 68.9,-7.6 69.4,-7.0 69.9,-9.9 70.4,-7.2 70.9,-7.1 71.4,-8.3 71.9,-8.6 72.4,-8.7 72.9,-7.2 73.4,-10.1 73.9,-5.5 74.4,-7.5 74.9,-6.5 75.4,-4.8 75.9,-4.0 76.4,-5.4 76.9,-5.2 77.4,-3.8 77.9,-5.5 77.9,0"/>
<path d="M0 0m26.6 .0v-17.0m4.0 17.0v-41.6m2.5 41.6v-41.6m3.5 41.6v-41.6m4.5 41.6v-41.6m5.0 41.6v-41.6m3.0 41.6v-41.6m3.5 41.6v-41.6m3.5 41.6v-41.6m4.0 41.6v-41.6m3.0 41.6v-32.3m2.5 32.3v-41.6m2.5 41.6v-41.6m2.5 41.6v-31.2"/>
<path d="M0 0m27.1 .0v-32.1m4.0 32.1v-41.6m3.5 41.6v-41.6m2.5 41.6v-5.1m5.5 5.1v-15.8m4.0 15.8v-41.3m3.0 41.3v-33.8m3.5 33.8v-41.6m3.5 41.6v-41.6m4.0 41.6v-11.4m3.5 11.4v-12.7m2.5 12.7v-41.6m2.0 41.6v-41.6m2.5 41.6v-14.3"/>
<path d="M0 0m29.6 .0v-41.6m2.0 41.6v-41.6m4.0 41.6v-41.6m2.0 41.6v-41.6m6.0 41.6v-41.6m3.5 41.6v-41.6m4.0 41.6v-41.6m4.0 41.6v-41.6m2.0 41.6v-41.6m4.0 41.6v-26.4m3.5 26.4v-41.6m2.5 41.6v-17.5m2.5 17.5v-41.6m2.0 41.6v-41.6"/>
<path d="M0 0m30.1 .0v-41.6m2.5 41.6v-41.6m3.5 41.6v-41.6m2.5 41.6v-31.9m6.0 31.9v-38.5m4.0 38.5v-41.6m3.5 41.6v-8.2m3.5 8.2v-19.0m4.0 19.0v-27.2m2.5 27.2v-41.6m3.0 41.6v-19.3m2.5 19.3v-41.6m2.5 41.6v-41.6"/>
<polygon class="fl" fill-opacity="0.5" points="2.4,0 2.4,0.0 3.0,-0.0 3.5,-0.0 4.0,-0.0 4.5,-0.0 5.0,-0.0 5.5,-0.0 6.0,-0.0 6.5,-0.0 7.0,-0.0 7.5,-0.0 8.0,-0.0 8.5,-0.0 9.0,-0.0 9.5,-0.0 10.0,-0.0 10.5,-0.0 11.0,-0.0 11.5,-0.0 12.0,-0.0 12.5,-0.0 13.0,-0.0 13.5,-0.0 14.0,-0.0 14.5,-0.0 15.0,-0.0 15.5,-0.0 16.0,-0.0 16.5,-0.0 17.0,-0.0 17.5,-0.0 18.0,-0.0 18.6,-0.0 19.1,-0.0 19.6,-0.0 20.1,-0.0 20.6,-0.0 21.1,-0.0 21.6,-0.0 22.1,-0.0 22.6,-0.0 23.1,-0.0 23.6,-0.0 24.1,-0.0 24.6,-0.0 25.1,-0.0 25.6,-0.0 26.1,-0.0 26.6,-0.0 27.1,-0.0 27.6,-0.0 28.1,-0.0 28.6,-0.0 29.1,-0.0 29.6,-0.0 30.1,-0.0 30.6,-0.0 31.1,-0.0 31.6,-0.0 32.1,-0.0 32.6,-0.0 33.1,-0.0 33.6,-0.0 34.1,-0.0 34.7,-0.2 35.2,-0.4 35.7,-0.7 36.2,-1.0 36.7,-0.9 37.2,-1.1 37.7,-1.6 38.2,-2.0 38.7,-1.9 39.2,-1.6 39.7,-1.7 40.2,-2.5 40.7,-1.3 41.2,-2.3 41.7,-1.4 42.2,-2.3 42.7,-1.7 43.2,-2.5 43.7,-1.5 44.2,-1.8 44.7,-1.5 45.2,-2.2 45.7,-2.2 46.2,-2.5 46.7,-1.7 47.2,-1.6 47.7,-1.8 48.2,-2.1 48.7,-1.4 49.2,-1.4 49.7,-2.2 50.3,-2.1 50.8,-2.2 51.3,-2.6 51.8,-2.2 52.3,-2.4 52.8,-2.6 53.3,-2.4 53.8,-2.1 54.3,-1.9 54.8,-2.3 55.3,-1.6 55.8,-1.4 56.3,-1.5 56.8,-1.5 57.3,-2.4 57.8,-1.8 58.3,-1.8 58.8,-2.5 59.3,-1.8 59.8,-1.6 60.3,-1.8 60.8,-1.9 61.3,-2.3 61.8,-2.2 62.3,-2.2 62.8,-1.7 63.3,-2.0 63.8,-2.5 64.3,-1.9 64.8,-2.0 65.3,-2.1 65.9,-2.3 66.4,-2.7 66.9,-2.0 67.4,-2.4 67.9,-2.0 68.4,-1.7 68.9,-2.5 69.4,-1.9 69.9,-2.5 70.4,-1.5 70.9,-2.4 71.4,-2.2 71.9,-2.3 72.4,-2.8 72.9,-1.8 73.4,-1.7 73.9,-2.1 74.4,-2.0 74.9,-2.9 75.4,-2.5 75.9,-2.8 76.4,-2.3 76.9,-2.0 77.4,-2.6 77.9,-1.7 78.5,0"/>
</g>
<rect x="101.60" y="635.40" width="81.60" height="41.60" fill="none" stroke="#555" stroke-width="0.7"/>
<text x="100.4" y="637.1" class="lt">1.00</text>
<text x="100.4" y="647.5" class="lt">0.75</text>
<text x="100.4" y="657.9" class="lt">0.50</text>
<text x="100.4" y="668.3" class="lt">0.25</text>
<text x="100.4" y="678.7" class="lt">0.00</text>
<text x="184.1" y="637.1" class="rt">20</text>
<text x="184.1" y="647.5" class="rt">15</text>
<text x="184.1" y="657.9" class="rt">10</text>
<text x="184.1" y="668.3" class="rt">5</text>
<text x="184.1" y="678.7" class="rt">0</text>
<text transform="translate(89.6,656.2) rotate(-90)" class="yl"><tspan class="it">β</tspan>: Average thermal value</text>
<text transform="translate(194.7,656.2) rotate(-90)" class="yl"><tspan class="it">T</tspan>: Unique threshold</text>
<text transform="translate(104.4,681.4) rotate(-45)" class="xt">0</text>
<text transform="translate(116.7,681.4) rotate(-45)" class="xt">200</text>
<text transform="translate(128.9,681.4) rotate(-45)" class="xt">400</text>
<text transform="translate(141.1,681.4) rotate(-45)" class="xt">600</text>
<text transform="translate(153.3,681.4) rotate(-45)" class="xt">800</text>
<text transform="translate(165.5,681.4) rotate(-45)" class="xt">1000</text>
<text transform="translate(177.7,681.4) rotate(-45)" class="xt">1200</text>
<text x="142.4" y="693.0" class="xl">Street number</text>
<linearGradient id="w81"><stop offset="0.000" stop-color="#00f" stop-opacity="0.00"/><stop offset="0.410" stop-color="#00f" stop-opacity="0.00"/><stop offset="0.420" stop-color="#00f" stop-opacity="0.02"/><stop offset="0.490" stop-color="#00f" stop-opacity="0.06"/><stop offset="0.690" stop-color="#00f" stop-opacity="0.08"/><stop offset="0.720" stop-color="#00f" stop-opacity="0.14"/><stop offset="0.760" stop-color="#00f" stop-opacity="0.23"/><stop offset="0.920" stop-color="#00f" stop-opacity="0.25"/><stop offset="0.960" stop-color="#00f" stop-opacity="0.14"/><stop offset="1.000" stop-color="#00f" stop-opacity="0.08"/></linearGradient>
<polyline points="218.7,648.3 219.3,648.3 219.4,648.7 219.4,649.0 219.5,649.3 219.5,649.7 219.6,650.0 219.6,650.4 219.7,650.7 219.7,651.1 219.8,651.4 219.9,651.8 219.9,652.1 220.0,652.5 220.1,652.8 220.2,653.2 220.3,653.5 220.3,653.8 220.4,654.2 220.6,654.5 220.7,654.9 220.8,655.2 220.9,655.6 221.1,655.9 221.2,656.3 221.4,656.6 221.5,657.0 221.7,657.3 221.9,657.6 222.1,658.0 222.3,658.3 222.5,658.7 222.8,659.0 223.0,659.4 223.3,659.7 223.6,660.1 223.9,660.4 224.2,660.8 224.5,661.1 224.9,661.5 225.3,661.8 225.7,662.1 226.1,662.5 226.6,662.8 227.1,663.2 227.6,663.5 228.2,663.9 228.8,664.2 229.4,664.6 230.1,664.9 230.8,665.3 231.6,665.6 232.4,665.9 233.2,666.3 234.1,666.6 235.1,667.0 236.1,667.3 237.2,667.7 238.4,668.0 239.6,668.4 240.9,668.7 242.3,669.1 243.8,669.4 245.4,669.7 247.1,670.1 248.9,670.4 250.8,670.8 252.8,671.1 255.0,671.5 257.2,671.8 259.7,672.2 262.2,672.5 265.0,672.9 267.9,673.2 271.0,673.6 274.3,673.9 277.8,674.2 281.5,674.6 285.5,674.9 289.7,675.3 294.1,675.6" class="gc"/>
<g transform="translate(216.30,677.00)" class="d">
<rect x="2.4" y="-41.6" width="75.4" height="41.6" fill="url(#w81)"/>
<polygon fill-opacity="1" points="2.4,0 2.4,-1.5 2.9,-1.9 3.5,-2.0 4.0,-2.5 4.5,-2.3 5.0,-2.3 5.5,-2.2 6.0,-1.6 6.5,-2.4 7.0,-1.9 7.5,-2.0 8.0,-1.5 8.5,-1.7 9.0,-2.3 9.5,-1.5 10.0,-1.5 10.5,-1.8 11.0,-1.8 11.5,-2.0 12.0,-2.0 12.5,-1.6 13.0,-1.4 13.5,-1.9 14.0,-1.8 14.5,-2.1 15.0,-2.2 15.5,-2.4 16.0,-2.0 16.5,-2.0 17.0,-2.3 17.5,-2.6 18.0,-2.4 18.5,-1.6 19.0,-1.9 19.5,-2.8 20.0,-2.8 20.5,-1.9 21.0,-1.8 21.5,-1.6 22.0,-1.7 22.5,-1.7 23.1,-2.9 23.6,-2.9 24.1,-2.1 24.6,-1.7 25.1,-2.9 25.6,-2.5 26.1,-2.9 26.6,-2.1 27.1,-2.8 27.6,-2.8 28.1,-2.6 28.6,-2.6 29.1,-2.7 29.6,-2.3 30.1,-3.1 30.6,-1.9 31.1,-2.4 31.6,-2.3 32.1,-2.5 32.6,-3.1 33.1,-2.0 33.6,-2.5 34.1,-2.6 34.6,-2.5 35.1,-2.9 35.6,-3.1 36.1,-3.0 36.6,-2.8 37.1,-2.6 37.6,-3.7 38.1,-3.4 38.6,-3.2 39.1,-2.2 39.6,-2.8 40.1,-3.3 40.6,-2.5 41.1,-3.0 41.6,-3.1 42.1,-2.6 42.7,-4.1 43.2,-4.3 43.7,-3.1 44.2,-2.9 44.7,-3.2 45.2,-4.3 45.7,-3.2 46.2,-4.5 46.7,-5.0 47.2,-3.1 47.7,-4.7 48.2,-4.9 48.7,-5.0 49.2,-5.3 49.7,-4.5 50.2,-4.2 50.7,-6.9 51.2,-4.7 51.7,-7.4 52.2,-7.3 52.7,-6.0 53.2,-6.6 53.7,-6.0 54.2,-6.0 54.7,-8.6 55.2,-5.6 55.7,-6.7 56.2,-11.1 56.7,-8.5 57.2,-10.4 57.7,-11.3 58.2,-12.3 58.7,-14.1 59.2,-14.7 59.7,-11.8 60.2,-13.2 60.7,-20.0 61.2,-20.5 61.7,-16.8 62.3,-16.2 62.8,-18.3 63.3,-24.4 63.8,-18.1 64.3,-16.4 64.8,-18.1 65.3,-20.3 65.8,-31.4 66.3,-21.1 66.8,-21.3 67.3,-30.8 67.8,-33.2 68.3,-34.6 68.8,-33.4 69.3,-33.8 69.8,-32.3 70.3,-34.2 70.8,-26.6 71.3,-33.0 71.8,-20.1 72.3,-21.7 72.8,-30.0 73.3,-21.3 73.8,-20.7 74.3,-21.2 74.8,-16.3 75.3,-11.7 75.8,-18.0 76.3,-12.5 76.8,-18.5 77.3,-15.6 77.8,-15.3 77.8,0"/>
<path d="M0 0m38.8 .0v-41.6m7.0 41.6v-23.8m8.5 23.8v-38.8m3.5 38.8v-31.7m2.5 31.7v-41.6m1.5 41.6v-25.5m1.5 25.5v-41.6m1.0 41.6v-38.2m1.3 38.2v-41.6m1.0 41.6v-41.6m1.3 41.6v-41.6m1.0 41.6v-41.1m1.0 41.1v-41.6m1.0 41.6v-41.6m1.0 41.6v-41.6m3.0 41.6v-41.6"/>
<path d="M0 0m41.5 .0v-5.4m5.3 5.4v-35.2m8.3 35.2v-23.3m3.3 23.3v-37.5m2.3 37.5v-41.6m1.5 41.6v-40.6m1.5 40.6v-36.9m1.0 36.9v-38.2m1.3 38.2v-41.2m1.0 41.2v-41.6m1.3 41.6v-41.6m1.0 41.6v-41.6m1.0 41.6v-40.4m1.0 40.4v-41.6m1.3 41.6v-41.6m3.5 41.6v-41.6"/>
<path d="M0 0m42.8 .0v-41.6m10.3 41.6v-15.1m2.5 15.1v-39.7m3.8 39.7v-41.6m1.8 41.6v-35.0m1.8 35.0v-35.1m1.0 35.1v-32.7m1.0 32.7v-35.0m1.3 35.0v-41.6m1.3 41.6v-41.6m1.0 41.6v-41.2m1.0 41.2v-41.6m1.0 41.6v-41.6m1.0 41.6v-38.5m2.3 38.5v-33.6m3.0 33.6v-25.5"/>
<path d="M0 0m44.8 .0v-41.6m9.3 41.6v-34.9m3.5 34.9v-41.6m2.3 41.6v-41.6m1.8 41.6v-25.0m1.5 25.0v-32.8m1.0 32.8v-38.9m1.3 38.9v-37.1m1.0 37.1v-38.4m1.3 38.4v-41.6m1.0 41.6v-40.8m1.0 40.8v-38.6m1.0 38.6v-41.6m1.0 41.6v-41.6m2.8 41.6v-41.6m3.5 41.6v-41.6"/>
<polygon class="fl" fill-opacity="0.5" points="2.4,0 2.4,0.0 2.9,-0.0 3.5,-0.0 4.0,-0.0 4.5,-0.0 5.0,-0.0 5.5,-0.0 6.0,-0.0 6.5,-0.0 7.0,-0.0 7.5,-0.0 8.0,-0.0 8.5,-0.0 9.0,-0.0 9.5,-0.0 10.0,-0.0 10.5,-0.0 11.0,-0.0 11.5,-0.0 12.0,-0.0 12.5,-0.0 13.0,-0.0 13.5,-0.0 14.0,-0.0 14.5,-0.0 15.0,-0.0 15.5,-0.0 16.0,-0.0 16.5,-0.0 17.0,-0.0 17.5,-0.0 18.0,-0.0 18.5,-0.0 19.0,-0.0 19.5,-0.0 20.0,-0.0 20.5,-0.0 21.0,-0.0 21.5,-0.0 22.0,-0.0 22.5,-0.0 23.1,-0.0 23.6,-0.0 24.1,-0.0 24.6,-0.0 25.1,-0.0 25.6,-0.0 26.1,-0.0 26.6,-0.0 27.1,-0.0 27.6,-0.0 28.1,-0.0 28.6,-0.0 29.1,-0.0 29.6,-0.0 30.1,-0.0 30.6,-0.0 31.1,-0.0 31.6,-0.0 32.1,-0.0 32.6,-0.0 33.1,-0.0 33.6,-0.0 34.1,-0.0 34.6,-0.0 35.1,-0.0 35.6,-0.0 36.1,-0.0 36.6,-0.0 37.1,-0.0 37.6,-0.0 38.1,-0.0 38.6,-0.0 39.1,-0.0 39.6,-0.0 40.1,-0.0 40.6,-0.0 41.1,-0.0 41.6,-0.0 42.1,-0.0 42.7,-0.0 43.2,-0.0 43.7,-0.0 44.2,-0.0 44.7,-0.0 45.2,-0.0 45.7,-0.0 46.2,-0.0 46.7,-0.0 47.2,-0.0 47.7,-0.0 48.2,-0.2 48.7,-0.4 49.2,-0.7 49.7,-1.0 50.2,-1.0 50.7,-1.3 51.2,-1.6 51.7,-1.7 52.2,-1.7 52.7,-1.7 53.2,-1.9 53.7,-2.1 54.2,-1.7 54.7,-2.0 55.2,-2.2 55.7,-2.1 56.2,-1.4 56.7,-1.6 57.2,-1.8 57.7,-1.8 58.2,-1.7 58.7,-1.4 59.2,-2.6 59.7,-1.7 60.2,-1.4 60.7,-2.2 61.2,-2.3 61.7,-1.6 62.3,-1.4 62.8,-2.4 63.3,-2.2 63.8,-2.0 64.3,-1.6 64.8,-1.7 65.3,-1.9 65.8,-2.4 66.3,-2.1 66.8,-1.9 67.3,-2.4 67.8,-1.6 68.3,-2.2 68.8,-2.1 69.3,-1.5 69.8,-2.0 70.3,-2.7 70.8,-2.5 71.3,-2.6 71.8,-2.0 72.3,-2.8 72.8,-1.5 73.3,-1.8 73.8,-2.1 74.3,-2.4 74.8,-2.6 75.3,-2.3 75.8,-2.8 76.3,-2.6 76.8,-1.8 77.3,-2.0 77.8,-1.8 78.4,0"/>
</g>
<rect x="216.30" y="635.40" width="81.50" height="41.60" fill="none" stroke="#555" stroke-width="0.7"/>
<text x="215.1" y="637.1" class="lt">1.00</text>
<text x="215.1" y="647.5" class="lt">0.75</text>
<text x="215.1" y="657.9" class="lt">0.50</text>
<text x="215.1" y="668.3" class="lt">0.25</text>
<text x="215.1" y="678.7" class="lt">0.00</text>
<text x="298.7" y="637.1" class="rt">20</text>
<text x="298.7" y="647.5" class="rt">15</text>
<text x="298.7" y="657.9" class="rt">10</text>
<text x="298.7" y="668.3" class="rt">5</text>
<text x="298.7" y="678.7" class="rt">0</text>
<text transform="translate(204.3,656.2) rotate(-90)" class="yl"><tspan class="it">β</tspan>: Average thermal value</text>
<text transform="translate(309.3,656.2) rotate(-90)" class="yl"><tspan class="it">T</tspan>: Unique threshold</text>
<text transform="translate(219.1,681.4) rotate(-45)" class="xt">0</text>
<text transform="translate(226.6,681.4) rotate(-45)" class="xt">200</text>
<text transform="translate(234.0,681.4) rotate(-45)" class="xt">400</text>
<text transform="translate(241.4,681.4) rotate(-45)" class="xt">600</text>
<text transform="translate(248.8,681.4) rotate(-45)" class="xt">800</text>
<text transform="translate(256.3,681.4) rotate(-45)" class="xt">1000</text>
<text transform="translate(263.7,681.4) rotate(-45)" class="xt">1200</text>
<text transform="translate(271.1,681.4) rotate(-45)" class="xt">1400</text>
<text transform="translate(278.5,681.4) rotate(-45)" class="xt">1600</text>
<text transform="translate(285.9,681.4) rotate(-45)" class="xt">1800</text>
<text x="257.1" y="693.0" class="xl">Street number</text>
<linearGradient id="w82"><stop offset="0.000" stop-color="#00f" stop-opacity="0.00"/><stop offset="0.620" stop-color="#00f" stop-opacity="0.00"/><stop offset="0.630" stop-color="#00f" stop-opacity="0.08"/><stop offset="0.690" stop-color="#00f" stop-opacity="0.14"/><stop offset="0.800" stop-color="#00f" stop-opacity="0.20"/><stop offset="0.960" stop-color="#00f" stop-opacity="0.17"/></linearGradient>
<polyline points="334.6,648.3 335.2,648.5 335.2,648.8 335.2,649.1 335.3,649.5 335.3,649.8 335.4,650.1 335.4,650.5 335.5,650.8 335.5,651.1 335.6,651.5 335.7,651.8 335.7,652.1 335.8,652.4 335.9,652.8 336.0,653.1 336.1,653.4 336.2,653.8 336.3,654.1 336.4,654.4 336.5,654.8 336.6,655.1 336.7,655.4 336.9,655.7 337.0,656.1 337.2,656.4 337.4,656.7 337.5,657.1 337.7,657.4 337.9,657.7 338.1,658.1 338.3,658.4 338.6,658.7 338.8,659.1 339.1,659.4 339.4,659.7 339.7,660.0 340.0,660.4 340.4,660.7 340.7,661.0 341.1,661.4 341.5,661.7 342.0,662.0 342.5,662.4 342.9,662.7 343.5,663.0 344.0,663.3 344.6,663.7 345.3,664.0 345.9,664.3 346.7,664.7 347.4,665.0 348.2,665.3 349.1,665.7 350.0,666.0 351.0,666.3 352.0,666.7 353.1,667.0 354.3,667.3 355.5,667.6 356.9,668.0 358.3,668.3 359.8,668.6 361.4,669.0 363.0,669.3 364.8,669.6 366.8,670.0 368.8,670.3 370.9,670.6 373.2,671.0 375.7,671.3 378.3,671.6 381.0,671.9 383.9,672.3 387.1,672.6 390.4,672.9 393.9,673.3 397.6,673.6 401.6,673.9 405.8,674.3 410.3,674.6" class="gc"/>
<g transform="translate(332.10,677.00)" class="d">
<rect x="2.5" y="-41.6" width="75.8" height="41.6" fill="url(#w82)"/>
<polygon fill-opacity="1" points="2.5,0 2.5,-1.9 3.0,-2.4 3.5,-1.5 4.0,-1.8 4.5,-1.4 5.0,-2.1 5.5,-1.6 6.0,-1.7 6.5,-2.3 7.0,-1.4 7.5,-1.5 8.0,-1.7 8.5,-2.3 9.0,-1.9 9.5,-2.1 10.0,-2.4 10.5,-1.6 11.0,-1.9 11.5,-1.6 12.0,-2.3 12.5,-1.4 13.0,-2.2 13.5,-1.8 14.0,-2.0 14.5,-1.6 15.0,-2.4 15.5,-1.7 16.0,-1.9 16.5,-2.4 17.0,-2.1 17.5,-1.7 18.0,-1.6 18.5,-2.4 19.0,-2.2 19.5,-2.1 20.0,-2.0 20.5,-2.4 21.0,-1.5 21.5,-1.8 22.0,-2.3 22.5,-2.1 23.0,-2.1 23.5,-2.1 24.0,-1.9 24.5,-2.0 25.0,-1.9 25.5,-2.5 26.0,-1.7 26.5,-1.7 27.0,-1.8 27.5,-1.6 28.0,-2.1 28.5,-2.1 29.0,-1.5 29.5,-1.7 30.1,-2.4 30.6,-1.7 31.1,-2.2 31.6,-1.9 32.1,-1.6 32.6,-2.6 33.1,-2.2 33.6,-1.7 34.1,-2.1 34.6,-1.8 35.1,-2.4 35.6,-1.5 36.1,-1.9 36.6,-2.2 37.1,-2.3 37.6,-1.6 38.1,-1.5 38.6,-2.0 39.1,-2.2 39.6,-2.0 40.1,-1.5 40.6,-1.8 41.1,-2.3 41.6,-2.1 42.1,-2.6 42.6,-1.5 43.1,-2.2 43.6,-2.2 44.1,-2.0 44.6,-1.5 45.1,-1.9 45.6,-1.9 46.1,-1.7 46.6,-2.5 47.1,-1.6 47.6,-1.5 48.1,-2.6 48.6,-2.8 49.1,-2.5 49.6,-2.5 50.1,-2.9 50.6,-1.9 51.1,-2.3 51.6,-2.8 52.1,-2.3 52.6,-3.7 53.1,-3.3 53.6,-2.7 54.1,-3.5 54.6,-4.1 55.1,-3.8 55.6,-4.5 56.1,-4.7 56.6,-4.5 57.1,-5.8 57.6,-6.1 58.1,-4.6 58.6,-4.7 59.1,-4.8 59.7,-7.1 60.2,-7.8 60.7,-7.1 61.2,-9.3 61.7,-7.0 62.2,-7.1 62.7,-8.5 63.2,-11.2 63.7,-10.5 64.2,-14.6 64.7,-11.5 65.2,-16.1 65.7,-16.0 66.2,-15.4 66.7,-20.8 67.2,-18.9 67.7,-22.3 68.2,-24.7 68.7,-22.5 69.2,-20.1 69.7,-18.9 70.2,-28.2 70.7,-21.3 71.2,-30.2 71.7,-21.7 72.2,-21.3 72.7,-30.7 73.2,-25.7 73.7,-17.9 74.2,-21.0 74.7,-17.3 75.2,-18.7 75.7,-20.2 76.2,-20.0 76.7,-22.2 77.2,-23.2 77.7,-16.1 78.2,-16.1 78.2,0"/>
<path class="ex" d="M34.3 0v-12.5M44.1 0v-20.8"/>
<path d="M0 0m53.5 .0v-41.6m5.5 41.6v-19.8m2.0 19.8v-41.6m3.5 41.6v-41.6m3.3 41.6v-26.6m2.3 26.6v-39.8m2.5 39.8v-37.8m2.5 37.8v-34.4"/>
<path d="M0 0m54.0 .0v-5.1m5.3 5.1v-41.6m2.8 41.6v-31.1m3.3 31.1v-26.1m2.8 26.1v-32.9m2.5 32.9v-41.6m2.8 41.6v-36.0m3.8 36.0v-31.9"/>
<path d="M0 0m54.5 .0v-36.5m5.3 36.5v-41.6m2.5 41.6v-27.2m3.5 27.2v-25.7m3.3 25.7v-31.3m1.8 31.3v-37.8m3.3 37.8v-41.6m4.0 41.6v-39.4"/>
<path d="M0 0m57.5 .0v-20.9m3.0 20.9v-41.6m3.5 41.6v-41.6m2.3 41.6v-21.6m3.3 21.6v-41.6m2.5 41.6v-41.6m2.8 41.6v-37.9"/>
<polygon class="fl" fill-opacity="0.5" points="2.5,0 2.5,0.0 3.0,-0.0 3.5,-0.0 4.0,-0.0 4.5,-0.0 5.0,-0.0 5.5,-0.0 6.0,-0.0 6.5,-0.0 7.0,-0.0 7.5,-0.0 8.0,-0.0 8.5,-0.0 9.0,-0.0 9.5,-0.0 10.0,-0.0 10.5,-0.0 11.0,-0.0 11.5,-0.0 12.0,-0.0 12.5,-0.0 13.0,-0.0 13.5,-0.0 14.0,-0.0 14.5,-0.0 15.0,-0.0 15.5,-0.0 16.0,-0.0 16.5,-0.0 17.0,-0.0 17.5,-0.0 18.0,-0.0 18.5,-0.0 19.0,-0.0 19.5,-0.0 20.0,-0.0 20.5,-0.0 21.0,-0.0 21.5,-0.0 22.0,-0.0 22.5,-0.0 23.0,-0.0 23.5,-0.0 24.0,-0.0 24.5,-0.0 25.0,-0.0 25.5,-0.0 26.0,-0.0 26.5,-0.0 27.0,-0.0 27.5,-0.0 28.0,-0.0 28.5,-0.0 29.0,-0.0 29.5,-0.0 30.1,-0.0 30.6,-0.0 31.1,-0.0 31.6,-0.0 32.1,-0.0 32.6,-0.0 33.1,-0.0 33.6,-0.0 34.1,-0.0 34.6,-0.0 35.1,-0.0 35.6,-0.0 36.1,-0.0 36.6,-0.0 37.1,-0.0 37.6,-0.0 38.1,-0.0 38.6,-0.0 39.1,-0.0 39.6,-0.0 40.1,-0.0 40.6,-0.0 41.1,-0.0 41.6,-0.0 42.1,-0.0 42.6,-0.0 43.1,-0.0 43.6,-0.0 44.1,-0.0 44.6,-0.0 45.1,-0.0 45.6,-0.0 46.1,-0.0 46.6,-0.0 47.1,-0.0 47.6,-0.0 48.1,-0.0 48.6,-0.0 49.1,-0.0 49.6,-0.0 50.1,-0.0 50.6,-0.0 51.1,-0.0 51.6,-0.0 52.1,-0.0 52.6,-0.0 53.1,-0.0 53.6,-0.0 54.1,-0.0 54.6,-0.0 55.1,-0.0 55.6,-0.1 56.1,-0.4 56.6,-0.5 57.1,-0.8 57.6,-1.4 58.1,-1.5 58.6,-1.8 59.1,-1.2 59.7,-2.5 60.2,-2.1 60.7,-1.9 61.2,-1.7 61.7,-1.4 62.2,-1.7 62.7,-1.9 63.2,-2.6 63.7,-1.6 64.2,-1.7 64.7,-1.5 65.2,-2.1 65.7,-2.5 66.2,-2.4 66.7,-2.4 67.2,-2.0 67.7,-2.0 68.2,-2.7 68.7,-2.2 69.2,-1.7 69.7,-2.4 70.2,-2.3 70.7,-2.6 71.2,-2.2 71.7,-2.3 72.2,-2.6 72.7,-2.6 73.2,-1.6 73.7,-2.2 74.2,-1.6 74.7,-2.8 75.2,-2.6 75.7,-2.4 76.2,-2.2 76.7,-2.5 77.2,-2.2 77.7,-1.9 78.2,-2.1 78.8,0"/>
</g>
<rect x="332.10" y="635.40" width="81.90" height="41.60" fill="none" stroke="#555" stroke-width="0.7"/>
<text x="330.9" y="637.1" class="lt">1.00</text>
<text x="330.9" y="647.5" class="lt">0.75</text>
<text x="330.9" y="657.9" class="lt">0.50</text>
<text x="330.9" y="668.3" class="lt">0.25</text>
<text x="330.9" y="678.7" class="lt">0.00</text>
<text x="414.9" y="637.1" class="rt">20</text>
<text x="414.9" y="647.5" class="rt">15</text>
<text x="414.9" y="657.9" class="rt">10</text>
<text x="414.9" y="668.3" class="rt">5</text>
<text x="414.9" y="678.7" class="rt">0</text>
<text transform="translate(320.1,656.2) rotate(-90)" class="yl"><tspan class="it">β</tspan>: Average thermal value</text>
<text transform="translate(425.5,656.2) rotate(-90)" class="yl"><tspan class="it">T</tspan>: Unique threshold</text>
<text transform="translate(335.0,681.4) rotate(-45)" class="xt">0</text>
<text transform="translate(341.8,681.4) rotate(-45)" class="xt">200</text>
<text transform="translate(348.6,681.4) rotate(-45)" class="xt">400</text>
<text transform="translate(355.4,681.4) rotate(-45)" class="xt">600</text>
<text transform="translate(362.2,681.4) rotate(-45)" class="xt">800</text>
<text transform="translate(369.0,681.4) rotate(-45)" class="xt">1000</text>
<text transform="translate(375.9,681.4) rotate(-45)" class="xt">1200</text>
<text transform="translate(382.7,681.4) rotate(-45)" class="xt">1400</text>
<text transform="translate(389.5,681.4) rotate(-45)" class="xt">1600</text>
<text transform="translate(396.3,681.4) rotate(-45)" class="xt">1800</text>
<text transform="translate(403.1,681.4) rotate(-45)" class="xt">2000</text>
<text x="373.1" y="693.0" class="xl">Street number</text>
<linearGradient id="w83"><stop offset="0.000" stop-color="#00f" stop-opacity="0.00"/><stop offset="0.660" stop-color="#00f" stop-opacity="0.00"/><stop offset="0.670" stop-color="#00f" stop-opacity="0.10"/><stop offset="0.710" stop-color="#00f" stop-opacity="0.20"/><stop offset="0.840" stop-color="#00f" stop-opacity="0.25"/><stop offset="0.930" stop-color="#00f" stop-opacity="0.23"/><stop offset="1.000" stop-color="#00f" stop-opacity="0.14"/></linearGradient>
<polyline points="447.1,646.2 447.7,646.9 447.7,647.3 447.7,647.6 447.8,648.0 447.8,648.3 447.9,648.7 447.9,649.1 448.0,649.4 448.0,649.8 448.1,650.1 448.2,650.5 448.2,650.8 448.3,651.2 448.4,651.6 448.5,651.9 448.6,652.3 448.7,652.6 448.8,653.0 448.9,653.3 449.0,653.7 449.1,654.0 449.3,654.4 449.4,654.8 449.5,655.1 449.7,655.5 449.9,655.8 450.0,656.2 450.2,656.5 450.4,656.9 450.6,657.2 450.9,657.6 451.1,658.0 451.3,658.3 451.6,658.7 451.9,659.0 452.2,659.4 452.5,659.7 452.9,660.1 453.2,660.5 453.6,660.8 454.1,661.2 454.5,661.5 455.0,661.9 455.5,662.2 456.0,662.6 456.6,662.9 457.2,663.3 457.8,663.7 458.5,664.0 459.2,664.4 459.9,664.7 460.8,665.1 461.6,665.4 462.5,665.8 463.5,666.1 464.6,666.5 465.7,666.9 466.8,667.2 468.1,667.6 469.4,667.9 470.8,668.3 472.3,668.6 473.9,669.0 475.6,669.3 477.4,669.7 479.3,670.1 481.3,670.4 483.5,670.8 485.8,671.1 488.2,671.5 490.8,671.8 493.6,672.2 496.5,672.6 499.6,672.9 502.9,673.3 506.5,673.6 510.2,674.0 514.2,674.3 518.4,674.7 522.9,675.0" class="gc"/>
<g transform="translate(444.60,677.00)" class="d">
<rect x="2.5" y="-41.6" width="75.9" height="41.6" fill="url(#w83)"/>
<polygon fill-opacity="1" points="2.5,0 2.5,-2.2 3.0,-2.4 3.5,-1.4 4.0,-1.4 4.5,-2.5 5.0,-1.7 5.5,-1.6 6.0,-1.9 6.5,-2.0 7.0,-2.2 7.5,-2.1 8.0,-2.0 8.5,-2.2 9.0,-1.7 9.5,-1.9 10.0,-2.4 10.5,-2.2 11.0,-2.1 11.5,-1.5 12.0,-2.4 12.5,-1.4 13.0,-2.3 13.5,-1.5 14.0,-1.9 14.5,-2.2 15.0,-2.0 15.5,-1.4 16.0,-1.6 16.5,-1.9 17.0,-1.7 17.5,-1.5 18.0,-1.5 18.5,-2.2 19.0,-2.0 19.5,-1.9 20.0,-1.4 20.5,-2.2 21.0,-2.5 21.5,-2.2 22.1,-1.9 22.6,-2.2 23.1,-2.1 23.6,-1.5 24.1,-2.0 24.6,-2.1 25.1,-1.6 25.6,-1.7 26.1,-1.7 26.6,-1.8 27.1,-1.7 27.6,-2.5 28.1,-2.4 28.6,-1.9 29.1,-1.6 29.6,-2.4 30.1,-2.3 30.6,-1.4 31.1,-2.3 31.6,-1.4 32.1,-2.3 32.6,-2.1 33.1,-2.4 33.6,-2.1 34.1,-1.5 34.6,-2.0 35.1,-2.4 35.6,-1.8 36.1,-2.1 36.6,-1.8 37.1,-2.1 37.6,-1.8 38.1,-1.7 38.6,-1.4 39.1,-2.4 39.6,-2.1 40.1,-2.4 40.6,-2.2 41.1,-1.8 41.6,-1.5 42.1,-2.5 42.6,-2.5 43.1,-2.5 43.7,-1.9 44.2,-2.1 44.7,-2.3 45.2,-1.8 45.7,-1.7 46.2,-1.7 46.7,-2.0 47.2,-1.9 47.7,-2.5 48.2,-2.4 48.7,-1.6 49.2,-1.8 49.7,-2.0 50.2,-2.6 50.7,-2.5 51.2,-2.0 51.7,-2.5 52.2,-1.8 52.7,-1.9 53.2,-3.4 53.7,-2.4 54.2,-3.8 54.7,-4.3 55.2,-3.5 55.7,-3.5 56.2,-3.0 56.7,-3.1 57.2,-5.9 57.7,-6.3 58.2,-4.3 58.7,-5.6 59.2,-7.3 59.7,-6.5 60.2,-5.5 60.7,-10.2 61.2,-8.9 61.7,-8.0 62.2,-12.6 62.7,-10.2 63.2,-15.8 63.7,-14.6 64.2,-17.8 64.7,-14.0 65.2,-17.2 65.8,-20.0 66.3,-18.8 66.8,-20.3 67.3,-21.6 67.8,-26.9 68.3,-26.9 68.8,-21.5 69.3,-20.4 69.8,-27.1 70.3,-24.0 70.8,-21.4 71.3,-22.3 71.8,-21.3 72.3,-21.9 72.8,-24.2 73.3,-21.9 73.8,-17.4 74.3,-26.4 74.8,-18.2 75.3,-24.5 75.8,-20.6 76.3,-22.9 76.8,-20.1 77.3,-22.8 77.8,-17.8 78.3,-20.3 78.3,0"/>
<path class="ex" d="M32.0 0v-41.6"/>
<path d="M0 0m53.5 .0v-28.3m2.5 28.3v-41.6m2.0 41.6v-32.3m1.8 32.3v-41.6m1.0 41.6v-41.6m1.5 41.6v-41.6m1.5 41.6v-26.1m2.0 26.1v-41.6m1.3 41.6v-41.6m1.0 41.6v-41.6m1.0 41.6v-41.6m1.3 41.6v-39.8m2.3 39.8v-38.3m2.0 38.3v-29.0m3.3 29.0v-41.6"/>
<path d="M0 0m54.3 .0v-41.6m2.0 41.6v-8.8m2.3 8.8v-33.0m1.5 33.0v-16.7m1.0 16.7v-41.6m2.0 41.6v-37.5m1.0 37.5v-41.6m2.0 41.6v-41.6m1.3 41.6v-35.2m1.0 35.2v-36.1m1.0 36.1v-41.6m1.3 41.6v-41.6m2.3 41.6v-41.6m2.3 41.6v-32.7m3.0 32.7v-41.6"/>
<path d="M0 0m55.3 .0v-41.6m2.0 41.6v-33.1m1.8 33.1v-10.1m1.3 10.1v-41.6m1.0 41.6v-19.5m2.0 19.5v-32.3m1.0 32.3v-41.6m2.3 41.6v-26.2m1.0 26.2v-40.4m1.0 40.4v-31.1m1.0 31.1v-41.6m1.3 41.6v-41.6m2.5 41.6v-34.7m2.0 34.7v-41.6"/>
<path d="M0 0m55.5 .0v-17.1m2.0 17.1v-7.2m2.0 7.2v-14.6m1.0 14.6v-41.6m1.3 41.6v-35.1m1.8 35.1v-41.6m1.5 41.6v-24.4m1.8 24.4v-28.9m1.0 28.9v-36.3m1.0 36.3v-41.6m1.0 41.6v-37.7m2.5 37.7v-41.1m1.8 41.1v-37.1m1.8 37.1v-33.6"/>
<polygon class="fl" fill-opacity="0.5" points="2.5,0 2.5,0.0 3.0,-0.0 3.5,-0.0 4.0,-0.0 4.5,-0.0 5.0,-0.0 5.5,-0.0 6.0,-0.0 6.5,-0.0 7.0,-0.0 7.5,-0.0 8.0,-0.0 8.5,-0.0 9.0,-0.0 9.5,-0.0 10.0,-0.0 10.5,-0.0 11.0,-0.0 11.5,-0.0 12.0,-0.0 12.5,-0.0 13.0,-0.0 13.5,-0.0 14.0,-0.0 14.5,-0.0 15.0,-0.0 15.5,-0.0 16.0,-0.0 16.5,-0.0 17.0,-0.0 17.5,-0.0 18.0,-0.0 18.5,-0.0 19.0,-0.0 19.5,-0.0 20.0,-0.0 20.5,-0.0 21.0,-0.0 21.5,-0.0 22.1,-0.0 22.6,-0.0 23.1,-0.0 23.6,-0.0 24.1,-0.0 24.6,-0.0 25.1,-0.0 25.6,-0.0 26.1,-0.0 26.6,-0.0 27.1,-0.0 27.6,-0.0 28.1,-0.0 28.6,-0.0 29.1,-0.0 29.6,-0.0 30.1,-0.0 30.6,-0.0 31.1,-0.0 31.6,-0.0 32.1,-0.0 32.6,-0.0 33.1,-0.0 33.6,-0.0 34.1,-0.0 34.6,-0.0 35.1,-0.0 35.6,-0.0 36.1,-0.0 36.6,-0.0 37.1,-0.0 37.6,-0.0 38.1,-0.0 38.6,-0.0 39.1,-0.0 39.6,-0.0 40.1,-0.0 40.6,-0.0 41.1,-0.0 41.6,-0.0 42.1,-0.0 42.6,-0.0 43.1,-0.0 43.7,-0.0 44.2,-0.0 44.7,-0.0 45.2,-0.0 45.7,-0.0 46.2,-0.0 46.7,-0.0 47.2,-0.0 47.7,-0.0 48.2,-0.0 48.7,-0.0 49.2,-0.0 49.7,-0.0 50.2,-0.0 50.7,-0.0 51.2,-0.0 51.7,-0.0 52.2,-0.0 52.7,-0.0 53.2,-0.0 53.7,-0.0 54.2,-0.0 54.7,-0.0 55.2,-0.0 55.7,-0.0 56.2,-0.0 56.7,-0.0 57.2,-0.0 57.7,-0.0 58.2,-0.0 58.7,-0.0 59.2,-0.0 59.7,-0.1 60.2,-0.5 60.7,-0.8 61.2,-1.0 61.7,-1.5 62.2,-1.8 62.7,-2.1 63.2,-2.4 63.7,-1.9 64.2,-2.5 64.7,-2.2 65.2,-2.4 65.8,-2.2 66.3,-2.5 66.8,-1.7 67.3,-1.6 67.8,-1.6 68.3,-1.9 68.8,-1.6 69.3,-2.4 69.8,-2.0 70.3,-1.5 70.8,-1.5 71.3,-1.6 71.8,-2.3 72.3,-2.2 72.8,-2.4 73.3,-1.5 73.8,-1.9 74.3,-1.6 74.8,-1.5 75.3,-1.9 75.8,-2.7 76.3,-2.8 76.8,-2.8 77.3,-2.5 77.8,-2.5 78.3,-1.9 78.9,0"/>
</g>
<rect x="444.60" y="635.40" width="82.00" height="41.60" fill="none" stroke="#555" stroke-width="0.7"/>
<text x="443.4" y="637.1" class="lt">1.00</text>
<text x="443.4" y="647.5" class="lt">0.75</text>
<text x="443.4" y="657.9" class="lt">0.50</text>
<text x="443.4" y="668.3" class="lt">0.25</text>
<text x="443.4" y="678.7" class="lt">0.00</text>
<text x="527.5" y="637.1" class="rt">20</text>
<text x="527.5" y="647.5" class="rt">15</text>
<text x="527.5" y="657.9" class="rt">10</text>
<text x="527.5" y="668.3" class="rt">5</text>
<text x="527.5" y="678.7" class="rt">0</text>
<text transform="translate(432.6,656.2) rotate(-90)" class="yl"><tspan class="it">β</tspan>: Average thermal value</text>
<text transform="translate(538.1,656.2) rotate(-90)" class="yl"><tspan class="it">T</tspan>: Unique threshold</text>
<text transform="translate(447.5,681.4) rotate(-45)" class="xt">0</text>
<text transform="translate(454.7,681.4) rotate(-45)" class="xt">200</text>
<text transform="translate(461.9,681.4) rotate(-45)" class="xt">400</text>
<text transform="translate(469.1,681.4) rotate(-45)" class="xt">600</text>
<text transform="translate(476.3,681.4) rotate(-45)" class="xt">800</text>
<text transform="translate(483.5,681.4) rotate(-45)" class="xt">1000</text>
<text transform="translate(490.7,681.4) rotate(-45)" class="xt">1200</text>
<text transform="translate(497.9,681.4) rotate(-45)" class="xt">1400</text>
<text transform="translate(505.1,681.4) rotate(-45)" class="xt">1600</text>
<text transform="translate(512.3,681.4) rotate(-45)" class="xt">1800</text>
<text transform="translate(519.5,681.4) rotate(-45)" class="xt">2000</text>
<text x="485.6" y="693.0" class="xl">Street number</text>
<linearGradient id="w90"><stop offset="0.000" stop-color="#00f" stop-opacity="0.00"/><stop offset="0.150" stop-color="#00f" stop-opacity="0.00"/><stop offset="0.160" stop-color="#00f" stop-opacity="0.09"/><stop offset="0.240" stop-color="#00f" stop-opacity="0.15"/><stop offset="0.600" stop-color="#00f" stop-opacity="0.17"/><stop offset="0.800" stop-color="#00f" stop-opacity="0.21"/><stop offset="1.000" stop-color="#00f" stop-opacity="0.23"/></linearGradient>
<polyline points="104.0,727.3 104.7,727.3 104.7,727.3 104.7,727.3 104.8,727.3 104.8,727.3 104.9,727.3 104.9,727.3 105.0,727.3 105.0,727.3 105.1,727.3 105.2,727.3 105.2,727.3 105.3,727.3 105.4,727.5 105.5,727.9 105.6,728.3 105.7,728.7 105.8,729.1 105.9,729.5 106.0,729.9 106.1,730.3 106.2,730.7 106.4,731.1 106.5,731.5 106.7,731.9 106.8,732.3 107.0,732.7 107.2,733.1 107.4,733.5 107.6,733.9 107.8,734.3 108.1,734.7 108.3,735.1 108.6,735.5 108.9,735.9 109.2,736.3 109.5,736.7 109.8,737.1 110.2,737.5 110.6,737.9 111.0,738.3 111.4,738.6 111.9,739.0 112.4,739.4 112.9,739.8 113.5,740.2 114.1,740.6 114.7,741.0 115.4,741.4 116.1,741.8 116.9,742.2 117.7,742.6 118.5,743.0 119.5,743.4 120.4,743.8 121.5,744.2 122.6,744.6 123.7,745.0 125.0,745.4 126.3,745.8 127.7,746.2 129.2,746.6 130.8,747.0 132.4,747.4 134.2,747.8 136.1,748.2 138.1,748.6 140.3,749.0 142.6,749.4 145.0,749.8 147.6,750.2 150.3,750.6 153.3,750.8 156.4,750.8 159.7,750.8 163.2,750.8 166.9,750.8 170.8,750.8 175.1,750.8 179.5,750.8" class="gc"/>
<g transform="translate(101.60,750.80)" class="d">
<rect x="2.4" y="-41.9" width="75.5" height="41.9" fill="url(#w90)"/>
<polygon fill-opacity="0.75" points="2.4,0 2.4,-1.5 3.0,-1.6 3.5,-2.2 4.0,-1.6 4.5,-2.5 5.0,-2.4 5.5,-2.2 6.0,-1.9 6.5,-2.3 7.0,-1.7 7.5,-2.1 8.0,-1.8 8.5,-1.9 9.0,-2.5 9.5,-1.6 10.0,-2.3 10.5,-2.3 11.0,-1.5 11.5,-2.5 12.0,-1.9 12.5,-2.0 13.0,-1.7 13.5,-2.0 14.0,-2.5 14.5,-1.8 15.0,-2.2 15.5,-2.3 16.0,-2.4 16.5,-2.2 17.0,-1.9 17.5,-1.8 18.0,-1.8 18.6,-1.8 19.1,-2.4 19.6,-2.3 20.1,-1.6 20.6,-1.7 21.1,-1.4 21.6,-2.5 22.1,-1.5 22.6,-1.8 23.1,-1.6 23.6,-1.6 24.1,-2.5 24.6,-1.9 25.1,-2.1 25.6,-2.3 26.1,-2.0 26.6,-2.3 27.1,-2.3 27.6,-2.1 28.1,-2.0 28.6,-2.4 29.1,-2.2 29.6,-1.8 30.1,-2.5 30.6,-2.4 31.1,-2.6 31.6,-2.3 32.1,-2.0 32.6,-1.9 33.1,-2.3 33.6,-1.8 34.1,-2.5 34.7,-2.5 35.2,-2.8 35.7,-1.9 36.2,-2.4 36.7,-2.4 37.2,-2.5 37.7,-2.3 38.2,-1.7 38.7,-3.1 39.2,-3.1 39.7,-2.0 40.2,-3.2 40.7,-2.8 41.2,-1.9 41.7,-2.9 42.2,-2.4 42.7,-2.5 43.2,-2.1 43.7,-3.3 44.2,-3.1 44.7,-2.4 45.2,-3.0 45.7,-2.8 46.2,-3.8 46.7,-2.5 47.2,-3.3 47.7,-3.6 48.2,-3.8 48.7,-2.7 49.2,-3.9 49.7,-2.6 50.3,-2.6 50.8,-3.6 51.3,-4.2 51.8,-3.3 52.3,-2.8 52.8,-2.7 53.3,-3.4 53.8,-4.4 54.3,-4.0 54.8,-3.7 55.3,-3.8 55.8,-3.2 56.3,-3.3 56.8,-3.4 57.3,-4.5 57.8,-4.4 58.3,-3.0 58.8,-4.3 59.3,-5.3 59.8,-3.2 60.3,-3.4 60.8,-5.5 61.3,-4.4 61.8,-5.5 62.3,-5.4 62.8,-4.5 63.3,-6.0 63.8,-4.1 64.3,-4.3 64.8,-4.1 65.3,-5.8 65.9,-3.9 66.4,-5.1 66.9,-6.2 67.4,-6.1 67.9,-4.9 68.4,-4.5 68.9,-6.8 69.4,-7.0 69.9,-6.4 70.4,-6.4 70.9,-4.7 71.4,-5.7 71.9,-5.5 72.4,-6.5 72.9,-5.7 73.4,-7.1 73.9,-6.6 74.4,-8.8 74.9,-6.0 75.4,-5.1 75.9,-5.7 76.4,-5.9 76.9,-8.2 77.4,-7.7 77.9,-7.9 77.9,0"/>
<path d="M0 0m15.0 .0v-41.9m7.5 41.9v-41.9m6.0 41.9v-41.9m4.0 41.9v-36.1m3.5 36.1v-41.9m3.0 41.9v-41.9m4.5 41.9v-41.9m4.5 41.9v-41.9m2.5 41.9v-41.9m2.5 41.9v-41.9m3.0 41.9v-41.9m2.5 41.9v-22.2m2.0 22.2v-41.9m5.0 41.9v-21.8m2.0 21.8v-17.5m2.0 17.5v-17.6m2.0 17.6v-41.9m2.0 41.9v-41.9m2.0 41.9v-41.9m2.0 41.9v-25.4"/>
<path d="M0 0m18.0 .0v-41.9m5.5 41.9v-5.3m6.5 5.3v-8.8m3.0 8.8v-41.9m3.5 41.9v-23.2m5.0 23.2v-41.9m3.5 41.9v-41.9m3.5 41.9v-18.9m2.5 18.9v-14.7m3.0 14.7v-29.8m2.5 29.8v-41.9m2.5 41.9v-41.9m3.0 41.9v-20.2m4.0 20.2v-40.1m2.0 40.1v-41.9m2.0 41.9v-41.9m2.0 41.9v-41.9m2.0 41.9v-41.9m2.0 41.9v-41.9"/>
<path d="M0 0m20.1 .0v-24.2m5.5 24.2v-15.2m5.5 15.2v-41.9m3.0 41.9v-23.0m3.5 23.0v-36.7m4.5 36.7v-41.9m4.0 41.9v-41.9m3.0 41.9v-25.6m2.5 25.6v-41.9m3.0 41.9v-30.5m2.5 30.5v-32.7m2.5 32.7v-29.1m3.0 29.1v-20.4m4.0 20.4v-41.9m2.0 41.9v-40.5m2.0 40.5v-41.9m2.0 41.9v-41.9m2.0 41.9v-41.9m2.0 41.9v-41.9"/>
<path d="M0 0m22.1 .0v-12.8m5.5 12.8v-41.9m4.5 41.9v-41.9m3.0 41.9v-5.8m3.0 5.8v-14.0m4.5 14.0v-41.9m4.0 41.9v-41.9m3.0 41.9v-27.7m3.0 27.7v-24.3m3.0 24.3v-35.5m2.0 35.5v-41.9m2.5 41.9v-34.2m4.5 34.2v-41.9m2.5 41.9v-41.9m2.0 41.9v-41.9m2.0 41.9v-21.8m2.0 21.8v-41.9m2.0 41.9v-22.3m2.0 22.3v-41.9"/>
<polygon class="fl" fill-opacity="0.5" points="2.4,0 2.4,0.0 3.0,-0.0 3.5,-0.0 4.0,-0.0 4.5,-0.0 5.0,-0.0 5.5,-0.0 6.0,-0.0 6.5,-0.0 7.0,-0.0 7.5,-0.0 8.0,-0.0 8.5,-0.0 9.0,-0.0 9.5,-0.0 10.0,-0.0 10.5,-0.0 11.0,-0.0 11.5,-0.0 12.0,-0.0 12.5,-0.0 13.0,-0.0 13.5,-0.0 14.0,-0.0 14.5,-0.0 15.0,-0.0 15.5,-0.0 16.0,-0.0 16.5,-0.0 17.0,-0.0 17.5,-0.0 18.0,-0.0 18.6,-0.0 19.1,-0.0 19.6,-0.0 20.1,-0.0 20.6,-0.0 21.1,-0.0 21.6,-0.0 22.1,-0.0 22.6,-0.0 23.1,-0.0 23.6,-0.0 24.1,-0.0 24.6,-0.0 25.1,-0.0 25.6,-0.0 26.1,-0.0 26.6,-0.0 27.1,-0.0 27.6,-0.0 28.1,-0.0 28.6,-0.0 29.1,-0.0 29.6,-0.0 30.1,-0.0 30.6,-0.0 31.1,-0.0 31.6,-0.0 32.1,-0.0 32.6,-0.0 33.1,-0.0 33.6,-0.0 34.1,-0.0 34.7,-0.0 35.2,-0.0 35.7,-0.0 36.2,-0.0 36.7,-0.0 37.2,-0.0 37.7,-0.0 38.2,-0.0 38.7,-0.0 39.2,-0.0 39.7,-0.0 40.2,-0.0 40.7,-0.2 41.2,-0.6 41.7,-0.5 42.2,-1.2 42.7,-1.7 43.2,-1.4 43.7,-1.8 44.2,-2.0 44.7,-1.9 45.2,-1.4 45.7,-2.1 46.2,-2.0 46.7,-1.5 47.2,-2.2 47.7,-2.4 48.2,-1.9 48.7,-1.4 49.2,-1.8 49.7,-1.9 50.3,-2.3 50.8,-1.7 51.3,-1.5 51.8,-1.5 52.3,-2.1 52.8,-1.6 53.3,-1.8 53.8,-2.1 54.3,-2.1 54.8,-1.5 55.3,-1.9 55.8,-1.8 56.3,-2.2 56.8,-2.2 57.3,-2.4 57.8,-2.5 58.3,-1.5 58.8,-1.5 59.3,-2.5 59.8,-1.9 60.3,-1.6 60.8,-2.3 61.3,-2.0 61.8,-2.6 62.3,-2.5 62.8,-1.5 63.3,-1.4 63.8,-2.2 64.3,-2.6 64.8,-2.7 65.3,-2.3 65.9,-1.5 66.4,-2.3 66.9,-1.5 67.4,-1.8 67.9,-2.4 68.4,-2.1 68.9,-2.2 69.4,-2.1 69.9,-1.6 70.4,-2.5 70.9,-2.3 71.4,-2.4 71.9,-1.6 72.4,-1.9 72.9,-1.5 73.4,-1.5 73.9,-2.3 74.4,-2.7 74.9,-1.9 75.4,-2.4 75.9,-2.6 76.4,-3.0 76.9,-2.9 77.4,-2.4 77.9,-2.0 78.5,0"/>
</g>
<rect x="101.60" y="708.90" width="81.60" height="41.90" fill="none" stroke="#555" stroke-width="0.7"/>
<text x="100.4" y="710.6" class="lt">1.00</text>
<text x="100.4" y="721.1" class="lt">0.75</text>
<text x="100.4" y="731.5" class="lt">0.50</text>
<text x="100.4" y="742.0" class="lt">0.25</text>
<text x="100.4" y="752.5" class="lt">0.00</text>
<text x="184.1" y="710.6" class="rt">20</text>
<text x="184.1" y="721.1" class="rt">15</text>
<text x="184.1" y="731.5" class="rt">10</text>
<text x="184.1" y="742.0" class="rt">5</text>
<text x="184.1" y="752.5" class="rt">0</text>
<text transform="translate(89.6,729.8) rotate(-90)" class="yl"><tspan class="it">β</tspan>: Average thermal value</text>
<text transform="translate(194.7,729.8) rotate(-90)" class="yl"><tspan class="it">T</tspan>: Unique threshold</text>
<text transform="translate(104.4,755.2) rotate(-45)" class="xt">0</text>
<text transform="translate(119.2,755.2) rotate(-45)" class="xt">200</text>
<text transform="translate(133.9,755.2) rotate(-45)" class="xt">400</text>
<text transform="translate(148.6,755.2) rotate(-45)" class="xt">600</text>
<text transform="translate(163.3,755.2) rotate(-45)" class="xt">800</text>
<text x="142.4" y="766.8" class="xl">Street number</text>
<linearGradient id="w91"><stop offset="0.000" stop-color="#00f" stop-opacity="0.00"/><stop offset="0.680" stop-color="#00f" stop-opacity="0.00"/><stop offset="0.690" stop-color="#00f" stop-opacity="0.09"/><stop offset="0.730" stop-color="#00f" stop-opacity="0.15"/><stop offset="0.840" stop-color="#00f" stop-opacity="0.22"/></linearGradient>
<polyline points="218.7,722.3 219.3,722.3 219.4,722.3 219.4,722.5 219.5,722.8 219.5,723.2 219.6,723.6 219.6,723.9 219.7,724.3 219.7,724.6 219.8,725.0 219.9,725.3 219.9,725.7 220.0,726.1 220.1,726.4 220.2,726.8 220.3,727.1 220.3,727.5 220.4,727.9 220.6,728.2 220.7,728.6 220.8,728.9 220.9,729.3 221.1,729.7 221.2,730.0 221.4,730.4 221.5,730.7 221.7,731.1 221.9,731.4 222.1,731.8 222.3,732.2 222.5,732.5 222.8,732.9 223.0,733.2 223.3,733.6 223.6,734.0 223.9,734.3 224.2,734.7 224.5,735.0 224.9,735.4 225.3,735.7 225.7,736.1 226.1,736.5 226.6,736.8 227.1,737.2 227.6,737.5 228.2,737.9 228.8,738.3 229.4,738.6 230.1,739.0 230.8,739.3 231.6,739.7 232.4,740.0 233.2,740.4 234.1,740.8 235.1,741.1 236.1,741.5 237.2,741.8 238.4,742.2 239.6,742.6 240.9,742.9 242.3,743.3 243.8,743.6 245.4,744.0 247.1,744.4 248.9,744.7 250.8,745.1 252.8,745.4 255.0,745.8 257.2,746.1 259.7,746.5 262.2,746.9 265.0,747.2 267.9,747.6 271.0,747.9 274.3,748.3 277.8,748.7 281.5,749.0 285.5,749.4 289.7,749.7 294.1,750.1" class="gc"/>
<g transform="translate(216.30,750.80)" class="d">
<rect x="2.4" y="-41.9" width="75.4" height="41.9" fill="url(#w91)"/>
<polygon fill-opacity="1" points="2.4,0 2.4,-1.9 2.9,-2.0 3.5,-2.0 4.0,-2.1 4.5,-2.3 5.0,-2.5 5.5,-2.2 6.0,-2.3 6.5,-2.0 7.0,-1.9 7.5,-2.3 8.0,-2.5 8.5,-2.0 9.0,-2.1 9.5,-1.5 10.0,-2.4 10.5,-2.1 11.0,-2.1 11.5,-1.6 12.0,-2.1 12.5,-2.1 13.0,-1.6 13.5,-1.9 14.0,-2.2 14.5,-2.3 15.0,-2.2 15.5,-2.2 16.0,-2.5 16.5,-2.3 17.0,-1.5 17.5,-1.8 18.0,-1.4 18.5,-2.4 19.0,-2.2 19.5,-1.6 20.0,-1.6 20.5,-1.6 21.0,-2.1 21.5,-1.9 22.0,-1.4 22.5,-2.1 23.1,-1.7 23.6,-1.7 24.1,-2.5 24.6,-2.4 25.1,-2.4 25.6,-2.4 26.1,-2.0 26.6,-1.4 27.1,-1.8 27.6,-2.1 28.1,-2.5 28.6,-1.8 29.1,-1.5 29.6,-2.5 30.1,-2.2 30.6,-2.3 31.1,-1.9 31.6,-1.7 32.1,-1.8 32.6,-1.5 33.1,-1.8 33.6,-2.0 34.1,-2.5 34.6,-2.5 35.1,-2.0 35.6,-1.7 36.1,-2.6 36.6,-1.4 37.1,-1.5 37.6,-2.2 38.1,-2.2 38.6,-2.6 39.1,-2.3 39.6,-2.4 40.1,-2.5 40.6,-2.6 41.1,-2.5 41.6,-2.1 42.1,-2.3 42.7,-2.4 43.2,-1.5 43.7,-2.1 44.2,-2.1 44.7,-2.7 45.2,-1.9 45.7,-3.0 46.2,-2.2 46.7,-2.6 47.2,-2.9 47.7,-2.6 48.2,-3.4 48.7,-3.6 49.2,-4.1 49.7,-3.1 50.2,-4.2 50.7,-3.7 51.2,-4.2 51.7,-3.0 52.2,-3.8 52.7,-4.8 53.2,-4.7 53.7,-3.7 54.2,-5.0 54.7,-5.7 55.2,-6.2 55.7,-3.9 56.2,-4.2 56.7,-5.1 57.2,-4.2 57.7,-7.5 58.2,-7.5 58.7,-7.7 59.2,-7.1 59.7,-6.4 60.2,-7.4 60.7,-6.0 61.2,-9.9 61.7,-7.2 62.3,-10.4 62.8,-8.6 63.3,-7.9 63.8,-9.5 64.3,-9.4 64.8,-14.2 65.3,-8.7 65.8,-11.5 66.3,-12.7 66.8,-14.0 67.3,-10.4 67.8,-18.0 68.3,-14.7 68.8,-18.0 69.3,-14.8 69.8,-15.7 70.3,-16.7 70.8,-17.8 71.3,-25.3 71.8,-17.6 72.3,-15.8 72.8,-29.0 73.3,-19.1 73.8,-29.2 74.3,-25.8 74.8,-28.8 75.3,-22.9 75.8,-23.5 76.3,-28.3 76.8,-23.4 77.3,-23.6 77.8,-18.5 77.8,0"/>
<path class="ex" d="M16.8 0v-41.9M25.8 0v-10.5M28.8 0v-10.5M36.4 0v-27.2M39.4 0v-27.2M47.7 0v-20.9M51.4 0v-41.9"/>
<path d="M0 0m56.0 .0v-41.9m2.5 41.9v-41.9m1.8 41.9v-13.3m3.0 13.3v-28.5m3.5 28.5v-41.9m1.5 41.9v-39.3m2.0 39.3v-40.5m1.5 40.5v-35.3m1.8 35.3v-41.9m2.0 41.9v-41.9m1.8 41.9v-37.5"/>
<path d="M0 0m56.8 .0v-41.9m2.0 41.9v-39.0m2.0 39.0v-41.9m4.3 41.9v-22.8m2.3 22.8v-41.9m1.5 41.9v-40.0m1.8 40.0v-41.9m1.8 41.9v-41.9m1.5 41.9v-34.6m2.0 34.6v-41.0m1.8 41.0v-36.8"/>
<path d="M0 0m57.3 .0v-9.4m2.0 9.4v-41.9m1.8 41.9v-31.4m4.3 31.4v-29.6m2.5 29.6v-41.9m1.3 41.9v-41.9m2.3 41.9v-41.9m1.8 41.9v-41.9m1.5 41.9v-41.9m1.8 41.9v-41.7m1.5 41.7v-36.3"/>
<path d="M0 0m57.8 .0v-41.9m2.3 41.9v-19.9m2.0 19.9v-31.7m4.5 31.7v-41.9m1.5 41.9v-41.9m2.0 41.9v-41.9m1.5 41.9v-41.9m1.8 41.9v-36.2m1.8 36.2v-41.9m2.0 41.9v-41.9"/>
</g>
<rect x="216.30" y="708.90" width="81.50" height="41.90" fill="none" stroke="#555" stroke-width="0.7"/>
<text x="215.1" y="710.6" class="lt">1.00</text>
<text x="215.1" y="721.1" class="lt">0.75</text>
<text x="215.1" y="731.5" class="lt">0.50</text>
<text x="215.1" y="742.0" class="lt">0.25</text>
<text x="215.1" y="752.5" class="lt">0.00</text>
<text x="298.7" y="710.6" class="rt">20</text>
<text x="298.7" y="721.1" class="rt">15</text>
<text x="298.7" y="731.5" class="rt">10</text>
<text x="298.7" y="742.0" class="rt">5</text>
<text x="298.7" y="752.5" class="rt">0</text>
<text transform="translate(204.3,729.8) rotate(-90)" class="yl"><tspan class="it">β</tspan>: Average thermal value</text>
<text transform="translate(309.3,729.8) rotate(-90)" class="yl"><tspan class="it">T</tspan>: Unique threshold</text>
<text transform="translate(219.1,755.2) rotate(-45)" class="xt">0</text>
<text transform="translate(228.2,755.2) rotate(-45)" class="xt">200</text>
<text transform="translate(237.2,755.2) rotate(-45)" class="xt">400</text>
<text transform="translate(246.3,755.2) rotate(-45)" class="xt">600</text>
<text transform="translate(255.3,755.2) rotate(-45)" class="xt">800</text>
<text transform="translate(264.4,755.2) rotate(-45)" class="xt">1000</text>
<text transform="translate(273.4,755.2) rotate(-45)" class="xt">1200</text>
<text transform="translate(282.5,755.2) rotate(-45)" class="xt">1400</text>
<text transform="translate(291.5,755.2) rotate(-45)" class="xt">1600</text>
<text x="257.1" y="766.8" class="xl">Street number</text>
<linearGradient id="w92"><stop offset="0.000" stop-color="#00f" stop-opacity="0.00"/><stop offset="0.630" stop-color="#00f" stop-opacity="0.00"/><stop offset="0.640" stop-color="#00f" stop-opacity="0.09"/><stop offset="0.650" stop-color="#00f" stop-opacity="0.12"/><stop offset="0.760" stop-color="#00f" stop-opacity="0.17"/><stop offset="0.850" stop-color="#00f" stop-opacity="0.22"/></linearGradient>
<polyline points="334.6,727.8 335.2,727.8 335.2,727.8 335.2,727.8 335.3,727.8 335.3,727.8 335.4,727.8 335.4,727.8 335.5,727.8 335.5,727.9 335.6,728.2 335.7,728.5 335.7,728.7 335.8,729.0 335.9,729.3 336.0,729.6 336.1,729.9 336.2,730.2 336.3,730.5 336.4,730.8 336.5,731.1 336.6,731.4 336.7,731.7 336.9,732.0 337.0,732.3 337.2,732.6 337.4,732.9 337.5,733.2 337.7,733.5 337.9,733.8 338.1,734.1 338.3,734.4 338.6,734.7 338.8,735.0 339.1,735.3 339.4,735.6 339.7,735.9 340.0,736.2 340.4,736.5 340.7,736.8 341.1,737.1 341.5,737.4 342.0,737.7 342.5,738.0 342.9,738.3 343.5,738.6 344.0,738.9 344.6,739.2 345.3,739.5 345.9,739.8 346.7,740.1 347.4,740.4 348.2,740.7 349.1,741.0 350.0,741.3 351.0,741.6 352.0,741.9 353.1,742.2 354.3,742.5 355.5,742.8 356.9,743.1 358.3,743.4 359.8,743.7 361.4,744.0 363.0,744.3 364.8,744.6 366.8,744.9 368.8,745.2 370.9,745.5 373.2,745.8 375.7,746.1 378.3,746.4 381.0,746.7 383.9,747.0 387.1,747.3 390.4,747.6 393.9,747.9 397.6,748.2 401.6,748.5 405.8,748.8 410.3,749.1" class="gc"/>
<g transform="translate(332.10,750.80)" class="d">
<rect x="2.5" y="-41.9" width="75.8" height="41.9" fill="url(#w92)"/>
<polygon fill-opacity="1" points="2.5,0 2.5,-2.4 3.0,-2.0 3.5,-2.0 4.0,-1.8 4.5,-1.5 5.0,-1.8 5.5,-1.6 6.0,-1.5 6.5,-1.6 7.0,-1.4 7.5,-2.0 8.0,-1.5 8.5,-2.1 9.0,-1.8 9.5,-2.4 10.0,-2.1 10.5,-2.3 11.0,-2.1 11.5,-2.2 12.0,-2.5 12.5,-2.5 13.0,-1.6 13.5,-1.7 14.0,-1.7 14.5,-1.6 15.0,-2.3 15.5,-2.4 16.0,-1.5 16.5,-1.6 17.0,-2.4 17.5,-1.5 18.0,-1.5 18.5,-2.4 19.0,-1.7 19.5,-1.4 20.0,-2.0 20.5,-1.6 21.0,-1.8 21.5,-1.8 22.0,-2.3 22.5,-2.5 23.0,-2.5 23.5,-2.0 24.0,-2.5 24.5,-2.2 25.0,-2.0 25.5,-2.1 26.0,-2.1 26.5,-2.4 27.0,-1.7 27.5,-2.4 28.0,-2.4 28.5,-2.1 29.0,-2.0 29.5,-1.7 30.1,-2.5 30.6,-1.9 31.1,-1.5 31.6,-2.5 32.1,-2.1 32.6,-1.9 33.1,-1.4 33.6,-1.9 34.1,-2.5 34.6,-2.5 35.1,-1.5 35.6,-1.7 36.1,-2.5 36.6,-2.2 37.1,-2.0 37.6,-1.6 38.1,-2.1 38.6,-1.5 39.1,-1.5 39.6,-2.3 40.1,-1.5 40.6,-2.6 41.1,-1.7 41.6,-1.5 42.1,-1.9 42.6,-1.8 43.1,-2.6 43.6,-2.0 44.1,-1.9 44.6,-2.1 45.1,-1.8 45.6,-1.5 46.1,-1.5 46.6,-2.3 47.1,-2.1 47.6,-1.5 48.1,-2.8 48.6,-2.3 49.1,-2.3 49.6,-2.2 50.1,-3.2 50.6,-2.4 51.1,-2.0 51.6,-3.5 52.1,-3.1 52.6,-3.8 53.1,-2.8 53.6,-4.2 54.1,-2.4 54.6,-3.0 55.1,-2.8 55.6,-3.6 56.1,-4.8 56.6,-4.3 57.1,-4.7 57.6,-5.4 58.1,-4.4 58.6,-7.3 59.1,-4.8 59.7,-6.1 60.2,-7.5 60.7,-8.1 61.2,-5.8 61.7,-7.6 62.2,-8.2 62.7,-8.5 63.2,-7.7 63.7,-11.2 64.2,-10.6 64.7,-10.6 65.2,-13.3 65.7,-12.1 66.2,-13.3 66.7,-13.5 67.2,-17.4 67.7,-13.4 68.2,-11.8 68.7,-15.8 69.2,-16.6 69.7,-13.9 70.2,-21.0 70.7,-21.0 71.2,-17.7 71.7,-23.1 72.2,-18.7 72.7,-26.0 73.2,-20.3 73.7,-26.9 74.2,-20.6 74.7,-29.3 75.2,-29.9 75.7,-18.2 76.2,-30.4 76.7,-19.2 77.2,-30.6 77.7,-30.1 78.2,-20.1 78.2,0"/>
<path class="ex" d="M3.2 0v-41.9M32.0 0v-41.9M33.5 0v-41.9M44.1 0v-41.9"/>
<path d="M0 0m52.0 .0v-41.9m8.5 41.9v-10.1m2.3 10.1v-41.9m1.5 41.9v-35.9m1.3 35.9v-41.9m1.0 41.9v-41.9m1.8 41.9v-41.6m2.5 41.6v-41.9m1.3 41.9v-41.9m2.0 41.9v-41.9m3.0 41.9v-39.4"/>
<path d="M0 0m56.0 .0v-10.7m4.8 10.7v-10.5m2.3 10.5v-19.2m1.5 19.2v-41.9m1.3 41.9v-37.3m1.0 37.3v-33.6m2.3 33.6v-29.4m2.0 29.4v-41.9m1.3 41.9v-41.9m2.3 41.9v-34.1m2.8 34.1v-41.9"/>
<path d="M0 0m57.2 .0v-41.6m5.0 41.6v-41.9m1.0 41.9v-41.9m1.5 41.9v-40.6m1.3 40.6v-41.9m1.0 41.9v-41.9m2.3 41.9v-41.9m2.0 41.9v-41.9m1.8 41.9v-41.4m2.3 41.4v-37.5m2.5 37.5v-34.0"/>
<path d="M0 0m57.5 .0v-41.9m5.0 41.9v-19.7m1.5 19.7v-41.9m1.0 41.9v-41.9m1.3 41.9v-27.4m1.5 27.4v-26.7m2.8 26.7v-41.9m1.3 41.9v-41.9m1.5 41.9v-41.9m3.0 41.9v-38.0m2.0 38.0v-41.9"/>
</g>
<rect x="332.10" y="708.90" width="81.90" height="41.90" fill="none" stroke="#555" stroke-width="0.7"/>
<text x="330.9" y="710.6" class="lt">1.00</text>
<text x="330.9" y="721.1" class="lt">0.75</text>
<text x="330.9" y="731.5" class="lt">0.50</text>
<text x="330.9" y="742.0" class="lt">0.25</text>
<text x="330.9" y="752.5" class="lt">0.00</text>
<text x="414.9" y="710.6" class="rt">20</text>
<text x="414.9" y="721.1" class="rt">15</text>
<text x="414.9" y="731.5" class="rt">10</text>
<text x="414.9" y="742.0" class="rt">5</text>
<text x="414.9" y="752.5" class="rt">0</text>
<text transform="translate(320.1,729.8) rotate(-90)" class="yl"><tspan class="it">β</tspan>: Average thermal value</text>
<text transform="translate(425.5,729.8) rotate(-90)" class="yl"><tspan class="it">T</tspan>: Unique threshold</text>
<text transform="translate(335.0,755.2) rotate(-45)" class="xt">0</text>
<text transform="translate(342.9,755.2) rotate(-45)" class="xt">200</text>
<text transform="translate(350.9,755.2) rotate(-45)" class="xt">400</text>
<text transform="translate(358.8,755.2) rotate(-45)" class="xt">600</text>
<text transform="translate(366.8,755.2) rotate(-45)" class="xt">800</text>
<text transform="translate(374.7,755.2) rotate(-45)" class="xt">1000</text>
<text transform="translate(382.7,755.2) rotate(-45)" class="xt">1200</text>
<text transform="translate(390.6,755.2) rotate(-45)" class="xt">1400</text>
<text transform="translate(398.6,755.2) rotate(-45)" class="xt">1600</text>
<text x="373.1" y="766.8" class="xl">Street number</text>
<linearGradient id="w93"><stop offset="0.000" stop-color="#00f" stop-opacity="0.00"/><stop offset="0.620" stop-color="#00f" stop-opacity="0.00"/><stop offset="0.630" stop-color="#00f" stop-opacity="0.08"/><stop offset="0.670" stop-color="#00f" stop-opacity="0.12"/><stop offset="0.780" stop-color="#00f" stop-opacity="0.20"/></linearGradient>
<polyline points="447.1,719.8 447.7,720.3 447.7,720.7 447.7,721.0 447.8,721.4 447.8,721.8 447.9,722.2 447.9,722.5 448.0,722.9 448.0,723.3 448.1,723.7 448.2,724.0 448.2,724.4 448.3,724.8 448.4,725.2 448.5,725.5 448.6,725.9 448.7,726.3 448.8,726.7 448.9,727.0 449.0,727.4 449.1,727.8 449.3,728.2 449.4,728.5 449.5,728.9 449.7,729.3 449.9,729.6 450.0,730.0 450.2,730.4 450.4,730.8 450.6,731.1 450.9,731.5 451.1,731.9 451.3,732.3 451.6,732.6 451.9,733.0 452.2,733.4 452.5,733.8 452.9,734.1 453.2,734.5 453.6,734.9 454.1,735.3 454.5,735.6 455.0,736.0 455.5,736.4 456.0,736.8 456.6,737.1 457.2,737.5 457.8,737.9 458.5,738.2 459.2,738.6 459.9,739.0 460.8,739.4 461.6,739.7 462.5,740.1 463.5,740.5 464.6,740.9 465.7,741.2 466.8,741.6 468.1,742.0 469.4,742.4 470.8,742.7 472.3,743.1 473.9,743.5 475.6,743.9 477.4,744.2 479.3,744.6 481.3,745.0 483.5,745.3 485.8,745.7 488.2,746.1 490.8,746.5 493.6,746.8 496.5,747.2 499.6,747.6 502.9,748.0 506.5,748.3 510.2,748.7 514.2,749.1 518.4,749.5 522.9,749.8" class="gc"/>
<g transform="translate(444.60,750.80)" class="d">
<rect x="2.5" y="-41.9" width="75.9" height="41.9" fill="url(#w93)"/>
<polygon fill-opacity="1" points="2.5,0 2.5,-2.0 3.0,-1.5 3.5,-1.7 4.0,-1.9 4.5,-1.4 5.0,-2.0 5.5,-2.5 6.0,-1.9 6.5,-2.3 7.0,-2.5 7.5,-1.4 8.0,-1.4 8.5,-1.9 9.0,-2.5 9.5,-1.9 10.0,-2.3 10.5,-2.2 11.0,-1.4 11.5,-1.9 12.0,-2.1 12.5,-1.6 13.0,-1.5 13.5,-2.2 14.0,-1.7 14.5,-2.2 15.0,-1.7 15.5,-1.5 16.0,-1.8 16.5,-2.3 17.0,-1.8 17.5,-2.0 18.0,-2.3 18.5,-1.7 19.0,-2.4 19.5,-1.4 20.0,-1.9 20.5,-1.7 21.0,-1.6 21.5,-2.4 22.1,-1.6 22.6,-2.3 23.1,-1.9 23.6,-2.5 24.1,-2.4 24.6,-1.4 25.1,-2.5 25.6,-2.0 26.1,-2.2 26.6,-1.5 27.1,-2.2 27.6,-2.2 28.1,-2.5 28.6,-2.1 29.1,-1.4 29.6,-2.1 30.1,-2.1 30.6,-1.5 31.1,-2.3 31.6,-1.4 32.1,-2.1 32.6,-2.1 33.1,-2.5 33.6,-1.6 34.1,-1.6 34.6,-2.2 35.1,-1.9 35.6,-2.4 36.1,-1.6 36.6,-2.2 37.1,-1.6 37.6,-2.5 38.1,-1.8 38.6,-1.9 39.1,-2.0 39.6,-2.5 40.1,-2.4 40.6,-2.2 41.1,-1.8 41.6,-2.2 42.1,-2.5 42.6,-2.0 43.1,-1.6 43.7,-2.4 44.2,-2.7 44.7,-1.8 45.2,-1.5 45.7,-1.9 46.2,-1.7 46.7,-2.3 47.2,-2.1 47.7,-2.5 48.2,-1.8 48.7,-2.4 49.2,-2.5 49.7,-1.9 50.2,-2.6 50.7,-2.2 51.2,-2.0 51.7,-2.7 52.2,-2.7 52.7,-2.2 53.2,-3.7 53.7,-3.9 54.2,-2.7 54.7,-2.9 55.2,-2.7 55.7,-4.6 56.2,-4.6 56.7,-5.1 57.2,-4.6 57.7,-5.9 58.2,-5.7 58.7,-4.9 59.2,-5.3 59.7,-6.5 60.2,-6.4 60.7,-7.6 61.2,-7.1 61.7,-5.5 62.2,-9.1 62.7,-9.7 63.2,-11.4 63.7,-12.1 64.2,-12.8 64.7,-11.2 65.2,-9.0 65.8,-13.5 66.3,-17.3 66.8,-16.8 67.3,-18.9 67.8,-16.2 68.3,-16.6 68.8,-15.0 69.3,-21.3 69.8,-18.3 70.3,-24.2 70.8,-23.0 71.3,-23.1 71.8,-20.0 72.3,-18.3 72.8,-15.3 73.3,-24.8 73.8,-25.3 74.3,-19.2 74.8,-27.9 75.3,-18.9 75.8,-29.2 76.3,-23.5 76.8,-21.1 77.3,-18.7 77.8,-28.4 78.3,-23.8 78.3,0"/>
<path class="ex" d="M16.9 0v-12.6M29.0 0v-41.9M36.6 0v-41.9M39.6 0v-41.9M42.7 0v-41.9M48.7 0v-41.9M48.9 0v-41.9"/>
<path d="M0 0m53.5 .0v-15.3m3.5 15.3v-22.7m3.5 22.7v-41.9m1.0 41.9v-41.9m1.8 41.9v-20.6m1.5 20.6v-40.8m3.0 40.8v-41.9m3.0 41.9v-41.9m3.0 41.9v-31.0m1.3 31.0v-39.6m1.8 39.6v-41.9"/>
<path d="M0 0m54.0 .0v-39.9m4.5 39.9v-12.5m2.3 12.5v-36.2m1.3 36.2v-36.1m1.5 36.1v-28.7m1.5 28.7v-41.9m3.3 41.9v-33.7m4.0 33.7v-41.9m1.8 41.9v-37.5m1.3 37.5v-41.9m2.5 41.9v-41.9"/>
<path d="M0 0m54.5 .0v-41.9m4.5 41.9v-41.9m2.0 41.9v-32.8m1.3 32.8v-29.9m1.5 29.9v-41.9m2.5 41.9v-41.9m3.3 41.9v-32.4m3.0 32.4v-37.3m1.8 37.3v-37.8m1.3 37.8v-41.9m2.5 41.9v-41.9"/>
<path d="M0 0m55.5 .0v-37.9m4.3 37.9v-41.9m1.5 41.9v-41.9m1.8 41.9v-32.7m1.3 32.7v-25.9m3.0 25.9v-23.6m3.0 23.6v-38.1m2.8 38.1v-41.9m1.5 41.9v-38.7m2.0 38.7v-39.8m1.8 39.8v-41.9"/>
</g>
<rect x="444.60" y="708.90" width="82.00" height="41.90" fill="none" stroke="#555" stroke-width="0.7"/>
<text x="443.4" y="710.6" class="lt">1.00</text>
<text x="443.4" y="721.1" class="lt">0.75</text>
<text x="443.4" y="731.5" class="lt">0.50</text>
<text x="443.4" y="742.0" class="lt">0.25</text>
<text x="443.4" y="752.5" class="lt">0.00</text>
<text x="527.5" y="710.6" class="rt">20</text>
<text x="527.5" y="721.1" class="rt">15</text>
<text x="527.5" y="731.5" class="rt">10</text>
<text x="527.5" y="742.0" class="rt">5</text>
<text x="527.5" y="752.5" class="rt">0</text>
<text transform="translate(432.6,729.8) rotate(-90)" class="yl"><tspan class="it">β</tspan>: Average thermal value</text>
<text transform="translate(538.1,729.8) rotate(-90)" class="yl"><tspan class="it">T</tspan>: Unique threshold</text>
<text transform="translate(447.5,755.2) rotate(-45)" class="xt">0</text>
<text transform="translate(455.7,755.2) rotate(-45)" class="xt">200</text>
<text transform="translate(464.0,755.2) rotate(-45)" class="xt">400</text>
<text transform="translate(472.2,755.2) rotate(-45)" class="xt">600</text>
<text transform="translate(480.5,755.2) rotate(-45)" class="xt">800</text>
<text transform="translate(488.7,755.2) rotate(-45)" class="xt">1000</text>
<text transform="translate(497.0,755.2) rotate(-45)" class="xt">1200</text>
<text transform="translate(505.2,755.2) rotate(-45)" class="xt">1400</text>
<text transform="translate(513.4,755.2) rotate(-45)" class="xt">1600</text>
<text x="485.6" y="766.8" class="xl">Street number</text>
</svg>
</body></html>
